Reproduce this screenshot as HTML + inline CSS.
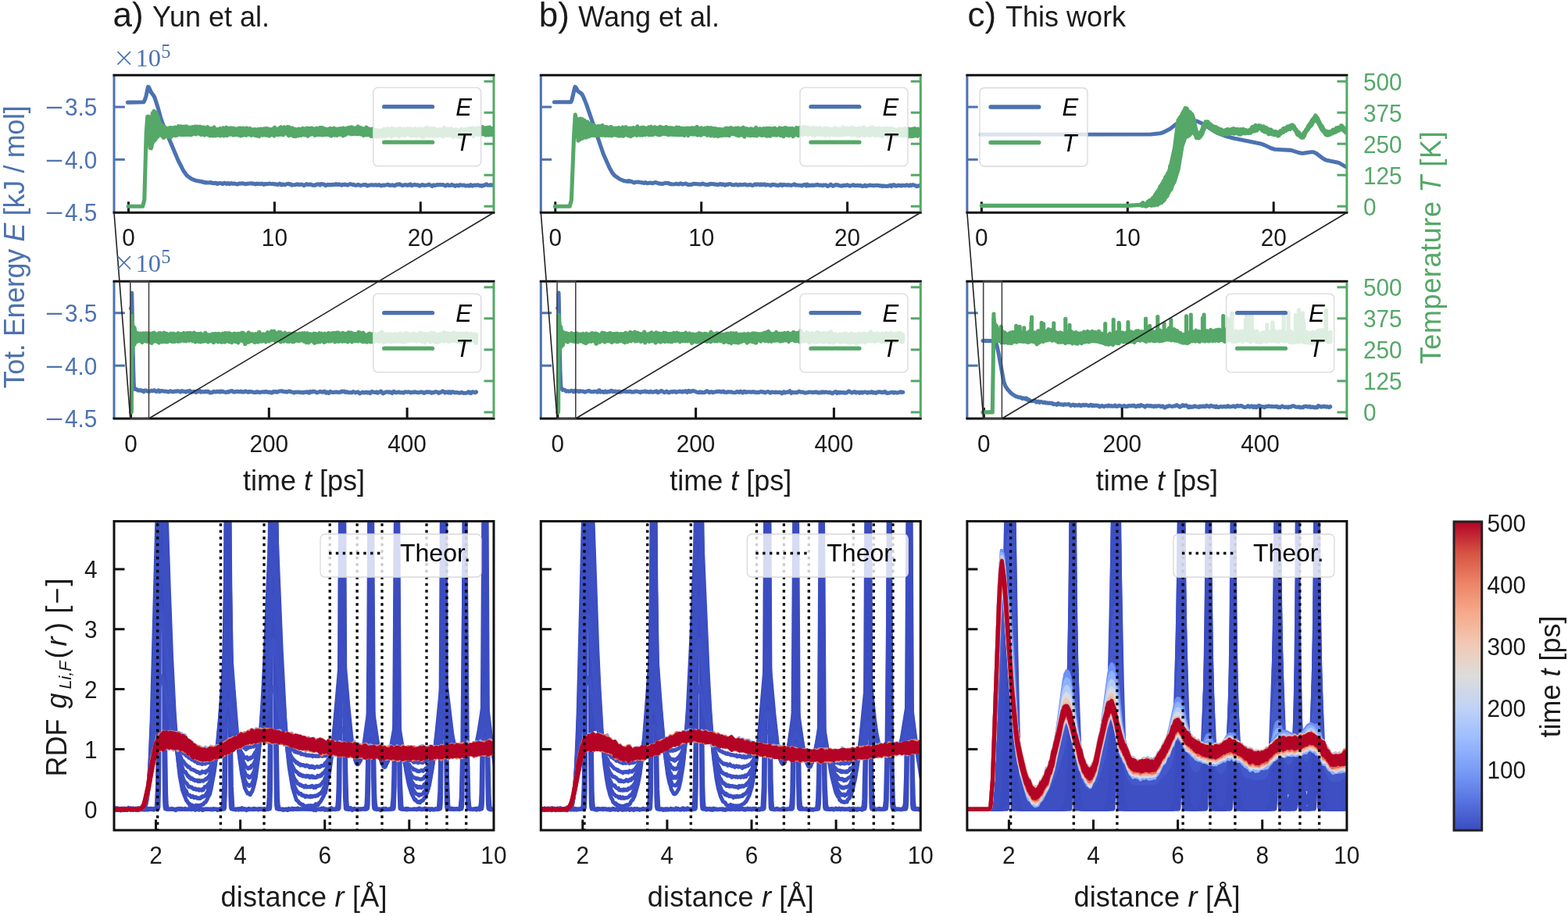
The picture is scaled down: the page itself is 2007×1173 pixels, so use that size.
<!DOCTYPE html><html><head><meta charset="utf-8"><style>html,body{margin:0;padding:0;background:#fff;overflow:hidden}svg{display:block}text{font-family:"Liberation Sans", Arial, sans-serif}</style></head><body>
<svg width="2007" height="1173" viewBox="0 0 2007 1173">
<rect width="100%" height="100%" fill="#fff"/>
<defs>
<clipPath id="cp00"><rect x="146" y="96.2" width="486" height="176.1"/></clipPath>
<clipPath id="cp10"><rect x="146" y="360.2" width="486" height="175.8"/></clipPath>
<clipPath id="cp20"><rect x="146" y="667.5" width="486" height="395.6"/></clipPath>
<clipPath id="cp01"><rect x="692.3" y="96.2" width="486" height="176.1"/></clipPath>
<clipPath id="cp11"><rect x="692.3" y="360.2" width="486" height="175.8"/></clipPath>
<clipPath id="cp21"><rect x="692.3" y="667.5" width="486" height="395.6"/></clipPath>
<clipPath id="cp02"><rect x="1237.9" y="96.2" width="486" height="176.1"/></clipPath>
<clipPath id="cp12"><rect x="1237.9" y="360.2" width="486" height="175.8"/></clipPath>
<clipPath id="cp22"><rect x="1237.9" y="667.5" width="486" height="395.6"/></clipPath>
</defs>
<polyline points="163.4,131.1 183.9,130.7 185.2,128.3 186.9,123.5 189.3,111.7 189.7,111.2 190.4,111.5 193.4,118.1 196.5,122.2 197.9,124.8 202.0,137.3 206.1,152.4 208.5,159.0 228.3,206.0 234.7,218.4 239.2,224.7 244.6,228.8 249.8,230.9 255.9,232.3 258.0,232.4 259.3,233.3 260.7,233.0 262.1,233.9 263.4,233.6 266.5,234.0 269.9,233.6 271.6,234.5 273.0,234.3 274.4,234.8 276.1,234.1 278.1,235.5 279.5,234.7 281.9,234.5 285.3,235.5 287.0,234.2 290.1,235.4 291.8,234.5 293.8,235.7 295.9,234.6 297.2,235.1 300.6,235.1 302.4,235.7 304.4,235.9 305.8,235.0 307.1,235.3 309.9,234.7 313.6,235.6 321.5,234.8 323.2,235.3 324.6,235.1 326.6,236.0 328.3,235.0 329.3,235.4 332.4,235.2 334.1,235.7 335.5,235.1 337.9,236.4 339.6,235.4 341.3,235.8 345.4,235.1 347.1,235.6 348.5,235.4 356.0,236.4 358.0,235.1 360.4,236.9 361.8,235.9 364.8,236.7 366.6,235.8 369.3,235.2 370.7,236.1 372.0,235.8 373.7,237.1 375.1,236.7 377.5,236.8 380.9,235.8 382.9,236.6 384.7,236.1 387.0,236.3 389.1,237.6 392.2,235.6 394.2,236.4 398.0,236.0 399.7,237.2 401.7,237.0 403.1,237.4 404.5,236.5 407.5,235.8 408.2,235.9 409.6,237.0 410.9,235.7 411.6,235.5 413.7,236.1 415.0,236.0 416.7,237.6 419.5,236.3 421.2,236.9 422.6,236.6 424.3,236.9 426.0,236.2 427.7,236.8 430.1,235.6 431.8,236.7 433.8,235.8 437.2,237.2 438.6,236.4 440.3,236.5 441.3,236.0 444.7,237.1 448.5,235.5 451.2,236.7 452.6,236.3 454.0,237.1 456.4,237.3 458.4,236.4 461.5,237.6 465.9,236.5 468.3,236.6 470.0,237.9 471.4,237.2 473.1,237.2 475.5,236.6 477.2,237.1 480.6,236.7 482.7,237.2 485.0,236.6 488.1,237.9 490.8,237.0 492.2,237.4 496.7,236.2 498.4,237.4 501.8,236.9 503.5,237.1 504.8,237.9 508.3,236.0 509.6,236.4 511.3,235.7 512.7,236.7 515.1,237.5 519.5,236.6 520.9,237.4 522.3,236.8 523.6,237.1 525.3,236.0 527.0,237.7 530.5,236.3 532.2,237.0 534.6,236.8 536.6,237.9 537.6,238.0 539.3,237.0 541.0,236.6 543.4,237.5 547.9,236.8 549.2,236.1 553.0,238.4 555.0,236.8 556.8,237.5 558.1,237.3 559.5,236.5 561.5,236.9 562.9,236.5 564.9,236.8 567.0,236.5 570.1,238.1 572.8,236.5 574.5,237.4 576.6,237.5 578.3,236.4 579.6,237.2 581.3,237.4 582.7,238.3 584.8,237.1 587.1,237.9 588.9,236.5 590.6,237.3 594.0,237.1 596.0,238.0 599.4,237.5 600.8,238.2 602.5,236.7 604.6,238.1 606.3,237.3 608.0,237.1 609.3,237.4 611.7,236.8 613.1,237.6 615.1,237.6 616.5,238.3 617.9,237.3 619.6,237.4 622.7,235.9 624.4,237.3 626.4,237.3 627.8,236.7 629.8,237.3 631.9,236.7 634.6,237.9 636.7,237.1 637.7,238.1 638.7,238.4 640.4,236.4 641.1,236.1" fill="none" stroke="#4C72B0" stroke-width="5.1" stroke-linejoin="round" stroke-linecap="round" clip-path="url(#cp00)" />
<polyline points="709.5,130.8 730.7,130.8 732.0,127.9 735.5,112.7 736.1,111.2 737.2,112.0 739.6,116.6 744.3,119.8 746.4,123.4 750.5,133.4 772.3,197.2 780.2,215.0 783.6,221.1 786.7,224.9 793.5,229.5 799.3,231.8 804.1,232.4 804.5,231.5 805.1,231.5 806.5,232.4 808.6,232.4 811.6,234.0 813.7,233.2 817.4,233.0 820.9,233.9 822.2,233.8 824.6,234.5 826.3,233.6 828.4,234.8 832.1,234.0 835.5,234.8 837.3,233.9 839.3,233.6 844.4,235.2 846.1,235.0 847.5,235.6 851.9,234.3 854.0,234.7 855.4,234.3 857.4,235.7 858.4,235.5 860.1,236.0 863.9,235.8 865.6,235.2 867.0,235.8 868.7,235.9 871.1,234.8 873.5,236.1 878.2,235.1 880.6,236.6 885.8,236.1 887.8,235.2 897.4,236.1 899.4,235.0 901.8,236.1 904.2,236.3 905.6,236.8 906.6,236.1 908.0,236.3 909.3,235.3 911.4,235.8 913.1,235.5 915.5,236.3 916.8,236.1 918.2,236.8 922.3,235.5 924.0,236.5 925.7,235.8 928.1,237.2 930.2,236.1 931.5,236.4 933.2,235.6 935.3,235.8 936.7,236.6 939.7,237.0 942.1,236.0 944.5,237.1 946.6,236.4 950.3,236.8 953.7,236.1 955.4,237.0 958.5,236.9 960.2,236.3 963.0,237.5 964.0,237.3 966.4,235.8 968.1,236.6 969.8,235.9 971.2,236.1 972.5,236.9 973.9,235.8 975.9,236.7 978.3,235.9 980.0,237.1 981.4,236.5 985.5,237.1 986.5,237.7 987.9,236.6 989.9,236.2 992.3,236.7 993.4,237.3 994.7,237.1 996.1,237.7 999.5,236.2 1001.2,237.7 1003.3,236.4 1005.3,237.0 1006.7,236.8 1008.1,237.1 1009.4,236.6 1012.2,237.4 1015.6,236.6 1016.6,235.8 1018.3,237.1 1019.7,236.7 1021.0,237.3 1024.1,237.2 1026.5,238.0 1028.2,236.7 1030.3,236.4 1032.0,238.0 1033.3,236.1 1035.0,237.7 1036.7,237.2 1037.8,237.5 1039.1,237.1 1040.8,237.4 1044.9,236.9 1046.3,236.4 1048.0,237.2 1051.1,237.0 1052.8,237.8 1054.2,236.9 1055.5,237.1 1056.9,236.9 1059.0,238.3 1060.0,238.5 1063.4,236.2 1066.1,238.2 1069.9,236.6 1071.2,236.9 1072.3,236.7 1073.6,237.4 1077.7,238.2 1080.1,237.2 1082.5,237.6 1084.6,236.7 1087.3,238.0 1088.3,238.1 1092.4,236.7 1094.1,237.7 1097.6,237.2 1099.9,237.8 1101.3,237.3 1103.4,238.4 1105.4,238.3 1107.1,237.1 1108.8,238.4 1113.6,237.0 1115.0,237.5 1117.0,237.5 1118.4,237.9 1121.1,237.2 1125.2,237.5 1126.2,238.1 1127.6,237.7 1129.3,238.6 1130.7,237.9 1134.1,238.4 1137.5,238.1 1139.2,237.2 1140.9,238.7 1142.6,236.9 1143.3,236.7 1144.7,236.8 1146.1,238.0 1147.8,238.1 1149.5,237.1 1150.8,237.6 1152.6,237.4 1153.9,238.1 1155.3,237.2 1159.0,237.7 1160.7,236.8 1163.5,237.9 1164.8,236.9 1166.6,237.7 1168.3,236.6 1172.0,237.7 1173.7,238.7 1175.8,237.9 1177.8,237.8 1179.9,238.2 1181.6,237.2 1183.6,238.1 1186.0,237.6 1187.4,236.6" fill="none" stroke="#4C72B0" stroke-width="5.1" stroke-linejoin="round" stroke-linecap="round" clip-path="url(#cp01)" />
<polyline points="1255.3,172.2 1473.0,172.0 1485.0,170.7 1489.0,169.5 1497.7,164.9 1505.7,158.7 1512.1,156.0 1517.7,155.0 1528.8,154.5 1532.8,155.5 1540.8,159.2 1554.3,168.1 1558.3,170.4 1570.3,174.8 1579.9,177.3 1613.4,183.9 1617.4,185.3 1626.9,189.8 1631.7,191.3 1652.4,192.4 1662.8,195.6 1666.0,196.2 1669.2,196.1 1678.0,194.7 1681.2,194.8 1685.1,196.6 1693.1,202.7 1697.1,205.0 1713.9,208.6 1721.8,213.1 1733.0,217.8" fill="none" stroke="#4C72B0" stroke-width="5.1" stroke-linejoin="round" stroke-linecap="round" clip-path="url(#cp02)" />
<polyline points="167.4,394.9 168.4,394.7 168.4,394.0 168.7,375.0 170.6,471.5 171.3,492.8 171.8,496.1 172.7,498.4 174.7,498.5 176.6,500.0 177.8,499.7 179.7,500.1 180.3,499.7 181.6,500.5 182.8,500.4 184.0,501.6 185.3,500.1 185.9,500.0 187.2,500.1 188.4,500.9 190.9,501.3 194.0,500.1 195.3,500.6 197.8,499.7 199.7,501.4 200.9,500.9 201.5,501.1 202.8,499.9 203.4,500.0 204.7,501.5 205.9,500.7 207.2,500.5 210.9,501.3 212.8,501.0 214.0,501.6 215.9,501.9 217.8,500.7 219.7,501.5 222.2,501.6 223.4,501.0 225.9,501.1 227.2,500.6 229.7,501.3 230.9,502.0 232.8,500.5 234.0,501.1 236.5,501.4 237.8,502.1 239.7,500.8 241.5,501.4 242.8,500.3 245.3,502.2 249.0,501.2 250.9,502.5 252.1,501.4 254.6,501.2 255.9,500.6 257.1,502.2 259.0,501.5 261.5,501.9 263.4,501.1 264.6,501.8 265.9,501.0 269.0,503.0 272.1,502.4 273.4,501.3 275.3,501.9 277.1,501.7 277.8,501.1 279.6,501.8 280.9,501.1 282.1,502.1 283.4,501.0 284.0,501.5 285.9,501.4 287.1,502.1 289.6,502.5 291.5,501.5 292.8,502.1 294.0,501.0 297.1,500.6 298.4,501.9 299.6,501.7 300.9,501.9 301.5,501.3 303.4,501.5 304.6,501.1 306.5,501.8 308.4,501.0 309.6,502.0 310.9,501.8 312.1,502.1 314.0,500.9 315.9,501.4 317.1,502.2 317.7,502.3 319.0,501.3 320.2,501.9 320.9,501.6 322.7,501.7 324.6,502.5 327.1,502.5 328.4,501.5 329.6,502.3 330.9,501.9 332.7,502.6 335.9,501.7 338.4,502.1 340.2,501.2 342.1,502.2 343.4,502.0 344.6,502.4 345.9,502.1 346.5,502.8 347.7,503.1 348.4,503.0 350.2,501.3 351.5,501.9 352.7,501.3 354.6,502.4 357.1,501.0 359.6,500.7 360.9,501.0 361.5,500.8 362.7,501.5 364.0,501.7 365.8,501.4 367.1,502.1 370.2,500.8 373.3,502.0 375.2,502.2 376.5,503.0 378.3,502.0 380.2,502.3 381.5,502.0 382.1,502.3 384.0,502.0 385.2,502.8 386.5,502.2 388.3,502.9 390.2,502.0 391.5,502.2 393.3,501.8 394.0,502.0 395.2,503.1 395.8,503.1 397.1,501.4 399.0,502.1 400.2,501.1 401.5,501.6 402.7,501.3 405.8,503.0 409.6,501.3 412.7,502.2 414.0,501.9 415.2,501.0 415.8,501.2 417.1,503.1 417.7,503.1 419.0,502.2 420.8,503.4 422.7,501.4 425.2,502.4 427.1,502.5 428.3,502.0 429.6,502.3 430.8,501.9 433.9,502.6 435.2,501.9 436.4,502.3 437.7,501.0 438.3,501.0 438.9,501.4 440.8,501.1 442.1,502.4 442.7,502.4 443.9,501.7 446.4,502.8 448.9,502.5 450.2,502.8 452.1,501.5 455.2,503.0 456.4,502.2 458.3,501.9 460.8,503.9 463.9,502.1 465.8,502.9 467.1,502.5 467.7,502.7 468.9,502.1 470.8,503.1 472.1,502.3 473.9,503.5 475.8,501.4 479.6,502.5 480.8,502.5 482.1,501.9 483.3,503.2 485.8,502.2 487.1,501.0 487.7,501.0 490.2,503.9 491.4,503.1 492.7,502.9 493.3,502.3 495.8,501.7 497.7,502.4 498.9,501.8 502.0,503.5 503.9,501.2 504.5,501.3 505.8,502.6 506.4,502.8 507.7,502.8 510.2,501.9 512.0,502.8 514.5,502.5 516.4,503.1 518.3,501.7 521.4,502.3 522.7,501.7 525.8,502.9 527.7,502.3 529.5,502.4 530.8,501.7 534.5,502.7 536.4,502.6 537.7,502.1 540.8,502.1 542.7,503.4 545.8,501.9 550.8,502.1 552.0,503.3 552.6,503.3 553.9,502.6 555.1,502.6 557.6,501.6 560.1,502.3 561.4,503.5 562.6,502.6 563.3,502.8 565.1,501.9 566.4,500.9 568.3,501.7 569.5,503.0 571.4,501.8 573.9,502.9 575.1,501.6 577.0,503.2 578.3,501.9 580.1,501.7 581.4,502.8 584.5,502.5 588.3,503.3 590.8,502.3 592.6,503.2 596.4,503.4 598.3,502.9 599.5,501.7 600.1,501.7 601.4,503.2 602.6,503.7 604.5,501.7 608.3,502.7 609.5,502.0" fill="none" stroke="#4C72B0" stroke-width="5.1" stroke-linejoin="round" stroke-linecap="round" clip-path="url(#cp10)" />
<polyline points="713.7,394.6 714.7,394.6 715.0,374.9 715.3,382.8 717.0,474.7 717.8,494.4 718.3,496.5 719.7,498.8 720.4,499.3 721.0,499.0 722.9,499.5 724.7,501.1 726.6,500.7 728.5,501.3 731.0,500.3 732.2,500.3 734.1,501.8 736.0,500.2 737.8,501.0 739.1,500.6 741.0,501.5 741.6,501.5 742.8,500.6 746.0,501.4 746.6,501.0 748.5,502.1 753.5,500.4 756.6,501.7 759.7,501.6 760.3,501.2 763.5,501.3 764.7,502.2 765.3,501.9 766.6,499.7 767.2,499.7 768.5,502.0 771.0,501.4 772.2,502.3 772.8,502.4 774.7,501.0 776.0,502.2 776.6,502.3 778.5,501.3 780.3,501.8 782.2,500.3 782.8,500.3 783.5,500.4 784.7,501.7 786.6,501.1 787.8,501.5 788.5,501.2 790.3,502.1 790.9,502.0 792.2,501.2 793.4,502.2 799.7,500.8 800.9,501.6 802.2,501.3 805.3,501.5 806.6,501.1 809.1,502.2 810.3,501.8 811.6,502.0 813.4,501.1 815.9,501.2 817.2,501.8 818.4,501.9 819.7,502.7 820.9,501.6 822.8,501.8 825.9,500.9 827.2,502.0 829.1,501.6 830.9,502.3 832.8,501.1 834.1,502.1 835.9,502.2 837.2,501.6 838.4,501.8 840.3,500.8 841.6,502.4 842.2,502.7 843.4,501.7 844.7,501.5 846.6,500.4 850.3,502.7 853.4,501.0 855.3,502.5 856.5,502.9 858.4,501.6 860.9,502.1 862.2,501.2 864.0,501.2 865.3,502.5 867.2,501.5 868.4,501.7 869.7,501.0 871.5,501.4 872.8,502.2 874.0,501.0 875.3,501.7 877.2,500.7 879.7,502.4 880.9,500.4 881.5,500.3 883.4,501.8 884.7,500.8 885.3,500.7 885.9,501.2 887.2,500.4 893.4,502.6 894.7,502.5 895.9,501.8 897.2,502.6 898.4,502.0 900.3,502.8 902.2,502.4 903.4,501.3 905.3,500.7 907.8,502.6 908.4,502.7 909.7,501.7 910.9,501.6 912.8,502.8 914.6,501.9 918.4,501.2 919.6,501.5 920.9,501.1 922.8,502.1 925.9,501.0 927.1,502.4 928.4,502.0 930.3,502.4 932.1,501.6 934.0,502.1 935.3,501.8 937.8,502.5 941.5,502.7 943.4,501.4 945.9,502.5 947.8,501.1 950.3,502.9 950.9,503.0 952.1,501.4 952.8,501.4 953.4,501.3 954.6,502.4 955.3,502.4 957.1,501.7 958.4,502.1 960.3,501.8 961.5,502.3 963.4,501.6 964.6,502.2 965.9,501.9 967.8,502.8 969.0,502.2 970.9,502.6 974.0,501.5 975.9,502.1 977.7,501.9 979.6,502.9 980.9,502.0 983.4,501.6 985.9,503.2 987.1,502.3 988.4,502.0 990.9,502.5 992.1,502.1 995.9,502.5 997.1,502.2 999.6,502.5 1000.9,503.9 1003.4,501.6 1004.6,503.0 1007.1,502.1 1009.0,502.1 1010.9,500.7 1012.7,503.3 1014.6,502.1 1015.9,502.7 1018.4,502.5 1020.2,502.8 1022.7,501.1 1025.2,502.3 1027.7,501.9 1030.2,503.2 1034.0,502.6 1035.2,502.0 1039.0,502.2 1040.2,502.7 1042.1,502.1 1043.3,502.4 1044.6,501.8 1047.1,502.9 1049.0,503.0 1050.2,502.3 1052.1,502.8 1052.7,501.9 1053.3,501.9 1055.2,502.6 1056.5,501.9 1059.6,502.6 1062.7,502.4 1065.2,503.9 1067.1,502.6 1069.6,501.6 1071.5,503.5 1073.3,502.1 1074.6,503.1 1075.8,502.3 1077.1,502.8 1079.6,502.5 1080.8,503.2 1082.1,502.8 1083.3,503.2 1086.5,500.9 1090.2,503.0 1094.0,501.6 1095.8,502.9 1097.1,502.2 1098.9,502.2 1100.2,503.3 1100.8,503.2 1102.1,502.0 1103.9,503.1 1105.2,502.2 1107.1,501.9 1108.9,502.2 1110.2,503.1 1112.1,502.3 1114.6,502.7 1115.8,501.6 1117.7,503.1 1119.6,502.5 1121.4,503.4 1122.7,502.3 1123.9,501.8 1124.6,502.2 1125.8,501.7 1128.3,502.6 1129.6,502.1 1130.8,502.6 1132.7,501.4 1135.2,503.4 1135.8,503.5 1136.4,503.1 1138.3,503.2 1140.8,502.3 1142.7,502.3 1143.9,503.1 1145.8,502.4 1148.3,503.1 1153.3,501.7 1154.6,502.4 1155.8,502.3" fill="none" stroke="#4C72B0" stroke-width="5.1" stroke-linejoin="round" stroke-linecap="round" clip-path="url(#cp11)" />
<polyline points="1258.0,436.4 1272.0,436.6 1273.3,437.3 1275.2,440.0 1276.4,444.2 1278.4,453.7 1284.7,488.3 1286.6,493.9 1289.8,498.8 1294.9,504.2 1300.6,507.8 1301.9,507.8 1303.2,508.6 1305.1,509.0 1306.4,508.8 1308.3,510.4 1310.2,509.8 1312.1,510.9 1313.3,509.8 1314.0,510.1 1315.3,512.2 1315.9,512.4 1316.5,511.9 1317.2,511.9 1319.1,513.6 1322.9,513.5 1324.2,512.6 1326.7,515.1 1328.6,514.0 1329.3,514.0 1330.5,515.5 1332.4,514.3 1335.6,515.8 1336.9,515.1 1338.8,516.1 1340.7,515.8 1342.0,516.4 1343.3,516.0 1345.2,516.5 1346.4,516.1 1348.3,517.7 1350.2,517.2 1352.8,518.4 1354.1,516.7 1354.7,516.5 1356.0,517.6 1357.9,518.1 1359.2,517.8 1361.1,518.7 1363.0,517.5 1363.6,518.0 1365.5,518.0 1368.1,517.6 1370.6,519.4 1373.8,518.1 1375.7,519.5 1377.0,518.6 1379.5,519.3 1381.4,518.3 1382.7,519.4 1384.0,519.7 1385.9,518.4 1386.5,518.3 1387.8,519.2 1388.4,519.2 1389.7,518.3 1393.5,519.7 1394.8,519.3 1396.1,518.3 1396.7,518.5 1398.0,519.8 1399.2,518.8 1401.1,519.7 1403.1,518.9 1404.3,519.6 1405.6,519.4 1406.2,519.6 1407.5,520.9 1410.1,519.5 1413.2,520.7 1415.1,519.8 1417.0,519.8 1417.7,520.2 1419.0,519.1 1421.5,520.1 1422.8,519.6 1424.0,520.1 1426.0,520.2 1427.2,519.0 1429.1,520.5 1431.0,520.3 1432.3,519.3 1436.1,520.4 1439.3,519.5 1440.6,520.7 1441.9,520.2 1443.1,520.4 1445.0,519.5 1446.3,519.9 1448.9,519.4 1450.1,519.9 1451.4,519.1 1453.9,520.8 1454.6,520.8 1456.5,519.4 1458.4,520.3 1460.3,518.6 1462.2,519.6 1464.1,520.0 1465.4,521.1 1467.9,519.3 1471.1,519.9 1473.0,519.5 1474.3,520.3 1475.6,520.1 1476.9,520.8 1478.1,519.7 1480.7,520.5 1481.9,519.7 1484.5,519.7 1485.8,520.7 1488.3,519.9 1489.6,521.4 1490.8,522.1 1493.4,520.3 1494.7,520.4 1496.6,519.6 1500.4,520.6 1503.6,519.8 1504.2,519.9 1506.1,518.5 1509.9,521.2 1510.6,520.6 1512.5,520.2 1513.8,518.7 1515.7,519.8 1516.9,519.0 1518.2,519.1 1521.4,521.7 1522.7,520.4 1523.9,521.5 1525.2,520.9 1527.1,521.1 1529.0,519.9 1530.9,520.8 1532.2,520.7 1534.1,521.4 1534.7,521.4 1536.0,520.1 1537.3,520.9 1539.2,520.0 1540.5,520.7 1541.7,520.1 1543.0,520.8 1544.3,519.4 1548.1,520.9 1550.0,519.3 1553.2,520.6 1554.5,520.3 1555.7,521.4 1557.0,520.2 1558.3,521.4 1559.6,521.5 1562.1,520.6 1564.6,521.1 1567.2,520.5 1569.1,521.1 1571.6,519.6 1572.9,520.8 1573.6,520.9 1577.4,520.5 1578.6,519.9 1579.9,520.2 1581.2,521.1 1583.7,519.3 1585.6,520.2 1588.8,519.6 1592.0,521.2 1593.3,521.4 1595.8,520.9 1597.1,519.8 1597.7,519.8 1599.6,521.2 1602.2,519.9 1604.1,521.7 1606.0,520.1 1606.6,520.3 1607.9,521.8 1608.5,521.6 1609.8,520.1 1611.7,519.3 1613.6,520.8 1614.3,520.5 1616.8,520.7 1618.1,521.7 1618.7,521.8 1620.0,520.5 1622.5,520.4 1623.8,519.8 1626.4,520.7 1627.0,520.4 1632.7,520.7 1634.0,520.3 1635.3,521.4 1637.2,521.0 1638.4,521.8 1641.0,520.1 1644.2,521.4 1647.4,521.0 1648.6,521.8 1649.9,520.9 1651.8,521.3 1653.7,520.0 1655.6,519.7 1658.8,521.2 1660.7,521.3 1662.6,520.9 1664.5,521.9 1665.2,521.5 1667.7,521.7 1669.0,520.6 1672.2,520.2 1674.1,521.1 1674.7,521.2 1676.0,520.4 1676.6,520.5 1677.9,521.6 1680.4,521.1 1682.3,522.0 1684.3,521.5 1685.5,521.9 1686.2,521.6 1687.4,519.5 1691.2,521.1 1692.5,520.6 1695.7,520.4 1697.6,521.1 1698.9,520.5 1701.4,521.6 1702.7,520.8" fill="none" stroke="#4C72B0" stroke-width="5.1" stroke-linejoin="round" stroke-linecap="round" clip-path="url(#cp12)" />
<line x1="164.5" y1="272.3" x2="164.5" y2="258.3" stroke="#111111" stroke-width="3.0" />
<line x1="351.4" y1="272.3" x2="351.4" y2="258.3" stroke="#111111" stroke-width="3.0" />
<line x1="538.3" y1="272.3" x2="538.3" y2="258.3" stroke="#111111" stroke-width="3.0" />
<line x1="146" y1="137" x2="159.8" y2="137" stroke="#4C72B0" stroke-width="3.0" />
<line x1="146" y1="204.3" x2="159.8" y2="204.3" stroke="#4C72B0" stroke-width="3.0" />
<line x1="146" y1="96.2" x2="146" y2="272.3" stroke="#4C72B0" stroke-width="3.0" />
<line x1="144.5" y1="96.2" x2="633.5" y2="96.2" stroke="#111111" stroke-width="3.0" />
<line x1="144.5" y1="272.3" x2="633.5" y2="272.3" stroke="#111111" stroke-width="3.0" />
<line x1="167.5" y1="536" x2="167.5" y2="522" stroke="#111111" stroke-width="3.0" />
<line x1="344.3" y1="536" x2="344.3" y2="522" stroke="#111111" stroke-width="3.0" />
<line x1="521.1" y1="536" x2="521.1" y2="522" stroke="#111111" stroke-width="3.0" />
<line x1="146" y1="400.8" x2="159.8" y2="400.8" stroke="#4C72B0" stroke-width="3.0" />
<line x1="146" y1="468.2" x2="159.8" y2="468.2" stroke="#4C72B0" stroke-width="3.0" />
<line x1="146" y1="360.2" x2="146" y2="536" stroke="#4C72B0" stroke-width="3.0" />
<line x1="144.5" y1="360.2" x2="633.5" y2="360.2" stroke="#111111" stroke-width="3.0" />
<line x1="144.5" y1="536" x2="633.5" y2="536" stroke="#111111" stroke-width="3.0" />
<line x1="710.8" y1="272.3" x2="710.8" y2="258.3" stroke="#111111" stroke-width="3.0" />
<line x1="897.7" y1="272.3" x2="897.7" y2="258.3" stroke="#111111" stroke-width="3.0" />
<line x1="1084.6" y1="272.3" x2="1084.6" y2="258.3" stroke="#111111" stroke-width="3.0" />
<line x1="692.3" y1="137" x2="706.1" y2="137" stroke="#4C72B0" stroke-width="3.0" />
<line x1="692.3" y1="204.3" x2="706.1" y2="204.3" stroke="#4C72B0" stroke-width="3.0" />
<line x1="692.3" y1="96.2" x2="692.3" y2="272.3" stroke="#4C72B0" stroke-width="3.0" />
<line x1="690.8" y1="96.2" x2="1179.8" y2="96.2" stroke="#111111" stroke-width="3.0" />
<line x1="690.8" y1="272.3" x2="1179.8" y2="272.3" stroke="#111111" stroke-width="3.0" />
<line x1="713.8" y1="536" x2="713.8" y2="522" stroke="#111111" stroke-width="3.0" />
<line x1="890.6" y1="536" x2="890.6" y2="522" stroke="#111111" stroke-width="3.0" />
<line x1="1067.4" y1="536" x2="1067.4" y2="522" stroke="#111111" stroke-width="3.0" />
<line x1="692.3" y1="400.8" x2="706.1" y2="400.8" stroke="#4C72B0" stroke-width="3.0" />
<line x1="692.3" y1="468.2" x2="706.1" y2="468.2" stroke="#4C72B0" stroke-width="3.0" />
<line x1="692.3" y1="360.2" x2="692.3" y2="536" stroke="#4C72B0" stroke-width="3.0" />
<line x1="690.8" y1="360.2" x2="1179.8" y2="360.2" stroke="#111111" stroke-width="3.0" />
<line x1="690.8" y1="536" x2="1179.8" y2="536" stroke="#111111" stroke-width="3.0" />
<line x1="1256.4" y1="272.3" x2="1256.4" y2="258.3" stroke="#111111" stroke-width="3.0" />
<line x1="1443.3" y1="272.3" x2="1443.3" y2="258.3" stroke="#111111" stroke-width="3.0" />
<line x1="1630.2" y1="272.3" x2="1630.2" y2="258.3" stroke="#111111" stroke-width="3.0" />
<line x1="1237.9" y1="137" x2="1251.7" y2="137" stroke="#4C72B0" stroke-width="3.0" />
<line x1="1237.9" y1="204.3" x2="1251.7" y2="204.3" stroke="#4C72B0" stroke-width="3.0" />
<line x1="1237.9" y1="96.2" x2="1237.9" y2="272.3" stroke="#4C72B0" stroke-width="3.0" />
<line x1="1236.4" y1="96.2" x2="1725.4" y2="96.2" stroke="#111111" stroke-width="3.0" />
<line x1="1236.4" y1="272.3" x2="1725.4" y2="272.3" stroke="#111111" stroke-width="3.0" />
<line x1="1259.4" y1="536" x2="1259.4" y2="522" stroke="#111111" stroke-width="3.0" />
<line x1="1436.2" y1="536" x2="1436.2" y2="522" stroke="#111111" stroke-width="3.0" />
<line x1="1613" y1="536" x2="1613" y2="522" stroke="#111111" stroke-width="3.0" />
<line x1="1237.9" y1="400.8" x2="1251.7" y2="400.8" stroke="#4C72B0" stroke-width="3.0" />
<line x1="1237.9" y1="468.2" x2="1251.7" y2="468.2" stroke="#4C72B0" stroke-width="3.0" />
<line x1="1237.9" y1="360.2" x2="1237.9" y2="536" stroke="#4C72B0" stroke-width="3.0" />
<line x1="1236.4" y1="360.2" x2="1725.4" y2="360.2" stroke="#111111" stroke-width="3.0" />
<line x1="1236.4" y1="536" x2="1725.4" y2="536" stroke="#111111" stroke-width="3.0" />
<polyline points="164.1,264.3 182.6,264.3 184.8,256.0 187.2,170.0 188.7,150.7" fill="none" stroke="#55A868" stroke-width="5.1" stroke-linejoin="round" stroke-linecap="round" clip-path="url(#cp00)" />
<polygon points="188.7,152.9 189.2,150.9 189.6,152.1 190.1,149.2 190.6,150.6 191.1,158.3 191.5,156.4 192.0,155.7 192.5,155.4 193.0,153.4 193.4,155.5 193.9,151.5 194.4,149.5 194.9,147.8 195.3,144.7 195.8,144.3 196.3,145.5 196.7,145.0 197.2,142.2 197.7,142.7 198.2,145.2 198.6,144.4 199.1,145.8 199.6,144.3 200.1,144.5 200.5,150.1 201.0,149.2 201.5,148.7 202.0,151.5 202.4,150.6 202.9,153.9 203.4,155.0 203.8,156.1 204.3,157.7 204.8,159.4 205.3,158.9 205.7,159.5 206.2,160.4 206.7,161.3 207.2,161.0 207.6,162.5 208.1,164.9 208.6,161.7 209.1,161.4 209.5,165.2 210.0,164.5 210.0,170.4 209.5,173.1 209.1,170.2 208.6,171.4 208.1,171.2 207.6,173.3 207.2,173.9 206.7,171.5 206.2,169.3 205.7,169.9 205.3,165.8 204.8,165.9 204.3,169.4 203.8,173.0 203.4,173.2 202.9,166.5 202.4,171.2 202.0,175.1 201.5,171.5 201.0,175.2 200.5,175.4 200.1,176.4 199.6,177.0 199.1,178.2 198.6,179.1 198.2,179.5 197.7,178.6 197.2,180.4 196.7,179.1 196.3,180.3 195.8,180.0 195.3,183.1 194.9,179.6 194.4,185.4 193.9,188.2 193.4,189.9 193.0,187.5 192.5,188.4 192.0,189.4 191.5,185.4 191.1,179.3 190.6,166.2 190.1,165.3 189.6,157.7 189.2,153.6 188.7,149.2" fill="#55A868" stroke="#55A868" stroke-width="5.1" stroke-linejoin="round" clip-path="url(#cp00)" />
<polygon points="208.0,163.7 208.9,164.5 209.3,163.6 209.7,165.2 210.6,163.5 211.0,165.1 212.1,163.6 212.5,165.3 212.8,164.5 213.2,165.5 213.4,164.4 214.1,165.8 214.5,165.9 215.1,165.0 215.4,166.0 216.2,164.5 216.7,165.8 217.3,163.5 218.0,165.6 218.6,163.6 219.3,165.3 219.9,164.2 220.6,165.4 221.0,164.4 221.4,164.7 221.6,163.7 222.3,164.9 222.7,164.4 222.9,165.3 223.4,164.6 223.6,165.2 224.5,163.0 225.1,164.7 225.8,164.7 226.2,164.1 226.4,164.7 226.6,164.3 227.1,164.7 227.7,163.5 227.9,164.0 228.4,161.7 229.0,164.2 229.7,164.2 230.1,162.1 230.5,164.2 231.4,164.5 232.0,161.9 233.3,164.3 233.8,163.6 234.4,164.6 235.5,162.1 236.2,164.4 236.8,164.8 237.7,162.7 238.1,164.0 238.5,161.8 239.0,163.1 239.4,162.5 239.6,162.8 240.1,165.0 240.7,163.1 241.1,164.9 242.0,163.2 242.2,164.6 242.7,164.9 243.7,163.4 244.0,164.7 244.4,163.5 245.0,163.9 245.3,164.8 245.5,164.2 245.9,164.3 246.3,162.6 246.6,163.9 247.0,163.9 247.2,164.7 247.4,163.6 247.9,164.7 248.7,164.2 249.6,162.2 250.5,164.4 250.9,163.4 251.3,164.5 252.0,163.8 252.2,162.1 253.3,164.2 254.4,163.0 255.0,164.0 255.4,162.4 255.7,164.2 256.1,162.3 256.5,163.6 257.2,164.0 257.6,162.6 258.0,164.1 258.5,163.9 258.7,164.5 259.3,163.1 260.0,164.5 260.6,164.9 261.3,163.2 261.7,164.1 262.2,163.6 262.6,164.9 262.8,164.4 263.9,164.0 264.3,165.5 265.0,164.9 265.2,165.3 265.8,162.7 266.7,165.7 267.1,165.0 267.4,165.5 268.0,165.8 268.2,165.5 268.4,166.0 268.9,165.1 269.3,165.6 270.0,164.5 270.4,165.5 270.8,164.7 271.7,166.2 272.6,164.8 273.4,166.0 274.1,162.9 274.5,166.5 274.9,165.7 275.2,166.7 275.4,166.4 275.8,166.8 276.2,165.4 276.9,166.8 277.3,166.0 278.0,166.7 278.4,165.7 278.6,166.5 279.5,165.6 279.7,166.4 279.9,166.0 280.4,166.2 280.6,165.5 281.2,166.6 281.7,164.5 282.1,166.6 282.7,164.8 283.0,166.4 283.4,165.1 283.6,166.4 284.7,165.1 284.9,166.2 285.6,163.8 286.0,166.4 286.4,164.3 286.9,166.0 288.2,166.2 288.4,165.5 288.8,166.3 289.7,163.1 290.1,166.1 291.0,164.2 291.2,165.1 291.6,164.1 292.1,165.8 293.6,165.9 294.0,165.4 294.2,166.0 294.7,164.0 295.3,165.3 295.7,164.0 296.4,166.0 297.3,164.7 297.9,166.1 298.6,166.1 299.0,164.2 299.4,165.5 299.9,165.3 300.1,166.5 300.7,165.2 301.2,166.2 301.8,166.0 302.2,166.4 302.7,164.8 302.9,165.6 303.3,165.9 304.0,165.5 304.6,166.7 305.1,165.1 305.5,166.7 306.1,164.2 306.6,165.7 307.0,165.2 307.2,166.2 307.7,164.1 308.1,166.6 308.3,165.8 308.7,166.5 309.0,165.4 309.8,166.6 310.5,164.4 310.9,166.6 311.1,164.7 311.8,166.4 312.2,164.2 312.6,166.1 313.5,166.5 313.7,166.1 313.9,166.6 314.2,165.8 314.6,166.5 315.0,165.5 315.5,166.6 315.9,164.0 316.5,166.3 317.0,165.5 317.2,166.6 317.6,166.1 318.3,166.8 318.7,165.9 319.1,166.7 319.4,165.5 319.6,166.4 320.0,164.6 320.4,166.7 320.7,166.2 321.1,167.1 321.3,166.6 321.5,167.1 321.7,166.5 322.0,167.0 322.4,166.5 323.3,167.2 323.7,165.8 324.8,167.4 325.0,166.6 325.4,167.4 326.5,165.6 327.2,167.4 327.6,166.1 328.0,167.3 328.5,166.6 328.7,167.5 329.3,166.5 329.5,167.0 330.0,166.8 330.4,165.5 330.8,167.3 331.3,166.1 331.7,166.4 332.1,165.6 332.6,167.2 333.2,165.3 333.7,165.9 334.1,165.1 334.7,167.1 335.2,167.2 335.6,165.6 336.0,167.0 336.7,167.1 337.1,165.1 338.6,166.3 339.1,164.8 339.5,166.9 339.9,166.7 340.6,164.6 341.2,166.6 341.9,164.7 342.3,166.2 342.5,165.3 343.2,165.1 343.6,166.9 343.8,166.6 344.1,167.0 344.7,165.3 345.1,167.0 345.4,165.6 346.0,167.0 346.2,166.5 346.9,167.0 347.5,166.3 348.6,166.9 349.5,164.8 350.3,166.7 351.0,164.0 351.6,163.3 352.3,166.5 352.9,165.4 353.4,166.2 353.6,165.3 354.0,165.7 354.5,165.3 354.9,166.3 355.5,166.2 355.8,165.3 356.2,166.2 357.3,165.4 357.5,165.7 357.9,163.8 359.0,164.1 359.4,162.8 360.3,165.3 361.4,164.3 361.8,165.6 362.7,164.8 363.1,165.3 363.8,162.8 365.5,165.8 366.2,164.8 366.6,165.8 367.2,165.4 367.7,165.8 368.3,162.4 369.2,165.9 370.3,163.0 370.9,166.3 371.6,164.9 371.8,166.0 372.9,166.5 373.7,164.7 374.2,166.1 374.6,163.9 375.3,166.9 375.9,165.2 376.1,166.8 376.6,165.5 377.0,166.8 377.2,165.7 377.6,167.2 378.1,165.4 378.3,167.0 379.2,166.2 379.8,167.3 380.2,165.9 380.7,166.8 381.8,165.4 382.2,166.7 382.8,165.2 383.3,166.4 383.7,165.8 384.8,167.1 385.0,165.9 385.4,166.0 385.9,165.4 386.3,166.3 387.4,164.3 388.0,166.6 388.7,164.7 388.9,165.8 389.3,165.2 390.2,166.5 390.4,165.6 390.9,166.4 391.7,165.0 391.9,166.3 392.2,164.7 392.4,166.0 392.8,164.1 393.0,165.9 393.9,164.3 394.1,165.5 394.5,164.3 395.0,165.3 395.2,165.0 395.4,166.2 396.3,164.6 396.9,166.1 397.8,165.1 398.2,165.8 398.7,164.2 399.1,166.0 399.5,164.2 400.2,166.0 400.8,164.9 402.6,166.0 403.2,165.0 403.6,166.1 404.7,164.6 405.2,166.1 405.4,164.9 405.8,165.3 406.0,164.2 407.1,166.1 407.5,165.7 408.4,165.6 408.6,166.0 408.8,165.4 409.1,166.2 409.9,163.4 411.0,166.4 411.4,165.9 411.7,166.4 412.1,164.7 412.5,166.0 412.7,163.6 413.4,165.9 414.0,166.0 414.3,166.6 414.7,166.2 415.1,166.4 415.6,165.0 416.4,166.4 416.9,165.1 417.3,166.5 417.7,165.8 417.9,166.7 418.6,165.6 419.0,166.6 419.9,166.4 420.1,165.6 421.0,166.6 421.6,164.9 422.3,165.3 422.9,164.5 424.0,166.5 424.4,165.0 425.1,166.4 425.5,166.0 426.4,166.6 427.3,164.2 428.3,166.5 429.2,164.8 429.9,166.7 430.1,165.3 430.7,166.6 431.2,165.6 431.6,166.4 432.2,165.2 432.7,166.1 433.1,165.8 433.3,166.4 433.5,165.4 434.4,166.6 435.1,165.9 435.3,164.6 435.9,166.5 436.4,165.2 436.6,165.9 437.0,165.3 437.4,165.9 437.7,164.9 438.3,166.2 438.7,164.7 439.4,165.8 439.8,163.9 440.3,166.2 442.2,164.9 442.4,165.6 443.1,165.7 443.7,164.3 444.4,165.6 445.0,164.1 445.2,165.3 445.7,163.7 446.1,165.3 446.5,164.3 447.4,164.9 447.8,164.0 448.3,164.4 448.5,163.2 448.9,163.6 449.1,163.0 450.0,165.1 450.4,162.9 451.3,163.8 451.5,163.5 451.7,164.7 452.2,163.8 452.8,165.1 453.0,164.1 453.7,164.1 455.0,165.1 455.4,164.4 455.9,165.1 456.5,163.7 457.4,165.3 458.2,162.0 459.3,164.8 459.8,164.9 460.2,163.5 460.4,163.8 460.6,165.4 461.3,163.4 461.9,165.7 463.0,165.4 463.7,165.9 464.5,164.8 465.4,166.0 466.3,166.1 466.7,166.0 467.1,164.7 467.6,166.3 467.8,165.2 468.2,166.4 468.9,163.1 470.4,166.1 470.8,165.6 471.0,166.4 471.7,166.8 472.1,164.9 472.5,166.6 472.8,166.9 473.2,165.9 473.4,167.2 474.1,165.3 475.1,167.3 476.2,165.5 476.9,167.5 477.3,164.8 478.0,167.8 478.4,167.1 479.0,167.9 479.7,166.1 480.6,167.9 481.0,167.7 481.2,168.1 481.4,167.1 481.9,167.7 482.1,166.6 483.4,168.5 484.2,167.7 484.5,168.2 484.7,167.2 485.5,168.5 486.4,167.5 486.6,168.5 486.8,167.4 487.3,168.0 487.5,167.4 487.9,168.3 488.8,166.8 489.4,167.9 491.0,165.9 491.4,167.3 491.8,165.2 492.7,167.6 494.0,167.1 494.2,167.4 494.6,166.6 494.9,167.1 495.3,165.7 495.7,166.9 496.2,164.7 496.6,166.9 497.0,165.2 497.7,166.9 498.1,165.3 498.5,167.0 499.4,165.4 499.6,166.1 500.1,165.1 500.9,167.0 501.6,166.5 502.0,164.2 502.4,165.8 502.7,164.9 502.9,167.0 503.1,165.9 503.5,167.0 504.2,165.4 504.4,166.4 504.8,165.3 505.3,166.9 505.7,165.7 506.1,166.9 507.0,165.7 507.2,166.8 507.6,166.0 507.9,166.9 508.5,165.0 509.4,166.9 509.8,166.2 510.0,167.0 510.2,166.1 511.1,166.8 512.0,164.3 512.6,167.0 512.8,166.5 513.1,166.9 513.3,166.4 513.7,166.8 513.9,165.9 514.4,166.4 514.6,165.8 515.4,166.6 515.7,165.8 516.3,166.7 516.7,165.1 517.4,166.8 518.0,166.0 518.5,166.6 518.9,165.7 519.8,166.6 520.2,165.6 520.6,166.1 520.9,165.0 521.3,165.9 521.7,165.5 521.9,165.9 522.4,164.9 523.0,166.7 523.7,165.5 524.1,166.1 524.8,165.9 525.0,166.6 525.8,164.9 526.7,166.6 526.9,165.5 527.4,166.4 527.6,165.9 528.0,166.6 528.4,165.6 528.9,166.8 529.1,165.9 529.5,166.6 529.7,165.8 530.4,166.9 530.8,165.5 531.3,166.4 531.7,164.7 532.6,166.9 533.4,165.6 533.9,167.1 534.1,165.9 534.7,167.1 535.6,165.3 536.5,167.2 536.9,165.6 537.3,167.1 537.8,166.6 538.4,166.8 538.8,164.9 539.9,167.2 540.4,166.2 540.6,167.0 540.8,165.7 541.2,167.1 541.6,166.4 541.9,166.9 542.3,166.4 542.5,166.9 543.2,166.3 543.6,164.8 544.0,166.4 544.5,164.1 545.1,166.3 545.8,166.9 546.4,166.1 547.1,163.5 547.5,166.6 547.9,165.8 548.6,166.8 549.0,165.6 549.4,166.8 550.1,166.5 550.5,167.0 551.2,165.4 551.8,167.0 552.3,164.4 552.7,166.7 553.1,165.5 553.6,166.5 553.8,165.0 554.4,167.1 555.5,164.4 555.9,166.6 556.4,164.9 557.0,167.2 557.9,166.9 558.3,165.6 559.4,167.3 559.8,166.5 560.5,167.3 560.7,166.7 560.9,167.2 561.4,166.3 561.6,167.4 561.8,166.0 562.2,166.8 563.1,165.4 563.5,167.0 565.0,166.3 565.7,167.2 566.1,165.9 566.6,166.6 567.0,166.2 567.2,166.5 567.6,164.6 568.1,166.1 568.5,163.5 569.4,166.1 569.8,165.2 570.5,166.6 570.7,165.4 571.3,166.9 571.8,166.1 572.2,166.8 572.6,166.5 573.3,165.1 574.6,166.3 575.0,165.3 575.2,166.0 575.7,165.6 576.3,166.8 577.0,165.2 577.4,166.2 577.8,164.9 578.3,166.4 578.7,166.3 579.1,167.2 579.8,166.9 581.1,167.2 581.3,166.5 582.8,167.5 583.5,165.7 584.3,167.7 584.5,167.0 585.0,167.3 585.2,166.2 585.8,167.6 586.5,167.9 586.7,167.2 586.9,167.9 587.6,168.0 588.9,166.2 590.0,167.5 590.4,165.2 590.8,167.4 591.3,167.1 591.5,167.5 592.1,166.2 592.6,167.0 592.8,166.4 593.0,167.1 593.4,166.0 593.6,167.2 594.1,166.3 594.5,167.0 594.9,165.6 595.4,166.4 595.6,165.9 595.8,166.4 596.5,166.4 596.9,165.5 597.3,166.4 597.8,165.7 598.6,166.1 598.8,165.6 599.1,166.2 599.3,164.8 599.7,166.1 600.4,165.0 601.0,166.0 601.4,165.2 601.9,165.7 602.5,165.4 603.0,164.5 603.4,165.7 603.8,165.3 604.0,165.7 604.5,163.9 604.7,165.5 605.1,164.9 605.6,166.0 605.8,165.0 606.2,165.9 606.6,164.3 607.5,165.8 608.2,164.9 608.4,166.1 608.6,165.4 608.8,166.1 609.0,165.3 609.2,165.9 610.1,166.0 610.3,165.5 610.5,166.1 611.0,164.1 611.6,165.9 612.1,165.9 612.7,163.8 613.6,165.3 614.0,165.0 614.4,165.8 614.7,165.4 614.9,165.8 615.3,164.4 616.2,165.3 616.6,164.6 617.0,165.7 617.7,162.6 618.1,165.0 618.8,165.5 619.2,164.5 619.6,165.4 620.1,164.1 620.7,165.5 621.8,164.0 622.0,165.5 622.2,164.3 622.5,165.5 622.7,164.6 622.9,165.4 623.8,163.5 624.2,165.4 624.4,164.9 624.6,165.5 625.1,164.3 625.3,165.4 625.5,165.1 626.1,165.3 626.8,162.9 627.4,165.4 627.7,164.7 628.3,164.7 629.2,166.1 629.8,165.1 630.5,166.4 630.9,166.4 631.6,164.2 632.0,166.1 632.2,164.9 632.6,166.7 633.9,165.9 634.4,166.4 635.2,163.9 635.9,166.7 637.0,164.6 638.1,167.0 638.3,165.8 638.5,165.5 638.7,166.2 639.1,164.7 639.6,166.6 639.8,166.1 640.0,166.7 640.4,165.9 640.7,166.6 641.1,164.6 641.1,171.4 640.4,172.0 639.8,173.9 639.1,171.7 638.5,173.1 638.1,171.9 637.6,173.4 637.2,171.7 636.5,173.5 636.1,171.6 635.7,174.6 635.2,171.8 634.8,171.6 634.2,171.3 633.3,171.8 633.1,172.6 632.6,171.5 632.0,171.2 631.3,172.0 630.7,170.9 630.0,172.3 629.4,171.2 629.0,172.4 628.5,170.9 628.1,172.5 627.4,170.5 626.8,171.5 626.6,170.5 626.4,171.6 625.9,170.3 625.1,172.9 624.6,170.5 624.4,171.5 624.0,170.1 623.5,172.2 622.5,170.1 621.8,173.2 621.4,169.9 620.7,172.2 619.9,170.0 619.6,170.6 619.2,170.0 619.0,170.7 618.6,170.1 618.1,170.6 617.9,170.1 617.5,171.9 616.2,170.3 615.7,171.4 615.3,170.6 615.1,171.6 614.7,170.9 614.2,172.4 613.4,171.0 612.7,172.6 612.3,170.5 611.4,172.9 610.5,170.7 609.7,170.7 609.5,171.6 609.0,170.7 608.4,170.5 607.9,171.6 607.5,170.6 607.1,171.9 606.6,170.6 606.0,174.5 605.6,171.0 604.0,170.4 603.6,172.8 603.2,171.2 602.5,172.5 602.1,171.3 601.7,171.8 601.4,170.6 601.2,171.4 600.8,170.5 600.4,171.6 599.5,170.6 599.1,172.2 598.6,170.8 598.4,171.7 598.2,171.1 598.0,172.0 597.5,171.6 597.3,172.4 596.9,171.6 596.7,172.1 596.0,171.5 595.8,171.9 595.4,171.7 594.9,174.0 594.5,171.6 594.1,173.1 593.4,172.1 592.6,172.0 591.9,174.2 591.7,172.5 590.4,175.6 590.0,172.5 589.3,174.9 588.7,172.9 588.0,174.2 587.1,173.0 586.7,175.4 586.3,173.6 585.8,174.3 585.6,172.5 585.4,173.3 584.8,172.4 584.3,173.8 584.1,173.2 583.7,173.8 583.2,172.3 583.0,172.6 582.6,172.1 582.4,173.3 581.5,173.4 580.9,171.9 580.2,175.3 579.8,171.9 579.1,173.2 578.7,172.5 578.0,172.6 577.8,171.8 577.4,173.0 577.2,171.5 576.5,173.7 575.9,171.4 575.4,172.9 574.8,171.7 574.4,172.8 573.7,171.8 573.1,171.6 572.4,173.4 572.0,171.7 571.8,172.9 571.1,172.3 570.2,173.4 569.4,171.5 568.5,172.8 568.3,171.7 568.1,172.3 567.6,171.8 567.2,174.9 565.9,172.0 565.0,174.1 564.6,172.0 564.2,171.9 563.7,171.8 563.5,173.0 562.9,171.9 562.4,171.8 562.0,172.8 561.6,172.3 560.9,174.1 560.1,173.3 559.8,172.2 559.4,173.0 559.0,172.2 558.5,173.8 557.9,173.0 557.2,174.5 556.8,172.0 556.6,172.7 556.2,172.0 555.7,173.2 555.5,171.8 555.3,173.9 554.9,171.9 554.2,173.1 553.8,172.2 553.3,173.8 552.9,171.7 552.5,173.7 551.6,171.6 551.2,172.0 550.7,171.6 550.3,173.8 549.7,172.0 548.6,173.9 547.9,171.8 547.7,172.0 547.5,171.6 546.2,173.1 545.1,171.9 544.5,173.4 544.0,172.2 543.4,172.3 542.5,173.3 542.1,175.7 541.4,171.7 540.8,173.3 540.1,171.8 539.5,175.0 538.4,171.8 538.0,172.7 537.5,171.7 536.9,171.9 536.5,172.8 535.8,171.6 535.4,171.7 534.7,173.0 534.3,171.6 533.6,174.2 532.8,171.6 532.6,172.1 532.3,171.5 531.9,171.6 531.3,173.9 531.0,172.0 530.6,172.8 530.2,171.3 529.7,171.4 529.3,173.2 528.9,172.8 528.7,173.3 527.8,171.5 527.1,171.2 526.3,173.9 525.8,171.9 525.2,171.1 524.5,173.0 523.9,171.1 522.8,172.3 522.4,171.4 522.2,172.1 521.7,171.5 521.3,172.2 519.8,171.2 518.3,173.7 517.6,171.4 517.2,173.0 516.7,171.8 516.3,172.5 516.1,171.8 515.9,173.3 515.4,172.5 515.0,172.6 514.8,171.6 514.4,172.8 513.5,171.5 512.6,173.3 512.0,172.7 511.8,173.3 511.3,171.5 510.9,174.6 510.2,171.6 510.0,172.8 509.6,172.2 509.2,173.6 508.5,171.5 507.9,171.6 507.4,172.3 507.2,171.7 507.0,172.4 505.9,171.4 505.5,173.3 504.8,171.8 504.6,172.5 504.0,171.6 503.5,173.0 503.1,172.0 502.9,172.8 502.7,171.8 502.0,171.7 501.8,172.3 501.4,172.0 500.9,174.9 500.3,172.0 500.1,172.5 499.2,171.7 498.5,172.0 498.3,173.3 497.2,172.0 496.6,171.9 496.2,173.3 495.5,172.4 495.3,172.7 494.9,172.0 494.4,172.1 493.3,174.9 492.7,173.3 492.3,173.9 492.0,172.8 491.8,173.1 491.4,172.6 491.0,173.5 490.7,172.5 490.3,173.6 489.9,172.8 489.2,174.5 488.6,172.8 487.9,173.6 487.1,173.0 486.8,173.8 486.6,173.2 486.2,173.8 485.8,173.1 485.3,174.2 484.2,173.3 484.0,174.8 483.4,173.9 482.9,175.0 482.1,172.9 481.6,174.4 481.2,173.1 480.8,173.4 480.6,172.8 480.1,174.7 479.7,173.2 479.5,174.3 479.0,172.9 478.6,173.6 478.2,172.6 477.7,174.5 477.3,173.0 476.7,172.8 476.4,173.5 476.2,172.5 475.8,174.4 475.4,172.5 474.9,174.3 474.3,171.8 473.8,172.9 473.2,171.6 472.3,172.5 471.9,171.4 471.2,172.5 470.8,171.2 470.4,172.6 469.3,171.1 468.9,172.9 468.2,171.2 468.0,171.6 467.6,171.0 467.1,171.6 466.9,170.9 465.4,173.6 464.5,171.1 463.9,170.9 463.7,172.4 463.0,170.8 462.4,172.2 461.7,170.5 461.3,171.1 460.8,170.8 460.6,171.2 460.2,170.0 459.8,171.3 459.3,170.6 459.1,171.6 458.5,170.3 458.0,170.6 457.2,169.8 456.7,171.1 456.5,170.1 456.1,171.8 455.4,169.8 454.8,170.8 454.6,169.8 452.8,170.5 452.6,169.6 452.0,171.7 451.3,169.7 451.1,170.2 450.7,169.7 449.8,169.9 449.4,171.8 449.1,170.0 448.5,171.0 448.1,170.3 447.6,171.0 447.4,169.8 447.2,170.9 446.8,170.2 446.3,170.7 445.7,170.1 445.5,171.1 445.0,170.2 444.6,170.8 443.7,170.3 443.3,171.0 442.9,170.6 442.0,172.7 441.6,171.3 441.1,172.6 440.0,173.3 439.6,171.7 439.0,173.8 438.5,171.3 437.7,172.6 437.2,171.0 436.1,172.3 435.5,171.4 434.8,172.1 434.0,171.3 433.1,171.9 432.9,171.1 432.7,171.8 432.2,171.2 431.4,173.3 430.9,171.6 430.3,173.0 429.4,171.2 428.3,173.2 427.3,171.4 427.0,172.5 426.6,171.4 426.4,172.5 425.3,171.3 424.9,171.9 424.7,171.2 424.2,174.1 422.9,171.2 422.5,173.3 421.8,171.8 421.6,172.2 421.4,171.5 421.0,171.8 420.8,171.3 420.3,171.4 420.1,172.4 419.2,171.4 418.6,171.3 418.2,172.4 417.5,171.3 416.9,172.3 416.0,171.1 415.6,172.5 415.3,171.5 414.9,172.7 414.7,171.6 414.5,171.9 413.8,171.3 413.2,172.6 412.7,171.4 411.7,172.9 410.1,171.0 408.8,172.4 408.4,171.0 408.0,171.3 407.5,170.7 406.9,172.5 405.6,171.0 405.2,171.8 404.9,171.0 404.1,172.7 403.6,170.8 403.0,173.4 402.3,170.5 401.7,171.3 401.3,171.0 401.0,172.0 400.4,170.6 399.5,171.4 399.1,170.6 398.4,170.9 398.2,170.5 397.8,172.0 397.1,171.1 396.7,172.5 396.1,171.9 395.8,170.7 395.2,172.3 395.0,171.5 394.3,171.2 393.9,174.3 393.5,171.2 393.0,171.7 392.8,171.0 392.4,172.7 391.9,171.0 391.7,171.9 391.1,171.0 390.6,172.7 390.2,171.8 390.0,173.0 389.6,171.5 389.1,172.6 388.7,171.4 387.8,172.2 387.6,171.5 387.0,172.3 386.5,171.5 385.9,172.8 385.7,171.8 385.2,173.4 385.0,171.6 384.8,172.7 384.6,171.6 384.4,173.3 383.5,171.8 383.1,173.4 382.8,172.3 382.6,172.8 382.2,171.9 381.5,173.9 381.1,172.6 380.5,173.9 380.0,172.7 379.6,173.3 379.4,171.8 378.9,171.9 378.3,174.6 378.1,172.4 377.6,174.0 377.2,172.2 376.8,174.3 376.3,171.9 375.9,171.7 375.5,174.4 374.4,171.6 373.7,173.1 373.3,171.5 373.1,172.0 372.7,171.4 372.2,171.7 372.0,173.0 371.6,172.5 371.1,172.6 370.7,171.6 370.3,173.1 369.8,171.2 369.4,173.8 368.1,171.0 367.9,171.8 367.5,171.0 366.8,171.2 366.6,170.6 365.7,171.0 365.3,170.4 363.1,170.7 362.5,172.9 361.8,170.8 361.4,171.6 361.0,170.4 360.7,171.6 360.3,171.5 360.1,172.2 359.7,170.6 358.1,171.0 357.7,172.5 357.3,170.7 356.8,172.5 356.6,171.4 355.8,171.6 355.5,170.9 354.9,172.7 354.5,171.2 354.2,171.8 354.0,171.4 353.4,171.9 352.9,171.4 352.5,172.4 352.1,172.0 351.6,172.8 351.4,172.0 350.8,174.0 349.9,171.4 349.5,172.7 349.0,171.4 348.6,172.3 348.2,171.5 347.5,171.5 347.1,172.4 346.4,171.5 346.0,172.6 345.4,171.6 344.9,173.9 344.7,173.3 344.3,174.0 343.0,171.6 342.5,172.1 342.3,171.7 342.1,172.2 341.7,171.6 341.0,173.1 339.9,171.5 339.1,172.7 338.9,172.0 338.4,172.7 338.2,171.7 337.8,172.5 337.1,171.6 336.3,173.0 336.0,172.6 335.6,173.1 335.4,171.8 334.5,172.4 334.1,171.7 332.8,172.6 332.4,173.7 331.9,172.1 331.5,174.6 331.1,172.4 330.4,172.1 330.0,173.8 329.5,172.2 328.9,174.0 328.2,172.2 327.4,173.0 326.7,172.1 326.1,173.3 325.4,172.2 324.8,172.7 324.3,172.1 323.3,172.0 322.8,172.6 322.6,172.0 321.7,173.2 321.5,171.8 321.3,172.6 320.9,171.9 320.4,172.7 319.8,171.6 319.4,172.3 319.1,171.7 318.7,172.4 318.5,172.0 317.4,171.5 317.0,171.8 316.1,171.3 315.7,172.5 315.5,171.5 315.0,173.4 314.4,171.3 313.3,171.6 312.4,172.7 311.8,171.4 311.1,171.5 310.9,172.3 310.3,171.3 309.8,173.4 309.4,171.5 308.3,171.4 307.7,174.0 307.2,171.8 306.8,172.0 306.4,171.4 305.9,171.5 305.5,172.6 305.1,171.8 304.6,172.9 304.2,171.5 303.8,172.1 303.5,171.3 301.4,172.7 300.3,171.2 299.2,171.6 298.8,171.1 298.3,173.1 297.5,171.1 297.0,171.6 296.4,170.9 295.5,171.0 294.9,172.0 294.2,170.9 293.8,172.2 293.4,170.9 292.7,172.0 292.3,170.9 290.8,173.3 290.1,171.5 289.7,173.6 289.2,171.1 289.0,171.6 288.8,171.1 287.9,172.7 287.5,171.6 287.3,172.6 287.1,171.9 286.4,173.9 286.0,171.9 285.6,172.5 285.1,171.4 283.8,172.9 283.6,171.9 283.4,172.6 283.0,171.7 282.5,172.8 282.1,172.4 281.9,173.9 281.4,172.5 280.8,173.0 280.1,172.4 278.8,173.2 278.6,172.3 278.2,172.2 277.8,173.2 277.3,171.8 276.9,172.7 276.5,172.3 276.0,173.7 275.8,172.5 275.2,171.9 274.5,173.5 273.9,172.4 273.4,173.6 272.3,171.8 271.3,173.8 270.8,171.7 269.3,172.3 268.9,171.6 268.4,173.8 267.6,171.4 267.1,172.6 266.5,171.4 266.1,172.6 265.6,171.1 265.2,171.0 264.8,171.6 264.5,171.2 264.3,171.9 264.1,170.7 263.9,171.8 263.5,171.1 263.0,171.4 262.2,170.8 261.5,173.1 260.9,170.2 260.2,171.5 259.6,170.2 258.7,171.4 258.3,169.9 258.0,170.9 257.6,170.0 257.4,170.4 257.2,172.6 256.5,170.1 255.7,171.3 255.2,170.0 254.6,171.3 253.9,169.7 253.5,170.6 253.3,170.1 252.4,170.3 252.0,169.9 251.5,171.3 251.1,170.7 250.7,171.9 250.0,170.3 249.6,171.4 249.2,170.5 248.7,171.1 247.9,170.3 246.8,170.8 246.3,171.8 245.5,170.6 244.6,172.7 244.2,172.1 243.1,172.4 242.4,171.0 242.0,172.2 241.8,171.1 241.4,172.4 240.7,170.9 239.6,172.3 239.2,170.9 238.5,171.9 238.1,170.9 237.7,172.4 236.8,171.1 236.4,172.6 235.9,171.0 235.1,172.3 234.6,172.2 234.4,171.2 234.0,172.6 233.8,171.6 232.5,172.4 231.8,171.0 231.2,172.5 230.3,171.2 228.6,171.3 228.1,171.9 227.9,171.2 226.8,173.2 226.6,171.5 226.4,172.6 226.0,171.6 225.3,172.7 225.1,171.7 224.7,173.8 224.2,172.1 223.6,173.4 222.7,172.2 222.5,172.9 221.9,172.4 221.6,173.0 221.2,172.5 221.0,173.4 220.6,172.8 220.3,173.6 219.9,172.8 219.0,175.3 218.2,173.2 217.7,176.1 216.7,174.0 215.8,173.9 215.4,174.9 214.9,173.3 214.7,173.8 214.1,173.5 213.6,174.2 213.4,173.4 212.3,174.5 211.9,173.4 211.5,173.5 211.0,174.8 210.6,174.3 210.2,175.5 209.7,173.4 209.3,176.5 208.6,173.5 208.0,173.5" fill="#55A868" stroke="#55A868" stroke-width="5.1" stroke-linejoin="round" clip-path="url(#cp00)" />
<polyline points="710.4,264.3 729.2,264.3 731.4,256.0 734.8,170.0 736.3,148.3" fill="none" stroke="#55A868" stroke-width="5.1" stroke-linejoin="round" stroke-linecap="round" clip-path="url(#cp01)" />
<polygon points="736.3,152.9 736.8,149.4 737.2,150.6 737.7,152.1 738.2,154.6 738.6,152.9 739.1,153.8 739.5,154.6 740.0,155.3 740.5,153.3 740.9,152.9 741.4,154.9 741.9,153.1 742.3,154.3 742.8,152.0 743.2,152.8 743.7,152.2 744.2,152.3 744.6,152.5 745.1,152.5 745.6,154.7 746.0,156.0 746.5,155.4 746.9,154.7 747.4,153.9 747.9,157.4 748.3,154.4 748.8,156.4 749.3,161.6 749.7,157.2 750.2,157.3 750.6,157.2 751.1,157.9 751.6,160.5 752.0,156.1 752.5,157.9 753.0,159.2 753.4,158.1 753.9,158.2 754.4,159.7 754.8,158.5 755.3,159.1 755.7,161.7 756.2,163.9 756.7,160.0 757.1,160.9 757.6,161.3 758.1,159.8 758.5,162.9 759.0,160.7 759.4,161.0 759.9,160.6 760.4,160.9 760.8,161.3 761.3,161.2 761.8,165.0 762.2,162.9 762.7,162.7 763.1,162.3 763.6,162.9 764.1,162.6 764.5,164.0 765.0,165.3 765.0,169.1 764.5,170.5 764.1,173.4 763.6,170.9 763.1,167.3 762.7,173.2 762.2,172.3 761.8,173.4 761.3,169.1 760.8,169.8 760.4,173.7 759.9,170.7 759.4,172.3 759.0,172.6 758.5,171.0 758.1,171.1 757.6,169.9 757.1,173.4 756.7,171.8 756.2,166.2 755.7,172.9 755.3,173.8 754.8,171.0 754.4,174.4 753.9,172.6 753.4,171.9 753.0,175.0 752.5,172.1 752.0,175.3 751.6,175.2 751.1,167.9 750.6,174.3 750.2,175.3 749.7,176.1 749.3,170.9 748.8,174.7 748.3,170.1 747.9,172.4 747.4,171.3 746.9,173.8 746.5,175.9 746.0,174.9 745.6,177.2 745.1,174.6 744.6,175.8 744.2,175.9 743.7,174.5 743.2,177.8 742.8,176.2 742.3,176.7 741.9,179.0 741.4,178.0 740.9,178.7 740.5,174.9 740.0,180.1 739.5,172.8 739.1,175.0 738.6,172.0 738.2,163.2 737.7,165.0 737.2,158.4 736.8,152.8 736.3,146.7" fill="#55A868" stroke="#55A868" stroke-width="5.1" stroke-linejoin="round" clip-path="url(#cp01)" />
<polygon points="763.0,162.8 763.4,163.2 763.8,162.3 764.1,163.6 764.3,162.2 765.1,163.8 765.8,161.5 766.2,163.4 766.6,161.5 767.2,163.2 767.7,162.9 767.9,163.7 768.1,162.9 768.9,163.8 769.6,163.1 770.0,161.2 770.6,164.0 771.1,160.5 772.6,164.1 773.2,163.3 773.6,164.0 774.0,163.2 774.5,163.6 774.9,162.6 775.1,163.5 775.5,163.2 776.2,164.3 776.8,162.6 777.2,164.3 777.4,164.0 777.6,164.4 777.9,163.5 778.3,164.1 779.1,164.0 779.8,164.8 780.4,163.1 781.5,164.3 781.7,163.3 781.9,164.1 782.3,162.4 783.0,165.1 783.6,164.7 784.2,165.3 784.7,164.9 784.9,165.4 785.3,164.2 786.6,165.5 787.2,164.9 787.4,165.7 787.6,165.2 787.8,165.5 788.3,164.2 788.7,165.4 789.3,164.1 790.4,165.6 790.6,165.1 791.2,165.6 792.1,163.5 792.5,164.8 792.9,164.3 793.1,165.2 794.0,165.5 794.2,164.8 794.6,165.4 795.1,164.7 795.3,165.2 795.7,164.1 796.3,165.3 797.2,163.0 797.4,164.7 797.8,164.2 798.5,165.2 799.5,164.0 799.9,164.0 800.2,164.9 800.6,163.1 800.8,164.0 801.2,162.6 801.9,165.0 802.5,165.2 803.1,164.1 803.5,165.0 804.0,164.6 804.4,165.1 804.6,164.5 805.0,165.3 805.2,164.5 805.7,165.5 806.1,164.6 806.7,165.7 807.6,164.2 808.2,165.8 808.6,165.1 809.1,166.0 809.9,165.6 810.6,163.6 811.0,164.3 811.4,164.0 811.8,166.3 812.3,165.5 812.7,166.2 813.1,165.5 813.3,166.2 813.7,164.6 814.4,165.5 814.8,163.7 815.2,164.4 815.9,161.8 817.1,166.0 818.4,164.8 818.6,165.9 819.3,164.3 819.9,165.2 820.1,164.8 820.5,165.1 820.7,164.4 821.0,165.3 821.4,163.4 821.8,165.5 822.0,164.9 822.2,165.4 822.4,164.6 822.7,165.6 823.1,163.1 823.5,165.5 824.1,163.4 824.4,165.0 825.0,163.6 825.4,164.9 825.8,164.2 826.5,165.3 827.3,164.8 827.5,165.1 828.2,164.4 828.4,165.0 828.6,164.1 829.0,164.9 829.2,164.5 829.7,164.9 830.3,162.9 830.9,165.1 831.4,164.0 831.6,165.1 832.2,163.1 832.6,164.3 833.1,162.3 833.5,165.1 833.9,164.5 834.8,164.9 835.2,164.1 835.6,164.9 836.5,164.5 836.7,165.1 837.3,163.2 837.5,164.9 837.9,162.8 838.4,162.9 838.8,164.7 839.2,163.1 839.9,164.9 840.3,164.3 840.5,164.7 840.9,164.2 841.1,165.3 841.3,164.9 841.6,165.3 842.0,164.5 842.4,165.0 842.8,163.6 843.0,164.6 843.9,162.8 844.5,164.3 844.9,162.4 845.8,165.1 846.0,164.6 846.4,165.3 846.6,165.0 847.1,163.0 847.5,165.4 847.9,164.2 848.8,165.1 849.4,164.8 849.6,163.9 850.3,165.4 850.9,163.5 852.0,165.4 852.6,162.6 853.2,165.3 853.9,163.3 854.7,165.2 855.6,163.6 856.0,165.2 856.8,164.5 857.7,165.5 858.1,163.7 858.7,164.0 859.4,165.4 860.0,163.9 860.7,165.3 861.3,165.8 861.7,165.3 861.9,165.9 862.4,164.6 862.6,165.5 863.0,165.2 863.4,165.8 863.6,165.0 864.1,165.3 864.5,164.0 864.9,165.7 865.8,164.9 866.2,163.1 866.6,166.2 867.5,163.6 867.9,165.6 868.5,163.7 868.9,164.0 869.2,163.4 869.6,166.0 869.8,165.6 870.6,166.4 871.1,165.3 871.3,166.3 871.7,165.6 871.9,164.5 872.5,166.0 873.0,164.2 873.4,166.3 873.8,165.0 874.2,166.2 874.9,165.0 875.1,166.0 875.7,165.3 876.2,166.0 876.8,165.2 877.0,165.8 877.2,164.2 877.6,166.0 877.9,164.8 878.3,165.4 879.1,164.5 879.6,165.7 879.8,164.4 880.0,165.6 880.6,164.1 881.0,165.7 881.7,165.0 882.3,166.0 882.7,164.4 883.8,165.7 884.4,164.3 884.9,165.7 885.3,163.9 886.6,165.8 887.2,163.9 887.6,165.6 888.3,163.8 888.9,165.7 889.5,165.6 889.7,164.6 890.2,165.9 890.4,165.2 890.8,165.6 891.0,164.6 891.7,166.0 892.1,162.2 892.7,165.8 893.1,163.7 893.8,165.6 894.2,164.6 894.6,166.0 895.3,165.4 895.9,166.1 896.5,165.9 897.0,164.8 897.2,166.2 897.6,163.8 898.0,165.3 898.7,164.2 899.5,165.6 900.1,165.8 900.6,165.9 901.0,165.1 901.4,165.7 901.8,164.9 902.1,166.1 902.7,164.2 903.1,166.2 903.5,164.7 904.0,166.2 904.6,164.8 905.2,166.2 905.9,163.4 906.7,165.9 907.6,164.6 908.0,165.9 908.2,165.2 908.6,165.4 909.1,163.8 909.7,165.9 910.6,163.8 911.2,166.4 911.6,164.7 912.7,166.8 913.1,166.2 913.3,166.9 913.7,164.5 914.6,166.2 915.0,165.3 915.2,166.8 915.9,164.6 916.3,166.3 916.9,166.8 917.3,165.2 917.8,166.3 918.2,165.4 918.6,167.0 919.3,165.8 919.5,167.3 920.1,165.3 920.7,166.9 921.2,166.1 921.6,167.1 922.7,165.7 923.3,167.2 923.7,166.1 923.9,167.0 924.4,165.9 924.6,166.9 925.0,167.1 925.2,166.3 925.6,167.1 926.0,166.2 926.9,166.5 927.3,165.6 927.5,166.8 928.2,164.6 928.4,166.2 928.8,166.0 929.0,164.7 929.7,166.1 930.1,164.1 930.5,166.1 931.4,166.0 931.8,164.9 932.2,165.7 932.6,164.6 933.3,165.7 933.7,164.4 934.5,165.9 935.2,165.4 935.6,163.7 936.0,166.1 936.9,165.5 937.1,166.0 937.7,164.4 938.2,166.0 938.8,164.7 939.6,166.0 940.5,165.4 940.7,166.2 940.9,165.8 941.3,166.3 941.8,164.2 942.2,166.4 942.4,165.6 942.8,166.5 943.2,165.9 943.5,166.6 943.9,164.2 944.5,166.2 944.9,163.9 945.8,166.3 946.4,165.3 946.6,166.3 947.1,165.4 947.5,166.4 948.1,166.6 949.0,164.3 949.4,166.1 950.0,166.4 951.5,163.2 952.6,166.6 953.4,165.3 953.9,166.2 954.1,165.2 954.7,166.7 955.6,164.7 956.0,166.4 956.4,165.5 956.6,166.9 956.8,166.2 957.3,166.8 957.5,165.6 958.3,166.9 959.4,166.0 959.8,166.7 960.2,165.1 960.7,165.2 960.9,164.8 961.5,166.7 961.9,166.7 962.4,165.2 962.6,166.3 963.0,165.5 963.8,166.6 964.3,165.8 964.7,166.6 964.9,165.9 965.7,166.8 966.6,165.7 967.0,166.7 967.7,163.3 968.3,166.3 968.7,165.3 969.1,166.5 969.6,165.3 969.8,166.4 970.4,165.3 971.3,166.8 971.9,166.1 972.1,166.4 972.5,164.9 972.8,165.2 973.0,164.8 973.4,166.3 974.5,166.1 975.1,166.6 975.9,165.1 976.6,166.6 977.0,165.7 977.2,166.3 977.4,164.9 977.9,166.3 978.3,164.7 978.9,166.7 979.5,165.5 980.0,166.6 980.8,166.3 981.5,164.4 981.9,166.4 982.3,166.6 982.9,164.7 983.4,165.2 983.8,164.8 984.2,166.3 984.9,165.1 985.3,166.4 985.7,164.4 986.3,166.6 986.8,164.9 987.2,166.6 987.6,164.8 988.5,166.5 988.7,165.3 989.5,166.4 990.0,165.4 990.4,166.5 990.8,164.3 991.2,165.8 991.9,164.1 992.7,166.3 993.1,166.0 993.6,166.7 993.8,165.6 994.2,166.4 994.4,165.8 994.6,166.6 994.8,166.0 995.0,166.7 995.3,166.1 995.7,166.7 996.1,165.3 996.5,166.6 996.7,165.2 997.4,166.4 997.8,163.8 998.4,166.5 998.9,164.3 999.5,166.3 999.7,166.0 1000.1,166.4 1001.0,164.7 1001.4,165.9 1001.6,165.1 1002.3,165.8 1002.7,164.6 1003.1,165.9 1003.5,164.4 1004.8,166.0 1005.2,163.5 1005.7,166.1 1005.9,165.8 1006.1,166.2 1006.9,164.1 1007.6,166.1 1008.0,165.1 1008.4,166.0 1009.3,165.0 1009.5,165.8 1009.9,165.3 1010.1,165.8 1010.5,164.8 1010.8,165.9 1011.2,166.0 1011.6,164.6 1012.0,166.0 1012.5,164.9 1012.7,165.8 1013.1,165.8 1013.5,164.8 1013.9,165.2 1014.2,164.3 1014.4,165.5 1015.2,166.5 1015.4,165.8 1015.9,166.5 1016.7,165.7 1017.3,165.9 1017.8,166.7 1018.2,166.0 1018.8,165.9 1019.3,163.5 1020.5,166.1 1021.6,166.3 1022.0,164.2 1022.4,165.3 1022.9,163.7 1023.5,165.7 1024.1,164.7 1024.6,166.2 1024.8,165.9 1025.2,166.2 1025.4,165.9 1026.0,166.1 1026.5,165.0 1026.9,165.9 1027.3,162.8 1028.0,164.7 1029.0,162.6 1029.4,165.3 1030.1,163.1 1031.4,165.3 1031.6,164.4 1032.0,165.4 1032.4,165.2 1033.1,163.3 1033.7,165.5 1034.1,164.7 1034.3,165.5 1035.0,163.8 1036.0,165.4 1036.7,164.2 1037.1,165.3 1037.5,164.6 1038.1,165.7 1038.6,164.2 1039.2,165.8 1040.1,164.3 1040.7,165.0 1041.1,163.5 1041.8,165.5 1042.2,164.8 1042.4,166.2 1043.0,164.3 1043.9,166.3 1044.7,164.2 1046.0,166.4 1046.8,166.5 1047.3,165.3 1047.7,166.5 1048.1,164.1 1048.5,166.0 1048.8,164.5 1049.2,164.7 1049.6,163.9 1050.2,166.2 1050.7,164.9 1050.9,166.0 1051.3,165.6 1051.5,166.3 1052.6,165.6 1053.2,166.4 1053.4,165.9 1053.6,166.2 1054.3,165.0 1054.7,165.8 1055.6,164.3 1055.8,165.7 1056.2,165.2 1056.6,166.4 1057.3,163.9 1057.9,166.3 1058.5,165.6 1059.0,165.9 1059.4,164.7 1060.2,166.3 1060.9,165.8 1061.1,166.4 1061.9,164.7 1063.0,166.5 1063.2,165.4 1063.6,166.2 1064.5,166.5 1065.3,165.7 1065.7,166.2 1067.0,164.9 1067.4,165.8 1067.7,164.9 1068.1,166.2 1068.5,166.1 1068.9,164.1 1069.1,165.4 1069.6,165.6 1070.0,163.8 1070.4,166.5 1070.6,165.8 1071.1,166.6 1071.9,165.5 1072.3,166.6 1073.0,166.4 1073.8,165.1 1074.2,166.1 1074.9,165.3 1075.7,166.3 1075.9,165.6 1076.1,166.4 1076.4,165.6 1076.6,165.9 1077.0,165.6 1077.4,166.3 1078.9,163.0 1080.0,166.2 1080.6,166.1 1080.8,165.5 1081.5,166.2 1082.1,165.0 1082.5,165.7 1083.2,164.1 1083.6,165.1 1084.4,163.9 1084.9,166.1 1085.7,164.7 1086.1,165.9 1086.3,165.4 1087.2,165.5 1087.4,165.9 1087.8,164.5 1088.0,165.9 1088.5,164.9 1088.7,165.6 1089.1,164.1 1089.3,166.0 1089.7,165.2 1090.4,166.2 1090.8,163.2 1091.4,166.1 1092.3,165.0 1092.5,165.8 1092.7,165.3 1093.3,166.0 1093.8,164.2 1094.6,166.1 1094.8,165.0 1095.3,165.5 1095.7,165.1 1095.9,166.3 1096.1,165.4 1096.7,165.1 1097.0,166.2 1097.4,165.9 1097.6,166.5 1098.0,165.2 1098.2,166.3 1098.7,164.8 1099.1,166.6 1099.7,164.7 1100.1,166.6 1100.8,163.8 1101.4,166.5 1102.5,167.0 1103.3,164.7 1104.2,167.0 1104.6,165.3 1105.0,166.6 1105.4,163.1 1106.1,166.2 1106.9,163.9 1108.0,166.7 1108.6,165.3 1109.1,166.4 1109.3,165.4 1109.9,166.6 1111.0,166.4 1111.2,165.7 1111.6,166.4 1111.8,165.9 1112.2,166.4 1112.7,164.0 1113.1,166.0 1113.7,164.5 1114.2,166.2 1114.6,165.2 1115.0,165.6 1115.2,165.2 1115.6,166.0 1116.3,162.9 1116.9,165.9 1117.3,163.7 1118.0,165.6 1118.4,164.8 1118.8,165.2 1119.0,164.8 1119.5,165.1 1119.7,164.4 1119.9,165.9 1120.1,165.5 1120.3,165.8 1120.7,164.4 1120.9,165.9 1121.2,164.9 1121.6,165.8 1122.4,166.1 1123.1,165.2 1123.7,166.0 1124.3,164.0 1124.8,165.6 1125.4,165.9 1125.8,164.2 1126.5,166.4 1127.7,166.4 1128.2,165.2 1128.6,166.3 1129.2,166.3 1129.6,164.9 1130.1,166.4 1130.5,165.5 1130.9,165.7 1131.1,165.3 1131.8,165.9 1132.2,165.2 1132.4,166.2 1132.6,165.2 1132.8,166.1 1133.0,165.7 1133.9,165.8 1134.3,164.3 1135.4,166.3 1135.8,165.6 1136.4,166.2 1136.9,164.8 1137.5,166.1 1137.9,164.8 1138.6,166.4 1139.2,165.6 1139.6,166.2 1140.1,164.9 1140.7,166.4 1141.3,164.3 1142.2,166.8 1142.6,166.9 1143.0,166.2 1143.4,167.0 1143.7,165.9 1144.1,166.6 1144.3,165.6 1145.1,167.1 1146.2,167.0 1146.6,166.3 1147.5,167.1 1147.7,166.3 1148.5,167.3 1149.8,165.9 1150.2,167.4 1150.9,165.0 1151.7,167.4 1152.4,166.8 1152.6,167.3 1153.4,167.2 1154.1,165.4 1154.5,167.3 1154.7,166.4 1155.1,166.9 1155.8,165.2 1156.6,166.9 1157.2,166.7 1157.5,165.5 1157.9,167.2 1158.3,167.2 1158.9,164.5 1159.6,167.2 1160.6,166.3 1161.1,167.2 1161.5,166.8 1161.7,167.2 1161.9,166.6 1162.1,167.5 1162.8,165.0 1163.0,166.5 1164.0,167.5 1164.3,167.1 1164.7,167.4 1165.7,167.0 1166.4,165.5 1166.8,167.5 1167.0,166.5 1167.4,167.1 1167.7,166.5 1168.3,167.5 1168.7,165.2 1169.3,167.3 1169.6,166.7 1170.6,166.5 1170.8,164.5 1171.5,167.4 1171.7,166.8 1172.3,167.2 1172.7,166.0 1173.2,166.7 1173.4,165.7 1174.0,166.8 1175.1,165.2 1175.7,166.7 1176.1,166.8 1176.4,166.0 1176.6,166.7 1177.4,166.1 1177.6,166.8 1179.1,166.8 1179.8,164.8 1181.0,165.9 1181.2,164.7 1181.5,165.7 1181.9,165.0 1182.7,166.3 1183.1,164.8 1183.8,166.3 1184.2,165.3 1184.4,165.8 1184.8,163.8 1185.3,165.7 1185.7,163.2 1186.1,165.4 1186.3,165.1 1186.8,165.8 1187.4,165.1 1187.4,170.4 1186.8,171.2 1186.1,170.5 1185.5,172.4 1185.1,170.9 1184.6,171.0 1184.4,172.4 1184.0,171.4 1183.4,172.6 1182.7,172.2 1182.3,170.8 1181.7,172.3 1181.2,171.3 1180.0,174.2 1179.3,171.7 1178.9,172.6 1178.1,172.0 1177.6,172.4 1177.4,171.4 1177.0,173.0 1176.8,172.3 1176.4,172.6 1175.7,171.8 1175.5,172.6 1174.9,171.7 1174.2,174.3 1173.4,172.5 1173.2,172.8 1172.7,172.3 1172.3,173.3 1171.9,172.0 1171.7,172.7 1171.5,172.1 1170.8,173.9 1170.4,172.2 1170.0,173.3 1169.3,172.1 1168.5,174.5 1168.1,172.9 1167.9,174.5 1167.4,172.3 1167.2,172.6 1167.0,172.2 1166.8,173.9 1166.6,173.1 1166.2,174.6 1165.3,172.1 1164.9,172.7 1164.7,172.1 1164.0,172.6 1163.4,172.0 1162.8,172.3 1162.3,174.9 1161.5,171.9 1161.3,173.5 1160.9,172.5 1160.2,172.2 1160.0,172.7 1159.8,172.1 1158.9,173.9 1158.5,172.3 1158.1,173.4 1157.9,172.4 1157.7,172.7 1157.5,173.8 1156.6,171.8 1156.4,172.8 1156.0,171.7 1154.9,172.3 1154.7,173.9 1154.3,172.1 1153.6,173.4 1152.4,171.9 1151.7,172.6 1151.3,172.0 1150.7,172.6 1149.6,172.0 1149.2,173.3 1148.8,171.9 1148.1,173.4 1147.7,172.1 1147.3,172.0 1146.8,173.6 1146.0,171.8 1145.6,172.9 1144.9,172.1 1144.5,173.8 1144.1,171.8 1143.9,172.1 1143.7,171.5 1142.8,171.9 1141.7,171.3 1141.1,172.0 1140.5,171.6 1140.1,172.5 1139.8,171.3 1138.8,171.6 1138.6,170.9 1137.9,171.8 1137.5,171.0 1136.9,171.8 1136.7,171.0 1135.8,174.0 1135.4,171.1 1135.2,171.9 1134.7,170.9 1134.1,171.7 1133.7,170.8 1132.8,171.7 1132.0,170.9 1131.3,171.2 1130.9,172.4 1130.5,171.4 1129.6,174.6 1129.0,171.3 1128.6,174.0 1128.2,171.1 1127.9,171.8 1127.5,171.1 1127.1,172.3 1126.7,171.0 1126.0,173.3 1125.6,171.7 1125.2,172.1 1125.0,171.3 1124.8,172.9 1124.3,172.8 1123.9,171.1 1123.3,171.1 1123.1,171.7 1122.9,171.2 1122.4,171.3 1122.0,173.1 1121.4,171.1 1120.9,173.7 1120.3,170.7 1119.9,171.8 1119.5,170.7 1119.2,171.4 1118.6,170.7 1117.8,172.7 1117.3,170.6 1117.1,172.3 1116.5,171.1 1115.6,171.7 1115.2,171.0 1114.6,172.7 1114.4,172.5 1113.9,173.2 1113.3,170.9 1112.2,173.1 1111.8,172.2 1111.2,172.5 1110.8,171.3 1110.3,173.0 1109.9,171.1 1109.3,171.7 1108.6,171.3 1108.0,172.3 1107.6,171.4 1107.1,172.3 1106.5,171.6 1106.1,173.9 1105.7,171.7 1105.2,172.8 1104.6,171.9 1104.2,171.7 1103.7,172.2 1103.3,171.7 1102.7,172.9 1102.3,171.7 1101.6,172.5 1101.2,171.4 1100.1,173.9 1099.7,171.6 1099.5,172.2 1098.9,171.2 1098.0,171.6 1097.8,171.1 1097.6,171.3 1097.2,173.4 1096.3,171.7 1095.9,172.4 1095.7,171.8 1095.3,172.8 1094.8,171.4 1094.2,170.9 1093.6,172.7 1093.1,171.3 1092.3,172.6 1091.6,170.8 1091.2,172.0 1091.0,171.0 1090.6,172.3 1089.7,171.1 1089.3,173.1 1088.9,170.6 1088.0,172.1 1087.4,170.7 1087.2,171.8 1085.5,171.3 1085.3,172.1 1084.9,170.7 1084.4,170.8 1084.0,171.6 1083.8,171.2 1083.6,172.4 1082.9,170.9 1082.5,171.9 1082.1,171.0 1081.7,171.7 1081.5,170.7 1081.2,172.1 1080.2,171.1 1079.8,171.6 1079.1,171.6 1078.7,172.9 1078.3,171.7 1077.2,171.2 1076.4,172.4 1075.7,170.9 1075.1,173.4 1074.4,171.2 1073.4,172.4 1072.5,171.0 1071.3,172.8 1070.8,172.0 1070.4,172.3 1070.2,171.6 1069.6,172.9 1068.9,171.3 1068.5,171.9 1068.3,171.0 1067.9,172.1 1067.7,171.4 1067.2,172.2 1067.0,171.1 1066.6,173.0 1065.7,171.1 1065.3,171.8 1064.9,171.1 1064.7,171.6 1064.5,171.2 1063.4,172.1 1063.0,171.0 1062.6,171.9 1062.1,171.1 1061.7,173.3 1061.1,171.1 1060.4,172.3 1060.0,171.2 1059.8,172.0 1059.6,170.8 1059.4,171.5 1059.0,171.0 1058.1,172.2 1057.7,170.9 1057.0,173.2 1056.2,171.0 1055.6,172.8 1055.3,171.5 1054.5,172.6 1053.6,171.2 1052.6,172.9 1051.7,170.9 1051.1,171.8 1050.7,171.1 1050.5,172.3 1050.0,171.1 1049.6,172.1 1049.0,171.0 1048.8,171.4 1047.9,171.3 1047.7,172.0 1047.3,171.7 1047.1,172.3 1046.2,171.3 1045.8,171.2 1045.2,172.0 1044.7,170.9 1044.1,171.0 1043.7,172.1 1043.0,171.0 1042.6,173.3 1042.2,170.9 1042.0,171.6 1041.5,171.4 1041.3,172.7 1040.9,171.0 1040.3,172.9 1039.6,170.6 1039.0,172.2 1038.4,170.6 1038.1,171.3 1037.3,170.6 1036.7,171.6 1036.4,170.3 1035.2,170.0 1034.5,172.0 1034.1,171.9 1033.9,172.6 1033.3,169.9 1032.8,170.5 1032.6,170.0 1032.2,170.8 1031.8,170.2 1030.9,171.0 1030.5,170.1 1029.9,170.7 1029.7,170.2 1029.2,171.1 1029.0,170.5 1028.8,170.8 1028.4,170.3 1028.2,171.3 1028.0,170.9 1027.7,171.1 1027.5,172.6 1027.1,170.5 1026.3,172.3 1025.8,170.8 1025.0,171.4 1024.6,170.9 1023.9,171.3 1023.7,170.9 1023.3,173.0 1022.6,171.4 1021.8,173.6 1020.9,171.2 1020.5,172.1 1020.3,171.1 1020.1,171.6 1019.9,171.1 1019.5,172.4 1019.0,171.5 1018.6,172.7 1018.2,171.8 1017.8,173.0 1016.9,171.3 1016.7,172.9 1016.3,171.7 1016.1,173.0 1015.4,171.3 1015.0,174.6 1014.4,173.8 1013.7,171.0 1013.1,171.2 1012.9,172.1 1012.2,170.9 1011.8,172.2 1011.4,171.0 1011.0,172.5 1010.1,170.8 1009.7,173.8 1009.1,170.8 1008.6,171.6 1008.2,170.8 1007.8,171.9 1006.9,170.7 1006.3,173.0 1005.7,171.2 1005.0,172.5 1004.6,171.0 1004.0,170.9 1003.5,171.1 1002.9,174.8 1002.3,171.2 1001.8,172.3 1001.4,171.9 1001.2,172.6 1000.8,171.1 1000.4,171.0 999.9,172.0 999.5,171.0 999.1,173.5 998.7,171.0 998.2,172.1 997.8,171.2 997.4,172.6 996.7,171.4 995.9,172.0 995.7,171.2 995.0,172.8 994.4,172.1 994.0,173.1 993.8,171.5 993.3,172.6 993.1,171.2 992.7,172.9 992.1,171.8 991.2,171.5 990.6,172.8 990.2,171.2 989.5,171.9 988.9,171.3 988.5,172.7 987.8,171.3 987.4,171.5 987.2,171.1 986.8,172.0 986.3,172.0 985.9,174.2 985.5,171.8 984.9,174.1 984.4,171.9 984.2,173.1 983.8,171.6 983.4,171.8 983.2,171.1 982.9,171.7 982.3,171.5 981.9,172.1 981.7,171.1 981.2,174.3 980.4,171.2 980.0,171.9 979.8,171.3 979.5,171.7 979.1,171.3 978.7,172.2 978.3,171.8 977.6,173.1 977.2,171.1 977.0,171.7 976.8,171.3 976.4,173.1 975.5,171.5 975.1,173.4 974.5,171.3 974.2,172.0 973.8,171.8 973.6,173.1 972.1,171.4 970.6,171.3 970.0,172.8 969.6,173.0 969.1,172.3 968.7,174.0 968.1,171.4 967.9,172.0 967.4,171.7 967.0,173.0 966.4,172.9 966.0,171.8 965.5,173.4 965.1,173.1 964.7,173.4 964.5,172.2 964.1,172.3 963.8,171.7 963.6,172.3 963.0,171.4 962.4,171.5 961.9,173.3 961.5,171.6 961.1,172.1 960.7,171.5 960.0,173.6 959.4,171.8 959.0,172.0 958.7,171.5 958.5,172.5 958.1,171.5 957.3,173.2 957.0,172.2 956.6,172.9 956.2,171.5 955.6,172.6 955.1,171.4 954.9,172.0 954.5,171.4 954.1,172.1 953.9,171.6 953.4,173.1 953.2,171.8 952.8,175.2 952.4,172.3 952.2,172.0 952.0,172.9 951.5,171.4 951.3,172.5 950.9,171.4 950.5,172.7 949.4,171.5 949.0,171.6 948.6,173.0 948.1,171.8 947.7,172.4 947.3,171.6 946.9,172.6 946.2,171.4 945.8,173.8 945.6,171.8 945.2,173.4 944.9,171.4 944.7,172.2 944.3,171.7 943.9,173.3 943.5,172.5 943.0,173.1 942.6,171.5 942.0,172.8 941.1,171.0 940.1,171.6 939.4,170.8 939.0,171.7 938.6,170.9 938.4,171.6 937.9,170.9 937.7,171.8 937.1,170.8 936.0,170.6 935.8,171.0 935.0,170.7 934.5,171.9 933.9,171.1 933.5,173.7 933.1,171.5 932.6,172.0 932.4,170.9 931.8,171.9 931.4,170.7 930.7,171.8 930.3,170.9 929.7,173.3 929.2,171.4 928.8,173.0 928.2,171.2 927.5,173.0 927.1,171.6 926.7,172.7 926.3,171.8 925.8,172.7 925.4,171.7 925.0,173.4 924.8,172.1 924.4,172.7 924.1,171.9 923.7,172.5 923.3,171.9 922.9,172.0 922.4,173.7 922.0,172.1 921.6,172.8 919.9,172.0 919.0,174.6 918.4,172.0 918.0,174.3 917.6,172.3 917.3,173.0 916.9,172.2 916.7,172.6 915.9,171.7 915.4,172.6 914.8,171.8 914.2,174.2 913.5,171.5 913.3,172.9 912.5,171.5 912.0,172.3 911.6,171.2 911.2,171.2 910.6,172.6 910.1,171.8 909.7,173.9 909.3,171.1 909.1,171.8 908.2,170.9 907.8,172.4 907.2,170.8 906.1,172.3 905.9,171.3 905.2,173.3 903.5,170.8 902.9,170.8 902.5,171.8 901.8,170.7 901.0,171.6 900.4,170.7 898.2,170.8 897.8,172.9 897.4,171.3 897.0,173.1 896.5,170.8 896.1,173.1 895.7,171.0 895.3,172.6 894.6,171.5 894.2,172.1 893.8,170.8 893.4,170.7 892.5,173.0 891.4,171.0 891.0,171.9 890.0,170.7 889.3,171.7 888.9,170.7 888.0,171.0 887.6,171.8 887.2,170.7 886.8,172.2 886.1,170.6 885.3,170.6 884.9,171.5 884.0,170.5 883.8,171.7 883.4,170.5 883.0,170.7 882.1,172.1 881.7,170.7 880.8,173.6 880.2,171.0 879.8,171.3 879.6,170.5 879.1,172.2 878.9,171.0 878.5,172.1 877.9,170.8 877.4,171.6 877.0,170.9 876.4,170.8 875.9,173.6 875.1,170.8 874.7,171.9 874.2,171.2 873.8,172.4 873.4,171.1 873.2,171.8 873.0,171.0 872.8,171.6 872.5,171.3 872.1,172.6 871.7,171.6 871.5,172.6 870.4,171.1 869.8,172.6 869.6,171.4 869.2,172.2 868.9,171.1 868.7,172.1 868.3,171.6 867.7,172.7 866.8,171.1 866.4,172.4 866.0,171.5 865.8,172.4 865.3,170.9 864.9,172.6 864.5,171.0 864.1,172.3 863.6,171.3 863.2,172.5 862.8,171.2 862.4,172.2 861.9,170.8 861.5,171.7 861.3,170.5 860.7,172.4 860.2,172.3 859.8,170.7 858.5,171.1 858.1,170.3 857.7,171.0 857.3,170.7 857.1,172.4 856.4,170.8 856.2,171.1 855.6,170.1 854.9,172.6 854.3,170.3 853.9,171.5 853.4,170.5 853.0,171.4 852.6,170.4 852.4,170.8 852.2,170.2 851.7,170.4 851.3,171.7 850.9,170.7 850.3,171.4 849.2,170.6 848.8,171.1 848.1,170.3 847.7,170.9 847.5,170.2 847.3,171.7 846.9,170.4 846.6,171.0 846.2,170.6 845.8,172.5 844.5,170.2 843.7,173.0 843.0,170.9 842.6,171.5 842.4,170.4 841.8,172.0 840.9,170.3 840.5,172.1 840.1,170.3 839.6,171.5 839.2,170.1 839.0,170.9 838.6,170.4 837.3,170.6 836.9,170.1 836.2,170.7 835.8,172.6 835.2,170.1 834.8,170.7 834.3,170.2 833.3,172.7 832.6,170.3 832.4,170.8 832.2,170.2 831.6,170.4 831.4,171.3 830.9,170.4 830.5,172.8 829.9,170.3 828.8,171.7 827.8,170.3 827.3,171.0 826.7,170.6 826.1,171.0 825.8,172.7 825.4,170.7 824.8,172.0 823.9,171.6 823.7,170.7 823.5,172.1 823.3,172.4 822.7,171.3 822.0,173.1 821.4,172.6 820.7,170.9 820.1,172.5 819.7,172.3 819.3,173.2 818.6,171.2 818.4,171.5 818.0,171.3 817.6,172.2 817.1,171.4 816.7,172.1 815.4,171.7 815.0,173.4 814.4,171.6 813.7,172.5 813.5,171.7 812.5,171.6 812.0,172.3 811.8,171.6 811.6,172.5 811.2,171.8 810.8,172.1 810.6,171.7 810.1,172.3 809.9,171.9 809.5,173.4 808.9,171.4 808.2,172.7 807.8,171.7 807.2,174.7 806.7,171.4 806.1,172.2 805.7,171.6 805.5,172.8 805.0,171.1 803.8,173.6 803.3,171.2 802.7,172.3 802.3,170.9 801.9,172.6 801.2,171.2 800.8,171.6 800.6,171.0 799.9,171.3 799.5,173.2 799.3,171.2 798.9,173.4 798.5,172.7 798.0,174.0 797.4,171.4 796.1,173.8 795.5,171.3 794.6,174.0 793.8,171.4 793.1,172.1 792.9,174.0 792.1,171.7 791.4,173.6 791.0,172.2 790.8,174.0 789.5,171.9 789.3,172.5 788.5,171.9 788.1,172.9 787.6,172.0 786.4,172.8 785.7,172.0 784.4,172.6 784.2,171.9 784.0,173.2 783.2,172.1 782.7,173.9 781.7,171.7 781.5,172.3 781.3,171.8 781.0,173.1 780.8,172.2 780.6,172.5 780.2,172.0 779.6,173.2 778.9,171.4 778.5,173.6 777.2,171.7 777.0,172.8 776.6,172.5 776.4,173.2 775.7,171.4 775.5,171.8 775.3,171.3 774.9,173.7 774.0,171.7 773.6,172.5 772.8,172.5 771.9,171.3 771.3,173.2 770.9,171.7 770.6,173.2 770.2,171.5 769.8,172.3 769.4,171.4 769.2,171.9 768.7,171.6 768.5,172.2 768.1,171.9 767.7,173.4 766.4,171.4 765.8,172.5 765.3,171.5 763.4,171.7 763.0,173.2" fill="#55A868" stroke="#55A868" stroke-width="5.1" stroke-linejoin="round" clip-path="url(#cp01)" />
<polygon points="1256.4,263.4 1443.1,263.4 1460.2,262.4 1460.6,261.3 1461.1,261.9 1462.4,261.7 1462.8,259.5 1463.2,261.9 1464.1,261.1 1467.1,260.7 1467.9,260.2 1468.8,258.7 1469.2,259.5 1470.5,258.8 1470.9,257.1 1471.3,258.1 1471.8,256.5 1472.2,257.3 1473.5,255.7 1473.9,256.1 1475.6,253.5 1476.0,253.7 1477.3,252.0 1478.6,249.7 1479.0,249.7 1479.9,247.6 1480.3,247.7 1480.7,246.3 1481.6,245.6 1484.6,240.5 1485.0,238.6 1485.4,239.7 1487.6,235.2 1488.0,235.4 1488.4,234.8 1489.7,231.1 1490.1,231.3 1491.0,230.3 1491.8,226.6 1492.3,227.6 1494.4,222.7 1496.1,220.1 1496.5,218.4 1497.0,218.6 1497.8,212.4 1498.7,211.3 1503.4,189.8 1508.1,153.7 1508.9,153.1 1509.8,150.9 1510.2,151.3 1510.6,150.8 1511.1,149.4 1511.5,150.0 1511.9,149.3 1513.2,145.6 1513.6,146.0 1514.1,144.0 1515.3,142.7 1517.1,138.4 1518.8,140.3 1519.2,138.9 1519.6,140.9 1520.0,140.9 1520.9,142.7 1521.3,142.6 1522.2,144.0 1522.6,143.3 1523.0,144.8 1523.5,143.8 1523.9,145.6 1524.3,144.8 1524.7,146.2 1525.6,146.0 1526.9,148.8 1531.2,167.6 1532.4,170.4 1532.9,170.1 1534.1,174.0 1535.0,171.4 1535.4,172.3 1535.9,170.0 1537.1,169.1 1538.8,165.5 1540.6,159.5 1541.0,160.6 1542.3,158.8 1543.1,155.8 1545.3,157.2 1546.1,155.9 1547.0,158.4 1547.4,157.9 1548.2,159.3 1548.7,158.7 1550.0,159.6 1550.4,160.6 1552.5,161.4 1554.2,163.0 1554.7,162.5 1555.9,163.5 1556.4,162.7 1557.2,164.3 1557.6,163.8 1558.1,164.8 1559.4,164.4 1560.6,165.8 1561.5,166.1 1562.3,165.7 1562.8,166.7 1563.2,166.8 1563.6,166.0 1564.1,167.4 1564.5,167.1 1564.9,167.7 1565.3,167.3 1566.2,167.9 1567.0,167.3 1567.5,168.2 1568.8,167.7 1569.2,166.3 1570.0,167.7 1570.5,167.3 1570.9,167.6 1571.3,165.5 1572.2,167.2 1573.0,165.9 1573.5,166.9 1574.7,166.2 1575.2,167.0 1576.0,165.8 1577.3,166.9 1577.7,165.2 1578.6,166.9 1579.0,164.7 1579.4,166.3 1579.9,165.0 1580.3,166.5 1580.7,166.5 1581.1,165.8 1582.0,166.8 1582.9,165.8 1583.7,167.0 1584.1,165.4 1584.6,166.3 1585.4,165.9 1585.8,166.9 1587.1,166.4 1587.6,166.9 1588.0,165.7 1588.4,166.5 1589.3,166.2 1589.7,167.0 1590.5,166.0 1591.0,167.1 1591.4,165.3 1592.3,167.1 1593.5,166.9 1594.4,167.9 1594.8,166.5 1595.2,167.8 1595.7,167.1 1597.0,168.0 1597.4,167.6 1597.8,167.9 1598.7,167.3 1599.1,167.4 1599.5,166.2 1601.7,165.2 1602.1,163.5 1602.5,164.7 1603.4,162.4 1603.8,163.6 1605.9,161.5 1606.4,162.2 1607.2,160.3 1608.1,161.8 1608.5,161.3 1608.9,161.9 1610.2,161.6 1610.6,161.1 1611.1,161.4 1611.5,160.6 1612.8,161.6 1613.6,161.2 1614.0,162.7 1614.5,162.7 1614.9,162.0 1615.3,162.8 1616.6,163.2 1617.5,162.0 1617.9,163.9 1618.3,163.3 1618.7,164.4 1619.2,164.1 1619.6,164.9 1620.5,163.3 1620.9,164.8 1621.3,164.0 1621.7,165.3 1622.6,164.8 1623.0,165.6 1624.3,165.8 1625.2,166.7 1625.6,166.8 1626.0,166.2 1626.4,167.5 1626.9,166.0 1627.3,167.1 1628.6,168.4 1629.0,168.1 1629.4,168.6 1629.9,168.3 1630.3,168.9 1630.7,168.5 1631.6,168.9 1632.4,168.4 1633.3,170.4 1634.1,170.8 1634.6,169.2 1635.4,171.1 1636.3,170.8 1636.7,170.2 1637.1,170.9 1638.8,167.6 1639.7,168.9 1641.0,166.7 1641.4,167.2 1642.2,166.3 1642.7,164.5 1643.1,165.6 1644.8,164.1 1645.7,164.5 1646.1,164.0 1646.5,164.4 1646.9,163.3 1647.4,163.6 1647.8,162.2 1648.2,163.5 1648.7,162.8 1649.1,163.3 1649.5,161.8 1649.9,162.5 1650.8,161.5 1651.2,162.4 1652.5,160.7 1652.9,161.5 1654.2,160.0 1656.4,161.7 1656.8,163.6 1657.6,164.1 1658.1,165.4 1658.9,165.8 1659.8,168.2 1661.5,170.5 1662.3,169.2 1663.6,172.1 1664.5,172.7 1664.9,172.4 1665.3,173.2 1665.8,172.4 1666.2,174.0 1667.0,174.4 1667.9,173.5 1669.2,169.6 1669.6,170.3 1671.7,166.1 1672.6,166.0 1674.7,161.0 1675.2,162.0 1676.4,158.6 1676.9,158.8 1677.7,158.1 1678.6,155.2 1679.0,155.6 1679.9,153.0 1680.3,154.2 1681.6,151.1 1682.0,151.7 1683.7,147.8 1685.4,150.0 1685.8,151.4 1686.3,151.0 1690.5,160.0 1691.8,161.1 1692.2,162.5 1692.7,162.3 1693.5,164.9 1694.8,166.5 1696.1,167.2 1696.5,168.6 1696.9,167.8 1697.4,170.3 1698.2,171.4 1699.1,170.8 1699.5,168.6 1699.9,170.5 1700.4,170.5 1701.2,168.8 1702.1,169.6 1702.5,168.7 1703.4,169.0 1704.2,168.0 1704.6,168.6 1705.5,168.1 1705.9,168.5 1706.3,166.1 1708.5,167.0 1710.2,164.2 1710.6,164.9 1711.5,164.9 1711.9,163.5 1712.3,164.7 1713.2,163.2 1714.5,163.5 1715.3,162.5 1716.2,162.5 1716.6,160.9 1717.0,161.6 1717.5,161.0 1717.9,162.7 1718.3,162.6 1719.2,164.0 1719.6,163.0 1720.0,164.7 1720.4,163.9 1721.7,166.2 1722.2,165.2 1723.9,166.6 1724.3,166.0 1725.6,166.0 1726.0,165.5 1726.0,167.9 1725.1,168.8 1724.7,169.2 1724.3,168.7 1723.9,169.2 1723.4,168.1 1723.0,168.5 1722.6,168.2 1722.2,169.7 1721.3,167.1 1720.9,167.4 1720.4,166.4 1720.0,167.5 1718.3,164.9 1717.9,165.7 1716.2,164.5 1715.3,164.9 1714.9,164.5 1714.5,166.8 1714.0,166.1 1713.6,166.6 1713.2,165.5 1712.3,167.7 1711.0,166.8 1710.2,168.8 1709.8,168.9 1709.3,167.6 1708.9,169.4 1708.5,168.5 1707.2,169.8 1706.8,169.2 1705.9,170.7 1705.1,170.2 1703.8,171.0 1703.4,170.7 1702.9,172.0 1702.5,171.2 1701.6,171.5 1700.4,173.0 1699.9,172.0 1699.5,173.3 1698.2,173.1 1696.9,171.6 1696.5,172.2 1696.1,170.6 1694.8,169.4 1694.4,168.3 1693.5,168.0 1693.1,166.7 1692.7,167.1 1691.4,165.1 1686.7,155.8 1685.8,155.6 1685.4,153.7 1685.0,155.2 1684.6,152.1 1684.1,151.7 1683.3,153.3 1682.8,153.2 1682.0,155.3 1680.7,155.9 1679.0,159.9 1678.1,159.4 1677.7,161.4 1676.4,161.5 1676.0,163.1 1675.6,163.2 1673.9,166.1 1672.2,167.9 1670.5,170.7 1669.6,173.8 1668.7,174.0 1668.3,175.9 1667.9,174.9 1666.6,176.4 1665.8,176.2 1665.3,174.9 1664.5,175.2 1662.3,172.5 1661.9,172.8 1661.5,172.3 1661.1,172.7 1660.2,171.7 1659.3,169.1 1654.6,162.2 1653.4,162.9 1652.9,164.1 1652.5,163.3 1651.2,165.6 1650.4,164.0 1649.1,165.4 1648.7,164.8 1647.8,166.2 1647.4,165.2 1646.5,166.1 1646.1,166.0 1645.7,167.5 1644.0,166.8 1643.5,167.8 1643.1,167.5 1642.7,169.5 1642.2,168.4 1641.4,169.5 1640.1,169.9 1639.3,171.1 1637.5,172.0 1637.1,173.5 1636.7,173.0 1635.8,174.0 1635.0,172.5 1634.1,173.2 1632.4,171.7 1631.1,172.4 1630.7,171.5 1630.3,172.6 1629.0,170.7 1628.6,172.0 1628.1,172.0 1627.7,171.1 1627.3,171.6 1626.9,170.8 1625.6,171.1 1625.2,169.7 1624.7,169.6 1623.9,171.9 1623.4,169.9 1622.6,169.5 1622.2,170.0 1621.3,168.6 1620.9,169.2 1620.5,168.0 1619.6,167.7 1618.7,168.9 1617.5,166.5 1616.2,167.5 1614.0,165.0 1611.9,164.2 1611.1,164.5 1610.6,164.0 1610.2,164.7 1609.3,165.0 1608.9,167.0 1608.5,165.7 1608.1,167.2 1607.6,165.7 1606.8,166.5 1606.4,166.3 1605.9,167.9 1605.5,166.7 1604.2,168.1 1602.5,167.9 1601.2,168.9 1600.8,170.1 1600.4,169.2 1599.9,169.8 1599.5,169.2 1599.1,169.6 1598.7,169.4 1598.2,170.5 1596.5,170.0 1594.8,170.7 1594.0,170.1 1593.1,170.7 1591.8,169.7 1591.0,170.7 1590.1,170.8 1589.7,169.7 1588.8,170.9 1588.4,169.8 1588.0,172.2 1587.6,170.3 1587.1,170.5 1586.3,169.9 1585.8,169.9 1585.4,172.1 1585.0,170.0 1584.1,170.5 1583.7,169.8 1583.3,170.2 1582.4,169.9 1581.6,170.7 1581.1,169.7 1580.3,170.8 1579.9,169.9 1579.0,171.0 1578.6,169.8 1578.2,170.6 1577.7,169.8 1576.4,170.6 1575.2,169.7 1573.5,170.2 1573.0,171.2 1572.2,170.3 1571.7,171.5 1571.3,170.3 1570.5,170.7 1570.0,172.1 1569.6,171.1 1567.5,171.4 1566.6,172.1 1565.8,171.2 1565.3,172.1 1564.5,171.1 1564.1,172.3 1563.6,171.0 1562.8,171.4 1562.3,170.7 1561.9,171.5 1560.6,170.1 1560.2,170.6 1559.8,170.0 1559.4,170.5 1558.5,170.2 1557.2,168.4 1555.1,167.0 1554.7,167.9 1554.2,166.7 1553.8,167.5 1553.4,165.7 1552.9,165.1 1552.1,165.2 1551.7,164.3 1550.4,164.8 1550.0,163.5 1549.1,164.3 1547.8,161.7 1547.4,161.9 1545.3,159.1 1544.4,159.3 1543.5,157.8 1542.7,161.9 1542.3,161.3 1541.4,165.1 1541.0,165.3 1538.8,171.5 1538.0,172.8 1537.6,172.6 1536.7,174.8 1536.3,174.3 1535.9,174.5 1535.0,176.6 1534.1,176.1 1533.7,176.7 1533.3,175.9 1532.9,176.3 1532.4,175.2 1532.0,175.1 1531.6,175.1 1531.2,176.5 1530.3,172.9 1529.4,172.2 1529.0,170.7 1526.9,168.0 1526.0,167.9 1525.6,168.8 1524.7,169.2 1524.3,171.1 1523.9,170.3 1523.5,170.8 1523.0,172.6 1520.9,174.2 1520.0,173.5 1519.2,174.9 1518.8,174.1 1517.9,175.8 1517.1,175.7 1513.2,186.8 1508.1,217.1 1503.0,233.6 1502.1,234.5 1500.0,239.0 1499.5,241.1 1499.1,240.2 1498.7,242.8 1498.3,242.1 1496.1,246.4 1494.8,248.0 1494.0,251.0 1492.7,251.5 1492.3,252.8 1491.0,254.0 1490.6,255.8 1490.1,255.4 1488.8,257.6 1487.6,257.5 1486.7,259.5 1486.3,258.3 1485.0,259.2 1484.6,260.1 1484.1,259.6 1483.7,260.3 1482.4,260.5 1482.0,262.2 1481.2,260.9 1480.7,262.0 1479.4,261.2 1479.0,262.0 1478.6,261.2 1478.2,262.7 1477.7,261.7 1476.9,262.8 1476.5,261.4 1475.6,262.3 1475.2,261.6 1474.7,263.1 1473.9,261.9 1473.5,263.4 1473.0,261.7 1472.2,262.5 1470.9,262.0 1470.0,262.8 1469.6,262.1 1468.8,263.2 1468.3,262.3 1467.9,262.5 1466.6,264.2 1466.2,262.7 1465.8,263.8 1465.3,262.9 1464.9,263.6 1463.6,262.3 1463.2,263.2 1462.8,262.7 1462.4,263.3 1461.9,262.2 1461.5,263.5 1461.1,262.1 1460.2,262.7 1459.8,262.3 1443.1,263.4 1256.4,263.4" fill="#55A868" stroke="#55A868" stroke-width="5.1" stroke-linejoin="round" clip-path="url(#cp02)" />
<polyline points="167.4,527.9 168.3,527.9 168.4,523.3 168.7,404.6" fill="none" stroke="#55A868" stroke-width="5.1" stroke-linejoin="round" stroke-linecap="round" clip-path="url(#cp10)" />
<polygon points="168.6,407.4 170.5,421.9 171.0,423.1 172.0,419.5 173.0,425.1 174.0,427.3 174.4,425.7 175.4,427.6 175.9,426.6 176.4,426.7 176.9,428.6 177.4,427.6 177.9,428.1 179.4,427.0 179.8,427.0 180.8,428.7 181.3,428.2 182.3,428.7 183.3,426.8 184.7,428.1 185.7,427.1 186.2,428.1 186.7,427.9 187.2,426.9 188.2,427.2 188.7,428.2 189.7,427.0 191.1,428.2 192.1,427.2 193.6,428.7 194.1,428.7 195.0,426.8 196.0,428.4 197.0,426.1 198.5,426.9 199.0,428.9 199.5,427.7 200.9,428.7 201.4,428.3 202.4,428.9 203.4,426.7 204.4,428.5 205.3,426.6 206.3,428.3 207.8,428.9 209.8,426.1 211.2,427.4 211.7,428.6 212.2,428.6 213.2,427.1 214.2,428.9 215.6,428.5 216.1,429.0 217.6,428.7 218.6,427.2 219.1,428.5 219.6,428.6 221.0,427.6 221.5,428.8 222.0,427.1 222.5,427.3 223.0,428.9 223.5,427.9 226.9,428.8 227.9,426.7 228.9,428.4 229.4,427.4 230.4,427.8 230.9,428.6 231.3,427.6 232.3,428.8 234.3,427.7 235.3,426.4 236.2,427.2 237.7,427.2 238.2,428.6 239.2,426.6 240.2,428.4 241.6,426.7 242.6,427.7 243.6,426.5 244.1,428.1 245.6,428.8 246.5,428.1 247.0,427.0 247.5,427.7 248.0,427.7 248.5,426.2 251.0,428.9 251.9,428.9 252.9,427.4 254.9,428.4 255.9,427.6 256.4,429.2 256.8,427.0 257.8,429.2 259.3,428.5 259.8,428.9 260.8,428.1 261.3,429.3 261.8,429.2 262.7,426.3 265.2,429.3 267.6,428.6 269.1,429.1 271.1,428.5 271.6,429.0 272.1,427.6 272.5,427.8 273.0,429.0 276.0,427.3 277.0,428.4 277.9,427.9 278.9,428.9 279.9,427.4 281.4,428.9 283.3,427.8 283.8,428.3 284.8,427.3 286.8,427.2 287.7,426.7 288.7,428.2 289.7,426.6 290.7,427.9 291.2,427.7 292.2,428.3 293.1,426.6 294.1,428.2 295.1,427.6 297.1,428.7 297.6,427.7 298.0,427.7 298.5,428.6 299.5,428.6 300.5,427.3 301.0,428.1 302.5,428.4 304.4,427.3 304.9,427.4 305.4,428.8 305.9,427.4 306.4,428.3 307.4,427.4 307.9,428.5 308.3,427.3 308.8,428.7 309.8,426.1 310.3,427.9 311.3,426.4 313.7,428.8 314.7,429.0 315.7,428.4 316.2,428.9 316.7,428.8 317.7,426.2 318.2,425.9 319.1,428.7 319.6,427.5 320.1,428.5 321.6,427.7 322.6,429.1 323.1,429.1 324.0,427.9 325.0,429.1 326.5,429.1 327.5,427.6 328.5,429.2 329.4,428.3 330.4,428.3 331.4,425.4 331.9,425.3 332.9,428.4 333.4,428.7 334.3,428.2 334.8,428.8 336.3,427.9 336.8,428.7 337.3,427.8 337.8,428.2 340.7,428.1 341.2,427.1 341.7,428.5 342.7,425.6 343.7,427.7 344.6,426.6 345.1,428.2 346.1,427.3 347.6,424.1 348.6,426.9 349.5,428.3 351.0,424.1 352.0,427.7 354.0,426.8 354.5,427.8 355.4,426.8 355.9,428.1 356.9,425.5 357.9,428.2 359.4,425.8 360.8,427.6 361.8,427.8 363.8,428.1 364.8,426.2 365.7,428.1 367.7,427.9 369.2,428.3 369.7,427.2 370.6,428.3 371.1,428.0 371.6,428.4 372.1,427.4 372.6,427.6 373.1,428.5 374.1,428.4 376.5,426.4 377.5,427.2 378.0,428.8 378.5,427.6 379.5,428.3 380.0,427.9 380.9,428.2 381.9,427.6 382.9,428.1 383.9,427.1 384.9,428.8 385.8,428.0 386.3,428.6 387.3,426.8 388.3,428.0 389.8,426.7 390.7,428.7 393.2,426.8 394.2,428.5 395.2,428.7 396.1,428.7 397.1,427.7 398.1,428.2 398.6,429.1 399.6,428.6 400.6,429.1 401.5,427.1 402.5,428.4 403.5,427.5 404.5,429.0 405.5,428.0 406.4,429.1 407.4,428.4 407.9,428.6 408.9,426.7 409.9,429.1 410.4,427.7 410.9,428.3 411.8,427.3 412.8,428.5 414.3,428.2 414.8,428.9 415.8,427.2 416.7,428.8 417.2,428.4 418.2,428.7 419.2,428.4 420.2,426.6 420.7,426.5 421.6,428.8 423.6,428.8 424.6,426.8 425.1,426.9 425.6,428.7 426.6,426.6 427.0,428.2 429.0,426.4 430.5,427.9 431.5,425.8 432.4,427.9 432.9,428.0 433.4,426.2 434.4,428.0 436.9,427.1 437.8,428.3 438.3,426.5 438.8,426.3 439.3,427.3 440.3,427.0 440.8,428.0 441.3,427.7 441.8,428.1 442.2,427.3 443.2,428.2 443.7,427.5 444.7,428.1 446.2,425.6 447.2,426.5 449.6,426.0 450.1,427.1 450.6,427.4 451.1,427.0 452.1,428.4 454.0,428.3 454.5,427.4 455.5,428.4 456.5,427.5 457.9,427.2 458.9,425.5 459.9,428.6 460.4,426.3 460.9,426.0 463.8,429.1 464.8,426.1 465.8,428.4 466.3,427.8 467.3,429.2 470.7,429.1 471.2,428.1 473.1,427.1 474.1,429.0 475.6,429.2 476.1,428.1 476.6,427.9 477.6,428.9 478.5,428.3 479.0,428.8 480.0,427.5 481.5,428.9 483.0,429.0 483.4,428.4 483.9,428.9 484.9,427.2 486.4,429.2 488.4,425.0 488.8,425.1 489.8,428.5 490.3,427.9 490.8,429.3 491.3,427.6 492.3,429.3 493.3,428.0 494.2,429.1 495.7,427.8 497.7,429.4 499.1,427.7 500.1,429.4 500.6,429.6 501.1,429.0 501.6,429.6 502.1,428.4 502.6,428.4 503.1,429.7 503.6,428.8 504.0,429.1 505.5,427.8 506.0,429.4 506.5,428.5 507.5,429.1 508.0,428.2 509.0,429.3 509.4,428.5 510.4,429.2 510.9,428.3 511.4,429.3 512.4,426.6 513.4,428.8 513.9,428.7 514.3,429.4 514.8,428.8 515.3,429.3 515.8,428.8 516.8,429.6 517.3,429.3 518.8,426.7 519.3,428.3 520.2,429.2 521.2,426.8 522.7,428.9 523.7,428.4 524.6,428.8 525.1,428.4 525.6,429.0 526.6,428.0 528.1,428.8 529.1,427.3 530.0,428.4 530.5,427.6 531.5,428.6 532.5,428.0 534.9,428.7 535.9,428.3 536.9,426.8 537.9,427.9 538.9,426.2 539.4,426.3 540.3,428.8 540.8,428.4 542.3,428.6 543.3,427.5 544.8,428.7 545.2,427.4 545.7,427.3 546.7,428.7 547.7,427.9 548.7,428.6 549.2,427.9 549.7,428.8 550.6,428.1 551.6,426.1 554.1,428.8 554.6,428.7 555.5,426.5 556.5,427.6 557.5,427.7 558.5,428.9 560.0,428.2 562.4,429.0 563.4,427.8 563.9,428.8 564.9,428.8 565.8,427.4 566.8,428.7 568.3,425.5 569.8,428.0 570.8,427.7 571.2,428.7 572.7,426.8 573.7,428.6 574.2,427.7 575.2,428.0 575.7,427.4 576.1,428.4 577.1,427.6 577.6,428.1 578.6,428.1 581.1,425.9 582.5,428.4 583.0,427.6 584.0,428.3 584.5,427.4 585.5,428.4 586.0,427.9 586.9,428.4 587.9,427.4 589.4,427.2 589.9,428.6 590.4,427.8 591.4,427.9 592.3,427.1 593.3,428.7 593.8,428.7 596.3,426.8 597.7,428.5 598.2,428.2 598.7,428.9 599.2,427.4 599.7,427.3 600.7,428.7 603.1,427.1 603.6,428.8 604.6,428.5 605.6,429.4 606.6,428.0 607.0,427.9 608.0,429.5 608.5,428.4 609.0,428.1 609.5,428.5 609.5,439.5 607.5,436.1 606.6,436.9 605.6,436.0 605.1,436.4 603.6,436.1 603.1,436.6 602.6,435.8 601.7,437.2 601.2,436.0 600.7,436.3 599.7,435.9 598.7,437.5 596.7,435.8 595.3,438.5 594.8,438.5 593.8,435.7 592.8,437.4 592.3,437.3 591.8,435.7 589.9,438.4 588.9,436.7 587.9,437.4 586.9,435.4 586.0,435.9 585.0,437.2 583.0,435.2 582.0,436.1 581.1,435.2 579.6,436.5 578.6,435.1 577.1,435.1 576.1,436.6 575.7,436.0 574.7,437.5 574.2,437.6 571.7,435.4 571.2,436.5 569.3,436.8 568.8,435.4 568.3,437.1 567.3,435.8 566.8,436.5 565.8,435.6 565.4,436.2 564.4,435.5 563.4,435.7 562.4,437.4 561.4,436.1 560.9,437.8 560.5,438.0 559.5,435.9 558.5,436.5 558.0,438.5 557.5,438.6 556.5,436.1 556.0,437.0 555.1,436.2 554.1,437.1 553.6,436.7 552.1,436.9 551.6,436.2 550.6,438.1 549.2,436.3 546.7,435.8 545.2,436.6 544.8,435.8 543.8,438.8 542.8,435.9 542.3,435.5 539.9,437.2 538.9,435.8 538.4,435.6 537.9,436.3 536.9,435.5 534.0,435.6 533.0,437.2 532.0,435.6 531.0,435.4 529.6,436.2 528.6,435.5 527.6,436.3 526.1,435.5 524.6,436.2 523.7,435.7 522.7,436.7 521.7,436.2 520.7,437.3 520.2,436.3 518.8,437.1 517.8,436.9 517.3,436.2 516.3,438.4 515.8,436.9 514.8,436.2 514.3,436.2 513.4,437.5 511.9,436.3 509.9,437.3 509.4,436.6 508.5,436.3 507.0,437.0 506.5,436.4 506.0,437.0 505.5,436.4 505.0,437.1 504.5,436.4 503.6,437.2 502.6,436.4 502.1,437.2 500.6,437.8 499.6,436.9 497.2,436.1 496.2,437.2 495.7,436.5 494.7,437.3 494.2,436.3 492.8,436.4 491.3,438.3 489.3,435.8 487.9,436.9 486.9,435.7 485.9,437.6 482.5,435.8 481.5,436.6 480.5,436.0 479.5,437.4 479.0,437.2 478.5,435.9 477.6,438.2 476.1,436.3 475.1,436.0 474.1,437.8 473.1,435.9 472.7,436.4 472.2,436.1 471.2,437.1 470.7,436.4 469.7,438.0 468.2,435.9 467.3,437.3 466.8,437.3 465.8,436.1 464.8,437.7 463.8,435.8 462.8,437.0 462.4,436.0 458.9,435.6 458.4,436.9 457.9,436.7 457.5,435.3 456.0,436.2 455.5,435.2 455.0,436.5 453.0,435.6 452.5,436.3 451.6,436.3 450.6,438.0 450.1,437.8 449.6,435.5 449.1,436.4 448.1,435.0 447.2,436.1 446.2,435.2 445.2,437.9 443.7,435.4 442.7,436.5 442.2,435.3 441.3,437.0 439.8,434.8 438.3,437.3 436.4,435.5 435.4,436.6 434.9,435.1 434.4,437.0 433.9,437.3 432.9,436.8 432.4,437.2 430.0,435.2 429.0,437.6 428.5,437.8 427.0,435.8 425.6,435.4 424.1,435.7 423.6,436.7 422.6,436.1 421.2,437.1 419.7,435.9 418.2,436.8 417.2,435.6 416.3,437.5 415.8,436.0 414.8,438.3 414.3,436.0 413.8,436.5 413.3,436.0 411.8,436.7 410.9,436.1 409.9,437.7 409.4,437.7 408.9,436.0 407.9,437.7 407.4,435.9 406.4,437.7 405.5,438.2 404.5,436.7 404.0,437.0 402.5,439.2 402.0,438.9 401.0,436.2 399.6,436.5 399.1,435.8 398.6,436.5 398.1,435.7 397.6,436.2 397.1,435.7 395.7,438.0 394.7,438.7 393.2,435.7 392.2,438.1 391.7,438.3 390.7,436.8 388.8,437.1 387.8,435.6 384.9,435.5 383.9,435.8 382.9,436.8 380.4,435.3 380.0,436.2 378.0,435.7 376.5,437.3 375.5,436.8 374.6,437.8 373.6,436.2 372.1,435.3 371.1,435.8 370.6,437.3 370.1,437.4 369.7,435.9 367.7,437.2 366.7,435.0 366.2,436.2 365.2,435.0 364.8,435.4 364.3,434.9 363.3,437.0 361.8,435.4 361.3,436.8 360.3,435.7 359.4,437.9 358.9,437.6 357.9,434.8 356.9,436.0 355.9,436.0 354.5,435.0 354.0,435.4 353.5,434.8 352.5,436.9 351.5,435.0 351.0,435.6 349.1,434.8 348.1,435.2 347.6,434.9 346.6,435.7 345.6,435.0 345.1,435.1 344.2,436.9 342.7,435.1 342.2,436.1 341.7,436.2 341.2,435.2 340.2,437.8 338.8,436.0 337.8,435.6 336.3,436.8 335.8,436.1 334.8,436.4 334.3,435.9 333.9,437.3 333.4,437.3 331.9,436.3 331.4,436.5 330.9,435.6 329.9,438.1 328.9,435.7 328.0,436.4 327.0,436.2 326.0,438.4 325.0,436.4 324.0,436.9 323.1,436.2 322.6,436.6 322.1,436.0 321.6,436.6 321.1,436.0 319.1,437.5 318.2,436.1 317.7,438.3 317.2,438.0 316.7,436.3 315.2,436.1 313.7,440.7 312.8,436.8 312.3,436.2 311.8,437.0 310.8,435.6 310.3,436.6 309.8,436.4 309.3,435.5 308.8,436.0 308.3,435.6 305.9,436.4 304.9,438.9 303.4,435.5 303.0,437.1 302.5,437.4 301.5,435.8 300.5,437.2 299.5,435.4 299.0,435.3 296.6,438.5 295.1,435.5 293.6,437.6 292.7,435.3 291.7,437.1 291.2,436.0 290.7,436.3 289.2,435.7 287.7,438.0 287.3,437.9 286.3,435.6 285.8,435.6 284.3,438.0 283.3,437.4 282.4,437.8 280.9,435.8 279.4,436.6 278.9,437.8 277.9,435.6 277.4,436.8 276.5,435.8 275.5,436.2 274.5,435.9 273.5,438.5 273.0,438.4 272.1,435.9 271.6,436.3 271.1,435.8 270.6,436.8 269.1,435.9 268.1,436.8 267.1,436.1 266.2,437.9 265.2,436.0 263.7,436.5 262.7,435.9 261.8,436.9 259.3,436.3 258.8,437.3 258.3,437.4 256.8,436.4 256.4,437.9 254.9,436.2 254.4,437.4 253.9,437.3 252.9,435.7 252.4,436.5 251.0,435.9 250.0,437.9 248.5,435.5 247.5,435.6 246.5,436.5 246.1,435.5 245.6,435.8 244.6,435.3 244.1,435.8 242.1,435.5 241.6,436.2 240.2,435.3 239.2,435.4 238.2,436.7 237.2,435.3 236.7,435.3 235.3,436.6 234.3,435.4 233.3,436.0 232.8,435.6 231.8,436.1 230.9,435.9 229.9,437.0 228.9,436.3 227.9,437.2 226.9,436.0 225.9,436.4 225.5,435.7 224.5,437.0 223.5,436.3 223.0,437.5 221.5,435.6 220.6,437.5 220.1,435.9 218.6,436.7 217.6,435.6 217.1,436.6 216.6,436.6 216.1,435.7 214.2,437.9 213.2,436.8 212.2,437.8 211.2,437.7 210.3,436.9 209.8,437.1 209.3,436.2 207.8,437.8 206.3,435.5 205.8,436.2 205.3,435.7 204.9,436.6 204.4,435.8 203.4,439.0 202.9,436.9 202.4,436.7 201.9,437.6 200.4,437.3 199.5,435.8 198.5,436.8 198.0,435.7 196.5,437.3 195.0,436.1 194.1,439.3 193.6,438.9 192.6,435.5 191.6,438.0 190.6,435.7 190.1,436.6 189.2,436.5 188.2,437.2 187.2,435.8 186.2,436.7 185.7,436.6 185.2,435.7 183.8,435.6 181.8,438.5 180.8,435.3 180.3,436.1 179.4,435.3 178.4,436.5 176.9,436.0 175.4,437.4 174.4,436.3 174.0,437.1 173.0,437.3 172.0,441.2 171.5,441.6 171.0,440.9 170.0,445.0 169.1,455.1 168.6,456.5" fill="#55A868" stroke="#55A868" stroke-width="5.1" stroke-linejoin="round" clip-path="url(#cp10)" />
<polyline points="713.7,527.9 714.6,527.9 714.7,523.3 715.0,404.6" fill="none" stroke="#55A868" stroke-width="5.1" stroke-linejoin="round" stroke-linecap="round" clip-path="url(#cp11)" />
<polygon points="714.9,403.3 716.3,420.7 716.8,420.4 717.3,417.9 717.8,418.8 718.8,426.1 719.3,424.4 720.3,425.1 721.2,428.0 722.2,426.1 722.7,426.2 723.2,428.0 723.7,428.4 724.2,428.5 725.2,426.7 726.1,428.7 726.6,428.2 727.1,428.5 727.6,427.5 728.6,428.6 730.1,428.8 731.5,426.7 732.5,428.9 733.0,427.7 733.5,427.6 734.5,428.9 735.5,427.7 736.9,428.8 737.9,426.8 738.9,427.9 740.9,428.0 741.3,428.8 741.8,428.1 742.8,429.0 743.3,427.9 743.8,428.0 744.3,429.1 746.3,427.5 747.7,429.1 748.7,429.2 749.2,428.2 749.7,428.6 750.7,427.3 751.6,428.9 753.1,428.4 754.1,429.3 755.6,428.7 756.1,427.4 757.0,428.0 758.0,426.6 759.0,428.9 760.0,429.3 760.5,428.6 761.0,428.8 761.9,427.0 762.9,427.9 763.4,427.2 764.4,427.4 765.4,429.1 766.4,428.7 768.3,429.3 769.3,428.8 769.8,429.1 770.8,426.2 771.8,429.0 772.7,428.5 773.7,426.7 774.7,428.2 776.7,427.5 777.6,427.6 778.1,428.7 779.1,428.6 780.1,426.8 781.1,426.6 783.0,427.5 783.5,428.8 784.0,427.9 784.5,428.0 785.0,428.9 786.0,427.6 786.5,428.4 787.5,427.5 788.4,428.8 789.4,427.2 789.9,427.1 791.4,428.8 791.9,427.9 793.3,428.8 794.3,427.6 794.8,427.6 795.3,428.5 796.3,428.5 797.8,427.6 799.7,428.1 800.2,427.9 800.7,426.2 801.2,426.2 801.7,427.9 802.2,428.5 803.1,428.6 805.6,427.2 806.6,425.4 807.6,427.6 808.1,425.9 809.0,428.0 809.5,426.8 810.0,426.9 810.5,428.1 811.0,427.7 811.5,428.2 812.5,425.0 814.4,428.3 815.4,427.1 815.9,428.2 816.4,426.2 817.4,428.0 818.8,427.7 819.3,428.3 819.8,427.8 820.3,428.4 820.8,427.7 822.3,428.1 823.3,427.0 823.7,428.4 824.7,425.0 825.7,428.1 826.7,427.5 827.7,428.4 828.7,428.2 829.6,428.7 830.6,428.3 831.1,427.5 832.1,428.8 833.6,425.9 834.0,425.8 835.0,428.7 835.5,428.0 836.0,428.3 836.5,427.4 838.5,428.4 839.9,425.8 840.9,428.5 841.9,427.5 842.9,428.1 843.4,427.0 844.3,428.7 845.8,427.4 846.3,428.6 846.8,427.6 847.8,428.1 848.8,427.4 849.3,427.9 849.7,426.2 850.7,427.9 851.2,427.7 851.7,428.2 852.2,426.5 852.7,428.0 853.2,427.6 854.2,428.6 854.6,427.7 855.6,428.5 856.1,427.7 856.6,428.7 857.6,428.7 858.6,427.5 859.1,428.5 860.0,428.4 861.0,427.1 861.5,427.9 862.5,426.4 864.0,428.7 864.9,428.8 866.4,426.3 866.9,428.4 867.4,427.8 868.9,428.8 869.9,427.3 870.3,428.1 871.3,427.8 872.3,428.4 873.3,427.4 873.8,428.4 874.3,428.6 874.8,428.0 875.2,428.7 875.7,427.7 876.2,428.4 877.7,426.1 878.7,427.3 881.1,428.7 882.6,426.9 883.6,428.7 884.6,428.1 886.0,428.7 886.5,427.9 889.5,428.6 891.4,428.1 891.9,428.7 892.4,428.7 894.4,426.7 894.9,427.2 895.8,427.0 896.8,428.2 897.3,427.3 898.8,428.4 900.3,428.2 900.8,428.7 901.7,427.5 902.2,427.9 902.7,427.6 903.2,428.6 903.7,427.5 905.2,428.5 907.6,428.7 910.1,425.2 911.5,428.6 912.5,427.6 914.0,428.5 915.0,427.8 915.5,428.5 916.0,427.8 916.4,428.4 916.9,427.7 917.4,427.9 917.9,426.6 918.9,428.4 919.9,427.4 921.4,428.7 922.3,428.1 922.8,428.7 924.3,428.3 924.8,429.0 925.3,428.3 926.3,428.4 928.2,429.3 929.7,427.4 930.2,429.1 931.7,427.3 933.1,429.5 934.1,428.6 934.6,429.0 935.1,428.8 935.6,426.6 936.1,426.9 936.6,429.5 937.0,428.0 939.0,426.8 940.0,428.1 941.5,428.6 942.4,426.7 943.4,429.3 943.9,428.9 944.9,429.5 945.9,428.6 946.4,429.3 946.9,429.2 947.8,428.1 948.3,429.3 949.3,429.2 950.3,428.2 951.8,429.2 952.3,427.5 952.7,427.5 953.2,429.1 955.7,428.6 957.2,427.4 957.6,428.7 958.1,428.0 959.6,428.0 960.1,428.6 960.6,427.9 961.6,428.3 962.1,427.7 962.6,428.6 963.5,426.9 965.0,428.9 966.0,426.9 967.5,428.6 968.9,427.4 969.4,428.7 970.9,428.1 971.4,428.4 971.9,427.9 972.9,428.7 973.8,428.5 974.3,427.7 975.8,428.3 976.8,427.1 977.3,428.0 978.2,426.3 979.2,426.7 980.2,425.7 980.7,425.8 981.7,428.3 982.2,428.2 983.2,424.6 983.6,424.4 985.1,428.5 985.6,428.5 986.6,427.1 987.6,428.2 988.5,428.3 990.0,427.3 991.0,428.6 991.5,428.4 992.5,427.8 993.5,425.4 994.4,427.4 995.4,427.2 996.9,428.6 997.9,427.3 998.4,428.3 999.3,428.6 1000.8,428.1 1001.3,427.2 1002.8,428.2 1004.2,426.5 1004.7,428.1 1005.2,427.3 1007.7,427.7 1008.2,426.1 1008.7,426.1 1009.6,428.4 1012.1,427.4 1013.6,428.3 1015.5,425.4 1016.0,425.6 1017.0,428.5 1017.5,427.7 1018.5,428.1 1019.4,426.6 1020.4,428.2 1021.4,426.5 1022.4,428.2 1022.9,426.8 1023.9,427.8 1024.8,423.4 1025.8,427.8 1026.8,426.4 1028.8,428.8 1030.2,427.6 1031.2,428.5 1032.7,425.6 1033.2,425.9 1034.2,429.1 1035.6,427.6 1037.1,429.0 1038.1,427.1 1038.6,428.5 1039.1,426.9 1039.6,426.7 1040.5,429.1 1041.5,428.1 1042.0,428.8 1042.5,428.6 1043.5,427.1 1044.0,428.5 1045.0,428.5 1045.9,425.4 1047.4,427.9 1048.4,426.2 1049.4,428.2 1050.3,429.1 1051.3,429.1 1052.3,427.2 1053.3,428.9 1054.8,426.5 1056.7,428.7 1058.7,428.8 1059.7,426.5 1060.2,426.4 1061.1,426.8 1061.6,428.1 1063.6,424.9 1065.1,428.0 1066.5,428.1 1067.0,429.0 1068.0,428.0 1068.5,427.9 1069.0,428.5 1069.5,427.9 1070.0,428.8 1070.9,429.1 1073.9,428.8 1074.9,428.0 1076.3,429.2 1076.8,428.9 1077.3,429.2 1078.3,427.9 1078.8,428.6 1079.8,427.8 1080.8,429.1 1081.7,427.2 1082.2,427.4 1083.2,429.6 1084.2,427.9 1085.2,429.2 1085.7,428.5 1086.2,429.5 1087.6,428.5 1088.6,429.6 1090.1,426.9 1091.5,429.1 1092.5,429.6 1093.0,428.5 1093.5,429.7 1094.5,428.2 1095.0,429.3 1096.0,429.7 1096.5,428.2 1098.4,429.7 1099.9,427.2 1100.9,429.3 1101.4,428.3 1102.8,428.9 1104.3,427.5 1105.3,429.1 1105.8,429.2 1106.8,427.5 1107.7,428.8 1108.7,427.7 1109.7,429.0 1110.7,427.9 1111.2,428.9 1111.7,428.8 1112.1,427.7 1113.6,426.9 1114.6,424.8 1116.1,428.4 1117.5,428.8 1119.0,427.4 1119.5,428.7 1120.0,427.9 1121.0,428.6 1122.0,428.4 1122.9,426.7 1123.9,428.3 1124.9,427.6 1125.9,428.5 1127.4,428.8 1128.8,427.3 1129.8,428.6 1130.8,428.6 1132.3,427.6 1133.2,428.9 1134.2,426.6 1135.2,428.2 1135.7,428.5 1136.7,427.7 1137.7,428.8 1138.1,427.4 1138.6,427.3 1139.1,428.3 1140.6,426.3 1141.6,427.2 1142.1,428.7 1144.5,428.3 1145.0,427.6 1146.5,428.9 1147.5,426.9 1148.4,427.4 1148.9,426.9 1149.9,428.7 1151.9,426.4 1152.9,427.0 1153.8,428.9 1154.3,427.9 1154.8,427.9 1155.3,429.0 1155.8,428.9 1155.8,436.1 1154.8,438.2 1153.3,436.2 1151.4,435.6 1150.4,436.0 1149.4,435.6 1148.9,436.3 1147.5,437.1 1146.5,436.0 1145.5,437.4 1144.0,435.5 1143.0,436.0 1142.6,435.4 1141.6,437.2 1141.1,436.1 1140.1,435.5 1137.7,435.5 1136.2,436.0 1135.7,437.0 1134.7,435.6 1133.7,435.8 1132.7,437.9 1131.8,435.8 1129.8,435.6 1128.8,438.1 1127.8,435.8 1127.4,436.8 1126.4,435.3 1124.9,435.9 1123.4,435.3 1122.9,435.9 1122.0,435.6 1121.5,436.4 1120.5,435.9 1119.5,437.2 1117.5,435.7 1117.1,436.2 1116.6,435.4 1116.1,436.3 1114.6,436.9 1114.1,435.7 1112.6,436.6 1112.1,435.7 1111.7,436.6 1111.2,435.7 1110.2,435.7 1109.2,436.9 1108.2,435.9 1107.2,438.5 1106.8,437.8 1105.8,438.0 1104.8,436.2 1104.3,437.3 1103.8,437.4 1103.3,436.1 1102.8,437.5 1102.3,436.7 1101.4,437.7 1100.9,436.2 1100.4,437.3 1099.9,436.3 1097.9,437.8 1096.9,439.6 1095.5,436.8 1094.5,437.2 1093.5,438.9 1092.5,436.4 1091.5,436.5 1091.1,437.5 1089.6,436.4 1088.1,439.2 1087.6,438.8 1087.1,436.8 1085.7,438.5 1084.7,436.7 1084.2,437.9 1083.2,436.2 1082.2,436.9 1081.7,436.3 1080.8,437.7 1079.8,436.3 1078.8,437.4 1076.3,437.3 1075.4,438.6 1073.4,436.2 1072.4,437.0 1071.4,435.8 1070.5,436.8 1070.0,435.7 1069.0,437.0 1068.0,436.4 1067.0,439.2 1066.5,437.2 1066.0,436.5 1065.6,436.9 1064.6,435.8 1063.1,436.5 1062.1,438.6 1061.1,436.4 1060.6,436.0 1059.7,437.7 1058.7,435.7 1057.7,436.7 1055.7,437.7 1054.8,435.8 1053.8,438.3 1053.3,438.2 1052.3,435.6 1050.3,437.4 1048.4,436.2 1046.9,437.6 1045.9,436.4 1045.4,437.6 1045.0,437.7 1044.5,436.8 1043.5,437.6 1043.0,437.0 1042.0,438.0 1041.0,436.3 1040.0,437.0 1039.1,435.8 1038.1,436.4 1037.6,435.9 1036.1,438.9 1035.1,435.9 1034.7,435.6 1034.2,436.8 1033.2,437.0 1032.2,435.7 1030.7,436.5 1029.7,435.9 1028.8,437.1 1027.3,435.8 1026.8,435.6 1026.3,436.4 1025.8,435.6 1025.3,435.8 1024.4,437.9 1023.4,437.7 1021.9,435.3 1020.9,436.1 1019.9,435.4 1019.4,436.6 1018.5,435.6 1017.5,435.6 1017.0,436.5 1016.0,435.0 1015.0,435.0 1013.6,435.0 1012.6,435.6 1012.1,435.3 1011.1,436.2 1010.6,435.9 1009.6,437.5 1008.7,435.0 1006.2,436.0 1004.2,435.1 1002.3,436.4 1001.3,435.2 999.8,436.0 999.3,436.9 998.8,435.7 997.9,436.8 996.9,435.3 994.9,435.3 993.9,436.1 993.5,435.2 992.5,435.9 991.5,435.8 991.0,436.4 990.5,435.2 990.0,435.8 989.5,435.4 989.0,436.0 988.5,435.2 987.1,437.2 986.1,435.6 985.1,435.3 984.1,435.6 983.6,437.0 982.7,436.2 980.7,436.3 980.2,435.5 979.2,436.5 978.7,435.1 978.2,435.7 977.8,435.3 977.3,435.8 975.3,435.2 974.3,435.8 973.8,437.2 972.4,435.4 971.9,435.9 969.9,435.3 968.9,435.5 967.9,438.7 967.5,439.0 966.0,435.6 965.0,438.2 964.5,436.6 963.5,435.9 962.6,437.6 961.6,435.7 961.1,436.6 959.1,437.2 958.1,435.7 957.6,437.5 956.2,439.0 955.2,436.5 954.7,437.2 954.2,437.1 952.7,435.8 951.3,436.2 950.8,435.9 949.8,437.3 948.8,436.9 947.3,437.4 946.9,438.0 945.9,436.4 945.4,438.6 944.9,439.0 943.9,436.7 942.9,436.3 942.0,438.5 941.5,438.4 940.5,436.3 939.5,438.0 938.5,436.9 937.5,436.6 937.0,437.0 936.1,439.5 935.1,436.2 934.6,437.3 933.6,436.4 932.6,438.4 931.7,436.8 931.2,436.7 930.2,437.5 928.7,436.8 928.2,435.8 926.3,438.4 925.3,436.1 924.8,436.5 924.3,435.8 923.8,436.3 922.8,435.7 922.3,436.5 921.4,435.3 920.9,435.7 920.4,435.3 919.4,436.2 918.4,435.3 917.4,436.9 916.4,435.5 916.0,435.9 915.5,435.6 914.5,436.8 913.5,435.3 912.5,436.2 911.5,435.3 910.6,435.2 909.6,437.7 907.1,435.6 905.2,437.3 903.7,435.5 902.7,436.8 901.2,435.6 900.3,435.5 899.3,436.6 898.8,435.7 897.8,435.5 896.8,437.0 896.3,436.3 895.8,436.5 895.4,437.2 894.4,437.3 893.9,437.8 892.9,435.6 891.4,437.9 889.5,436.3 889.0,436.9 888.5,436.7 888.0,435.9 887.5,437.9 887.0,438.0 886.5,436.3 885.5,439.3 884.1,435.9 883.6,435.4 883.1,436.2 881.6,435.2 880.2,436.7 879.7,435.4 879.2,435.8 878.2,435.4 877.2,436.7 876.7,435.7 875.7,436.1 875.2,435.5 874.3,436.2 873.8,435.3 872.8,436.6 871.8,435.4 870.3,437.6 868.9,435.8 866.9,435.4 864.5,436.7 862.5,435.5 861.5,436.3 861.0,435.8 860.0,437.7 859.1,435.8 858.6,437.5 858.1,437.2 857.6,435.7 857.1,437.2 856.1,435.6 855.6,437.2 855.1,437.3 854.6,435.5 854.2,436.4 853.2,435.6 852.2,435.8 851.2,437.5 850.2,435.2 849.7,435.3 848.8,436.8 847.8,435.4 847.3,435.6 845.8,438.0 844.8,437.0 844.3,435.3 843.9,436.2 843.4,435.6 842.4,437.1 841.9,435.5 841.4,436.8 839.9,436.9 839.0,438.9 837.5,435.8 836.0,435.5 834.5,436.7 833.1,435.9 832.6,436.7 831.6,436.0 830.6,437.4 828.7,435.3 828.2,436.2 826.7,435.5 825.7,438.9 824.2,435.2 823.3,436.7 822.3,436.4 821.3,435.2 820.8,437.2 820.3,437.4 819.3,435.1 818.8,435.0 817.9,436.0 816.4,435.0 815.4,435.5 814.9,436.6 813.9,435.0 813.0,436.9 812.5,435.8 809.5,435.1 809.0,435.6 808.5,435.4 807.6,436.9 806.6,435.1 805.1,436.4 804.6,436.4 804.1,435.6 803.1,437.8 802.2,435.5 801.7,436.5 801.2,436.2 800.7,436.6 799.7,438.6 798.7,437.2 797.8,437.6 796.8,435.7 795.8,435.4 794.8,435.6 793.8,436.4 792.4,435.4 791.4,436.2 790.9,437.6 789.9,436.0 789.4,437.2 788.9,437.4 787.5,435.8 786.0,437.0 785.0,436.1 784.0,435.9 783.0,438.4 782.5,438.2 781.6,435.6 780.1,436.0 779.6,435.7 779.1,436.3 778.6,435.5 778.1,436.7 777.2,435.7 776.2,435.8 775.2,436.1 774.2,438.0 772.7,435.9 771.8,436.6 771.3,435.8 770.8,436.2 770.3,435.9 767.8,438.0 766.9,436.3 765.9,435.9 764.9,438.1 763.4,440.2 762.9,440.2 761.9,435.9 761.0,436.9 759.5,436.1 758.5,436.4 758.0,435.9 756.6,437.2 755.6,436.1 752.6,437.9 751.2,436.4 749.7,439.7 748.7,437.0 748.2,436.7 747.2,438.5 746.3,436.2 745.8,436.2 745.3,437.0 743.3,435.9 742.8,437.0 741.8,436.0 741.3,436.6 740.9,435.8 739.4,438.0 737.9,436.1 737.4,437.0 736.0,435.7 734.5,437.4 733.0,436.9 732.5,436.1 731.5,436.5 730.6,435.5 729.1,435.7 726.6,438.0 725.2,435.7 723.7,436.6 722.7,435.7 722.2,436.2 721.7,436.0 720.3,442.1 719.8,441.8 719.3,438.5 717.8,444.9 716.8,446.4 716.3,446.2 715.8,446.8 714.9,456.9" fill="#55A868" stroke="#55A868" stroke-width="5.1" stroke-linejoin="round" clip-path="url(#cp11)" />
<polyline points="1258.0,527.9 1270.3,527.9 1271.2,470.0 1272.0,402.1" fill="none" stroke="#55A868" stroke-width="5.1" stroke-linejoin="round" stroke-linecap="round" clip-path="url(#cp12)" />
<polygon points="1272.0,407.8 1273.0,414.9 1273.4,414.9 1273.9,417.1 1274.9,416.7 1275.4,417.4 1276.3,421.3 1277.8,422.7 1278.7,422.2 1279.2,422.9 1280.2,423.0 1280.6,424.6 1281.6,425.4 1282.1,427.3 1283.0,424.1 1284.5,428.0 1285.9,425.9 1286.4,426.1 1287.3,428.5 1287.8,428.2 1289.7,428.3 1291.2,427.2 1292.1,428.0 1292.6,426.6 1293.6,425.9 1294.5,427.1 1295.0,426.8 1295.5,427.8 1296.5,425.3 1297.4,427.9 1298.4,426.0 1299.3,427.9 1299.8,427.2 1301.2,426.6 1302.2,424.3 1302.7,424.6 1303.6,427.3 1304.1,427.5 1305.1,426.4 1305.6,427.4 1306.5,427.4 1307.5,425.8 1308.9,426.0 1309.9,427.0 1310.4,426.1 1311.3,426.9 1312.3,426.1 1312.8,426.9 1314.7,427.5 1315.1,426.0 1316.1,427.1 1317.1,424.7 1317.5,424.5 1318.5,427.4 1319.9,427.0 1320.4,427.3 1321.4,426.2 1322.3,428.2 1322.8,428.2 1323.8,425.9 1324.7,427.6 1325.7,427.2 1326.2,428.1 1326.7,427.1 1327.1,427.8 1328.1,424.4 1329.1,423.6 1329.5,423.7 1330.5,427.7 1331.0,426.7 1331.4,427.3 1332.4,427.3 1333.4,425.5 1333.8,426.6 1334.8,424.3 1335.3,426.7 1335.8,424.8 1337.2,425.8 1337.7,425.2 1338.2,425.8 1338.6,424.7 1339.6,425.2 1342.0,421.6 1343.4,424.8 1345.4,422.6 1345.8,422.8 1346.3,424.7 1346.8,423.0 1347.3,423.3 1347.7,425.6 1348.7,425.7 1349.2,424.7 1350.1,426.1 1351.1,425.4 1352.1,426.8 1354.5,427.0 1354.9,426.4 1355.9,428.0 1356.4,426.2 1356.9,425.9 1357.3,427.2 1358.8,427.6 1359.3,426.8 1360.2,428.3 1360.7,427.6 1361.7,428.0 1362.1,426.8 1362.6,427.7 1363.6,426.7 1364.5,428.1 1366.0,425.1 1367.4,427.6 1367.9,427.8 1368.4,427.3 1369.8,428.1 1370.8,424.1 1371.7,427.1 1372.7,425.7 1373.2,428.6 1373.6,426.4 1374.1,426.4 1374.6,428.4 1375.6,427.8 1376.5,425.8 1377.0,425.7 1377.5,428.5 1378.0,426.4 1378.4,426.6 1378.9,428.6 1379.4,428.7 1379.9,428.0 1380.3,428.7 1380.8,427.3 1381.8,428.5 1382.3,427.1 1383.7,426.8 1384.7,428.8 1386.1,426.6 1386.6,427.0 1387.5,425.0 1389.0,428.1 1389.5,427.1 1390.4,428.1 1391.9,424.4 1392.8,427.7 1393.3,425.8 1393.8,425.5 1394.7,427.0 1396.2,426.0 1396.6,426.8 1398.1,424.5 1399.5,426.3 1401.4,425.5 1401.9,426.5 1402.9,426.5 1403.4,427.0 1403.8,426.1 1404.8,426.2 1406.2,424.3 1406.7,424.3 1407.7,427.7 1408.2,427.3 1409.1,427.6 1409.6,428.5 1410.6,427.3 1411.0,427.4 1411.5,428.9 1412.0,427.8 1412.9,427.9 1413.4,427.2 1413.9,427.4 1414.9,429.8 1415.8,430.2 1416.8,429.9 1417.3,430.5 1419.2,429.6 1420.6,427.2 1421.6,430.9 1422.1,429.7 1422.5,430.8 1424.0,428.7 1424.5,430.5 1424.9,429.5 1425.4,430.3 1425.9,429.0 1426.9,429.6 1427.8,426.9 1428.3,428.8 1429.3,425.7 1429.7,425.4 1431.2,427.9 1431.6,428.0 1432.6,428.0 1433.1,427.5 1433.6,427.8 1434.0,427.1 1434.5,427.4 1435.5,426.9 1436.4,427.3 1436.9,426.0 1438.4,427.3 1439.8,427.5 1441.7,426.0 1442.7,427.3 1443.6,426.4 1444.1,426.8 1445.1,423.4 1446.0,426.4 1447.0,427.7 1447.5,427.0 1448.4,426.9 1448.9,425.1 1449.9,426.8 1451.3,427.2 1451.8,426.6 1452.7,426.4 1454.2,424.0 1454.7,423.9 1455.1,425.7 1455.6,425.8 1456.6,425.4 1457.1,423.8 1457.5,424.0 1458.5,426.3 1459.9,425.5 1460.4,425.9 1461.4,424.7 1462.3,425.7 1463.3,425.7 1464.7,424.5 1466.6,425.6 1467.6,425.7 1468.1,425.0 1469.0,425.3 1469.5,424.5 1470.0,425.6 1471.0,421.8 1471.4,421.5 1472.4,426.0 1472.9,423.2 1473.4,422.9 1474.3,425.7 1475.3,424.3 1476.7,426.0 1478.2,425.2 1479.1,426.2 1479.6,425.5 1480.5,425.6 1481.5,422.6 1483.4,426.3 1485.3,423.3 1486.8,426.0 1489.2,425.9 1490.6,423.1 1492.1,425.3 1493.5,423.1 1494.5,423.1 1495.4,424.4 1496.4,420.1 1498.3,424.3 1499.2,422.6 1500.2,424.7 1501.2,424.7 1502.1,421.8 1502.6,421.6 1503.1,422.5 1503.6,422.3 1504.0,422.7 1505.0,425.2 1505.5,425.3 1506.4,423.6 1506.9,423.9 1508.4,427.2 1509.3,426.3 1509.8,427.9 1510.8,426.4 1511.2,426.7 1511.7,428.5 1512.2,428.3 1512.7,429.1 1513.1,428.7 1514.1,429.1 1515.5,428.3 1516.5,429.7 1517.9,426.7 1518.9,429.0 1519.9,428.3 1520.8,425.7 1521.8,428.8 1523.2,427.3 1524.2,428.0 1524.7,427.9 1525.6,425.8 1527.1,427.2 1528.0,424.8 1529.9,426.6 1530.9,423.1 1531.4,425.1 1532.3,425.2 1532.8,426.1 1533.8,424.5 1534.2,424.4 1534.7,425.7 1535.7,426.4 1536.2,425.1 1536.6,425.0 1537.6,426.2 1538.6,425.1 1539.5,425.7 1540.5,422.9 1541.4,422.9 1542.9,426.0 1543.4,425.1 1544.3,425.5 1544.8,423.8 1545.3,423.7 1548.1,425.9 1549.6,422.5 1550.5,425.3 1551.5,423.9 1552.0,423.9 1552.9,424.9 1553.9,424.3 1554.4,425.4 1555.3,423.2 1556.3,424.0 1557.3,422.7 1558.2,423.5 1558.7,425.6 1559.2,423.4 1560.1,422.1 1561.1,425.5 1561.6,425.8 1563.0,423.0 1564.0,425.5 1564.9,426.0 1565.9,424.5 1566.8,425.3 1569.2,422.0 1569.7,421.9 1571.2,426.1 1571.6,426.1 1572.6,424.5 1573.1,425.9 1573.6,424.7 1574.5,425.0 1575.0,422.9 1576.0,425.8 1576.4,425.4 1577.4,425.5 1577.9,423.6 1578.4,423.9 1579.3,426.2 1580.7,425.0 1581.2,426.4 1581.7,423.9 1582.2,423.8 1582.7,425.9 1583.6,425.4 1584.1,426.3 1585.1,425.6 1585.5,426.4 1586.5,425.0 1587.0,426.3 1587.5,424.4 1588.4,426.5 1588.9,426.4 1589.9,424.1 1590.8,426.5 1592.3,425.5 1592.7,426.0 1593.7,422.8 1595.1,426.3 1596.1,426.2 1597.0,424.5 1597.5,425.7 1598.5,425.8 1599.4,425.4 1600.4,422.7 1600.9,422.9 1601.8,426.3 1602.3,426.5 1603.3,423.3 1603.8,423.1 1604.7,426.3 1605.7,425.8 1606.6,427.2 1608.6,424.1 1609.0,424.3 1610.0,427.8 1611.9,428.2 1614.3,427.9 1614.8,426.5 1615.7,427.8 1616.7,427.2 1617.2,427.5 1617.7,425.6 1618.6,427.4 1620.1,425.8 1622.5,427.0 1623.4,424.8 1623.9,426.2 1625.8,425.0 1626.8,426.8 1629.2,424.2 1630.6,426.2 1631.6,424.1 1632.5,425.6 1633.0,425.7 1633.5,424.9 1634.4,425.6 1635.9,425.0 1636.4,426.0 1637.3,424.9 1637.8,425.8 1638.8,424.9 1639.7,425.0 1640.7,424.2 1641.2,426.0 1641.6,425.3 1642.6,426.6 1643.1,426.8 1643.6,426.2 1644.0,426.9 1644.5,425.6 1645.9,426.6 1646.9,426.2 1647.9,427.3 1649.3,426.4 1649.8,424.6 1651.2,427.6 1652.2,424.5 1654.1,427.8 1654.6,427.3 1655.1,428.0 1657.0,426.0 1657.9,428.2 1658.9,426.6 1659.4,427.3 1660.3,425.6 1661.8,428.2 1662.7,426.1 1663.7,426.4 1664.6,424.0 1666.1,427.8 1667.0,428.2 1668.5,427.2 1669.0,426.3 1669.4,428.2 1669.9,428.5 1670.4,428.4 1671.4,424.6 1672.3,428.7 1672.8,427.4 1673.8,427.7 1675.2,426.2 1676.6,426.7 1677.6,427.9 1678.5,428.4 1680.0,426.8 1680.5,424.9 1681.4,427.8 1682.4,425.7 1683.3,427.5 1684.8,427.5 1686.7,423.9 1687.7,426.2 1688.6,423.1 1689.6,426.3 1690.1,425.3 1690.5,426.0 1692.0,422.3 1692.5,423.2 1693.4,423.8 1693.9,425.6 1694.4,425.6 1695.3,423.1 1696.3,424.5 1697.2,424.7 1698.2,426.4 1699.6,426.3 1700.1,426.8 1701.1,426.2 1702.0,427.8 1703.0,425.2 1703.0,437.6 1702.0,436.5 1701.6,436.5 1700.6,438.1 1699.6,436.4 1699.2,437.2 1696.8,435.2 1695.3,434.9 1694.8,435.4 1694.4,434.9 1693.4,435.9 1692.9,434.7 1692.5,435.6 1691.5,434.9 1689.1,435.5 1688.1,437.6 1687.7,437.7 1686.7,436.0 1686.2,436.0 1685.3,438.0 1683.8,437.1 1682.9,438.0 1681.9,438.1 1681.4,437.3 1680.0,439.3 1678.5,438.1 1677.6,439.0 1676.2,438.1 1675.7,438.5 1675.2,438.1 1674.2,438.8 1673.3,437.8 1672.8,437.8 1672.3,438.5 1671.8,437.7 1671.4,438.2 1670.4,437.6 1669.9,438.6 1669.4,438.6 1668.0,436.8 1664.6,437.1 1664.2,436.7 1663.7,437.8 1663.2,437.9 1661.8,436.8 1660.3,437.8 1659.9,437.3 1658.9,437.7 1658.4,436.9 1657.5,438.4 1656.5,437.7 1655.1,438.1 1654.6,436.8 1653.6,439.0 1653.1,438.3 1651.7,438.7 1650.7,436.8 1650.3,437.8 1648.8,436.3 1646.9,436.7 1646.4,436.3 1645.5,437.1 1644.0,435.6 1643.1,436.8 1642.1,436.5 1641.6,435.7 1640.7,436.3 1640.2,435.2 1639.7,435.6 1638.8,435.1 1637.8,435.9 1637.3,435.6 1636.4,437.6 1635.9,435.7 1634.9,436.3 1634.0,435.2 1633.5,435.8 1633.0,435.6 1632.5,437.0 1632.0,435.8 1630.6,436.6 1627.7,435.5 1626.8,436.8 1624.4,435.5 1623.4,436.6 1622.5,436.7 1622.0,436.2 1620.1,437.6 1619.1,436.8 1616.7,436.7 1615.3,437.1 1614.8,438.0 1613.8,437.0 1612.9,438.8 1611.4,436.9 1610.0,437.7 1609.0,436.5 1608.6,437.9 1608.1,437.8 1607.6,436.6 1606.6,436.2 1604.2,435.6 1602.8,436.2 1602.3,435.2 1600.9,438.0 1600.4,437.8 1599.4,434.8 1599.0,434.6 1598.0,434.7 1597.5,435.5 1597.0,435.9 1596.6,435.5 1596.1,436.1 1594.2,435.2 1591.8,435.3 1590.3,437.8 1589.4,436.1 1588.9,436.3 1587.9,435.6 1585.5,436.4 1585.1,435.8 1584.1,436.4 1583.6,435.7 1583.1,436.9 1582.2,435.4 1580.7,436.2 1580.3,437.7 1578.8,435.1 1577.9,435.0 1576.9,437.0 1576.0,435.0 1575.5,435.5 1575.0,434.9 1574.5,435.4 1573.1,435.1 1572.6,435.8 1572.1,435.1 1571.6,435.6 1570.7,435.1 1569.7,437.0 1568.8,435.8 1567.3,437.3 1565.9,435.0 1564.9,435.5 1563.5,434.8 1563.0,435.5 1560.6,434.6 1559.7,436.7 1558.7,435.0 1557.7,434.5 1557.3,435.0 1556.8,434.4 1555.8,436.3 1554.9,434.6 1553.9,435.7 1552.0,436.6 1550.1,434.5 1549.6,435.9 1548.6,435.6 1547.2,436.9 1546.7,436.8 1545.7,434.8 1543.4,435.3 1542.4,437.0 1541.4,434.9 1540.5,436.3 1540.0,435.5 1539.5,436.0 1536.6,435.3 1535.7,437.5 1535.2,437.5 1533.8,436.9 1533.3,435.5 1532.3,436.4 1531.4,435.2 1529.9,437.1 1529.0,436.0 1526.1,436.9 1525.6,436.6 1522.3,437.4 1521.8,438.5 1520.3,437.7 1519.4,439.5 1517.9,438.2 1517.0,439.0 1516.0,438.3 1515.1,439.1 1513.6,438.1 1513.1,438.9 1511.7,437.7 1510.8,437.6 1510.3,436.9 1509.8,437.6 1508.8,436.5 1507.4,436.2 1506.9,435.5 1506.0,436.3 1505.0,434.6 1504.5,435.5 1503.6,434.6 1503.1,436.1 1501.2,433.5 1500.7,433.8 1500.2,433.5 1499.2,435.8 1498.3,433.2 1497.3,434.5 1496.8,433.5 1495.9,434.8 1495.4,433.3 1494.0,434.7 1493.5,433.9 1493.0,434.4 1491.6,434.5 1490.6,435.6 1489.7,434.9 1487.7,436.3 1486.8,435.6 1486.3,436.6 1484.9,436.0 1483.9,436.9 1482.9,435.6 1482.0,435.5 1478.6,436.7 1478.2,435.5 1477.2,436.8 1476.7,436.8 1475.8,435.8 1474.3,436.0 1472.9,434.8 1471.4,436.4 1469.5,435.8 1468.1,434.3 1467.1,437.4 1466.2,436.5 1465.7,436.8 1464.7,435.2 1463.8,435.7 1462.8,434.6 1459.9,435.2 1459.5,436.2 1458.0,435.3 1454.7,435.5 1453.2,436.5 1451.8,438.4 1450.3,436.5 1449.9,437.2 1449.4,436.7 1447.9,437.0 1447.5,437.5 1445.6,437.1 1445.1,437.6 1444.6,436.7 1443.6,438.2 1442.2,437.1 1441.2,437.9 1440.3,436.4 1438.8,436.1 1437.9,437.9 1436.9,436.2 1435.5,437.0 1435.0,436.5 1434.5,437.2 1434.0,436.5 1432.1,439.6 1430.7,437.8 1429.7,439.4 1428.8,438.0 1427.8,438.7 1425.9,439.1 1424.5,441.5 1424.0,440.8 1422.1,439.8 1421.1,440.5 1420.6,439.8 1420.1,440.2 1419.7,439.7 1418.7,441.2 1417.7,439.9 1417.3,440.3 1415.8,439.9 1415.3,440.7 1414.4,439.4 1413.4,439.7 1412.9,438.9 1412.0,439.3 1411.0,437.6 1409.1,438.4 1407.7,437.1 1407.2,438.0 1406.7,437.7 1406.2,436.9 1404.8,436.0 1403.8,437.0 1403.4,436.1 1402.4,435.9 1401.9,436.9 1400.5,435.6 1399.5,436.6 1399.0,435.6 1398.6,436.6 1396.6,435.9 1395.7,437.1 1394.7,436.0 1393.3,437.9 1391.9,436.9 1390.9,437.3 1390.4,436.9 1389.9,437.5 1389.5,437.3 1388.0,438.1 1387.5,437.6 1386.1,438.2 1385.1,437.6 1384.2,439.6 1383.2,438.0 1380.8,438.2 1379.4,440.0 1378.0,439.2 1377.5,439.9 1376.5,438.1 1375.6,438.5 1375.1,437.4 1374.6,438.4 1373.6,438.0 1373.2,439.6 1372.7,439.8 1372.2,438.0 1371.2,437.3 1370.8,438.2 1370.3,438.2 1369.8,437.4 1369.3,438.5 1368.4,437.1 1367.9,437.1 1366.0,438.5 1364.5,436.9 1363.6,439.5 1362.1,437.1 1360.2,438.0 1358.8,437.0 1357.8,438.2 1357.3,437.0 1356.9,437.7 1355.9,437.0 1354.5,438.2 1353.0,436.5 1352.1,436.9 1351.6,436.7 1350.6,435.2 1347.7,434.7 1346.8,436.2 1345.8,435.3 1343.4,434.9 1342.5,434.1 1341.5,435.4 1340.6,434.3 1339.6,434.9 1339.1,436.1 1338.6,434.8 1338.2,435.4 1336.7,435.0 1335.3,437.5 1334.3,436.4 1333.4,436.1 1332.9,437.1 1331.9,436.6 1331.4,437.4 1330.5,437.5 1330.0,438.9 1329.1,437.4 1328.6,437.4 1328.1,437.6 1327.1,440.8 1325.2,437.6 1324.7,437.8 1323.8,437.1 1322.8,437.6 1319.5,436.5 1318.5,437.6 1317.5,436.4 1317.1,437.8 1316.1,436.7 1315.6,438.3 1314.7,436.2 1313.7,436.5 1312.8,437.5 1310.8,436.0 1309.9,437.5 1308.4,437.3 1307.5,436.3 1306.5,436.2 1305.6,437.0 1305.1,436.0 1304.1,436.8 1303.6,436.5 1302.7,436.8 1302.2,436.4 1301.2,438.2 1300.8,438.0 1300.3,436.5 1299.8,437.5 1298.8,436.6 1297.4,437.5 1296.5,437.0 1295.0,439.3 1294.1,437.3 1293.1,439.3 1292.1,437.2 1290.2,439.4 1288.8,437.6 1288.3,437.8 1287.8,437.2 1286.4,437.6 1285.9,438.9 1284.9,437.4 1284.0,438.4 1283.0,437.1 1282.5,437.1 1281.6,438.8 1280.6,436.6 1277.3,436.3 1276.3,436.9 1275.4,435.8 1273.4,437.3 1272.5,435.4 1272.0,436.3" fill="#55A868" stroke="#55A868" stroke-width="5.1" stroke-linejoin="round" clip-path="url(#cp12)" />
<polyline points="1281.3,430.0 1281.3,418.3" fill="none" stroke="#55A868" stroke-width="5.1" stroke-linejoin="round" stroke-linecap="round" clip-path="url(#cp12)" />
<polyline points="1300.7,430.0 1300.7,417.2" fill="none" stroke="#55A868" stroke-width="5.1" stroke-linejoin="round" stroke-linecap="round" clip-path="url(#cp12)" />
<polyline points="1305.2,430.0 1305.2,418.2" fill="none" stroke="#55A868" stroke-width="5.1" stroke-linejoin="round" stroke-linecap="round" clip-path="url(#cp12)" />
<polyline points="1310.8,430.0 1310.8,419.9" fill="none" stroke="#55A868" stroke-width="5.1" stroke-linejoin="round" stroke-linecap="round" clip-path="url(#cp12)" />
<polyline points="1319.9,430.0 1319.9,413.4" fill="none" stroke="#55A868" stroke-width="5.1" stroke-linejoin="round" stroke-linecap="round" clip-path="url(#cp12)" />
<polyline points="1320.5,430.0 1320.5,406.1" fill="none" stroke="#55A868" stroke-width="5.1" stroke-linejoin="round" stroke-linecap="round" clip-path="url(#cp12)" />
<polyline points="1333.2,430.0 1333.2,413.4" fill="none" stroke="#55A868" stroke-width="5.1" stroke-linejoin="round" stroke-linecap="round" clip-path="url(#cp12)" />
<polyline points="1335.7,430.0 1335.7,414.9" fill="none" stroke="#55A868" stroke-width="5.1" stroke-linejoin="round" stroke-linecap="round" clip-path="url(#cp12)" />
<polyline points="1348.8,430.0 1348.8,413.9" fill="none" stroke="#55A868" stroke-width="5.1" stroke-linejoin="round" stroke-linecap="round" clip-path="url(#cp12)" />
<polyline points="1363.8,430.0 1363.8,408.3" fill="none" stroke="#55A868" stroke-width="5.1" stroke-linejoin="round" stroke-linecap="round" clip-path="url(#cp12)" />
<polyline points="1369.0,430.0 1369.0,416.4" fill="none" stroke="#55A868" stroke-width="5.1" stroke-linejoin="round" stroke-linecap="round" clip-path="url(#cp12)" />
<polyline points="1414.7,430.0 1414.7,414.5" fill="none" stroke="#55A868" stroke-width="5.1" stroke-linejoin="round" stroke-linecap="round" clip-path="url(#cp12)" />
<polyline points="1425.2,430.0 1425.2,409.4" fill="none" stroke="#55A868" stroke-width="5.1" stroke-linejoin="round" stroke-linecap="round" clip-path="url(#cp12)" />
<polyline points="1432.2,430.0 1432.2,413.3" fill="none" stroke="#55A868" stroke-width="5.1" stroke-linejoin="round" stroke-linecap="round" clip-path="url(#cp12)" />
<polyline points="1432.6,430.0 1432.6,416.6" fill="none" stroke="#55A868" stroke-width="5.1" stroke-linejoin="round" stroke-linecap="round" clip-path="url(#cp12)" />
<polyline points="1443.9,430.0 1443.9,412.6" fill="none" stroke="#55A868" stroke-width="5.1" stroke-linejoin="round" stroke-linecap="round" clip-path="url(#cp12)" />
<polyline points="1466.5,430.0 1466.5,408.1" fill="none" stroke="#55A868" stroke-width="5.1" stroke-linejoin="round" stroke-linecap="round" clip-path="url(#cp12)" />
<polyline points="1471.6,430.0 1471.6,417.3" fill="none" stroke="#55A868" stroke-width="5.1" stroke-linejoin="round" stroke-linecap="round" clip-path="url(#cp12)" />
<polyline points="1481.8,430.0 1481.8,405.5" fill="none" stroke="#55A868" stroke-width="5.1" stroke-linejoin="round" stroke-linecap="round" clip-path="url(#cp12)" />
<polyline points="1490.1,430.0 1490.1,414.3" fill="none" stroke="#55A868" stroke-width="5.1" stroke-linejoin="round" stroke-linecap="round" clip-path="url(#cp12)" />
<polyline points="1498.9,430.0 1498.9,409.6" fill="none" stroke="#55A868" stroke-width="5.1" stroke-linejoin="round" stroke-linecap="round" clip-path="url(#cp12)" />
<polyline points="1518.5,430.0 1518.5,404.8" fill="none" stroke="#55A868" stroke-width="5.1" stroke-linejoin="round" stroke-linecap="round" clip-path="url(#cp12)" />
<polyline points="1524.3,430.0 1524.3,403.0" fill="none" stroke="#55A868" stroke-width="5.1" stroke-linejoin="round" stroke-linecap="round" clip-path="url(#cp12)" />
<polyline points="1539.4,430.0 1539.4,407.4" fill="none" stroke="#55A868" stroke-width="5.1" stroke-linejoin="round" stroke-linecap="round" clip-path="url(#cp12)" />
<polyline points="1541.1,430.0 1541.1,403.1" fill="none" stroke="#55A868" stroke-width="5.1" stroke-linejoin="round" stroke-linecap="round" clip-path="url(#cp12)" />
<polyline points="1565.7,430.0 1565.7,404.6" fill="none" stroke="#55A868" stroke-width="5.1" stroke-linejoin="round" stroke-linecap="round" clip-path="url(#cp12)" />
<polyline points="1571.5,430.0 1571.5,407.8" fill="none" stroke="#55A868" stroke-width="5.1" stroke-linejoin="round" stroke-linecap="round" clip-path="url(#cp12)" />
<polyline points="1575.9,430.0 1575.9,409.1" fill="none" stroke="#55A868" stroke-width="5.1" stroke-linejoin="round" stroke-linecap="round" clip-path="url(#cp12)" />
<polyline points="1576.9,430.0 1576.9,401.1" fill="none" stroke="#55A868" stroke-width="5.1" stroke-linejoin="round" stroke-linecap="round" clip-path="url(#cp12)" />
<polyline points="1594.3,430.0 1594.3,409.2" fill="none" stroke="#55A868" stroke-width="5.1" stroke-linejoin="round" stroke-linecap="round" clip-path="url(#cp12)" />
<polyline points="1595.6,430.0 1595.6,401.2" fill="none" stroke="#55A868" stroke-width="5.1" stroke-linejoin="round" stroke-linecap="round" clip-path="url(#cp12)" />
<polyline points="1599.0,430.0 1599.0,404.0" fill="none" stroke="#55A868" stroke-width="5.1" stroke-linejoin="round" stroke-linecap="round" clip-path="url(#cp12)" />
<polyline points="1602.3,430.0 1602.3,404.9" fill="none" stroke="#55A868" stroke-width="5.1" stroke-linejoin="round" stroke-linecap="round" clip-path="url(#cp12)" />
<polyline points="1621.7,430.0 1621.7,415.6" fill="none" stroke="#55A868" stroke-width="5.1" stroke-linejoin="round" stroke-linecap="round" clip-path="url(#cp12)" />
<polyline points="1628.7,430.0 1628.7,413.1" fill="none" stroke="#55A868" stroke-width="5.1" stroke-linejoin="round" stroke-linecap="round" clip-path="url(#cp12)" />
<polyline points="1629.2,430.0 1629.2,413.9" fill="none" stroke="#55A868" stroke-width="5.1" stroke-linejoin="round" stroke-linecap="round" clip-path="url(#cp12)" />
<polyline points="1643.1,430.0 1643.1,399.9" fill="none" stroke="#55A868" stroke-width="5.1" stroke-linejoin="round" stroke-linecap="round" clip-path="url(#cp12)" />
<polyline points="1649.1,430.0 1649.1,399.7" fill="none" stroke="#55A868" stroke-width="5.1" stroke-linejoin="round" stroke-linecap="round" clip-path="url(#cp12)" />
<polyline points="1658.3,430.0 1658.3,403.2" fill="none" stroke="#55A868" stroke-width="5.1" stroke-linejoin="round" stroke-linecap="round" clip-path="url(#cp12)" />
<polyline points="1662.5,430.0 1662.5,396.8" fill="none" stroke="#55A868" stroke-width="5.1" stroke-linejoin="round" stroke-linecap="round" clip-path="url(#cp12)" />
<polyline points="1667.3,430.0 1667.3,400.9" fill="none" stroke="#55A868" stroke-width="5.1" stroke-linejoin="round" stroke-linecap="round" clip-path="url(#cp12)" />
<polyline points="1668.2,430.0 1668.2,409.8" fill="none" stroke="#55A868" stroke-width="5.1" stroke-linejoin="round" stroke-linecap="round" clip-path="url(#cp12)" />
<polyline points="1668.8,430.0 1668.8,411.9" fill="none" stroke="#55A868" stroke-width="5.1" stroke-linejoin="round" stroke-linecap="round" clip-path="url(#cp12)" />
<polyline points="1697.2,430.0 1697.2,397.3" fill="none" stroke="#55A868" stroke-width="5.1" stroke-linejoin="round" stroke-linecap="round" clip-path="url(#cp12)" />
<polyline points="1697.3,430.0 1697.3,397.5" fill="none" stroke="#55A868" stroke-width="5.1" stroke-linejoin="round" stroke-linecap="round" clip-path="url(#cp12)" />
<line x1="632" y1="264.2" x2="619.5" y2="264.2" stroke="#55A868" stroke-width="3.0" />
<line x1="632" y1="224.2" x2="619.5" y2="224.2" stroke="#55A868" stroke-width="3.0" />
<line x1="632" y1="184.2" x2="619.5" y2="184.2" stroke="#55A868" stroke-width="3.0" />
<line x1="632" y1="144.2" x2="619.5" y2="144.2" stroke="#55A868" stroke-width="3.0" />
<line x1="632" y1="104.2" x2="619.5" y2="104.2" stroke="#55A868" stroke-width="3.0" />
<line x1="632" y1="97.7" x2="632" y2="270.8" stroke="#55A868" stroke-width="3.0" />
<line x1="632" y1="527.9" x2="619.5" y2="527.9" stroke="#55A868" stroke-width="3.0" />
<line x1="632" y1="487.9" x2="619.5" y2="487.9" stroke="#55A868" stroke-width="3.0" />
<line x1="632" y1="447.8" x2="619.5" y2="447.8" stroke="#55A868" stroke-width="3.0" />
<line x1="632" y1="407.8" x2="619.5" y2="407.8" stroke="#55A868" stroke-width="3.0" />
<line x1="632" y1="367.8" x2="619.5" y2="367.8" stroke="#55A868" stroke-width="3.0" />
<line x1="632" y1="361.7" x2="632" y2="534.5" stroke="#55A868" stroke-width="3.0" />
<line x1="1178.3" y1="264.2" x2="1165.8" y2="264.2" stroke="#55A868" stroke-width="3.0" />
<line x1="1178.3" y1="224.2" x2="1165.8" y2="224.2" stroke="#55A868" stroke-width="3.0" />
<line x1="1178.3" y1="184.2" x2="1165.8" y2="184.2" stroke="#55A868" stroke-width="3.0" />
<line x1="1178.3" y1="144.2" x2="1165.8" y2="144.2" stroke="#55A868" stroke-width="3.0" />
<line x1="1178.3" y1="104.2" x2="1165.8" y2="104.2" stroke="#55A868" stroke-width="3.0" />
<line x1="1178.3" y1="97.7" x2="1178.3" y2="270.8" stroke="#55A868" stroke-width="3.0" />
<line x1="1178.3" y1="527.9" x2="1165.8" y2="527.9" stroke="#55A868" stroke-width="3.0" />
<line x1="1178.3" y1="487.9" x2="1165.8" y2="487.9" stroke="#55A868" stroke-width="3.0" />
<line x1="1178.3" y1="447.8" x2="1165.8" y2="447.8" stroke="#55A868" stroke-width="3.0" />
<line x1="1178.3" y1="407.8" x2="1165.8" y2="407.8" stroke="#55A868" stroke-width="3.0" />
<line x1="1178.3" y1="367.8" x2="1165.8" y2="367.8" stroke="#55A868" stroke-width="3.0" />
<line x1="1178.3" y1="361.7" x2="1178.3" y2="534.5" stroke="#55A868" stroke-width="3.0" />
<line x1="1723.9" y1="264.2" x2="1711.4" y2="264.2" stroke="#55A868" stroke-width="3.0" />
<line x1="1723.9" y1="224.2" x2="1711.4" y2="224.2" stroke="#55A868" stroke-width="3.0" />
<line x1="1723.9" y1="184.2" x2="1711.4" y2="184.2" stroke="#55A868" stroke-width="3.0" />
<line x1="1723.9" y1="144.2" x2="1711.4" y2="144.2" stroke="#55A868" stroke-width="3.0" />
<line x1="1723.9" y1="104.2" x2="1711.4" y2="104.2" stroke="#55A868" stroke-width="3.0" />
<line x1="1723.9" y1="97.7" x2="1723.9" y2="270.8" stroke="#55A868" stroke-width="3.0" />
<line x1="1723.9" y1="527.9" x2="1711.4" y2="527.9" stroke="#55A868" stroke-width="3.0" />
<line x1="1723.9" y1="487.9" x2="1711.4" y2="487.9" stroke="#55A868" stroke-width="3.0" />
<line x1="1723.9" y1="447.8" x2="1711.4" y2="447.8" stroke="#55A868" stroke-width="3.0" />
<line x1="1723.9" y1="407.8" x2="1711.4" y2="407.8" stroke="#55A868" stroke-width="3.0" />
<line x1="1723.9" y1="367.8" x2="1711.4" y2="367.8" stroke="#55A868" stroke-width="3.0" />
<line x1="1723.9" y1="361.7" x2="1723.9" y2="534.5" stroke="#55A868" stroke-width="3.0" />
<rect x="166.8" y="360.2" width="23.7" height="175.8" fill="none" stroke="#444" stroke-width="1.6"/>
<line x1="146.0" y1="272.3" x2="166.8" y2="536.0" stroke="#222" stroke-width="1.6"/>
<line x1="632.0" y1="272.3" x2="190.5" y2="536.0" stroke="#222" stroke-width="1.6"/>
<rect x="713.1" y="360.2" width="23.7" height="175.8" fill="none" stroke="#444" stroke-width="1.6"/>
<line x1="692.3" y1="272.3" x2="713.1" y2="536.0" stroke="#222" stroke-width="1.6"/>
<line x1="1178.3" y1="272.3" x2="736.8" y2="536.0" stroke="#222" stroke-width="1.6"/>
<rect x="1258.7" y="360.2" width="23.7" height="175.8" fill="none" stroke="#444" stroke-width="1.6"/>
<line x1="1237.9" y1="272.3" x2="1258.7" y2="536.0" stroke="#222" stroke-width="1.6"/>
<line x1="1723.9" y1="272.3" x2="1282.4" y2="536.0" stroke="#222" stroke-width="1.6"/>
<clipPath id="fcl0"><rect x="145.4" y="667.5" width="486" height="268.8"/></clipPath>
<g clip-path="url(#fcl0)">
<polyline points="145.4,1036.2 195.1,1036.2 196.3,1035.7 197.1,1034.7 198.2,1029.9 199.0,1019.1 199.8,999.2 201.0,923.2 203.1,575.2 210.7,575.2 212.1,831.2 213.3,959.4 214.8,1018.3 215.8,1030.5 216.6,1034.0 217.4,1035.6 220.4,1036.2 279.9,1036.2 281.2,1035.9 282.1,1035.0 283.3,1030.7 284.3,1020.4 285.2,1000.7 286.6,933.8 289.9,575.2 293.2,575.2 296.4,925.2 297.8,996.9 299.4,1027.9 300.6,1034.3 301.5,1035.6 302.9,1036.2 337.7,1036.2 339.6,1035.5 340.5,1033.4 341.7,1025.4 342.5,1009.1 343.9,943.2 346.5,575.2 353.1,575.2 354.6,829.8 355.8,954.2 357.3,1015.8 358.3,1029.4 359.7,1035.0 360.9,1036.0 363.6,1036.2 642.7,1036.2" fill="none" stroke="#3b4cc0" stroke-width="5.0" stroke-linejoin="round" stroke-linecap="round" clip-path="url(#cp20)" />
</g>
<g clip-path="url(#fcl0)">
<polyline points="145.4,1036.2 190.6,1036.0 192.2,1035.1 193.3,1033.3 195.1,1025.0 196.3,1009.8 197.3,987.4 199.0,912.2 202.6,575.2 211.4,575.2 213.6,817.4 215.6,949.3 216.7,989.7 217.9,1015.0 219.4,1028.9 220.4,1032.9 221.7,1035.1 223.2,1036.0 225.8,1036.2 275.3,1036.1 277.1,1035.6 278.4,1034.4 280.2,1028.7 282.4,1008.0 284.2,964.0 289.4,712.4 290.6,676.3 291.6,665.3 292.6,676.4 293.7,712.6 298.8,960.1 300.4,1001.7 302.1,1023.9 304.0,1032.9 305.2,1035.0 307.1,1036.0 333.1,1036.1 335.5,1035.0 336.9,1031.9 338.6,1021.9 339.8,1004.3 341.9,935.4 343.8,814.2 346.4,575.2 353.2,575.2 356.0,826.6 358.0,948.2 359.1,987.6 360.3,1013.3 361.8,1028.0 363.7,1034.3 365.5,1035.9 369.4,1036.2 642.7,1036.2" fill="none" stroke="#3b4cc0" stroke-width="5.0" stroke-linejoin="round" stroke-linecap="round" clip-path="url(#cp20)" />
</g>
<polyline points="145.4,1036.2 201.5,1036.2 202.4,1035.8 202.9,1033.6 203.6,1007.8 204.1,931.5 204.9,575.2 209.0,575.2 210.0,974.1 210.6,1025.7 211.0,1033.2 211.6,1035.9 213.0,1036.2 286.1,1036.2 287.1,1036.0 287.6,1034.6 288.4,1013.8 288.9,960.6 290.1,575.2 293.0,575.2 293.2,583.3 294.2,961.5 294.8,1020.5 295.3,1032.7 295.9,1035.8 297.2,1036.2 344.4,1036.2 345.3,1035.9 345.8,1033.8 346.5,1011.2 347.0,945.1 347.9,575.2 351.7,575.2 352.6,951.5 353.2,1020.2 353.6,1031.2 354.2,1035.7 355.6,1036.2 432.6,1036.2 433.6,1036.0 434.1,1034.5 434.9,1011.3 435.4,950.4 436.4,575.2 439.8,575.2 440.8,958.6 441.4,1020.6 442.3,1035.3 442.6,1036.0 443.5,1036.2 469.7,1036.2 470.6,1035.2 471.1,1031.1 471.9,997.2 472.4,920.1 473.2,575.2 476.1,575.2 477.0,915.8 477.5,995.4 478.2,1030.8 478.7,1035.2 479.7,1036.2 503.1,1036.2 503.8,1035.8 504.3,1033.8 505.2,1007.9 505.7,949.7 506.8,575.2 509.3,575.2 510.4,946.0 510.9,1006.4 511.8,1033.7 512.3,1035.8 513.3,1036.2 562.3,1036.2 563.6,1035.6 564.2,1030.7 564.6,1019.8 565.2,958.0 566.2,575.2 569.5,575.2 570.3,930.0 571.3,1027.8 571.8,1034.5 572.6,1036.1 589.9,1036.2 591.0,1035.8 591.6,1032.8 592.1,1022.5 592.8,962.5 594.2,575.2 596.0,575.2 597.2,934.6 598.3,1028.2 598.8,1034.4 599.6,1036.1 615.5,1036.2 616.6,1035.9 617.2,1033.2 617.7,1022.9 618.3,972.9 619.5,581.1 619.6,575.2 622.4,575.2 623.3,925.0 623.8,999.5 624.4,1029.4 624.9,1034.9 625.7,1036.2 642.7,1036.2" fill="none" stroke="#3b4cc0" stroke-width="5.0" stroke-linejoin="round" stroke-linecap="round" clip-path="url(#cp20)" />
<polyline points="145.4,1036.2 146.6,1035.3 148.7,1037.1 149.6,1036.0 150.3,1036.9 151.4,1035.7 155.4,1036.9 156.5,1035.5 158.6,1035.1 160.9,1036.8 162.1,1037.0 163.7,1035.6 165.7,1036.2 167.3,1035.7 168.3,1036.9 169.2,1036.1 170.4,1036.6 171.3,1035.2 172.7,1036.0 174.8,1035.6 175.7,1036.3 176.4,1035.7 177.2,1036.0 177.9,1035.0 178.8,1036.5 179.5,1035.8 180.9,1036.9 182.3,1036.0 183.0,1036.4 183.7,1036.0 184.7,1037.1 185.9,1035.7 187.0,1037.0 188.6,1035.7 189.6,1037.0 190.7,1035.5 191.6,1036.5 192.7,1036.5 193.4,1035.3 194.2,1036.4 195.1,1035.7 195.9,1036.9 196.8,1036.5 197.3,1036.9 198.3,1035.1 199.5,1035.6 200.3,1033.1 201.5,1006.4 202.4,937.5 203.9,575.5 206.5,574.4 207.4,575.4 208.2,574.9 209.1,575.4 210.0,575.1 211.6,948.5 212.6,1015.2 213.2,1029.4 214.0,1034.7 214.7,1036.3 216.0,1035.7 217.2,1036.6 219.6,1035.4 220.6,1036.4 221.4,1035.9 223.0,1036.9 224.2,1036.5 225.0,1037.7 225.9,1036.0 227.1,1036.3 227.9,1035.5 228.8,1035.9 229.6,1035.4 230.8,1036.6 232.0,1035.3 233.2,1036.5 234.0,1035.9 235.1,1035.9 236.0,1036.5 237.0,1035.4 237.8,1036.6 238.6,1036.2 240.1,1036.8 240.7,1035.9 241.7,1035.7 242.8,1036.3 243.7,1035.7 244.7,1036.7 245.4,1035.5 246.2,1036.2 247.7,1035.9 250.0,1037.4 252.1,1036.2 253.4,1036.1 254.8,1037.1 255.6,1036.1 256.9,1035.9 257.6,1036.8 258.5,1035.9 259.6,1037.7 260.7,1036.3 263.0,1036.5 263.8,1035.8 264.6,1036.4 266.2,1035.9 266.8,1036.5 269.5,1036.0 270.4,1036.9 271.4,1036.0 272.5,1036.8 273.5,1035.7 274.4,1036.4 275.4,1035.9 277.3,1036.2 278.3,1037.5 279.1,1036.5 279.9,1037.0 280.9,1036.7 281.7,1035.7 282.6,1036.6 283.5,1036.4 285.3,1031.4 286.7,1005.8 287.7,936.4 289.7,574.8 290.3,576.1 292.1,575.1 293.0,576.4 293.4,576.3 293.5,580.8 295.4,936.3 296.4,1006.9 297.8,1033.2 298.5,1036.2 300.1,1036.7 301.0,1036.0 302.0,1037.1 303.4,1036.0 304.6,1035.7 305.7,1037.1 306.9,1035.5 308.2,1036.0 308.8,1036.9 309.8,1034.7 311.2,1036.7 311.9,1036.7 313.2,1035.7 314.3,1037.1 315.6,1037.7 316.4,1036.8 317.3,1036.7 318.3,1035.3 319.5,1036.6 320.3,1036.0 322.3,1036.8 323.6,1035.6 324.8,1036.7 325.6,1035.4 326.4,1036.5 329.4,1036.0 330.5,1037.0 331.7,1035.6 332.6,1036.3 333.5,1035.6 335.1,1036.2 335.8,1035.9 336.7,1036.9 337.3,1036.1 338.1,1036.3 338.7,1035.6 339.6,1037.0 341.4,1035.8 342.3,1036.3 342.5,1036.0 343.5,1030.7 344.2,1020.4 345.1,967.1 347.0,574.6 347.5,574.1 348.6,575.9 349.9,575.1 351.0,575.7 352.6,575.5 354.4,957.4 355.5,1021.0 356.1,1030.5 357.3,1035.9 358.2,1036.5 360.3,1036.2 361.4,1037.2 362.2,1036.2 363.3,1037.4 365.8,1036.1 366.7,1037.3 367.5,1036.9 368.3,1037.4 369.6,1035.4 370.9,1036.8 372.6,1036.5 373.9,1035.2 375.2,1036.8 376.1,1035.4 377.4,1035.4 379.3,1036.4 381.1,1034.8 382.5,1036.5 385.1,1035.6 387.1,1036.0 389.7,1035.0 391.5,1036.3 393.6,1035.1 394.6,1036.2 397.6,1036.5 398.5,1035.8 401.7,1037.5 403.0,1035.4 404.3,1037.5 405.2,1036.1 405.8,1036.6 406.9,1035.7 408.4,1035.9 410.1,1036.8 411.4,1035.1 412.7,1036.1 413.8,1034.9 414.4,1035.7 415.0,1035.6 415.9,1037.3 417.6,1036.2 418.4,1037.0 419.6,1037.3 422.1,1035.5 423.2,1036.8 424.2,1034.7 425.1,1036.3 426.3,1036.7 427.0,1036.1 428.0,1036.2 429.0,1036.8 430.8,1035.2 431.7,1032.4 432.4,1024.5 433.1,1006.3 434.1,932.0 435.8,575.9 436.4,575.2 437.0,575.9 438.8,575.5 439.5,576.1 440.4,575.0 441.9,905.7 442.8,989.4 443.8,1025.0 444.6,1033.5 445.2,1035.2 446.5,1036.7 447.9,1035.7 448.6,1034.5 450.8,1037.5 452.0,1035.9 452.8,1036.3 453.8,1035.4 454.8,1036.3 456.2,1036.6 457.3,1036.1 458.4,1036.9 459.4,1035.8 460.7,1036.8 461.7,1035.8 463.9,1036.0 465.3,1035.3 467.5,1036.1 468.1,1035.0 468.9,1030.3 469.5,1020.3 470.6,970.5 471.7,840.2 473.1,574.4 473.7,575.0 474.5,574.0 475.3,575.4 476.2,575.3 478.4,948.7 479.6,1013.8 480.2,1027.0 481.3,1034.9 482.6,1036.7 484.0,1036.1 485.9,1036.1 486.9,1037.6 487.7,1036.3 488.8,1036.1 489.4,1036.4 490.8,1035.3 492.7,1036.8 493.9,1035.5 495.0,1036.5 495.9,1036.2 497.0,1036.9 498.7,1035.8 499.8,1036.3 501.5,1035.3 501.7,1034.6 502.9,1022.3 503.8,992.4 504.6,936.2 506.9,575.4 507.3,574.5 509.2,575.6 511.5,934.1 512.5,1001.0 513.9,1031.7 514.3,1033.8 515.0,1034.2 515.8,1036.5 516.5,1036.0 517.6,1036.4 518.6,1035.8 519.4,1036.8 520.4,1035.4 521.5,1036.9 522.5,1035.7 523.7,1036.4 528.6,1036.4 530.2,1035.8 530.9,1036.4 532.4,1036.1 533.2,1036.8 534.2,1036.7 535.0,1035.6 536.3,1034.9 537.8,1035.4 538.5,1036.5 539.6,1036.7 540.5,1036.0 541.4,1036.7 543.7,1035.2 544.5,1036.1 545.8,1035.6 546.8,1036.4 547.7,1035.7 549.5,1035.8 550.6,1037.3 551.7,1036.0 553.1,1035.8 554.9,1037.1 556.5,1036.2 557.2,1036.7 557.9,1035.6 558.7,1036.3 559.4,1035.9 560.1,1036.7 561.4,1034.1 562.8,1013.8 563.8,956.6 565.7,587.3 565.9,574.8 566.2,574.5 567.1,575.8 567.9,575.2 568.4,575.5 569.8,575.2 571.7,930.9 572.6,997.4 573.8,1030.8 574.4,1033.8 575.6,1035.7 576.7,1036.4 577.8,1036.2 578.5,1035.2 579.3,1036.3 580.3,1036.5 581.2,1035.6 582.4,1036.5 583.5,1035.7 584.8,1035.4 585.8,1036.3 586.5,1036.2 587.3,1036.6 589.1,1033.8 590.2,1022.1 591.9,950.4 594.1,710.6 595.1,660.1 596.1,706.5 598.4,956.4 599.9,1022.1 600.8,1032.2 601.9,1036.4 603.4,1035.9 604.4,1036.6 605.4,1036.0 606.2,1036.7 606.9,1035.9 607.6,1036.3 608.5,1035.5 609.6,1037.1 610.5,1036.8 611.5,1035.1 613.7,1036.8 614.2,1035.9 615.4,1028.0 616.0,1015.0 617.1,950.6 619.3,576.1 620.5,575.5 621.2,574.1 621.9,575.0 622.6,574.8 624.4,910.3 625.2,980.1 626.2,1020.5 627.0,1032.3 627.9,1037.0 629.8,1036.2 630.8,1037.1 631.6,1035.9 633.0,1035.5 634.1,1035.8 635.0,1037.2 635.9,1036.3 636.7,1036.5 637.5,1035.6 638.2,1036.5 639.0,1035.8 639.9,1037.2 642.7,1035.4" fill="none" stroke="#3b4cc0" stroke-width="5.0" stroke-linejoin="round" stroke-linecap="round" clip-path="url(#cp20)" />
<polyline points="145.4,1036.2 146.2,1037.2 147.9,1035.8 149.2,1037.3 151.4,1036.3 152.3,1035.4 153.3,1036.5 154.2,1035.4 154.9,1036.6 155.6,1035.7 156.4,1036.4 157.1,1035.6 157.9,1035.9 158.9,1035.3 159.9,1036.7 161.2,1035.4 162.9,1036.7 163.9,1035.6 164.6,1035.5 165.7,1036.4 166.8,1035.2 169.7,1036.2 170.8,1037.3 171.7,1036.2 173.1,1036.3 173.8,1035.5 174.8,1036.7 175.7,1035.8 177.7,1037.1 178.7,1036.3 179.5,1036.7 181.1,1035.8 182.8,1036.9 184.5,1035.2 185.4,1035.8 185.7,1035.4 188.6,1022.0 191.8,980.4 194.2,923.2 201.8,626.5 203.4,577.2 203.5,575.1 204.0,574.8 205.6,576.0 206.3,575.9 207.3,574.9 208.5,575.9 209.2,575.0 209.9,575.4 210.4,574.7 210.5,575.1 216.3,754.8 219.7,843.4 223.2,912.6 226.6,961.7 230.1,993.7 233.6,1012.2 238.7,1025.3 239.5,1025.6 240.8,1028.0 241.7,1028.7 242.6,1030.8 243.6,1030.0 244.8,1032.3 245.8,1032.0 246.5,1031.1 247.4,1032.6 249.3,1032.2 250.0,1032.9 251.0,1031.2 252.3,1032.6 253.5,1031.3 255.1,1032.7 256.4,1030.9 257.5,1031.2 258.6,1030.2 260.1,1030.0 261.7,1027.6 263.3,1027.2 265.4,1023.2 266.3,1020.2 267.3,1019.5 268.6,1016.7 270.3,1009.4 274.3,987.9 277.5,962.2 281.4,920.3 288.9,818.5 290.7,802.4 291.6,799.1 293.0,807.6 294.5,823.6 303.9,944.5 306.7,971.0 309.7,991.6 313.4,1009.0 316.8,1016.0 317.8,1015.2 318.7,1015.8 319.5,1017.6 320.2,1017.7 322.9,1013.1 325.1,1005.7 327.4,995.1 330.9,968.4 332.8,946.7 335.9,901.4 340.2,816.1 347.3,645.4 348.8,621.7 349.9,612.4 351.2,626.9 352.9,656.7 360.1,830.7 364.8,920.6 368.0,962.0 370.1,982.0 374.5,1008.5 379.3,1024.3 381.7,1026.2 382.7,1028.1 383.7,1028.2 384.3,1029.5 385.6,1029.4 386.8,1030.8 388.0,1030.5 389.4,1032.3 391.3,1032.5 392.2,1032.1 393.0,1033.1 393.8,1032.1 395.1,1031.6 397.3,1033.0 398.0,1031.7 398.6,1032.3 399.5,1031.7 401.4,1032.2 402.2,1031.4 403.6,1031.1 404.3,1029.7 405.2,1031.2 406.2,1029.9 407.3,1030.4 408.2,1028.2 409.2,1027.7 410.9,1025.4 414.2,1019.5 415.4,1015.8 416.2,1015.6 416.5,1014.8 421.9,987.4 425.4,961.0 434.8,853.6 436.8,836.6 438.2,830.0 439.8,839.2 442.4,863.7 446.0,905.9 450.2,947.2 454.2,971.2 456.1,977.2 457.3,978.8 457.9,978.9 459.4,977.5 460.3,975.3 461.4,974.2 463.4,966.0 466.1,951.6 470.0,923.1 473.4,902.3 474.0,899.8 474.7,899.0 475.8,901.7 477.1,907.8 484.8,960.6 487.7,973.9 488.6,977.2 489.6,978.3 490.8,981.7 491.5,981.1 492.4,982.5 493.0,982.3 496.6,974.6 499.6,960.9 506.1,925.2 507.3,921.3 508.7,920.4 511.4,933.7 520.4,990.6 523.3,1004.9 526.7,1015.8 530.7,1024.1 531.0,1024.4 531.8,1023.8 532.7,1025.8 533.4,1025.8 534.3,1027.1 535.3,1027.5 536.4,1026.7 537.5,1027.9 539.5,1025.4 540.2,1025.7 541.4,1025.0 543.1,1021.9 543.9,1021.9 547.7,1012.2 549.6,1005.0 553.3,984.2 555.9,965.8 558.8,939.8 564.9,877.7 567.9,859.0 569.3,863.9 571.5,879.1 578.9,941.0 580.2,947.9 582.2,955.4 585.4,962.0 586.4,961.0 587.3,961.1 587.7,960.3 591.7,952.1 593.3,947.2 595.1,943.8 596.5,946.6 597.2,947.0 598.8,952.6 600.4,954.9 601.3,957.7 602.9,960.6 604.7,961.8 605.4,961.0 606.4,960.8 606.9,960.0 610.8,947.2 613.0,936.1 619.0,897.1 620.3,892.1 620.8,891.1 621.2,891.3 624.6,911.7 630.0,957.3 634.1,985.4 636.7,999.3 641.5,1015.1 642.7,1016.6" fill="none" stroke="#3c4ec2" stroke-width="5.0" stroke-linejoin="round" stroke-linecap="round" clip-path="url(#cp20)" />
<polyline points="145.4,1035.4 148.1,1037.0 149.4,1035.5 150.4,1036.2 151.9,1035.5 152.8,1036.7 153.5,1035.6 154.4,1038.0 155.0,1037.1 156.8,1036.2 157.4,1036.5 158.4,1036.0 159.1,1037.2 159.9,1036.6 161.0,1036.7 161.7,1035.8 163.5,1035.4 164.4,1034.4 165.2,1035.7 166.0,1035.7 167.1,1036.7 169.6,1035.3 170.8,1035.4 172.9,1036.3 173.7,1035.4 174.4,1036.5 175.4,1036.3 176.7,1037.0 177.9,1035.3 180.3,1035.6 181.1,1036.5 182.8,1035.8 183.6,1036.0 184.6,1034.0 185.4,1034.3 185.7,1033.5 187.6,1026.3 189.0,1018.5 192.1,978.2 195.1,909.4 201.2,694.4 203.5,627.7 205.8,583.5 206.4,575.8 207.5,575.0 209.0,598.1 211.1,645.5 218.8,842.6 221.4,893.5 223.9,930.4 226.6,961.4 228.6,978.2 231.2,993.8 235.1,1008.1 236.8,1011.6 238.1,1012.6 240.0,1016.9 242.4,1018.6 243.3,1018.4 244.7,1020.5 245.3,1020.0 246.0,1020.5 246.9,1019.6 248.3,1021.6 249.8,1021.3 250.4,1020.6 251.4,1021.0 252.3,1022.2 252.9,1021.7 254.0,1022.3 254.6,1021.8 255.5,1022.6 256.6,1022.3 257.4,1020.8 258.1,1021.2 259.4,1019.5 260.5,1020.2 261.3,1019.2 262.1,1019.2 263.3,1018.3 264.4,1015.9 265.3,1015.4 267.4,1009.7 268.7,1008.7 271.7,998.2 275.4,977.9 279.2,948.8 288.3,844.5 290.2,828.7 291.6,822.1 292.7,826.2 294.0,837.5 304.2,949.5 306.2,965.5 309.5,985.0 311.1,991.9 314.2,1001.0 315.7,1004.7 316.7,1004.2 318.0,1006.3 319.5,1006.4 321.0,1004.7 321.8,1004.9 322.3,1004.5 326.2,993.1 330.4,969.7 335.0,922.0 339.2,854.4 346.9,695.0 348.6,668.6 349.8,658.8 351.5,675.6 353.0,701.1 360.8,863.4 365.4,933.6 368.4,964.3 372.1,990.0 374.5,1000.2 375.6,1002.3 376.6,1006.6 380.3,1013.8 381.2,1014.1 382.7,1016.5 384.1,1016.8 385.1,1016.3 386.4,1018.4 387.2,1018.1 387.9,1018.9 388.8,1018.5 390.8,1020.4 391.8,1019.1 392.5,1020.0 393.3,1019.5 393.9,1020.1 395.6,1020.4 396.5,1019.6 397.4,1020.6 398.1,1019.4 399.6,1020.4 400.5,1019.6 401.5,1019.7 402.5,1019.1 403.6,1019.8 405.7,1018.4 406.6,1018.8 408.7,1016.4 409.8,1016.6 413.2,1012.3 414.5,1008.5 415.8,1007.2 417.0,1003.8 419.8,994.5 422.6,979.3 425.9,957.0 435.1,867.0 436.7,854.0 438.0,849.4 439.2,852.5 441.0,864.8 449.1,943.2 452.8,965.0 454.9,973.3 456.7,977.6 458.9,977.1 460.0,975.5 462.8,968.1 464.8,960.3 467.6,944.8 470.9,922.9 473.5,910.3 474.0,908.8 474.8,908.2 475.5,908.8 476.6,913.2 484.7,960.3 486.3,967.9 489.5,978.1 490.4,977.9 491.1,979.8 492.4,980.3 493.2,978.9 494.1,978.7 496.7,973.1 500.6,957.5 506.2,929.8 507.4,926.8 508.9,926.7 511.3,937.0 518.2,977.3 521.2,990.9 523.8,1000.0 527.8,1009.7 529.4,1011.8 530.3,1014.2 531.0,1014.5 532.2,1016.2 535.0,1017.4 536.4,1018.8 537.4,1017.3 539.0,1017.8 540.6,1016.9 542.1,1015.3 542.9,1013.6 544.0,1013.4 545.1,1009.9 547.5,1006.0 550.9,993.8 553.8,979.0 556.0,965.5 565.5,885.7 567.1,876.2 567.7,874.7 569.3,878.5 571.2,889.7 576.9,932.8 579.5,946.7 582.5,958.4 585.1,961.8 587.3,960.8 588.2,959.4 589.1,959.3 592.8,949.3 595.5,946.6 596.2,947.3 598.8,953.6 599.7,954.2 601.1,957.9 602.2,959.1 603.2,961.3 603.9,961.4 604.5,962.2 605.4,960.8 606.0,961.2 608.6,956.9 612.5,941.9 618.6,908.0 620.5,901.0 620.7,900.5 621.1,900.7 623.3,910.1 629.5,954.0 635.0,986.5 638.7,1000.3 642.2,1007.7 642.7,1007.9" fill="none" stroke="#3c4ec2" stroke-width="5.0" stroke-linejoin="round" stroke-linecap="round" clip-path="url(#cp20)" />
<polyline points="145.4,1036.3 146.4,1037.1 147.4,1034.9 148.8,1036.7 149.9,1035.7 151.2,1037.3 151.8,1036.5 152.4,1036.9 153.2,1035.8 154.2,1036.5 155.3,1036.3 156.4,1035.4 158.0,1037.2 159.5,1035.6 160.2,1035.8 160.9,1035.3 163.5,1036.8 164.5,1035.6 165.8,1035.5 166.7,1036.8 167.5,1036.0 168.3,1036.7 171.3,1035.8 172.7,1036.6 174.8,1035.5 175.9,1035.3 176.8,1036.2 179.9,1035.1 180.8,1035.8 182.0,1035.5 182.6,1034.9 183.3,1035.6 184.0,1033.8 184.9,1033.2 186.7,1027.9 188.5,1019.4 191.2,993.8 193.9,947.7 196.3,889.7 202.2,715.7 205.3,654.5 207.0,636.2 207.9,643.6 209.9,673.9 218.2,852.3 221.3,903.8 223.9,935.6 228.4,973.2 231.9,988.9 235.0,998.6 237.1,1001.6 239.2,1003.4 241.6,1007.6 242.3,1007.2 244.3,1008.3 245.3,1008.0 247.4,1010.2 248.9,1010.4 249.9,1009.8 251.0,1011.3 253.9,1010.7 255.0,1012.1 255.7,1011.0 256.5,1011.7 257.6,1011.7 258.2,1012.2 259.1,1010.6 260.2,1011.3 262.1,1007.6 264.2,1008.2 266.1,1004.5 267.1,1004.3 271.7,993.7 272.5,989.0 273.7,985.9 279.0,953.4 282.1,927.1 288.7,860.8 290.4,848.8 291.7,844.9 292.8,848.6 294.5,861.3 301.5,928.6 304.4,950.8 306.4,963.7 309.5,979.1 311.5,985.6 313.1,988.3 314.2,991.5 315.3,993.0 316.8,993.3 318.7,995.8 319.7,995.8 320.5,994.3 321.4,994.2 322.6,992.9 325.3,987.9 328.6,975.9 330.7,963.1 332.8,947.4 335.3,922.4 338.8,876.9 347.1,735.2 348.4,719.1 349.8,709.6 351.0,717.6 352.6,736.8 359.7,860.9 365.8,940.9 368.9,966.2 372.6,984.6 376.0,995.4 377.4,998.2 379.2,1000.1 381.1,1003.5 382.7,1003.9 384.2,1005.5 385.1,1005.0 386.3,1006.4 387.1,1006.2 388.4,1006.6 389.3,1007.9 391.0,1006.1 392.4,1008.0 393.4,1007.4 395.3,1007.8 396.0,1007.3 397.4,1008.0 398.2,1006.9 399.5,1006.4 401.4,1008.6 402.7,1007.1 404.0,1008.4 405.2,1006.3 406.8,1006.8 408.3,1005.7 409.4,1006.0 411.6,1003.6 412.3,1003.3 413.3,1001.3 414.0,1001.3 414.9,1000.2 416.0,996.6 418.5,991.8 421.9,979.6 425.1,961.9 429.3,931.8 434.9,883.4 436.4,873.8 438.0,867.1 439.5,871.8 441.8,886.9 447.7,937.2 451.7,961.0 454.9,972.4 457.4,974.6 459.2,974.9 460.2,974.1 461.9,970.0 466.6,952.0 471.6,926.3 473.2,919.7 474.6,916.5 477.5,924.6 483.7,957.7 486.2,968.0 489.5,975.4 490.4,975.5 491.3,977.3 492.1,976.4 493.1,976.9 494.1,976.1 496.0,973.1 499.3,963.9 504.1,943.3 506.7,934.1 507.2,933.0 508.3,933.1 510.0,936.9 512.1,945.1 513.9,955.4 517.5,971.9 521.5,987.5 525.8,999.1 529.2,1004.2 531.0,1006.1 533.0,1006.5 534.0,1008.5 535.3,1007.6 536.0,1008.5 536.8,1007.3 537.3,1008.3 538.1,1007.6 539.4,1008.8 541.4,1007.0 542.0,1007.0 543.1,1004.3 543.9,1004.4 545.0,1003.1 548.3,996.4 550.8,989.0 555.2,970.2 557.9,953.6 565.0,901.4 566.9,891.7 567.9,888.6 568.8,890.5 570.5,898.4 576.3,935.0 579.3,949.7 581.8,957.8 585.4,961.9 586.5,961.5 587.4,961.8 588.9,959.1 589.7,958.8 591.0,955.2 594.2,949.2 595.0,948.7 595.8,949.5 597.2,952.5 598.3,952.9 599.6,956.5 602.7,960.2 603.7,962.6 604.2,962.7 604.9,961.7 605.8,962.0 606.4,961.4 607.6,958.6 608.9,957.1 610.6,951.9 613.4,941.6 614.6,933.8 619.5,912.3 620.5,910.6 621.2,910.5 622.9,916.3 633.1,973.0 637.6,989.2 639.9,995.0 640.8,995.8 642.1,998.9 642.7,999.0" fill="none" stroke="#3d50c3" stroke-width="5.0" stroke-linejoin="round" stroke-linecap="round" clip-path="url(#cp20)" />
<polyline points="145.4,1036.0 147.2,1036.5 149.1,1035.0 150.5,1034.8 152.7,1036.5 153.8,1035.5 154.8,1036.4 156.4,1035.7 157.4,1037.3 158.3,1036.4 160.5,1035.5 162.5,1036.2 163.2,1035.5 164.1,1035.6 165.2,1036.6 166.1,1035.7 167.1,1036.6 168.5,1035.9 169.3,1036.8 170.4,1037.0 171.9,1036.0 172.7,1036.3 174.2,1035.3 175.3,1035.6 176.7,1036.7 177.7,1035.9 179.3,1035.8 180.0,1035.3 181.4,1036.3 184.0,1033.6 185.0,1031.3 185.6,1031.3 188.3,1020.2 191.0,998.4 193.9,957.3 202.4,766.1 204.8,729.4 206.0,716.2 207.0,710.7 208.0,715.3 209.7,736.8 218.9,885.6 223.7,937.9 226.6,958.8 228.9,970.5 230.4,975.5 232.1,979.0 235.1,988.1 236.3,989.0 237.2,988.4 240.5,993.9 241.3,993.7 242.4,995.7 243.6,995.6 244.3,997.4 245.9,996.7 247.7,998.8 248.9,998.5 249.8,999.8 252.0,999.1 253.6,1000.7 255.0,999.5 256.0,1000.7 257.9,999.5 259.8,1000.3 260.8,999.2 261.5,999.3 262.6,998.5 263.3,997.6 264.1,998.1 265.8,995.8 267.6,994.5 269.1,990.6 269.8,990.6 270.5,988.2 271.2,988.3 271.5,987.7 274.8,976.7 278.9,956.8 283.5,925.6 288.0,889.1 289.8,877.1 291.6,870.3 293.0,874.2 294.9,884.9 299.3,918.7 303.6,947.4 306.6,962.6 309.1,970.8 314.8,982.4 315.9,982.6 316.8,983.7 317.9,984.2 318.9,983.7 319.8,982.5 320.9,983.1 322.5,980.0 323.6,980.4 326.9,973.6 330.5,960.3 332.5,949.5 336.4,918.2 341.5,858.8 347.4,779.4 348.5,769.4 349.9,762.4 352.4,782.2 361.1,897.0 366.4,947.4 370.0,967.0 373.0,978.0 377.0,986.3 381.5,990.0 382.6,991.7 383.2,991.1 384.2,992.6 385.3,992.1 387.2,994.0 388.4,993.0 389.3,993.9 390.7,994.0 391.4,994.7 392.4,993.4 393.3,994.3 394.8,993.6 395.6,995.1 396.4,994.9 397.0,995.6 398.1,994.0 399.4,993.8 400.4,995.7 401.4,994.6 403.6,995.9 404.6,995.3 405.6,995.5 406.7,993.3 409.1,994.2 410.1,992.8 411.3,993.2 413.0,990.3 414.4,990.2 416.3,986.8 417.1,986.7 418.4,982.8 419.1,981.9 422.0,974.6 424.1,966.5 428.3,944.3 435.4,898.3 437.0,890.9 438.0,889.2 438.8,890.3 441.0,900.3 447.6,941.7 451.8,962.1 454.0,966.5 454.9,970.1 458.3,972.9 459.7,971.6 460.7,971.4 461.8,968.6 463.0,967.1 466.8,954.5 471.7,934.0 474.0,927.8 474.6,927.1 477.2,933.2 485.0,964.5 487.3,968.7 488.3,971.6 490.8,974.6 492.1,974.2 493.1,975.4 493.5,975.3 498.3,966.8 505.9,943.6 507.2,940.7 508.2,939.8 511.0,945.9 514.9,961.0 521.1,981.4 526.6,992.6 529.3,995.8 530.7,995.8 531.7,996.9 533.0,997.2 533.8,996.6 538.5,998.1 542.5,996.6 543.4,994.5 544.8,994.2 549.7,986.9 553.7,974.8 559.1,949.3 565.4,914.8 567.9,905.7 569.3,910.4 570.1,911.0 570.5,912.1 575.8,939.8 578.7,950.3 581.2,957.9 582.9,961.0 583.5,961.2 585.4,963.4 586.1,962.3 588.1,961.2 589.1,959.4 590.0,959.7 592.7,953.9 595.7,951.6 597.2,952.6 598.2,955.5 599.4,956.6 600.3,958.5 601.9,959.3 602.8,961.2 603.5,960.7 604.4,961.9 605.8,961.4 607.3,959.0 608.4,959.1 611.5,952.0 614.9,939.0 616.8,933.3 617.7,928.4 620.2,921.1 620.6,920.6 620.9,920.7 624.1,930.0 633.4,971.0 638.2,983.3 639.1,983.8 640.8,987.9 642.0,988.1 642.7,989.2" fill="none" stroke="#3d50c3" stroke-width="5.0" stroke-linejoin="round" stroke-linecap="round" clip-path="url(#cp20)" />
<polyline points="145.4,1036.4 146.3,1037.1 147.2,1036.0 148.7,1036.0 149.7,1037.5 151.0,1035.3 153.3,1037.1 155.4,1035.6 157.5,1037.0 159.3,1035.7 160.1,1036.9 161.1,1035.9 162.6,1037.0 163.7,1036.2 164.6,1036.7 165.3,1035.1 166.2,1035.9 167.1,1034.9 169.1,1037.0 169.9,1036.0 170.7,1035.8 171.8,1036.2 172.8,1036.0 173.7,1036.9 174.8,1035.5 175.8,1035.9 176.8,1034.9 177.9,1036.1 179.9,1035.2 180.9,1035.5 182.5,1034.8 183.3,1033.7 184.1,1033.5 186.6,1026.5 190.2,1006.9 193.3,974.1 195.8,939.1 201.7,836.1 205.4,792.7 207.0,784.2 208.6,792.5 210.7,812.7 218.8,905.5 223.7,941.6 227.5,959.7 232.9,973.6 234.4,974.6 237.8,979.4 238.5,979.4 239.3,980.8 240.1,981.0 240.7,982.3 241.6,982.0 242.2,982.3 244.6,985.3 247.0,985.4 247.8,986.4 249.5,986.7 251.5,988.4 253.3,988.5 255.9,990.4 256.7,989.4 257.6,989.8 259.0,987.9 260.0,988.8 262.1,988.1 263.1,989.5 264.8,986.9 265.6,987.1 266.3,986.0 267.2,986.5 268.4,983.5 269.3,983.0 270.4,980.3 271.2,980.2 272.3,979.0 274.3,974.8 277.8,963.7 283.3,937.5 288.1,909.7 290.6,899.0 291.6,897.2 292.8,898.2 294.0,903.0 299.5,930.9 305.1,954.4 309.6,965.4 310.3,965.4 311.2,967.7 313.4,970.8 316.3,969.7 317.5,972.6 318.4,971.1 320.2,971.4 321.0,970.1 322.0,970.3 323.9,968.6 326.7,963.5 327.6,962.8 331.0,954.0 336.2,928.0 341.4,886.5 346.5,837.5 348.6,822.2 350.0,818.3 351.5,825.0 354.1,846.2 356.8,874.8 362.1,921.1 364.4,937.2 366.3,946.4 369.5,960.5 370.5,962.1 371.4,965.7 372.9,968.9 375.5,972.6 378.5,975.3 379.3,976.9 380.3,976.3 382.3,978.5 383.4,978.2 384.6,980.2 385.7,979.1 387.4,980.0 388.5,979.5 390.7,981.2 392.3,979.9 393.4,981.0 394.4,980.6 395.3,981.0 396.3,982.7 397.0,982.3 397.6,982.5 398.6,981.2 399.5,982.4 400.4,981.4 402.5,983.4 403.3,982.3 406.3,981.5 407.2,982.3 409.3,982.2 411.4,980.5 413.8,980.4 415.0,979.8 416.0,977.4 418.1,975.8 420.9,971.2 424.2,963.2 426.1,955.5 428.2,949.3 435.8,915.3 438.0,910.1 441.0,918.0 447.9,949.3 451.1,960.0 452.7,964.0 455.7,968.6 456.8,969.2 457.9,968.5 459.7,969.8 460.5,968.1 462.0,967.5 463.7,964.7 466.5,958.3 467.5,953.7 468.5,952.9 470.9,944.4 471.7,943.8 472.7,940.8 474.0,938.8 474.7,939.4 475.6,939.3 476.7,940.8 485.4,965.2 486.4,965.6 487.7,968.9 488.8,968.7 490.0,970.8 491.3,971.8 492.6,972.1 493.4,970.9 495.9,969.9 498.5,965.0 499.5,964.6 502.6,956.3 503.7,955.0 506.9,948.1 507.7,947.3 508.8,947.3 511.3,952.1 513.5,958.5 514.9,961.1 518.5,971.8 519.9,973.3 521.8,978.1 523.6,978.9 526.4,983.1 528.1,983.6 529.1,985.5 530.2,985.0 531.3,986.0 532.2,985.9 533.8,987.5 534.7,987.0 535.4,987.7 536.6,987.7 539.1,986.5 540.6,986.7 541.5,987.4 542.1,986.3 543.6,985.7 544.7,984.1 546.0,985.6 547.0,982.3 547.7,982.3 549.1,981.3 550.2,977.9 551.8,975.7 554.9,968.6 558.7,955.9 565.0,930.2 566.9,925.2 568.0,923.5 570.2,926.9 572.2,934.9 578.3,955.0 580.4,958.4 581.2,958.7 582.0,961.2 583.5,962.7 586.1,962.6 587.3,962.0 588.6,959.9 589.5,960.6 591.0,957.6 593.0,955.8 593.8,954.2 594.5,955.1 595.2,954.6 596.6,955.6 597.4,956.8 598.1,956.5 599.2,958.3 600.1,958.2 600.9,959.5 602.7,960.4 603.4,961.3 604.4,960.1 606.6,961.7 608.1,959.3 609.3,958.9 612.1,953.1 617.0,939.9 618.0,938.4 619.3,933.2 619.7,932.9 620.6,933.9 621.9,934.0 624.6,939.4 625.7,944.9 627.2,947.9 628.4,953.2 633.0,965.9 636.0,970.9 637.0,973.7 640.2,977.7 642.1,978.0 642.7,978.9" fill="none" stroke="#3e51c5" stroke-width="5.0" stroke-linejoin="round" stroke-linecap="round" clip-path="url(#cp20)" />
<polyline points="145.4,1036.1 145.9,1036.0 147.1,1037.3 147.8,1036.6 148.9,1036.8 149.7,1035.9 150.4,1036.4 151.0,1035.4 152.3,1035.7 153.0,1036.5 153.9,1035.8 154.8,1037.1 155.8,1035.6 157.3,1036.6 158.0,1035.9 159.0,1035.9 160.0,1037.4 161.0,1035.6 162.6,1037.1 163.6,1035.5 164.4,1036.3 165.2,1035.3 166.0,1036.0 168.0,1036.5 169.7,1035.1 171.8,1036.4 172.7,1036.1 173.6,1036.8 174.7,1035.7 175.9,1037.7 177.4,1036.6 179.0,1036.5 179.8,1035.2 180.5,1035.5 181.9,1034.7 182.9,1032.3 183.7,1032.0 185.5,1028.8 187.2,1022.1 190.2,1006.4 195.2,962.5 201.8,893.7 205.4,869.7 205.9,867.9 207.0,866.2 208.6,870.1 211.2,882.4 215.5,909.2 220.9,936.2 222.2,941.3 223.9,944.4 226.0,952.4 230.0,958.8 231.6,960.3 232.4,961.7 233.4,962.3 235.0,964.8 236.1,964.2 238.1,967.5 239.0,966.9 241.1,969.8 242.8,970.9 243.9,970.5 245.8,972.9 246.8,972.1 249.2,975.0 250.4,975.3 251.1,974.5 252.9,977.2 254.6,976.3 255.7,977.7 256.9,976.9 258.7,978.6 260.2,978.1 261.8,976.8 262.8,978.1 263.6,976.7 264.7,976.9 265.8,975.5 266.8,976.7 267.9,975.9 268.7,976.6 269.8,974.0 270.5,974.1 272.8,971.9 275.1,967.2 276.1,967.5 279.5,958.4 280.5,957.0 281.2,954.1 282.4,953.2 284.2,945.0 287.1,937.8 289.7,929.5 290.7,928.6 291.8,925.4 293.8,929.7 294.9,930.5 297.5,938.3 298.6,938.4 302.4,947.5 304.6,950.1 305.5,952.5 306.4,953.0 308.0,955.9 309.1,955.5 310.2,956.1 311.2,955.3 312.2,957.4 314.2,958.5 314.8,959.7 316.6,956.5 317.8,957.8 319.0,956.8 321.0,956.8 322.9,955.3 324.3,956.1 325.4,954.8 326.5,955.1 327.6,952.4 329.2,951.6 331.1,946.4 332.1,945.5 335.6,938.4 342.7,908.3 344.8,896.0 345.9,893.0 348.0,883.2 349.8,880.2 351.0,881.8 352.4,887.1 359.2,921.5 363.4,939.0 364.4,941.1 365.2,944.3 366.0,945.3 367.5,950.8 367.8,951.1 368.5,951.0 369.5,954.3 370.3,954.3 371.1,956.4 372.9,957.2 373.9,960.0 374.6,959.4 375.4,960.5 376.0,960.1 376.9,962.4 377.7,961.8 378.8,963.3 380.5,962.9 381.5,964.1 384.6,964.0 385.7,965.9 386.3,965.4 388.7,966.2 390.7,966.0 392.0,967.4 392.7,967.0 394.6,967.5 395.3,966.8 396.3,967.7 397.0,967.4 397.7,967.8 399.1,967.2 400.1,968.6 401.5,967.7 403.8,968.5 405.1,967.8 406.7,968.5 408.2,968.5 409.3,967.3 412.7,968.4 415.7,967.4 416.8,968.0 417.8,966.1 419.0,965.7 419.8,964.4 421.1,964.8 422.0,963.2 422.7,962.9 423.9,960.5 425.7,959.2 434.3,939.5 435.2,938.9 436.2,936.2 438.2,933.9 441.8,940.0 443.0,944.2 448.5,956.6 450.5,958.8 451.3,961.6 452.5,963.3 453.3,963.6 454.1,964.7 454.8,964.1 455.8,965.9 456.7,966.6 458.1,966.0 458.9,966.4 460.5,965.0 461.7,965.7 465.4,960.4 465.9,960.2 466.8,960.6 467.6,958.1 468.7,957.7 471.4,953.0 472.1,952.9 473.4,951.1 475.1,950.3 480.2,957.0 481.2,959.1 482.2,959.8 483.0,962.0 484.4,962.9 485.3,964.5 486.3,964.7 487.4,966.6 488.5,967.3 490.0,966.8 491.0,967.9 494.0,968.5 495.0,967.2 495.7,967.1 496.5,965.5 497.8,966.2 498.7,965.0 499.6,964.8 501.7,961.3 502.6,961.3 503.3,959.6 504.1,959.3 506.2,956.2 507.0,955.8 508.0,954.5 510.7,958.1 511.6,958.3 515.3,964.4 516.6,965.1 517.6,967.0 519.0,967.4 520.6,970.3 521.6,969.5 522.5,971.6 523.5,972.2 524.2,973.3 525.0,972.7 525.7,973.5 526.6,973.1 529.6,976.2 530.7,975.1 531.4,976.0 532.3,974.5 533.3,975.6 534.0,975.6 535.0,976.9 535.9,975.4 536.5,976.0 537.1,975.7 537.9,976.1 538.8,975.1 539.6,976.3 541.1,976.8 542.4,974.7 544.0,975.1 545.6,973.4 546.3,974.0 547.6,973.5 548.3,972.2 549.3,972.8 550.7,971.9 551.8,969.8 552.7,970.2 553.6,968.5 554.3,968.5 556.0,963.9 556.9,963.9 557.3,963.4 558.4,959.0 559.1,958.6 560.0,956.2 561.4,954.6 563.8,947.9 565.4,946.5 566.1,944.5 567.7,942.6 568.4,942.9 570.2,945.8 571.1,945.8 575.8,955.0 577.3,956.0 580.5,960.9 581.7,960.4 582.7,962.4 583.5,961.4 584.5,963.4 586.1,960.9 587.3,962.1 588.2,961.3 589.2,961.7 589.9,961.3 592.0,958.4 592.8,958.2 593.7,956.9 594.6,957.7 596.1,957.4 598.4,958.7 599.7,958.1 600.8,959.5 601.7,959.3 603.7,961.0 604.8,959.7 605.9,960.8 606.8,960.2 607.8,960.2 608.6,958.8 609.8,958.7 610.6,957.3 612.0,956.4 613.0,954.2 615.6,950.4 616.5,950.0 617.1,948.5 617.8,948.3 618.8,946.7 621.8,945.2 622.6,946.5 623.2,946.6 624.6,950.1 625.4,950.4 626.9,952.0 629.0,955.4 630.3,958.8 631.1,959.2 632.4,961.7 633.1,961.4 633.5,961.7 634.6,964.8 635.7,964.2 639.2,967.1 642.7,968.5" fill="none" stroke="#3e51c5" stroke-width="5.0" stroke-linejoin="round" stroke-linecap="round" clip-path="url(#cp20)" />
<polygon points="145.4,1036.0 178.3,1035.9 180.5,1034.7 183.4,1031.0 187.4,1015.5 190.1,1001.2 194.2,972.6 199.3,949.3 200.7,946.3 202.4,945.3 204.1,941.6 205.8,940.0 207.1,940.6 207.6,940.3 209.5,936.7 213.0,939.1 214.6,937.9 216.2,939.4 217.6,938.4 218.7,939.0 220.3,937.0 222.2,939.2 223.8,939.1 225.3,937.9 227.3,942.0 229.3,937.8 230.6,939.1 232.2,939.2 234.7,943.7 236.6,941.0 239.3,947.2 241.4,949.0 243.9,948.6 246.3,951.0 248.0,954.8 249.3,954.7 250.9,957.1 254.4,956.1 256.7,957.0 258.1,959.3 259.6,959.2 260.8,961.2 263.1,956.7 264.6,958.5 266.8,958.0 268.3,958.4 269.9,955.5 271.2,956.5 275.0,956.9 277.6,954.9 279.5,957.3 281.4,954.2 282.6,955.5 283.8,953.5 285.2,954.3 286.7,953.6 287.6,954.0 289.7,950.6 292.4,947.8 295.7,946.7 297.6,944.8 301.8,946.5 303.9,943.1 308.1,939.6 309.7,939.0 311.5,941.3 313.2,938.2 315.3,939.7 316.6,938.9 317.7,939.0 318.9,937.3 320.4,937.5 322.9,935.2 324.9,936.3 327.9,933.2 330.1,935.8 331.7,935.3 333.5,933.4 335.0,935.9 336.6,934.7 337.8,934.7 340.2,937.2 343.5,936.8 345.8,934.0 347.9,936.0 349.8,936.1 351.2,937.8 352.9,936.2 358.3,935.6 360.3,937.8 362.3,938.7 364.1,941.1 365.3,939.5 366.8,940.5 368.5,939.2 370.8,941.1 373.5,938.8 375.5,942.3 379.8,941.6 380.8,942.3 382.2,941.8 383.4,943.0 384.8,942.7 385.8,944.2 390.2,945.5 391.9,947.7 394.6,944.4 396.4,947.6 397.9,946.0 399.9,946.9 401.7,945.7 403.7,949.4 405.8,947.0 408.9,948.7 410.3,947.6 411.4,948.1 412.8,946.9 414.4,950.0 416.6,950.7 418.5,950.1 420.1,948.0 421.7,950.2 423.5,949.4 425.2,951.5 427.6,951.5 431.9,954.2 432.8,953.8 434.8,949.6 437.5,952.5 440.9,951.2 442.8,953.1 446.5,954.0 448.0,956.0 449.2,954.1 451.0,955.6 453.7,949.4 456.1,956.4 459.7,952.5 461.2,956.1 461.9,956.6 463.3,954.2 465.5,954.8 469.2,953.1 471.7,956.8 473.6,954.0 475.1,956.0 476.0,954.7 477.3,956.1 478.6,955.1 480.7,956.3 482.2,955.3 483.5,956.8 486.3,954.8 487.9,955.2 490.4,957.6 492.6,956.9 494.6,959.2 498.0,955.9 500.0,954.8 501.7,956.3 503.3,959.2 504.7,957.1 506.1,958.0 508.3,955.1 510.7,958.4 516.0,956.9 518.1,959.6 519.2,957.4 520.1,957.0 522.1,959.2 524.0,956.7 526.3,955.9 528.8,958.5 531.3,957.2 533.5,959.6 535.2,957.3 536.6,958.0 540.9,954.7 543.7,957.3 545.0,956.9 548.0,957.9 550.1,955.4 551.6,955.9 552.7,955.4 554.5,956.7 555.9,955.8 557.2,956.7 559.5,957.1 561.5,956.0 562.8,957.0 565.0,954.5 572.0,957.1 573.6,956.7 575.1,954.8 576.4,955.5 578.1,953.0 581.2,955.1 581.9,954.1 584.5,953.2 587.1,953.6 587.6,953.2 591.4,957.2 593.2,954.3 595.1,955.2 596.3,955.0 598.8,950.1 601.2,954.6 602.2,954.9 604.4,953.8 606.3,951.1 607.9,952.2 609.5,949.7 611.1,952.7 612.0,952.5 615.0,948.7 616.7,952.6 618.2,952.0 620.1,953.9 621.6,951.7 623.2,952.3 624.9,949.6 627.4,947.6 628.2,947.8 629.7,950.2 631.6,949.0 633.5,951.3 635.4,948.6 637.4,951.5 638.6,949.9 639.9,950.0 640.8,949.1 642.7,948.7 642.7,963.6 640.3,967.5 638.6,965.1 637.2,965.9 635.7,964.2 634.0,965.1 632.9,963.0 631.0,961.5 629.5,963.5 626.0,966.2 623.3,966.4 621.6,964.6 619.5,966.8 618.0,966.2 615.0,963.5 613.6,965.3 612.1,964.6 610.9,967.6 609.4,966.3 607.8,968.7 606.5,967.5 603.4,966.7 601.4,967.2 598.9,963.2 596.7,967.1 594.7,969.3 591.5,970.3 589.7,968.5 588.6,968.3 587.0,965.9 585.5,968.0 582.5,968.3 581.2,967.3 579.4,969.7 577.3,967.1 575.3,969.0 573.7,972.0 572.0,969.3 570.8,970.2 567.9,967.6 564.9,970.2 563.4,969.9 561.3,968.4 560.0,969.6 558.7,969.3 557.3,970.7 555.7,968.8 552.2,971.3 549.8,968.2 548.1,970.6 547.2,969.8 546.0,970.4 544.7,969.5 541.9,969.6 539.0,971.9 537.3,970.1 533.7,971.9 531.3,970.1 530.2,971.2 528.9,970.8 527.6,971.9 524.5,969.1 522.6,972.1 521.1,971.2 518.2,971.8 517.1,974.0 516.3,974.1 513.6,970.4 512.4,970.8 510.5,973.5 507.9,970.1 506.3,970.9 505.1,970.0 503.4,972.7 501.8,970.0 500.1,969.7 498.2,968.2 494.9,972.1 493.0,970.7 490.8,971.5 488.6,968.2 486.9,970.4 483.9,970.3 482.1,967.7 480.6,969.3 478.6,969.8 476.6,968.0 474.6,968.9 473.4,968.2 471.9,969.4 470.0,968.0 467.8,971.0 466.8,971.2 463.7,968.3 461.5,969.1 459.9,965.5 458.2,969.3 456.6,969.4 453.5,966.4 450.6,968.8 448.9,969.0 447.9,968.3 446.2,969.3 443.5,967.4 441.9,967.3 439.7,964.6 438.7,964.7 437.2,966.8 435.5,962.6 432.8,968.2 431.1,966.9 429.1,967.5 427.3,965.1 425.0,967.6 423.6,965.3 421.7,966.0 419.8,962.1 416.8,962.8 415.0,964.2 413.5,961.2 411.4,965.7 409.7,963.5 408.1,963.2 405.8,960.0 403.8,961.8 402.5,960.3 399.9,959.2 399.0,960.2 397.0,960.8 395.1,958.5 393.9,958.0 392.3,961.4 391.5,961.8 390.0,959.0 387.1,958.7 385.6,956.3 383.7,958.5 382.0,956.5 380.8,957.0 379.3,956.4 376.1,956.6 374.9,954.1 368.8,953.3 367.0,954.1 365.8,952.5 363.9,954.0 361.7,951.1 359.1,949.3 356.7,948.6 351.9,950.8 349.9,949.4 348.0,951.6 346.3,946.9 344.4,950.3 342.8,949.3 341.7,949.9 340.2,949.5 339.2,950.3 336.8,947.6 335.0,948.2 333.5,945.8 330.1,950.7 326.4,947.1 323.5,950.0 321.9,953.0 319.3,949.8 317.4,951.8 316.4,951.2 315.2,952.9 313.2,951.6 308.3,956.9 305.4,955.8 303.2,956.7 301.8,958.7 300.1,958.4 297.4,961.0 295.7,959.0 294.2,962.9 290.2,963.0 288.4,965.8 286.2,966.3 284.8,968.6 282.6,967.9 280.1,970.2 277.6,969.1 276.1,969.0 274.5,969.9 272.7,969.5 271.4,970.5 269.9,970.7 268.4,972.9 267.1,970.6 265.6,972.1 263.6,971.1 261.6,974.6 259.0,973.8 257.7,972.2 255.9,972.1 253.9,969.9 252.4,971.8 250.5,971.4 246.8,968.5 245.2,968.5 243.1,964.5 240.1,965.6 237.1,959.9 235.4,960.8 234.0,960.6 231.6,957.2 228.9,957.6 227.4,961.1 225.2,956.6 223.8,957.3 222.0,960.5 220.1,955.8 216.7,959.3 215.1,956.5 213.3,958.5 211.7,957.0 208.0,959.7 206.3,958.7 205.1,959.2 203.8,958.9 199.4,966.6 194.1,988.0 189.7,1013.8 186.1,1027.6 183.5,1034.1 178.0,1036.5 145.4,1036.5" fill="#8eaaf8" stroke="#8eaaf8" stroke-width="4.0" stroke-linejoin="round" clip-path="url(#cp20)" />
<polygon points="145.4,1036.0 178.2,1035.9 180.1,1035.1 182.9,1031.8 185.9,1023.7 189.3,1006.4 195.2,967.8 195.9,967.2 198.8,953.4 201.4,946.0 201.9,946.1 202.4,944.8 203.1,945.0 204.8,940.4 206.0,940.9 207.3,939.4 208.7,939.7 209.2,938.4 209.9,940.1 210.5,937.7 211.5,940.0 212.2,939.2 212.6,939.7 214.6,939.7 215.2,940.8 216.8,937.7 217.4,939.8 218.1,938.3 219.4,940.2 220.1,938.4 220.7,938.9 221.9,937.9 223.4,938.7 223.9,939.9 224.8,938.7 225.4,940.4 226.2,939.5 226.8,940.4 227.6,938.8 228.5,940.1 229.0,939.9 229.6,940.8 230.0,940.4 231.0,943.1 231.7,940.7 232.4,943.1 233.0,942.3 233.4,943.9 233.9,943.6 234.5,945.1 235.0,944.1 236.1,945.1 237.2,943.7 240.5,949.1 241.7,948.7 242.6,951.6 243.2,950.5 243.7,951.6 244.2,950.7 244.7,952.0 245.2,951.2 246.0,951.7 248.0,956.2 248.7,953.6 249.4,956.0 250.1,955.6 250.9,958.6 252.1,955.6 253.1,959.5 253.6,958.9 254.3,959.2 255.1,956.6 257.1,961.1 257.6,960.6 258.1,960.9 259.1,958.7 260.0,960.9 260.6,959.0 261.1,960.6 263.2,959.8 264.4,961.3 265.1,960.2 265.7,961.5 266.3,959.3 266.7,960.0 267.3,959.1 268.1,960.2 268.7,958.4 269.4,960.2 270.2,957.5 271.0,960.0 272.0,959.7 272.7,957.8 273.3,959.1 273.9,957.3 274.9,957.5 275.9,960.8 276.4,957.6 277.0,957.7 277.6,956.5 279.5,956.9 280.4,956.5 281.0,955.0 281.6,957.5 282.2,955.4 283.1,956.0 283.8,953.5 284.3,954.4 284.8,953.8 285.5,955.2 285.8,953.6 286.5,954.6 287.1,951.6 287.6,953.5 288.2,952.0 288.7,952.7 289.3,950.0 289.9,952.3 290.9,951.7 293.3,946.6 294.2,947.9 294.7,947.6 295.2,948.8 297.9,945.5 298.5,947.2 299.3,945.2 300.3,948.2 301.4,945.6 302.3,945.6 303.4,946.9 304.2,944.7 305.6,944.2 306.7,941.0 307.5,943.4 308.5,939.3 309.6,940.1 310.5,942.2 311.3,941.0 311.9,943.5 312.9,939.4 313.7,940.7 314.8,938.9 315.3,940.0 315.8,939.7 316.9,940.2 317.7,936.8 318.3,939.2 318.9,937.3 319.9,939.3 321.3,935.1 321.8,935.6 322.3,935.0 322.8,937.8 323.3,936.4 323.8,937.6 324.4,936.5 325.0,937.5 326.4,937.7 327.6,935.6 328.5,936.2 329.6,934.5 330.2,936.3 331.2,935.6 332.2,937.9 332.8,936.5 333.3,937.2 333.8,935.2 335.0,936.9 335.7,935.2 336.4,937.1 337.1,935.3 337.6,936.3 338.1,934.8 338.7,935.4 339.1,934.1 340.3,936.8 341.3,934.2 342.0,937.3 342.7,937.4 343.0,938.4 344.4,934.4 345.6,937.9 346.6,935.7 347.3,936.9 348.6,935.2 349.3,936.8 351.0,936.9 351.5,937.9 352.2,936.7 353.0,938.1 353.7,937.1 354.5,938.4 355.1,937.4 355.7,938.5 356.2,937.1 357.1,938.6 358.3,938.1 359.4,939.9 359.8,939.2 360.3,939.6 360.9,938.5 362.1,938.8 362.7,940.6 363.3,939.9 363.8,940.4 364.2,939.6 364.9,940.9 365.9,939.0 367.3,940.9 368.0,939.8 368.7,941.6 369.5,941.9 370.1,940.1 371.1,943.2 372.5,939.5 373.0,941.1 373.6,940.7 374.1,942.4 374.7,942.3 375.1,943.4 375.6,942.3 376.4,942.0 376.9,943.1 377.6,942.1 378.2,944.2 379.1,944.3 379.7,942.4 380.2,943.7 381.1,942.1 382.0,945.0 383.0,944.4 383.6,943.1 384.9,945.6 385.4,944.8 386.1,947.2 387.2,944.7 388.3,946.7 388.9,945.6 389.4,946.0 389.9,945.4 390.4,946.7 391.0,944.6 392.2,946.6 394.6,945.9 395.1,947.9 395.9,948.3 397.1,947.2 397.6,948.3 398.2,948.2 398.9,946.3 399.9,948.4 401.9,949.1 403.0,947.7 403.6,949.9 404.2,949.7 404.7,950.9 405.3,948.8 406.3,947.9 407.2,949.3 407.7,947.8 408.2,948.3 408.7,947.8 409.6,950.6 410.6,948.2 411.1,948.7 411.7,947.3 412.9,950.3 414.3,948.8 415.0,950.8 416.4,951.4 417.0,951.0 417.8,952.7 418.3,952.0 418.8,952.7 419.4,951.5 420.0,952.0 421.0,947.9 422.4,952.1 424.1,949.3 424.9,950.6 425.6,949.5 427.7,953.6 429.0,950.5 430.2,953.1 430.9,951.8 431.8,954.1 432.4,951.8 432.8,952.6 433.7,951.8 434.4,953.9 435.4,954.6 436.7,952.8 437.7,953.1 438.7,956.7 440.3,952.8 441.1,954.0 442.5,953.1 443.1,954.4 443.9,953.1 445.1,954.2 446.2,953.6 446.7,955.0 447.2,954.7 447.7,955.6 448.4,953.3 449.2,952.7 449.8,954.7 450.5,955.3 451.0,954.3 451.6,956.2 452.3,952.5 453.1,954.9 454.0,952.3 455.4,955.9 456.6,956.2 457.8,954.5 458.3,955.9 458.7,955.1 459.2,957.4 459.5,956.7 460.2,957.0 460.7,955.7 461.2,956.2 461.9,955.7 462.5,957.2 463.2,954.6 463.8,954.6 464.3,956.2 465.3,954.1 466.4,955.2 467.9,953.3 468.5,953.4 469.1,956.5 469.5,955.9 471.0,958.2 471.7,957.1 472.4,957.5 473.2,956.0 474.2,957.8 474.7,956.9 475.2,957.5 476.7,957.0 477.2,957.6 478.4,956.5 478.8,957.0 479.4,955.7 480.8,958.7 481.8,958.8 483.0,957.5 483.5,958.8 484.2,955.7 484.8,957.1 485.5,956.5 486.2,958.0 487.2,955.6 488.4,958.8 490.1,957.0 491.0,959.2 491.9,956.9 492.4,957.4 492.9,956.8 493.7,958.6 494.9,958.5 495.5,957.8 496.1,959.2 497.3,957.4 498.1,959.6 499.3,958.5 500.0,956.6 500.6,957.8 501.1,957.0 501.6,959.6 502.0,959.4 502.4,960.7 503.7,957.2 504.4,957.2 506.1,959.3 506.6,958.1 506.9,959.4 507.7,957.4 508.4,958.5 510.2,956.6 510.8,958.3 511.4,957.7 512.3,959.2 513.8,957.8 514.3,958.9 515.6,955.2 517.4,958.8 519.2,958.3 520.1,959.8 521.1,957.8 521.8,958.9 522.5,956.5 523.6,959.0 524.2,958.1 525.8,958.8 526.6,957.4 527.2,959.3 527.8,957.4 528.9,960.7 529.8,956.7 530.3,959.1 531.9,961.0 532.5,959.0 533.8,960.5 535.0,957.9 536.6,959.5 537.6,956.9 538.4,958.4 539.0,956.4 540.2,959.0 541.0,956.7 542.4,959.0 543.0,957.7 544.4,960.5 545.1,958.4 546.3,958.8 546.7,959.6 547.3,958.5 547.8,959.7 549.0,957.8 549.6,959.2 550.4,957.4 551.3,957.7 551.9,956.6 552.6,957.7 553.3,956.4 553.8,957.8 554.4,956.9 555.2,959.9 555.9,957.5 556.7,957.6 557.2,958.6 558.3,956.8 559.1,958.7 560.0,956.3 560.8,958.9 561.8,958.9 562.3,957.9 562.9,958.6 564.1,956.8 565.1,957.0 565.7,955.4 566.4,957.8 567.6,957.9 568.1,957.1 568.7,958.7 569.3,957.4 570.1,958.1 570.6,956.5 571.1,958.0 571.6,957.6 572.1,958.9 573.9,955.1 574.8,956.6 576.2,955.1 576.8,957.5 578.2,953.8 579.7,956.3 580.3,955.5 580.8,956.3 581.4,955.4 582.2,956.7 583.1,954.0 584.0,956.6 585.5,953.2 587.0,956.7 588.5,953.3 589.5,955.6 590.5,955.9 591.5,953.1 592.3,952.5 593.0,954.5 593.5,954.0 594.7,956.3 596.7,953.5 597.3,955.0 597.8,954.6 598.3,955.5 598.7,955.0 599.7,955.9 600.4,953.2 601.6,956.1 602.9,953.7 604.5,954.5 606.2,951.6 608.3,952.5 609.3,951.5 611.0,953.6 611.5,952.8 612.0,954.1 612.4,953.4 613.0,953.7 613.7,951.5 615.6,953.6 616.6,952.2 617.2,953.2 617.7,950.9 618.2,952.9 618.8,951.9 619.2,952.9 620.1,950.9 620.9,953.4 621.4,952.1 622.1,952.5 623.3,950.9 623.8,951.3 624.3,950.2 625.6,951.5 627.0,948.1 627.8,951.9 628.7,950.1 629.5,950.7 630.4,954.1 632.1,952.9 632.9,954.3 634.5,950.1 635.4,951.8 636.2,950.4 637.0,951.7 637.6,949.7 638.1,950.8 639.5,950.7 641.3,947.2 642.7,951.0 642.6,964.5 642.3,965.7 641.6,964.5 640.3,966.3 638.5,963.3 637.5,964.0 636.9,963.5 635.0,965.1 633.1,962.7 631.6,964.7 631.0,963.0 629.5,964.5 628.9,963.0 628.2,965.5 626.5,965.7 625.4,967.6 624.4,966.2 623.9,963.0 623.3,964.8 622.4,962.7 620.9,964.8 620.5,964.1 620.0,964.7 619.2,963.1 618.5,966.4 616.8,963.7 616.2,965.1 614.7,963.7 613.7,966.7 613.1,964.5 612.4,964.9 611.6,963.6 610.4,966.8 609.9,965.7 608.5,966.3 608.0,967.4 607.5,966.7 606.9,968.5 606.2,966.1 605.7,967.0 605.3,966.0 604.2,966.5 603.7,964.8 602.9,965.5 601.9,964.2 600.8,964.7 600.1,966.3 599.4,965.1 598.9,966.8 598.4,965.0 596.8,964.8 594.7,968.0 594.1,966.1 593.2,966.0 592.5,967.6 591.2,966.3 590.4,968.3 589.6,965.3 588.6,970.0 587.3,966.2 586.5,967.9 585.3,967.0 584.6,970.0 583.0,966.6 582.4,967.6 581.9,967.1 581.3,967.9 580.5,966.4 578.9,969.1 578.4,968.4 576.7,968.6 576.2,967.4 575.4,970.0 574.8,968.1 574.1,970.6 573.6,969.2 572.2,968.1 571.7,968.5 571.3,967.5 570.2,968.6 569.0,967.4 568.2,969.8 567.6,968.3 567.1,969.7 566.5,968.0 565.9,969.6 565.2,969.7 564.6,972.0 564.0,969.7 562.5,969.5 561.4,968.4 560.8,969.9 559.5,969.0 558.7,970.1 558.0,968.7 556.9,971.7 555.7,968.4 554.9,970.8 554.4,969.9 553.4,970.5 552.8,969.4 552.2,970.3 550.6,969.3 549.9,970.2 549.3,969.1 548.6,969.6 548.0,968.5 546.1,969.6 545.1,968.8 544.4,970.3 543.7,968.7 542.4,970.9 541.9,970.3 541.4,971.4 540.9,970.4 539.9,973.6 536.6,968.0 536.0,970.2 535.3,969.7 534.5,972.3 533.3,969.8 532.8,970.3 532.0,969.6 531.4,969.9 530.8,972.1 529.9,970.2 528.8,969.9 528.1,972.7 527.6,971.5 526.7,972.1 524.6,968.6 523.7,970.2 523.2,969.6 522.5,970.1 521.7,968.4 519.9,972.0 519.5,970.8 518.9,972.0 518.2,969.9 516.1,972.7 515.5,971.3 514.4,971.1 512.8,968.9 511.9,970.5 511.3,969.0 508.9,973.7 507.7,970.0 507.0,970.5 506.3,969.8 505.8,970.5 505.2,969.0 504.3,971.2 503.6,970.7 503.2,971.8 502.3,968.7 501.6,971.9 501.1,970.7 500.5,971.7 499.5,971.1 499.1,971.4 498.2,967.2 497.6,968.9 496.0,970.3 494.6,967.7 492.9,971.3 491.8,969.2 490.4,971.0 490.0,970.0 488.9,969.4 488.4,967.8 487.9,969.8 487.3,969.1 486.3,970.9 484.8,967.5 484.0,969.7 483.5,968.5 482.8,968.3 482.3,968.8 481.8,968.2 481.1,969.6 479.7,968.5 478.9,969.6 477.6,967.6 475.7,970.4 475.1,967.3 473.5,969.3 472.4,967.2 471.6,968.5 470.9,966.6 469.1,970.5 468.5,969.2 467.8,970.1 466.1,968.6 465.4,970.4 464.9,969.1 464.1,968.8 463.5,969.4 462.9,967.9 462.4,968.4 461.9,966.7 460.9,968.0 460.3,967.2 459.5,967.3 458.4,969.5 457.8,967.7 457.2,968.8 455.3,966.6 454.1,969.7 453.6,968.3 453.1,968.8 452.3,967.6 451.8,965.8 451.1,967.6 450.7,966.4 450.2,966.7 449.8,966.2 449.2,967.5 448.6,965.8 447.2,967.4 446.7,966.2 445.2,967.4 444.4,965.8 443.6,965.9 443.1,967.0 442.6,965.5 441.0,967.2 440.5,965.8 440.0,966.6 438.9,963.8 438.0,966.3 437.0,966.7 436.0,963.7 434.2,967.5 433.6,966.6 432.9,967.3 432.1,964.2 430.6,966.0 429.7,963.6 429.0,964.7 428.0,963.5 426.1,964.7 425.6,964.3 425.0,966.2 424.1,964.2 422.6,965.5 421.1,963.8 420.5,964.2 419.8,963.0 419.3,963.8 418.5,961.3 417.6,963.1 416.6,960.4 415.3,964.4 414.2,963.2 413.5,961.0 411.9,966.4 410.1,961.6 408.9,961.3 408.3,961.9 407.4,959.9 406.9,961.1 405.6,959.7 404.7,960.7 404.1,959.7 403.1,960.1 402.6,961.3 401.4,960.3 400.6,961.8 400.0,960.0 399.1,959.9 398.5,960.8 397.7,959.0 397.0,960.9 395.9,957.9 395.1,957.2 394.5,959.2 393.1,956.6 390.8,959.9 389.8,956.3 388.9,958.1 388.3,955.6 387.8,958.3 386.9,958.3 385.6,954.9 384.8,957.4 384.3,956.3 383.7,958.0 383.2,955.8 382.5,957.0 381.8,956.0 380.8,958.1 380.1,954.9 378.7,955.8 378.2,955.5 377.6,956.5 375.4,954.6 374.9,953.4 373.4,954.6 372.9,953.7 372.4,954.5 371.9,953.5 371.4,954.7 370.8,952.7 369.6,953.8 368.5,953.5 367.9,952.2 367.3,953.2 366.3,950.1 365.5,952.1 364.5,950.6 363.4,950.5 362.8,951.2 361.1,949.8 359.9,951.5 359.2,949.0 358.7,951.5 358.1,948.8 357.6,949.7 357.1,948.8 356.2,950.7 355.6,948.8 354.8,950.0 354.2,948.5 353.4,949.8 352.0,948.2 351.4,948.8 350.7,947.9 350.1,949.7 349.4,947.0 348.5,949.0 347.9,948.0 347.1,950.1 346.3,946.0 345.0,949.8 342.7,946.8 342.0,950.3 341.4,948.2 340.5,948.3 339.7,947.1 338.6,947.3 337.7,949.1 336.8,947.0 336.4,948.7 335.8,945.4 335.1,947.4 334.1,947.9 333.5,947.2 332.2,948.5 331.6,946.5 329.9,948.9 329.4,948.3 328.7,950.3 327.7,948.5 326.9,949.6 326.1,948.1 325.1,948.2 324.6,946.6 323.9,951.1 322.0,951.8 320.7,950.2 319.9,947.5 319.2,950.4 318.2,948.2 316.9,952.0 316.4,951.1 315.8,952.4 315.2,951.6 314.6,952.2 313.6,950.4 312.7,950.7 312.2,952.3 311.1,951.2 309.6,955.5 308.2,955.4 307.7,957.3 306.7,955.2 306.2,955.9 304.6,955.2 304.0,957.3 303.4,955.0 301.4,957.8 300.5,958.4 299.6,958.1 298.3,960.7 297.5,958.8 296.8,961.0 296.2,958.5 295.4,960.2 295.0,959.8 293.9,963.5 293.4,962.3 292.8,963.9 292.1,962.4 291.4,963.0 290.8,961.6 290.2,964.4 289.6,961.8 288.3,964.9 287.5,963.8 286.6,966.7 286.0,965.0 285.0,964.9 284.2,968.2 282.7,965.5 282.2,967.4 281.2,967.5 279.9,968.9 279.2,967.9 278.7,969.2 278.4,967.9 277.8,970.5 276.1,968.3 275.1,970.1 274.3,969.6 273.5,971.0 273.0,970.3 272.4,972.3 272.0,971.4 271.4,972.5 270.0,971.4 269.3,973.1 268.8,971.9 267.4,971.1 266.1,971.7 265.4,973.7 264.6,970.1 263.5,972.9 262.3,972.2 261.8,973.1 260.5,970.9 259.5,973.5 258.4,971.9 257.2,973.8 256.6,972.6 255.9,973.5 255.4,973.1 254.6,969.9 254.3,970.7 253.1,970.1 252.5,971.9 251.0,968.5 250.4,969.1 249.7,967.6 248.9,969.1 248.3,968.2 247.8,969.3 247.3,968.1 246.8,968.8 246.2,967.9 245.7,968.8 245.1,966.2 244.6,967.3 243.3,966.4 242.7,962.6 242.1,963.9 241.1,963.6 240.6,962.2 239.5,963.1 238.0,960.5 237.2,962.5 236.6,960.4 236.2,961.0 235.7,959.8 235.2,961.8 234.5,959.6 233.9,960.6 233.4,958.9 232.9,959.7 232.2,959.5 231.6,957.9 230.9,958.2 230.3,956.2 229.6,957.7 228.9,958.1 228.4,957.4 227.9,958.9 227.1,957.1 225.9,957.8 225.0,955.4 223.9,957.2 222.7,957.3 221.5,959.0 221.1,956.6 220.6,957.3 219.3,956.0 216.9,958.0 215.3,955.5 214.7,956.5 214.2,955.3 212.8,957.5 212.2,956.3 211.1,958.4 210.5,955.8 209.5,957.9 208.0,957.5 207.4,958.2 206.9,957.2 206.3,957.6 205.5,959.8 204.8,958.4 204.4,958.7 203.8,958.0 202.3,961.5 201.7,961.2 199.9,967.1 198.3,968.9 197.3,975.0 196.7,975.4 195.6,979.6 194.8,987.1 193.7,989.2 191.5,1004.4 188.7,1017.7 185.2,1030.1 183.4,1034.0 178.0,1036.5 145.4,1036.5" fill="#e47b5f" stroke="#e47b5f" stroke-width="5.0" stroke-linejoin="round" clip-path="url(#cp20)" />
<polygon points="145.4,1036.1 150.9,1035.6 153.9,1036.3 155.9,1035.4 157.1,1036.3 158.3,1035.8 163.6,1036.1 164.1,1035.6 164.6,1036.2 165.8,1035.7 167.2,1036.5 168.0,1035.6 168.6,1036.4 169.1,1035.8 172.4,1036.1 173.1,1035.6 173.8,1036.1 175.3,1035.5 178.0,1036.2 180.8,1034.8 183.0,1031.5 183.7,1031.4 189.3,1007.1 192.7,984.1 199.2,952.3 199.9,950.4 200.9,949.8 202.2,945.8 202.8,946.2 205.0,944.3 206.8,940.6 207.5,941.7 209.7,937.8 210.6,938.1 211.5,941.4 213.5,938.5 215.1,941.3 215.7,939.5 217.3,938.4 218.7,941.6 219.2,939.9 219.8,940.6 220.9,938.6 222.7,940.0 223.3,939.4 223.9,941.8 225.0,940.0 225.8,941.4 226.0,940.9 226.6,941.3 227.3,940.3 228.4,941.6 229.0,940.4 230.6,943.8 231.9,943.4 232.4,944.7 233.0,942.7 233.6,943.5 234.4,942.3 235.0,945.8 235.6,943.9 236.3,944.9 236.7,944.3 237.5,944.7 238.5,948.4 239.6,947.7 241.3,949.3 241.8,948.5 242.3,950.4 242.8,949.7 243.8,951.8 244.8,951.4 245.4,953.1 246.7,953.8 248.2,956.2 249.0,954.5 250.9,958.8 252.1,957.8 253.0,959.4 254.0,958.1 255.0,959.7 256.1,959.3 256.7,961.4 257.2,960.0 258.0,960.9 258.5,959.8 259.0,960.6 259.4,960.1 260.1,961.6 260.6,960.8 261.0,961.2 261.5,959.9 262.5,960.9 262.8,960.2 264.3,962.8 266.2,960.4 267.3,962.0 268.6,958.5 269.3,959.4 270.0,958.9 270.4,959.9 271.4,959.0 272.0,959.8 273.8,959.4 274.4,960.1 274.9,959.1 275.6,960.0 276.4,958.8 276.9,959.5 277.4,957.8 278.3,957.1 278.9,958.6 279.7,956.3 280.4,957.4 280.9,956.3 281.4,957.1 282.4,956.1 283.1,956.2 283.8,952.9 286.7,956.2 288.7,952.2 290.7,952.8 291.4,950.6 292.1,949.9 292.6,950.5 293.0,949.2 293.7,950.2 294.4,948.2 295.7,949.7 296.7,948.4 297.3,949.5 298.0,946.8 298.6,948.1 300.5,945.6 301.3,948.2 303.0,944.9 304.5,944.8 305.0,946.0 305.9,942.0 306.6,944.1 307.3,941.7 307.8,942.2 308.8,940.4 310.5,941.7 311.1,943.5 312.8,941.0 314.4,941.3 315.4,940.3 316.7,941.7 317.5,938.4 318.3,940.1 319.0,940.3 319.7,938.7 320.5,939.0 322.8,935.4 323.3,937.0 324.1,938.0 324.9,937.5 325.9,939.7 326.4,938.8 327.0,939.2 327.9,936.0 328.9,936.9 329.5,935.7 330.7,937.8 332.3,936.0 333.6,938.0 334.1,936.7 334.6,937.6 335.9,936.4 337.2,937.9 337.7,936.5 338.9,935.5 340.2,937.6 340.7,937.0 342.2,937.4 342.8,935.9 344.9,936.0 345.4,935.3 346.4,939.3 347.8,935.4 348.5,937.4 349.0,936.7 349.6,937.9 350.2,937.0 350.9,939.2 351.4,937.7 352.4,938.3 352.9,936.9 353.6,938.9 354.1,937.9 354.7,938.9 355.5,937.9 356.1,938.3 356.8,937.6 358.5,939.9 359.7,939.1 360.8,939.5 361.4,940.6 362.2,938.6 363.2,942.4 363.8,940.8 364.4,942.3 365.5,940.9 366.7,943.1 367.4,940.1 368.3,939.8 369.0,942.6 369.8,940.5 370.6,942.8 371.3,942.0 371.8,943.1 372.8,941.8 374.4,944.3 375.0,943.3 375.6,944.4 376.1,943.2 376.6,943.5 378.4,942.0 379.6,944.8 380.5,942.6 381.5,943.3 382.0,944.8 382.5,943.6 383.0,945.2 383.6,943.2 384.2,945.3 384.8,943.4 385.6,947.0 386.7,944.4 387.4,947.0 388.9,944.6 389.3,945.5 389.8,945.3 390.8,947.8 391.8,947.1 392.4,948.2 393.0,946.8 393.5,948.3 394.5,947.9 395.0,948.8 395.4,947.4 396.0,948.2 396.6,947.0 397.4,949.8 397.7,948.8 398.2,949.7 398.6,948.3 399.7,949.8 400.6,946.3 401.5,950.0 402.6,949.2 403.7,951.3 404.5,950.0 405.2,951.3 405.8,950.2 406.5,950.9 407.3,948.4 408.8,950.5 409.8,946.8 410.7,950.0 411.4,948.1 411.9,949.0 412.5,948.6 413.4,950.8 414.7,949.4 415.3,951.3 415.7,950.8 416.2,951.2 416.8,953.0 417.4,953.2 418.0,951.6 418.5,953.7 420.1,949.4 421.4,951.8 422.0,951.3 422.5,952.4 423.5,950.8 424.6,951.6 425.2,949.7 426.8,953.5 427.5,952.2 428.5,953.8 429.8,952.4 430.5,952.5 431.1,954.1 431.7,951.9 432.3,953.8 432.9,953.1 433.4,955.1 434.3,952.2 436.2,955.5 436.8,953.4 437.3,953.9 437.7,953.1 439.2,955.2 439.8,954.4 440.3,955.9 441.0,952.4 443.5,955.5 444.8,954.0 445.2,954.3 445.9,952.9 446.9,956.9 447.7,954.7 448.4,957.1 449.1,953.2 449.7,955.3 450.3,954.6 451.0,955.9 452.0,955.4 452.6,955.9 454.0,952.9 456.1,957.5 456.9,957.2 458.6,954.9 459.4,957.8 460.4,955.9 461.0,958.1 461.7,957.2 462.0,957.6 462.7,957.3 463.2,958.1 465.9,955.2 467.0,956.2 467.6,954.7 468.4,956.8 468.9,956.5 469.6,957.4 470.2,956.9 470.7,959.1 471.2,957.3 471.7,959.2 472.7,958.0 473.5,959.5 474.5,956.8 475.8,956.9 476.3,957.9 478.4,956.2 479.1,957.8 479.9,957.2 481.2,959.9 482.2,959.6 482.9,958.5 483.7,960.0 484.8,957.7 485.3,958.8 485.9,958.9 486.9,956.5 487.5,959.2 488.3,958.4 488.9,959.6 489.8,958.5 490.6,961.1 491.5,960.4 492.1,957.6 492.9,960.2 494.2,959.2 496.0,961.0 496.9,959.3 497.7,960.6 499.2,959.4 499.8,959.7 501.2,956.9 502.0,959.8 503.2,958.6 503.8,960.1 504.9,959.3 506.2,960.0 507.3,957.3 508.8,960.2 509.7,957.1 511.4,960.8 512.1,960.5 512.8,958.6 513.6,961.0 514.6,959.0 515.6,959.2 516.3,957.3 517.0,959.9 517.6,958.2 518.2,960.2 519.0,959.7 519.7,957.8 520.7,960.0 521.3,960.6 522.1,958.9 523.0,961.0 523.8,958.0 525.2,961.3 526.2,957.5 527.3,958.0 527.9,960.1 529.2,961.1 529.8,959.7 530.4,960.4 530.9,959.4 531.7,960.9 532.8,959.6 533.4,961.9 534.0,958.8 534.7,960.4 535.4,958.9 537.0,960.8 537.9,957.5 538.8,958.7 539.4,958.0 539.9,959.0 540.4,958.0 541.2,958.4 542.5,957.2 543.4,960.9 544.0,958.2 544.7,959.7 545.7,958.6 546.3,960.1 546.8,959.0 547.8,960.3 548.5,958.6 549.2,959.5 550.6,958.0 551.2,959.0 551.8,956.4 552.4,958.5 553.1,957.8 554.8,960.6 556.7,958.0 557.7,957.6 558.4,960.4 559.1,957.4 559.8,959.0 560.6,958.7 561.9,959.8 562.3,958.9 562.6,959.7 563.3,957.1 564.2,958.5 565.0,956.5 566.0,956.8 566.5,958.2 567.2,958.4 568.1,958.3 569.3,956.4 570.1,957.9 571.3,958.1 572.0,959.4 573.0,955.6 573.6,957.2 574.4,956.6 575.2,958.1 575.8,955.2 576.8,957.0 577.4,956.2 577.9,957.4 578.5,954.6 579.4,956.9 579.9,955.1 580.7,957.5 581.2,956.5 581.7,958.8 582.4,956.3 582.9,957.4 583.4,956.0 583.9,956.7 584.5,954.4 585.3,956.8 585.9,955.2 586.4,956.0 586.9,954.7 588.1,957.3 588.7,955.3 589.4,956.3 590.4,955.2 591.5,957.3 592.2,955.1 592.7,956.6 593.3,954.9 593.8,955.0 594.6,953.9 595.8,956.4 597.3,954.0 597.8,955.7 598.4,955.0 599.1,956.7 599.6,955.9 600.1,956.8 600.7,954.7 601.3,957.0 602.4,953.8 603.8,954.8 605.2,953.8 605.8,954.0 606.4,952.8 606.9,953.4 608.3,952.9 608.9,954.2 609.4,952.7 609.8,953.0 610.8,951.9 611.9,955.2 613.7,951.7 614.6,952.2 615.4,954.4 616.1,954.2 616.6,955.5 617.3,952.6 618.1,954.6 618.8,953.2 620.0,954.1 621.1,952.8 621.7,953.5 622.3,952.6 622.9,952.9 623.6,951.1 624.4,953.7 625.8,950.1 626.3,951.1 626.7,950.4 627.2,951.4 627.5,951.0 628.0,951.8 628.9,951.8 629.5,952.8 630.2,951.8 630.8,954.5 631.5,952.4 632.0,954.3 632.9,954.8 634.6,950.8 635.4,952.4 636.7,951.5 637.6,952.4 638.1,951.1 639.0,952.8 640.5,948.4 641.2,947.9 642.7,952.3 642.7,963.4 642.5,962.6 641.3,963.8 640.8,965.9 637.7,962.6 635.9,964.9 633.4,962.6 632.6,963.7 631.9,963.2 630.6,963.8 630.0,962.7 628.7,963.2 628.2,964.8 627.7,963.9 627.3,964.7 626.8,962.7 626.3,965.2 625.2,965.0 624.7,966.5 623.2,962.5 622.6,964.7 621.9,962.7 621.2,964.4 620.3,962.0 619.2,964.8 618.2,964.9 617.3,961.2 614.9,965.3 614.0,963.8 613.0,965.4 612.1,964.6 611.3,965.4 610.6,964.1 609.8,966.5 609.1,965.1 608.6,966.5 608.1,964.6 607.6,966.0 607.1,965.8 606.4,966.9 604.5,964.3 603.9,965.8 603.0,962.9 601.1,965.8 600.2,964.4 599.2,966.1 598.6,964.6 597.9,965.7 597.4,965.3 596.2,966.0 595.6,967.5 594.8,965.5 594.0,968.8 591.9,965.8 591.2,967.3 590.9,966.7 590.4,967.2 589.9,965.9 589.1,968.6 587.4,966.6 586.1,967.9 584.5,966.4 583.4,968.1 581.5,965.9 580.3,968.5 579.9,968.0 579.3,969.1 578.5,967.4 577.9,968.6 576.4,966.2 574.6,969.2 573.3,968.6 572.7,967.4 571.6,968.9 571.1,967.7 569.3,968.3 568.6,966.9 567.7,967.4 567.1,965.3 566.2,969.9 565.0,969.0 564.2,969.8 563.5,967.9 562.9,969.2 562.1,968.7 561.8,969.9 561.1,967.9 560.1,969.1 559.4,967.6 558.9,968.4 558.4,967.2 557.9,969.1 557.2,968.0 556.7,969.4 555.2,967.9 553.6,970.3 552.9,968.8 552.4,970.3 551.8,970.0 551.2,971.2 550.2,968.4 549.2,969.3 547.6,968.4 546.8,970.4 544.6,968.9 543.9,971.0 543.2,968.8 542.2,968.5 541.5,971.1 540.5,971.5 540.0,970.6 539.1,972.1 537.6,968.0 536.0,970.9 535.5,969.5 534.9,970.7 534.3,969.1 532.8,971.3 531.8,968.7 531.0,971.0 529.9,969.0 529.4,970.1 528.8,969.1 528.1,970.5 527.3,968.7 525.7,971.7 524.7,968.3 524.0,970.7 523.5,969.7 523.0,971.2 522.2,969.7 521.5,971.3 520.7,969.7 520.1,970.6 519.5,969.6 518.9,970.9 518.2,969.1 517.5,969.0 516.6,972.0 515.4,969.5 514.6,972.2 513.3,969.2 512.6,970.4 511.5,968.9 510.7,970.8 509.8,970.0 509.2,971.3 508.2,969.3 507.3,971.3 505.6,967.7 504.8,970.4 504.1,969.2 503.3,970.1 502.3,968.2 501.6,970.2 501.1,970.4 500.7,969.7 500.1,970.8 499.3,969.1 498.6,969.9 497.8,969.1 497.3,969.9 496.9,969.2 495.7,970.0 495.1,968.3 493.9,969.7 493.1,969.1 492.5,970.6 491.9,969.6 491.1,971.3 489.3,967.5 488.5,970.6 487.9,968.5 487.3,971.5 486.7,969.2 485.4,970.3 484.3,967.9 483.7,968.7 483.3,967.8 482.8,968.5 481.8,967.7 481.3,968.6 480.7,967.0 479.8,969.1 478.4,970.3 477.5,967.7 476.1,967.8 475.3,966.3 474.7,969.1 474.3,968.4 473.7,969.4 472.2,967.0 471.6,968.3 471.0,966.7 470.2,969.1 469.6,968.8 468.7,970.0 468.1,969.6 467.8,970.0 467.1,969.2 466.6,969.8 465.5,967.1 465.0,968.1 464.1,966.4 463.5,967.4 463.0,966.6 462.5,967.5 462.0,967.0 460.9,967.4 460.4,966.3 459.8,967.7 458.9,967.4 458.2,964.7 457.3,967.2 456.3,965.5 454.5,968.9 453.5,966.8 452.8,968.3 452.3,968.3 451.1,965.0 450.2,966.9 449.1,965.9 448.5,966.2 448.0,964.7 447.0,966.5 446.1,965.6 445.5,967.7 444.3,965.6 443.5,967.6 442.4,965.1 441.6,964.9 440.3,966.2 439.8,964.9 438.2,963.6 437.3,966.2 435.7,963.5 435.2,964.6 434.4,964.5 433.6,967.0 432.6,962.6 431.8,964.4 431.1,963.3 430.5,965.0 429.5,963.4 428.7,964.9 426.2,962.2 425.6,964.0 424.7,963.9 423.1,966.4 422.5,963.0 421.9,964.4 420.8,962.8 420.1,963.6 419.4,960.4 418.3,961.7 417.6,960.5 416.9,962.5 416.0,962.5 415.4,961.5 414.8,963.1 414.2,960.3 413.5,961.8 413.0,960.1 412.4,962.4 411.3,962.3 410.1,964.0 409.3,960.7 408.4,961.8 407.4,960.4 406.6,960.9 405.8,959.1 404.6,959.2 403.3,957.2 402.1,960.9 400.4,959.2 399.7,960.0 397.3,958.2 396.6,958.9 396.0,957.6 394.8,957.4 394.0,956.4 392.9,958.0 391.9,957.2 391.2,958.4 390.7,957.1 389.0,956.4 388.7,955.5 387.4,958.8 386.6,956.1 385.8,955.5 384.6,957.8 383.9,956.6 383.4,958.2 382.5,955.8 381.7,957.1 381.2,956.1 380.5,956.5 379.8,954.7 379.3,955.2 378.7,954.1 378.1,956.0 377.4,955.9 375.7,954.3 375.1,952.5 374.5,952.7 373.7,955.2 373.0,954.6 372.4,951.8 371.8,954.2 371.3,952.2 370.5,953.3 368.2,951.3 367.7,952.1 366.2,951.3 365.5,950.2 363.9,951.8 363.4,949.7 362.8,950.8 362.2,947.5 361.6,949.6 360.7,948.0 360.1,949.6 358.6,947.9 357.5,950.9 356.2,947.9 355.3,949.8 354.5,949.4 354.0,947.2 353.4,948.1 352.6,947.3 351.7,949.4 350.6,947.2 350.0,949.1 349.3,947.8 348.4,949.8 346.4,946.1 345.4,947.6 344.9,946.7 344.4,948.0 343.5,946.1 342.9,945.8 342.4,946.8 341.8,945.4 339.6,947.7 339.1,947.1 338.4,947.6 337.7,945.7 336.2,947.8 335.5,944.7 334.7,946.8 333.8,945.7 333.2,947.3 332.5,945.9 331.5,948.5 330.9,948.2 330.5,948.8 330.0,947.7 328.4,949.4 327.7,948.6 327.2,949.7 325.8,946.9 325.0,949.3 324.5,948.6 323.6,948.9 322.1,950.6 320.0,947.7 319.3,949.5 318.3,949.3 317.7,950.8 316.4,948.9 315.9,951.1 315.3,949.8 314.3,952.0 313.7,950.4 312.4,951.8 311.9,950.5 310.3,953.8 309.7,953.4 309.2,954.2 308.2,954.4 307.5,955.8 306.2,954.8 304.0,956.5 303.4,955.1 302.5,956.6 301.9,955.6 300.8,957.9 299.6,957.7 298.9,960.0 298.4,959.8 297.6,960.9 297.0,959.9 296.4,960.3 295.7,957.9 295.2,961.2 294.3,961.3 293.2,963.5 291.4,961.0 290.7,962.7 290.1,961.9 288.8,964.8 287.8,962.3 286.6,964.3 286.0,963.6 284.1,967.3 283.3,965.6 280.7,968.7 279.5,965.7 278.3,969.8 277.8,968.5 276.6,970.0 275.1,968.0 274.5,969.3 273.7,969.0 272.3,970.7 271.8,969.8 271.0,971.6 270.5,971.0 270.2,971.9 269.5,970.7 268.4,972.6 266.9,969.7 266.3,971.5 265.3,972.2 264.4,970.7 263.8,971.5 263.3,970.7 262.7,972.6 261.3,971.1 260.8,971.9 260.2,971.5 259.4,972.9 258.0,971.3 257.1,972.1 256.5,970.8 255.9,972.1 254.8,969.8 254.3,971.0 253.8,969.8 253.3,970.5 252.6,969.3 251.6,970.6 250.9,968.1 250.5,969.1 248.2,969.0 247.7,969.9 247.0,967.0 246.3,968.9 243.8,964.5 243.2,964.9 242.7,963.5 241.4,962.5 240.7,965.2 239.7,961.6 239.0,961.8 238.3,960.5 236.8,961.3 234.1,957.8 233.4,959.3 231.7,959.3 230.6,958.0 229.4,958.1 227.5,956.4 227.0,957.2 225.7,956.7 225.0,955.5 224.4,958.1 223.5,955.3 221.9,957.4 221.3,955.8 220.6,957.2 219.8,955.4 219.2,956.1 217.7,956.2 216.8,957.3 215.6,955.1 214.3,956.5 213.7,954.4 211.7,956.8 211.0,955.1 210.1,958.9 209.2,958.8 208.6,959.9 208.0,958.0 207.5,958.5 206.1,957.7 204.8,958.7 203.5,956.3 202.8,958.4 201.8,958.2 201.2,962.5 196.9,973.6 190.0,1011.6 187.4,1020.7 186.2,1027.3 184.1,1032.9 180.3,1036.2 176.5,1036.7 174.2,1036.3 173.3,1037.1 170.7,1035.9 169.9,1036.9 169.4,1036.3 167.6,1036.0 166.8,1037.2 164.6,1035.9 163.2,1036.9 161.7,1036.3 160.4,1036.9 158.5,1036.3 157.6,1037.0 156.1,1035.9 154.7,1037.1 151.3,1036.3 150.7,1036.9 148.7,1036.2 145.4,1036.6" fill="#b40426" stroke="#b40426" stroke-width="5.0" stroke-linejoin="round" clip-path="url(#cp20)" />
<clipPath id="fcl1"><rect x="691.8" y="667.5" width="486" height="268.8"/></clipPath>
<g clip-path="url(#fcl1)">
<polyline points="691.8,1036.2 740.7,1036.2 742.0,1035.7 742.7,1034.6 743.9,1029.3 745.5,996.4 746.6,927.8 748.8,575.2 756.3,575.2 757.7,826.1 758.9,956.9 760.4,1017.6 761.4,1030.3 762.1,1033.9 763.0,1035.5 764.0,1036.1 766.0,1036.2 824.9,1036.2 826.3,1035.9 827.2,1035.1 828.4,1030.9 829.4,1020.9 830.3,1001.7 831.6,936.2 835.1,575.2 838.2,575.2 841.5,924.0 842.8,996.2 844.4,1027.8 845.7,1034.2 846.6,1035.6 847.9,1036.2 882.4,1036.2 884.2,1035.5 885.2,1033.6 886.5,1024.5 887.3,1007.1 888.7,937.7 891.2,575.2 897.8,575.2 899.3,824.8 900.5,951.6 902.0,1014.9 903.0,1029.1 904.5,1035.2 905.7,1036.1 908.4,1036.2 1189.0,1036.2" fill="none" stroke="#3b4cc0" stroke-width="5.0" stroke-linejoin="round" stroke-linecap="round" clip-path="url(#cp21)" />
</g>
<g clip-path="url(#fcl1)">
<polyline points="691.8,1036.2 736.1,1036.0 737.8,1035.2 738.9,1033.5 740.6,1025.4 741.9,1010.7 742.9,988.9 744.6,915.5 746.2,792.3 748.2,575.2 756.9,575.2 759.3,825.8 761.3,953.5 762.4,992.2 763.6,1016.3 765.1,1029.4 766.1,1033.1 767.2,1035.1 768.7,1036.0 771.3,1036.2 820.3,1036.1 822.2,1035.6 823.6,1034.2 825.4,1028.2 827.5,1006.6 829.3,965.3 834.6,710.4 835.6,679.0 836.6,667.6 837.6,678.0 838.7,713.5 843.8,959.7 845.4,1001.4 847.2,1023.7 849.0,1032.9 850.3,1035.0 852.2,1036.0 877.9,1036.1 880.3,1034.9 881.8,1031.6 883.4,1021.2 884.6,1002.9 886.7,932.1 888.6,809.2 891.1,575.2 897.9,575.2 900.7,824.3 902.6,946.8 903.8,986.7 905.0,1012.7 906.5,1027.8 908.4,1034.3 910.2,1035.9 914.1,1036.2 1189.0,1036.2" fill="none" stroke="#3b4cc0" stroke-width="5.0" stroke-linejoin="round" stroke-linecap="round" clip-path="url(#cp21)" />
</g>
<polyline points="691.8,1036.2 747.1,1036.2 748.0,1035.9 748.5,1033.9 749.2,1011.3 749.7,942.5 750.6,575.2 754.5,575.2 754.7,575.7 755.5,967.2 756.2,1024.3 756.5,1032.7 757.3,1036.0 831.1,1036.2 832.1,1036.0 832.6,1034.8 833.5,1015.5 834.1,943.1 835.1,575.2 838.2,575.2 839.2,957.5 839.8,1019.4 840.3,1032.4 841.0,1035.8 842.2,1036.2 889.2,1036.2 890.1,1035.7 890.6,1033.1 891.3,1005.2 891.8,927.2 892.6,575.2 896.4,575.2 897.4,966.8 897.9,1018.0 898.3,1030.4 898.9,1035.6 900.3,1036.2 976.6,1036.2 977.7,1036.0 978.2,1034.6 979.1,1011.8 979.6,952.1 980.6,575.2 984.0,575.2 984.8,932.7 985.3,1005.0 986.2,1033.9 986.7,1035.9 987.4,1036.2 1013.6,1036.2 1014.6,1035.3 1015.0,1031.6 1015.8,1000.3 1016.3,928.0 1017.3,575.2 1020.0,575.2 1021.0,936.7 1021.5,1003.8 1022.1,1030.3 1022.6,1035.0 1023.5,1036.2 1046.5,1036.2 1047.4,1036.0 1047.8,1035.4 1048.4,1030.3 1048.7,1019.4 1049.4,963.0 1050.6,575.2 1053.1,575.2 1054.2,954.6 1054.7,1009.8 1055.6,1034.0 1056.1,1035.8 1057.1,1036.2 1105.7,1036.2 1106.9,1035.8 1107.6,1032.1 1108.1,1018.1 1108.7,951.8 1109.7,575.2 1112.8,575.2 1113.8,938.7 1114.8,1028.8 1115.3,1034.7 1116.0,1036.2 1133.1,1036.2 1134.2,1035.9 1134.8,1033.3 1135.3,1024.2 1136.0,969.2 1137.5,575.2 1139.1,575.2 1140.4,926.6 1141.5,1027.2 1142.0,1034.1 1142.9,1036.1 1158.5,1036.2 1159.7,1035.9 1160.3,1033.4 1160.8,1023.5 1161.4,975.1 1162.6,575.2 1165.5,575.2 1166.4,922.8 1167.5,1029.2 1168.0,1034.8 1168.7,1036.2 1189.0,1036.2" fill="none" stroke="#3b4cc0" stroke-width="5.0" stroke-linejoin="round" stroke-linecap="round" clip-path="url(#cp21)" />
<polyline points="691.8,1035.4 693.0,1036.0 694.0,1035.7 694.7,1036.8 695.6,1036.5 697.1,1037.3 698.6,1035.7 700.5,1036.8 701.3,1035.7 702.8,1035.1 703.9,1036.9 705.6,1035.2 707.2,1036.2 707.9,1035.6 709.2,1036.0 710.0,1035.2 710.8,1035.5 711.6,1036.6 713.9,1035.4 715.5,1036.7 716.7,1036.4 717.2,1037.0 718.1,1035.9 718.7,1036.3 719.4,1036.0 722.1,1036.4 723.2,1036.0 724.2,1037.3 725.1,1035.7 726.3,1037.0 727.9,1036.1 730.3,1037.1 731.2,1036.4 732.0,1037.0 733.3,1035.7 734.6,1037.0 736.0,1035.3 737.5,1037.1 738.5,1035.9 739.4,1036.8 740.5,1035.9 741.2,1036.6 742.1,1036.1 743.0,1036.2 744.1,1034.8 745.0,1035.4 746.0,1032.5 747.2,1004.3 748.1,928.1 749.4,576.4 749.7,575.4 750.8,575.5 751.8,574.6 752.7,575.3 753.4,574.9 755.0,575.8 755.7,575.0 757.2,943.3 758.2,1013.2 758.8,1027.8 759.6,1034.3 761.3,1036.8 763.9,1037.4 765.2,1035.5 766.2,1036.6 767.2,1035.8 769.0,1036.4 771.1,1035.6 772.0,1036.7 772.7,1036.8 773.8,1035.7 774.4,1036.3 775.3,1035.9 776.8,1036.9 777.7,1036.4 779.2,1037.0 779.9,1036.2 780.9,1037.4 783.8,1036.9 784.8,1035.3 785.6,1036.4 786.4,1036.4 786.9,1037.0 788.1,1037.0 789.1,1035.8 790.9,1037.3 791.7,1036.4 792.8,1037.0 794.8,1035.7 796.6,1037.3 797.4,1035.8 798.3,1036.7 799.8,1036.9 801.1,1035.7 802.0,1036.8 803.8,1035.6 805.3,1036.2 806.0,1037.3 806.8,1036.6 807.3,1036.8 808.1,1035.7 809.0,1036.7 810.4,1036.3 811.1,1037.4 812.2,1035.5 814.4,1036.8 815.5,1035.6 816.2,1036.4 817.0,1036.3 818.7,1037.3 819.5,1036.7 822.4,1036.4 823.2,1035.5 824.2,1036.3 826.2,1036.1 827.2,1037.1 828.7,1035.5 829.5,1035.7 830.4,1032.7 831.1,1024.5 831.8,1006.9 832.8,940.4 834.7,575.2 835.5,575.9 837.7,574.6 838.6,576.2 840.7,958.2 841.6,1010.4 842.7,1031.6 843.6,1036.5 844.9,1036.8 847.2,1035.8 848.6,1037.3 849.4,1036.4 850.3,1037.1 851.7,1035.8 852.8,1037.1 854.1,1035.9 855.0,1037.0 856.1,1037.1 858.6,1035.4 859.9,1036.8 861.0,1035.8 863.2,1037.1 865.3,1035.0 866.3,1036.9 867.9,1035.4 868.8,1036.6 869.4,1036.3 870.3,1037.1 871.1,1036.6 871.9,1037.1 873.4,1035.1 874.7,1035.0 876.0,1037.2 877.2,1035.8 879.0,1036.8 880.1,1034.9 882.1,1036.6 883.7,1036.0 885.1,1037.2 886.4,1036.5 887.7,1034.3 888.5,1028.1 889.1,1013.4 890.1,946.3 891.8,574.5 893.8,576.5 895.2,574.8 896.2,575.7 897.3,574.7 898.9,939.3 899.8,1005.7 900.4,1024.6 901.1,1032.7 902.3,1035.6 903.8,1037.0 904.8,1035.5 906.1,1036.6 908.1,1035.3 909.1,1037.1 909.9,1036.5 910.6,1037.0 911.3,1036.0 912.3,1037.3 913.5,1035.2 915.1,1036.6 916.1,1035.8 917.3,1036.8 918.1,1036.2 919.1,1036.8 921.9,1036.0 922.7,1036.4 924.4,1035.8 925.3,1037.0 926.0,1036.2 927.3,1037.2 927.9,1036.9 928.6,1037.4 929.7,1036.1 931.7,1036.3 932.6,1035.2 933.7,1036.4 935.2,1036.7 936.2,1035.9 937.2,1036.6 939.0,1036.3 940.4,1035.4 941.6,1036.9 943.2,1035.6 943.8,1036.4 944.8,1035.9 945.9,1036.8 946.7,1036.2 947.5,1036.5 948.9,1035.4 950.1,1035.0 951.5,1035.5 952.3,1037.0 953.1,1036.1 954.0,1037.1 954.9,1035.7 956.0,1036.0 957.0,1035.2 958.5,1036.6 960.0,1035.6 960.8,1036.6 962.0,1036.9 962.7,1035.8 963.4,1035.9 964.4,1035.3 965.7,1036.3 967.1,1035.3 969.0,1036.7 970.4,1037.0 971.4,1036.0 972.5,1037.1 973.6,1035.7 974.9,1036.0 976.0,1032.4 977.2,1007.8 978.2,934.3 980.0,575.6 980.2,575.9 980.9,575.2 982.3,574.9 983.6,576.1 984.6,575.4 986.2,923.2 987.1,997.6 988.1,1028.5 988.7,1033.6 990.3,1036.7 990.9,1036.4 992.2,1036.8 994.2,1035.3 994.9,1036.0 995.7,1035.8 996.5,1036.8 997.6,1036.4 998.5,1036.9 1000.1,1036.8 1002.4,1034.9 1003.2,1035.1 1004.0,1035.9 1004.7,1035.9 1005.4,1036.4 1006.5,1036.1 1007.2,1036.7 1008.2,1035.8 1010.3,1035.4 1011.2,1035.7 1011.9,1034.9 1012.9,1029.5 1013.7,1015.7 1014.8,953.0 1017.3,574.5 1018.5,574.8 1019.5,576.1 1020.1,575.2 1022.4,945.8 1023.4,1008.8 1024.0,1025.0 1024.9,1033.7 1025.6,1036.0 1027.2,1034.8 1027.9,1035.6 1029.2,1036.2 1031.1,1036.1 1032.2,1035.4 1033.2,1036.7 1034.6,1036.8 1035.4,1037.7 1036.6,1035.9 1037.8,1037.1 1038.7,1036.7 1040.8,1037.3 1041.9,1036.6 1042.7,1036.8 1043.4,1036.1 1044.3,1036.3 1045.3,1034.9 1045.8,1033.0 1046.6,1023.8 1047.5,996.1 1048.3,943.5 1050.6,589.8 1050.7,574.9 1051.2,574.8 1052.9,575.7 1053.0,582.8 1055.3,938.8 1056.3,1004.6 1057.6,1030.3 1058.6,1034.8 1059.4,1036.1 1060.8,1036.6 1061.7,1035.8 1062.6,1036.7 1064.4,1035.6 1065.4,1035.5 1067.0,1037.0 1067.8,1036.2 1069.0,1036.1 1069.8,1035.1 1070.5,1035.9 1071.1,1035.6 1071.9,1036.3 1073.0,1036.3 1074.1,1035.1 1075.9,1036.8 1077.5,1035.4 1079.0,1036.1 1080.3,1035.8 1081.2,1036.7 1082.1,1035.9 1083.8,1036.5 1084.8,1035.8 1086.1,1036.3 1087.0,1035.4 1088.0,1037.4 1089.9,1035.7 1090.8,1037.1 1092.1,1035.2 1092.9,1036.3 1093.5,1036.0 1094.3,1037.1 1095.1,1035.9 1096.9,1037.3 1098.0,1035.6 1098.7,1036.7 1100.7,1035.9 1103.5,1037.1 1105.2,1031.2 1105.8,1023.4 1107.1,965.3 1109.2,580.6 1109.3,575.4 1109.7,575.6 1110.3,575.1 1111.2,575.9 1112.2,574.1 1113.3,575.1 1115.1,934.4 1116.0,1000.8 1117.3,1029.8 1118.8,1036.5 1119.6,1035.9 1121.2,1036.8 1122.4,1035.9 1124.6,1036.2 1125.3,1035.3 1126.1,1036.4 1127.0,1035.9 1127.7,1036.7 1128.7,1036.1 1129.6,1036.5 1130.2,1035.8 1131.2,1036.3 1131.9,1035.3 1132.4,1033.3 1133.4,1024.1 1134.9,963.5 1137.4,705.8 1138.4,661.9 1139.3,704.4 1141.6,954.0 1143.3,1023.3 1144.0,1032.0 1145.6,1037.1 1146.6,1036.3 1147.5,1036.4 1148.3,1035.7 1149.2,1036.3 1150.8,1036.0 1151.6,1036.8 1153.1,1036.8 1153.9,1036.2 1154.7,1036.7 1155.4,1035.5 1157.3,1034.0 1158.3,1028.9 1159.5,996.2 1160.4,928.0 1162.4,575.0 1163.1,575.4 1164.8,575.3 1165.6,575.9 1167.6,923.1 1168.5,993.8 1169.5,1025.6 1170.2,1032.7 1171.0,1035.6 1171.7,1036.7 1174.6,1035.3 1175.2,1035.5 1176.1,1037.0 1177.9,1036.5 1179.7,1036.8 1180.6,1036.2 1181.7,1037.1 1183.0,1035.0 1184.7,1035.9 1185.5,1035.4 1186.8,1036.6 1187.8,1035.7 1188.5,1036.7 1189.0,1036.7" fill="none" stroke="#3b4cc0" stroke-width="5.0" stroke-linejoin="round" stroke-linecap="round" clip-path="url(#cp21)" />
<polyline points="691.8,1035.8 693.7,1035.4 694.5,1036.2 695.5,1035.8 696.4,1037.0 697.3,1037.2 699.0,1036.2 700.1,1036.6 703.8,1036.6 705.3,1035.1 706.8,1037.0 707.9,1035.2 708.9,1036.3 710.2,1035.7 711.6,1037.3 712.4,1036.6 713.6,1036.7 714.9,1035.5 716.1,1037.0 717.2,1034.9 718.9,1036.7 720.3,1035.8 721.8,1037.3 722.7,1037.3 724.3,1035.9 726.1,1037.6 726.9,1036.3 727.9,1036.6 730.4,1035.3 731.8,1033.7 734.2,1021.6 735.9,1005.0 737.5,980.1 740.0,918.6 747.2,635.3 749.2,574.6 750.4,575.7 752.3,574.8 753.2,576.4 754.8,575.3 755.9,575.9 764.6,828.6 766.9,879.3 770.7,944.3 773.8,979.1 776.6,998.8 778.3,1008.0 781.0,1018.4 782.6,1022.4 783.8,1023.9 784.9,1027.6 785.6,1027.5 786.4,1028.0 787.4,1030.0 788.2,1028.6 790.0,1031.3 790.4,1031.5 791.1,1030.8 792.2,1033.1 793.6,1031.7 794.3,1032.1 799.4,1032.4 800.2,1031.5 801.4,1031.4 802.2,1030.5 803.5,1031.3 806.0,1029.9 808.1,1025.7 809.6,1024.6 812.4,1018.9 816.6,1003.9 819.0,991.6 820.9,977.1 824.7,942.4 833.6,824.0 835.2,808.1 836.6,801.1 837.5,804.8 839.0,816.9 845.8,907.8 849.8,953.9 854.6,991.8 857.0,1003.0 858.2,1006.1 859.2,1010.8 862.4,1016.5 862.9,1016.9 863.3,1016.4 864.2,1016.6 865.8,1015.2 868.6,1010.5 870.9,1001.2 874.2,981.1 877.4,950.2 880.4,906.9 885.2,809.1 891.3,661.9 893.2,627.8 894.6,615.2 895.7,625.2 897.0,647.6 906.1,859.9 908.5,904.7 910.8,938.8 913.5,969.8 916.9,996.8 919.3,1009.2 922.3,1019.7 925.6,1026.6 928.4,1028.0 929.5,1030.3 931.9,1031.9 933.0,1031.3 934.3,1031.7 935.3,1030.5 936.2,1032.2 937.1,1032.0 937.7,1032.9 938.6,1031.5 939.9,1032.5 941.1,1031.8 941.8,1032.3 942.7,1031.9 943.4,1032.6 945.3,1031.7 946.4,1032.5 948.0,1031.0 948.6,1031.2 950.1,1029.9 952.1,1029.4 953.9,1026.9 954.7,1026.8 959.1,1018.3 962.6,1006.7 968.0,974.4 972.8,928.6 979.7,847.9 981.2,835.8 982.2,832.2 983.3,835.3 984.7,845.8 990.9,914.5 995.5,955.4 998.4,971.0 999.6,975.0 1001.4,978.3 1002.2,977.5 1003.6,977.4 1004.2,976.5 1007.7,964.8 1010.1,951.1 1015.4,913.3 1017.3,903.3 1018.8,900.5 1020.5,906.8 1021.9,914.3 1027.1,951.8 1029.8,967.1 1034.1,980.4 1035.3,982.0 1036.1,981.5 1036.9,982.2 1037.3,982.0 1039.2,976.9 1040.5,974.7 1045.0,953.6 1049.2,928.5 1051.4,921.5 1052.1,920.4 1053.0,923.3 1056.5,943.2 1063.3,987.0 1065.4,997.4 1069.6,1014.0 1072.2,1019.8 1073.7,1021.0 1074.9,1024.8 1075.7,1024.7 1077.0,1026.4 1078.6,1027.0 1079.6,1026.6 1080.7,1027.4 1081.7,1026.7 1082.7,1026.9 1083.4,1026.5 1084.2,1026.8 1085.2,1023.8 1087.2,1022.3 1088.3,1018.6 1089.3,1017.7 1090.8,1013.1 1094.5,997.7 1097.1,982.1 1101.7,945.1 1108.2,879.1 1110.3,864.6 1111.4,860.1 1112.3,862.6 1115.3,883.3 1119.5,921.3 1122.1,940.1 1125.7,956.5 1127.2,959.9 1129.2,961.7 1130.9,960.3 1132.1,957.6 1133.8,955.0 1136.0,947.5 1137.0,946.5 1138.3,943.8 1141.0,948.3 1142.0,952.5 1143.6,955.4 1144.5,958.5 1146.2,961.4 1146.6,961.8 1148.0,961.2 1149.5,959.3 1150.2,959.6 1150.5,959.2 1154.2,945.9 1161.9,898.0 1163.5,892.9 1164.0,892.0 1164.3,892.3 1166.0,900.0 1174.5,967.3 1179.3,997.1 1182.7,1009.7 1185.2,1015.9 1186.4,1017.0 1187.3,1018.8 1188.0,1018.4 1189.0,1018.7" fill="none" stroke="#3c4ec2" stroke-width="5.0" stroke-linejoin="round" stroke-linecap="round" clip-path="url(#cp21)" />
<polyline points="691.8,1035.8 692.6,1036.4 693.6,1035.7 696.1,1036.8 697.0,1035.4 699.1,1036.3 700.1,1035.5 701.0,1036.5 701.9,1035.3 702.6,1036.0 703.3,1035.7 704.8,1036.0 705.7,1037.7 707.2,1035.4 708.3,1036.1 709.3,1035.5 710.0,1036.3 710.8,1036.1 711.6,1037.2 712.5,1036.3 713.4,1036.5 714.3,1035.1 715.3,1036.3 716.4,1035.2 717.0,1035.6 717.6,1035.2 718.6,1036.6 719.5,1035.9 720.3,1036.9 721.3,1036.2 722.2,1036.7 723.2,1035.8 725.2,1036.8 726.2,1035.9 727.7,1036.3 728.4,1035.4 730.4,1035.3 731.3,1034.2 732.9,1029.4 735.0,1015.2 737.4,984.3 739.3,948.8 742.1,866.7 747.7,668.1 750.4,602.2 751.8,580.5 752.7,575.7 753.6,582.7 755.0,609.6 764.4,843.0 767.1,895.5 769.6,933.1 772.9,968.6 775.6,987.0 780.0,1007.0 785.6,1017.4 786.4,1017.2 788.5,1019.8 790.5,1019.7 792.1,1021.5 793.6,1020.4 794.7,1022.2 796.1,1022.1 797.2,1021.0 798.2,1022.4 798.9,1022.0 799.6,1022.3 800.4,1021.5 803.0,1021.5 805.5,1019.9 806.3,1018.6 807.1,1018.9 809.9,1015.4 810.7,1013.0 813.5,1008.5 817.3,995.6 821.4,971.9 824.1,952.1 834.6,834.3 836.6,823.7 838.0,829.5 838.9,836.7 848.2,940.0 851.2,965.2 854.0,983.0 856.5,994.5 860.1,1003.6 861.2,1005.2 864.6,1006.1 865.8,1004.4 866.8,1004.4 869.8,998.1 872.1,988.8 875.0,971.6 878.4,939.5 880.5,912.0 883.6,861.4 891.9,691.5 893.6,668.6 894.4,662.6 895.6,669.1 896.4,680.7 905.3,858.9 909.0,918.9 911.0,943.2 914.1,972.7 916.7,989.0 919.4,1001.9 924.8,1014.5 925.8,1014.1 927.9,1017.5 929.3,1016.2 930.4,1018.5 931.4,1017.7 933.4,1019.7 934.1,1019.0 934.7,1019.5 935.5,1019.0 936.1,1019.9 938.0,1020.1 938.8,1021.3 939.9,1019.8 940.6,1020.1 941.2,1019.8 941.9,1020.6 943.6,1019.4 944.8,1020.4 945.8,1019.7 947.2,1020.1 948.3,1019.2 950.4,1019.4 951.5,1017.5 952.4,1017.6 954.2,1016.3 956.4,1013.8 958.7,1009.8 962.0,1002.1 965.7,986.1 970.7,952.8 979.5,866.0 981.2,853.7 982.2,850.5 983.6,855.6 985.6,869.4 990.9,921.9 995.0,954.6 996.9,964.9 998.8,972.3 1000.0,975.2 1000.9,975.5 1002.5,978.0 1004.0,976.0 1005.4,972.7 1008.7,960.3 1013.1,936.4 1015.4,919.9 1018.7,908.1 1020.6,915.1 1030.2,969.2 1031.6,974.3 1033.3,978.3 1034.1,979.2 1035.4,978.9 1037.2,979.9 1039.3,976.3 1042.0,968.1 1045.4,953.8 1048.5,936.8 1050.7,928.6 1051.9,927.2 1053.2,930.3 1055.2,938.9 1059.7,965.1 1064.7,990.4 1069.6,1007.3 1071.1,1010.0 1072.0,1010.6 1073.4,1013.9 1074.1,1014.2 1075.0,1016.1 1076.2,1016.6 1077.5,1018.3 1080.1,1017.0 1081.3,1019.1 1082.2,1017.9 1083.7,1017.5 1084.6,1016.2 1085.2,1016.2 1086.5,1012.8 1087.7,1013.1 1088.7,1010.0 1091.5,1004.5 1094.0,995.5 1097.1,979.6 1099.9,962.7 1108.1,892.1 1110.3,877.3 1111.2,875.2 1112.2,877.0 1113.4,882.3 1118.8,922.4 1122.5,945.5 1124.8,955.4 1125.8,956.9 1127.1,960.6 1128.3,961.9 1129.6,961.8 1132.7,958.0 1136.3,949.4 1137.5,947.2 1139.0,946.4 1141.3,951.7 1142.3,952.4 1143.1,954.9 1146.0,960.1 1146.9,960.2 1148.1,961.8 1150.5,958.8 1152.5,955.0 1154.3,948.4 1161.8,906.1 1163.5,901.7 1164.0,901.2 1164.4,901.5 1166.5,911.3 1173.3,959.3 1178.7,988.3 1181.4,999.1 1182.4,1000.7 1183.3,1003.5 1185.5,1007.6 1186.5,1008.5 1187.3,1008.6 1189.0,1010.3" fill="none" stroke="#3c4ec2" stroke-width="5.0" stroke-linejoin="round" stroke-linecap="round" clip-path="url(#cp21)" />
<polyline points="691.8,1036.5 692.6,1036.9 695.2,1035.7 697.7,1037.2 698.5,1036.5 699.2,1036.8 701.0,1035.8 701.7,1036.3 703.9,1036.0 704.7,1036.6 706.0,1036.2 707.9,1036.7 708.8,1036.1 709.4,1036.8 710.4,1036.2 711.4,1037.7 712.3,1037.3 713.0,1036.0 714.3,1036.9 715.3,1035.8 716.4,1036.9 717.2,1035.2 718.1,1037.0 718.9,1036.3 720.0,1036.8 721.6,1035.9 722.7,1036.6 723.8,1036.6 725.7,1035.4 726.4,1035.7 727.4,1035.2 728.4,1035.8 729.9,1034.1 731.0,1033.8 732.4,1029.8 734.2,1021.7 737.3,990.1 739.5,950.2 742.0,890.6 747.5,724.9 750.8,657.9 751.7,645.8 752.6,640.6 753.6,647.7 755.2,671.4 763.9,855.4 769.0,931.4 772.0,960.2 776.1,984.0 779.3,996.3 784.5,1006.3 786.9,1005.8 788.0,1008.3 790.2,1009.8 791.4,1009.4 792.5,1011.7 793.3,1011.2 794.5,1012.1 795.3,1011.3 797.1,1012.3 798.3,1010.9 799.6,1011.9 800.4,1011.1 801.4,1011.1 802.2,1011.9 803.4,1011.4 804.7,1009.5 805.7,1009.9 807.0,1009.4 807.9,1008.0 808.8,1008.1 809.6,1006.4 810.4,1006.3 811.9,1003.7 812.6,1003.2 816.5,993.0 819.8,979.4 823.4,958.9 827.4,925.8 833.9,863.0 835.6,850.7 836.6,847.3 838.5,855.0 839.5,862.8 845.9,924.2 849.0,949.6 850.9,962.8 854.0,978.4 857.5,989.5 858.4,990.3 861.0,995.5 862.1,996.3 863.8,994.7 865.3,996.2 867.9,992.9 870.4,987.0 873.4,976.0 874.8,968.9 879.5,930.6 884.7,858.8 891.2,746.2 893.3,718.8 894.6,710.5 895.7,717.8 896.9,733.3 905.3,874.5 910.6,942.2 914.1,968.0 916.8,983.7 921.3,996.5 922.0,996.6 925.4,1003.2 926.8,1002.7 927.8,1004.3 928.8,1004.3 929.6,1006.4 930.2,1006.0 931.0,1006.4 932.2,1005.5 933.9,1007.3 934.7,1006.2 936.6,1007.0 937.5,1006.3 939.7,1007.6 940.8,1007.0 941.9,1007.9 943.6,1007.4 944.9,1008.8 946.3,1006.4 947.2,1007.5 948.4,1007.6 950.0,1006.2 951.5,1007.3 954.2,1005.1 955.1,1005.5 956.0,1003.2 958.1,1001.7 958.8,1000.6 962.0,994.3 965.7,981.0 968.9,965.7 972.8,938.5 978.7,887.6 980.6,874.4 982.2,869.3 984.1,875.9 991.3,932.7 994.7,955.1 997.9,968.6 999.1,972.3 1001.5,975.7 1002.5,975.3 1003.1,975.7 1004.1,975.1 1005.1,972.1 1006.2,970.7 1010.0,956.3 1016.9,922.1 1018.7,918.6 1021.3,926.2 1023.8,937.9 1026.0,952.1 1028.6,961.6 1029.6,968.0 1032.7,975.6 1033.6,976.0 1035.2,978.3 1036.6,978.1 1038.1,977.1 1038.9,975.1 1040.3,973.5 1044.9,957.9 1050.1,935.9 1051.9,932.9 1053.6,937.5 1063.2,980.3 1067.3,994.1 1068.8,996.5 1071.4,1003.2 1074.1,1006.4 1076.5,1007.6 1077.2,1009.0 1078.2,1008.2 1079.1,1009.2 1080.1,1009.2 1081.7,1007.9 1083.1,1007.6 1083.7,1008.1 1085.8,1007.2 1088.5,1004.1 1089.5,1000.8 1090.8,999.6 1094.3,989.8 1097.6,975.9 1101.8,950.9 1108.3,903.0 1110.4,892.9 1111.5,889.9 1112.8,893.1 1122.0,946.6 1125.6,958.8 1127.3,960.3 1128.3,962.3 1128.8,961.7 1129.7,962.2 1131.7,959.7 1135.2,953.2 1135.9,953.1 1138.2,947.8 1139.0,948.5 1141.4,953.6 1142.3,954.2 1146.5,961.3 1147.6,961.1 1148.3,962.5 1150.0,960.4 1152.0,955.6 1152.9,954.3 1154.7,948.4 1161.4,917.3 1163.6,910.4 1164.3,909.7 1165.8,914.4 1169.1,932.8 1170.4,942.3 1177.2,977.2 1179.3,985.4 1182.7,993.5 1184.4,995.5 1185.3,997.6 1186.5,998.9 1189.0,999.6" fill="none" stroke="#3d50c3" stroke-width="5.0" stroke-linejoin="round" stroke-linecap="round" clip-path="url(#cp21)" />
<polyline points="691.8,1035.8 693.0,1036.6 693.9,1035.4 694.7,1036.7 695.7,1036.0 696.6,1037.0 697.5,1035.5 698.5,1037.2 699.6,1035.6 701.7,1035.3 703.6,1036.5 704.8,1035.7 706.4,1036.9 708.5,1036.1 709.5,1036.8 710.4,1036.1 711.4,1036.1 712.1,1036.8 713.1,1035.5 715.6,1036.1 716.6,1037.3 717.7,1036.6 720.1,1036.5 721.0,1035.7 722.3,1036.3 723.2,1035.3 725.4,1037.2 727.1,1035.3 728.4,1035.1 730.0,1033.4 730.9,1033.4 732.9,1027.1 735.9,1007.4 739.4,963.3 741.6,920.1 747.7,775.4 750.4,730.4 751.6,717.5 752.6,711.7 753.9,721.3 755.3,737.5 762.1,852.8 765.0,893.5 768.0,928.2 771.0,952.6 774.1,970.3 777.5,982.3 780.2,988.3 784.4,994.7 785.3,994.3 786.9,994.9 788.0,996.0 788.7,995.9 789.7,997.5 791.6,998.7 792.5,1000.3 794.0,999.2 795.0,1000.5 795.8,999.9 798.2,1000.9 800.8,999.7 801.7,998.7 802.7,1000.0 804.0,1000.5 806.3,998.1 807.5,999.1 809.1,996.6 810.1,996.8 811.6,995.4 813.5,991.6 815.1,989.8 816.8,984.6 818.3,981.8 820.3,975.5 821.4,968.2 822.6,965.1 826.2,943.5 833.6,887.1 836.5,872.4 839.7,886.0 847.8,944.8 851.4,963.4 854.9,974.6 856.5,978.2 857.5,978.8 859.2,982.7 860.7,982.7 862.2,985.0 863.3,984.5 864.1,985.0 864.8,984.2 865.7,984.8 868.2,982.3 869.2,978.4 870.3,977.6 871.3,973.7 872.1,973.3 873.5,968.4 875.5,959.6 878.5,941.8 880.4,926.4 884.4,884.6 891.9,783.3 893.6,768.8 894.6,765.9 895.4,768.6 896.7,777.9 904.8,885.7 907.5,916.5 910.4,941.5 911.7,951.1 915.3,969.9 917.2,976.0 923.7,989.3 924.7,989.0 925.6,990.4 927.0,991.2 928.0,991.0 928.9,992.2 929.9,991.5 931.1,993.3 932.1,992.8 933.6,993.5 934.6,993.3 936.6,995.3 938.0,994.0 941.3,995.1 942.4,994.3 943.2,995.1 944.2,995.4 946.4,994.6 947.8,995.5 949.3,994.2 950.5,994.0 951.8,995.2 953.4,993.2 954.9,994.5 955.9,992.3 957.9,991.6 961.5,985.7 962.3,985.1 966.4,974.6 970.3,957.4 978.7,904.6 981.0,893.2 982.2,890.0 983.8,894.0 985.7,903.7 990.1,933.0 993.8,954.0 997.1,967.0 997.8,967.4 1000.3,972.4 1001.6,973.6 1004.1,972.2 1004.9,970.7 1005.7,970.5 1006.3,969.2 1009.6,960.2 1016.2,934.7 1016.9,933.7 1017.8,930.5 1018.9,929.5 1020.5,933.4 1029.0,966.0 1031.2,971.7 1034.3,976.4 1035.3,975.9 1036.2,976.6 1037.3,976.3 1038.2,974.4 1039.2,973.8 1040.7,971.5 1046.5,956.5 1048.1,949.1 1050.0,943.6 1052.0,941.2 1054.7,947.2 1057.2,955.7 1058.8,963.2 1063.9,979.9 1067.4,987.5 1068.6,991.9 1070.1,992.2 1071.4,994.7 1072.5,994.9 1073.6,997.4 1074.5,996.7 1076.4,998.1 1078.0,997.3 1080.2,999.7 1081.0,999.5 1081.8,998.3 1082.9,999.0 1084.6,997.2 1086.9,995.6 1087.9,995.8 1089.4,994.4 1090.3,991.9 1091.9,989.7 1093.6,984.9 1094.5,983.9 1096.0,978.3 1097.0,976.3 1102.7,949.9 1108.8,914.6 1111.0,905.9 1113.8,913.3 1119.9,942.7 1122.4,952.3 1123.7,956.6 1124.8,958.0 1125.7,960.2 1127.0,960.9 1127.8,962.1 1129.1,961.3 1130.8,961.6 1134.5,955.8 1136.0,954.4 1138.2,950.4 1139.3,952.4 1140.3,952.8 1143.4,957.3 1144.6,958.1 1145.5,959.8 1146.2,960.1 1147.1,961.9 1148.2,960.4 1149.1,960.9 1149.8,960.5 1152.2,957.3 1154.7,951.5 1158.3,937.7 1159.2,935.8 1160.2,930.6 1162.9,921.7 1163.3,920.8 1163.6,920.9 1165.8,924.5 1166.6,926.9 1173.5,959.0 1177.2,972.6 1178.6,974.8 1179.7,979.4 1183.0,985.6 1184.3,987.2 1185.2,986.5 1186.2,988.1 1187.8,988.6 1188.6,990.6 1189.0,990.6" fill="none" stroke="#3d50c3" stroke-width="5.0" stroke-linejoin="round" stroke-linecap="round" clip-path="url(#cp21)" />
<polyline points="691.8,1036.3 692.7,1035.5 693.9,1036.2 695.1,1035.6 697.0,1036.4 698.0,1036.1 699.3,1037.0 700.1,1036.5 701.0,1036.8 701.9,1035.7 703.1,1036.3 704.4,1036.3 705.4,1035.5 706.4,1036.5 707.5,1036.6 708.7,1035.8 709.3,1036.5 710.4,1036.8 711.6,1036.7 712.6,1035.6 713.9,1035.9 714.8,1037.3 716.2,1036.2 717.1,1036.5 717.9,1035.4 719.0,1037.0 721.3,1035.4 723.2,1035.9 723.8,1035.3 724.7,1036.5 725.8,1035.3 726.4,1036.0 727.1,1036.0 728.9,1033.3 729.7,1033.8 730.0,1033.5 731.7,1030.1 733.3,1024.3 736.3,1005.4 738.9,978.2 747.8,829.7 750.6,798.0 752.7,787.0 753.4,788.9 754.9,800.5 765.2,915.4 768.8,941.0 771.5,955.6 773.6,963.9 776.3,971.1 777.4,972.2 779.4,977.1 780.7,977.8 781.7,979.9 782.4,979.9 786.5,984.4 789.6,985.3 790.5,986.7 791.2,986.2 792.3,987.4 796.7,989.1 797.4,989.9 798.4,988.5 799.3,988.7 800.1,988.2 801.3,989.0 802.5,988.0 804.4,989.2 805.8,987.1 806.8,988.0 809.0,988.2 809.8,986.8 810.9,986.8 814.0,983.3 816.5,979.8 817.3,977.6 818.3,976.7 819.7,972.4 820.8,970.8 826.2,950.6 833.5,910.7 835.2,903.0 836.7,899.7 838.0,902.1 839.3,907.3 845.6,938.8 848.6,951.6 852.9,963.8 854.5,966.0 855.3,968.1 858.1,971.7 859.6,972.6 860.9,972.2 861.7,973.3 862.5,972.8 863.6,974.3 864.6,972.6 865.3,973.1 866.5,971.4 867.6,971.5 868.4,969.5 869.4,970.2 870.6,966.9 872.2,964.6 873.9,960.3 876.9,950.9 881.5,926.2 886.2,886.7 891.1,840.0 892.7,827.1 894.4,819.2 896.3,828.1 899.2,851.0 905.9,914.5 911.1,947.5 915.3,962.7 918.7,971.0 923.4,976.0 926.5,978.5 927.4,977.8 928.3,978.8 930.1,978.2 931.5,980.2 932.2,979.6 933.5,979.8 934.3,978.7 935.5,980.5 937.0,981.2 938.6,980.5 940.4,982.4 942.7,980.8 944.8,982.2 945.8,981.4 946.7,982.0 949.1,982.1 950.3,983.5 951.3,981.7 952.5,981.3 953.6,982.1 956.4,980.5 957.1,980.8 959.3,978.9 960.5,978.9 962.7,975.4 963.9,974.5 965.3,970.5 966.4,969.6 968.3,963.9 969.0,963.2 970.3,956.3 971.3,954.3 973.1,947.6 979.9,917.9 981.4,913.6 982.5,912.6 983.8,914.8 992.2,950.7 995.4,962.2 998.4,968.2 999.3,968.0 1000.8,970.4 1001.9,971.1 1005.1,969.3 1007.1,965.7 1008.0,965.2 1009.1,961.5 1010.7,959.6 1011.8,955.1 1012.9,954.0 1015.0,946.9 1018.7,940.4 1020.3,942.7 1021.5,946.2 1022.5,947.2 1023.4,951.3 1024.5,953.8 1026.5,960.9 1028.5,965.5 1030.1,967.5 1031.8,971.5 1034.7,974.0 1035.7,972.8 1037.4,974.7 1039.0,973.1 1040.2,970.5 1041.5,969.5 1042.4,967.3 1043.3,966.6 1047.4,956.1 1048.4,955.1 1049.7,952.0 1052.2,948.9 1056.5,958.0 1057.6,962.3 1059.1,964.0 1060.3,968.6 1062.8,972.8 1064.0,976.2 1065.4,977.3 1067.3,982.0 1070.0,984.3 1071.5,986.3 1074.4,986.7 1075.1,987.5 1075.7,987.0 1076.6,988.3 1077.3,987.8 1078.0,988.7 1078.7,987.6 1079.3,988.3 1080.3,987.9 1081.6,988.8 1083.1,987.6 1083.9,988.6 1087.0,986.4 1088.4,983.9 1090.0,984.9 1091.8,982.2 1092.6,979.7 1093.6,979.0 1095.6,975.6 1100.1,964.5 1108.3,931.7 1110.7,924.8 1112.3,925.6 1113.5,927.5 1116.4,937.9 1117.4,939.7 1118.4,944.2 1122.4,956.3 1126.5,961.4 1128.7,962.8 1129.9,961.3 1132.2,960.4 1133.1,958.6 1134.2,958.1 1135.8,955.3 1136.5,955.6 1137.3,954.3 1140.4,954.9 1141.3,956.2 1142.3,956.2 1143.1,958.3 1144.2,958.4 1147.4,961.0 1148.6,960.0 1151.1,959.2 1152.8,957.2 1154.6,952.5 1155.6,951.2 1162.3,933.0 1162.6,932.4 1164.6,931.8 1167.5,938.1 1172.7,956.2 1176.6,966.9 1177.1,967.4 1177.9,967.1 1179.2,970.6 1182.4,976.5 1183.9,976.1 1186.2,978.6 1187.0,978.5 1187.9,979.6 1189.0,979.5" fill="none" stroke="#3e51c5" stroke-width="5.0" stroke-linejoin="round" stroke-linecap="round" clip-path="url(#cp21)" />
<polyline points="691.8,1036.5 692.1,1036.9 693.0,1036.1 693.7,1036.6 694.5,1035.9 695.6,1037.2 697.1,1035.2 698.5,1036.9 699.8,1036.2 700.8,1037.0 701.8,1036.9 702.8,1035.9 703.7,1036.7 704.6,1036.3 705.6,1036.9 706.8,1034.9 707.9,1036.8 709.8,1036.2 710.5,1037.0 711.1,1036.4 711.9,1036.8 714.1,1036.1 714.9,1036.8 715.9,1035.8 718.7,1037.1 721.2,1036.0 724.3,1037.5 725.9,1033.9 727.3,1035.3 727.9,1035.2 729.6,1034.2 730.9,1031.9 734.2,1017.9 736.8,1002.9 739.0,983.7 745.7,911.1 748.5,886.9 750.3,874.9 751.7,869.5 752.6,867.8 754.3,871.9 756.7,883.6 763.1,923.4 766.9,939.8 769.7,949.3 770.7,950.7 773.1,957.3 774.1,957.6 774.9,959.9 776.6,961.1 778.5,964.9 781.3,967.6 782.1,969.3 783.8,968.5 784.9,971.0 786.0,970.7 787.1,972.4 788.0,972.5 789.0,974.4 790.0,973.6 790.9,974.5 791.7,974.4 792.6,975.4 795.7,976.8 796.6,975.9 797.4,977.5 798.8,976.8 800.2,976.8 800.9,977.4 803.9,976.4 805.7,977.6 806.8,976.5 807.9,976.4 808.8,977.0 809.6,976.0 810.5,976.6 811.5,975.2 812.5,976.1 813.4,974.9 814.4,974.5 817.1,971.8 818.3,972.4 819.1,969.6 820.1,969.2 821.2,966.6 822.3,965.5 825.8,958.0 826.9,953.5 832.4,939.1 833.9,933.7 836.2,929.7 837.7,930.5 840.0,933.7 841.1,937.8 842.7,939.1 844.2,944.8 845.8,947.2 848.3,952.7 849.5,953.7 850.4,956.2 850.8,956.5 851.7,956.1 852.7,958.2 854.3,959.9 855.1,959.4 856.1,961.4 857.3,961.0 858.1,961.6 859.1,960.2 861.2,961.5 862.4,960.4 864.8,960.7 865.7,959.7 869.3,958.1 870.4,956.2 871.2,956.5 872.4,954.7 873.0,952.5 873.9,953.2 874.2,952.9 875.0,950.1 879.4,942.2 883.4,927.7 884.5,920.9 886.1,915.3 887.8,905.5 892.6,884.3 893.8,880.2 894.4,879.5 895.4,881.1 898.2,892.0 904.5,924.5 907.4,936.1 913.0,951.3 914.1,952.6 915.3,955.6 916.6,956.1 917.4,958.2 918.7,958.8 919.7,958.5 920.5,961.0 924.9,962.9 925.8,963.7 928.0,964.0 928.8,965.1 929.6,964.7 930.5,965.4 931.4,964.7 932.5,965.8 934.2,965.8 935.7,966.9 936.6,966.5 938.8,967.2 939.7,967.0 941.8,968.0 942.7,967.2 943.6,968.9 944.4,968.0 945.9,968.5 946.7,967.6 947.5,968.8 948.8,968.4 950.1,969.7 951.9,968.3 953.1,970.0 954.1,968.9 955.4,969.9 957.4,969.0 958.1,967.7 960.1,968.8 961.1,966.5 962.2,967.5 963.4,966.8 965.2,964.2 966.6,963.8 969.2,959.5 970.2,959.8 971.7,955.7 972.8,954.6 975.8,947.3 976.9,945.9 979.0,939.9 981.2,938.0 982.3,936.3 985.6,940.6 989.1,950.2 994.3,961.4 995.8,961.7 996.9,964.2 998.3,965.6 999.3,965.9 1000.1,967.4 1002.0,967.9 1002.6,968.6 1003.9,967.3 1004.7,967.3 1005.5,966.4 1006.5,967.1 1007.5,965.7 1008.3,965.7 1009.1,964.1 1010.0,964.0 1012.2,960.9 1016.5,954.1 1017.5,954.8 1018.9,953.2 1023.4,959.5 1024.6,960.0 1028.5,966.9 1029.5,966.2 1030.8,969.1 1032.0,968.4 1033.5,970.5 1035.9,971.8 1036.9,971.2 1038.4,971.5 1039.9,969.8 1040.8,970.1 1042.7,966.9 1043.3,966.8 1044.9,964.6 1045.8,964.2 1047.0,962.3 1047.8,962.5 1048.6,959.7 1049.6,959.4 1050.5,958.1 1051.7,957.8 1052.7,959.4 1054.1,960.4 1055.3,960.6 1057.3,964.5 1060.1,967.1 1061.3,970.0 1062.3,969.4 1064.0,971.9 1065.4,971.9 1066.3,974.0 1067.0,974.1 1067.6,975.1 1069.1,974.6 1070.0,976.6 1071.0,975.4 1072.4,977.0 1073.4,976.7 1075.6,978.2 1078.5,976.9 1079.1,977.5 1080.0,977.1 1080.8,977.9 1081.6,977.0 1082.9,977.4 1085.6,976.1 1086.5,977.7 1088.2,975.5 1089.4,975.5 1091.0,974.1 1092.1,974.4 1094.0,972.3 1095.0,969.7 1096.5,970.2 1097.6,967.8 1098.5,967.5 1102.2,961.1 1103.1,958.3 1106.8,951.6 1108.3,948.0 1109.6,946.3 1111.3,941.9 1112.2,943.8 1112.9,943.9 1114.5,946.9 1115.4,947.5 1116.3,949.8 1118.0,951.6 1119.3,953.9 1120.4,954.3 1121.9,959.4 1122.7,959.3 1124.1,960.7 1125.8,961.6 1127.1,961.5 1128.7,962.1 1129.7,961.0 1131.3,961.5 1132.3,960.3 1134.7,959.4 1135.8,957.7 1138.3,956.5 1139.3,957.3 1140.4,956.2 1141.5,958.2 1143.0,958.6 1144.0,959.8 1144.9,959.6 1145.9,960.5 1147.2,959.5 1148.0,960.4 1149.0,959.7 1149.8,960.2 1151.6,957.4 1152.3,958.5 1153.1,958.1 1153.9,956.4 1155.6,954.9 1156.7,952.2 1157.6,951.6 1159.8,948.5 1160.5,948.2 1161.5,945.9 1164.6,943.6 1167.7,948.0 1170.9,953.8 1172.0,954.2 1173.1,957.6 1174.0,956.9 1174.8,959.3 1176.0,960.6 1176.8,960.4 1177.7,961.5 1178.3,961.2 1179.9,965.0 1181.2,965.3 1182.2,964.8 1182.9,966.0 1183.9,965.9 1185.9,967.7 1186.8,966.1 1187.8,967.4 1188.5,966.8 1189.0,967.2" fill="none" stroke="#3e51c5" stroke-width="5.0" stroke-linejoin="round" stroke-linecap="round" clip-path="url(#cp21)" />
<polygon points="691.8,1036.0 724.5,1035.9 726.3,1035.2 728.2,1033.1 731.0,1027.7 734.0,1014.3 742.0,965.2 745.6,951.2 748.0,945.7 752.2,943.5 754.9,940.2 757.4,943.1 760.5,940.5 764.0,940.8 765.6,939.8 766.9,941.7 768.3,940.6 770.0,942.3 770.8,941.7 773.9,942.1 775.4,943.6 777.3,940.8 779.5,946.6 781.3,946.4 782.9,948.7 785.0,950.3 786.9,949.1 790.0,953.9 794.0,954.0 796.0,956.9 798.8,957.1 801.7,958.9 805.2,955.8 808.8,959.3 810.5,959.5 811.9,958.0 813.6,960.4 815.5,957.2 816.3,958.2 819.6,958.7 821.6,956.1 823.2,957.5 826.7,955.7 828.0,957.4 829.3,956.3 831.0,956.7 832.6,955.3 833.9,955.7 835.5,954.3 838.9,954.4 841.1,950.8 843.2,951.6 844.9,953.4 846.8,948.0 849.9,949.2 853.9,944.5 854.9,945.0 857.8,944.4 860.9,942.5 862.4,943.0 863.6,941.2 866.1,939.8 868.3,939.7 869.3,938.7 871.3,940.7 873.7,937.4 877.0,937.8 878.1,936.3 879.6,937.9 881.0,935.4 882.4,934.7 883.6,935.7 884.4,934.8 885.1,934.9 886.5,937.6 888.6,938.5 890.7,935.7 892.9,938.1 894.6,937.2 896.4,937.5 898.5,935.7 900.8,939.0 902.8,936.1 903.9,935.9 907.0,939.5 908.0,939.5 909.0,938.1 909.9,938.0 912.2,943.0 915.1,940.7 916.1,941.3 917.7,943.9 919.3,941.4 920.7,942.3 922.2,941.5 924.9,944.6 925.5,944.7 926.6,943.1 928.1,944.4 930.1,944.1 932.5,946.6 936.5,942.6 937.6,943.8 938.8,948.0 939.4,948.3 940.8,947.4 942.3,948.6 946.0,944.6 947.9,948.4 950.9,946.3 952.9,949.6 954.2,948.5 955.9,950.1 958.1,947.5 961.2,950.7 962.0,950.3 965.8,951.2 967.9,954.5 970.8,952.3 973.4,952.5 976.1,955.4 978.0,954.5 979.6,956.8 981.4,954.1 983.2,956.2 984.8,954.4 986.8,958.5 988.4,955.8 990.3,954.2 992.4,955.6 997.5,954.7 999.6,957.3 1001.7,956.4 1003.2,958.5 1005.7,957.9 1007.3,959.5 1009.0,958.4 1010.7,960.7 1013.2,957.0 1015.4,958.9 1017.5,958.3 1018.8,959.5 1020.4,959.4 1023.4,960.9 1024.4,960.1 1029.1,960.0 1030.8,962.1 1033.2,959.8 1034.7,961.1 1036.3,964.3 1038.2,961.2 1039.8,962.2 1043.4,960.6 1045.6,961.6 1047.4,960.8 1048.5,959.1 1049.9,960.8 1051.2,959.1 1053.2,960.1 1055.1,959.2 1056.6,959.7 1057.9,958.9 1060.2,963.5 1062.3,960.2 1065.4,963.3 1068.1,961.0 1069.9,962.8 1073.6,963.4 1075.2,960.6 1076.4,960.2 1078.1,957.7 1081.3,961.9 1083.2,960.2 1085.3,959.6 1087.4,960.7 1088.7,959.4 1089.9,959.8 1091.4,958.7 1093.5,960.8 1096.4,957.7 1098.0,959.1 1099.6,959.0 1101.3,960.4 1104.6,956.6 1105.9,958.4 1106.9,958.0 1108.3,959.4 1110.2,956.5 1113.2,958.3 1115.5,955.9 1118.6,955.9 1121.0,953.3 1123.2,955.7 1125.1,953.2 1126.5,952.4 1128.3,954.7 1129.9,953.9 1131.9,954.9 1133.7,953.7 1135.4,957.7 1137.7,951.4 1140.9,953.8 1143.7,952.2 1145.4,953.5 1147.2,951.0 1148.2,951.9 1149.3,951.4 1151.0,953.3 1153.1,953.4 1154.8,951.6 1157.2,953.4 1159.9,950.9 1162.3,952.4 1163.8,949.8 1165.3,951.5 1167.0,948.3 1168.7,950.6 1170.4,948.3 1172.7,950.3 1175.2,949.1 1176.7,950.5 1178.7,948.3 1180.4,951.3 1183.0,948.1 1184.0,948.4 1185.8,950.7 1188.1,948.7 1189.0,949.0 1189.0,963.0 1187.8,961.1 1185.7,961.7 1183.8,959.9 1180.9,962.6 1178.7,960.9 1176.7,963.7 1174.7,960.3 1171.7,962.5 1169.9,962.3 1168.7,963.4 1167.1,961.9 1163.8,962.7 1162.3,965.6 1160.7,966.5 1157.6,964.2 1156.2,965.1 1154.3,963.4 1151.0,964.8 1149.7,962.9 1148.2,965.0 1146.9,963.4 1145.4,964.6 1144.1,963.8 1140.8,966.6 1137.4,965.4 1135.9,968.2 1135.0,968.7 1133.7,966.4 1130.6,965.3 1128.3,969.4 1126.1,965.2 1123.2,967.9 1122.2,965.9 1121.4,965.5 1119.3,966.2 1117.9,968.2 1116.4,966.8 1114.5,969.3 1113.0,969.3 1111.5,970.7 1109.8,968.8 1108.3,970.6 1106.1,969.3 1104.8,969.2 1100.7,972.1 1099.4,971.3 1098.7,971.8 1097.9,971.3 1096.0,968.8 1093.4,972.9 1091.0,970.9 1089.8,971.6 1088.7,971.3 1087.0,972.6 1085.6,970.8 1083.9,970.9 1082.3,972.8 1080.2,973.3 1077.6,970.6 1075.2,971.9 1073.5,974.7 1071.9,973.8 1070.1,975.0 1068.0,972.0 1066.0,974.7 1064.5,973.5 1063.4,973.8 1062.1,973.0 1060.3,974.4 1058.3,971.1 1056.7,972.9 1054.8,972.0 1052.7,974.6 1051.2,975.2 1050.0,976.6 1047.9,971.6 1045.4,974.3 1043.8,973.3 1040.3,973.1 1038.9,974.5 1037.9,974.3 1036.4,975.5 1035.1,973.4 1032.3,971.5 1030.5,975.3 1029.1,972.6 1027.5,971.2 1025.2,974.1 1023.5,971.9 1022.0,973.6 1020.4,972.2 1019.0,972.9 1017.0,969.4 1015.8,972.1 1014.3,973.2 1012.3,971.4 1009.1,971.6 1007.8,972.7 1006.1,971.2 1003.7,972.0 1001.7,968.6 999.6,969.9 997.3,966.6 992.8,968.9 991.4,968.5 990.1,967.0 988.4,966.7 986.7,970.5 984.7,967.9 981.6,966.4 979.7,968.4 977.6,965.3 975.1,967.1 973.5,967.0 970.4,964.4 968.2,966.9 965.7,962.1 963.2,964.6 961.3,961.7 960.2,961.6 958.7,959.2 955.9,963.6 953.0,960.4 948.3,960.1 946.3,957.7 944.0,959.8 940.7,959.4 939.6,960.2 938.2,958.0 936.2,959.3 933.2,958.6 930.2,955.6 928.1,957.0 926.5,955.7 925.4,957.0 922.5,953.7 920.7,955.7 918.9,954.5 917.3,954.8 915.6,952.0 913.6,954.6 912.1,955.3 910.1,949.5 908.2,951.4 904.5,948.3 902.9,950.2 901.5,949.5 900.4,950.6 898.8,946.9 894.3,949.8 892.1,948.8 890.6,946.9 888.6,949.4 886.1,948.4 885.1,947.1 883.6,948.4 881.6,946.0 879.6,948.9 878.1,947.8 875.3,949.8 873.2,948.8 871.7,951.6 869.7,951.0 864.8,955.1 863.1,953.9 861.5,954.7 860.4,953.7 857.8,956.6 855.9,956.8 854.9,955.8 852.9,958.6 851.8,957.9 850.0,961.3 848.4,959.3 847.9,959.5 846.3,961.3 844.2,965.8 842.2,966.2 840.5,964.2 839.0,965.9 837.5,965.5 835.1,966.8 833.8,966.5 831.4,968.2 829.3,967.4 827.9,968.8 826.4,969.0 825.2,971.8 823.7,973.2 820.9,969.4 819.6,969.7 818.1,972.1 816.3,969.2 814.2,970.9 813.1,973.2 811.4,970.4 809.9,971.4 808.0,970.6 804.4,975.7 803.7,975.5 801.1,971.7 799.4,971.5 797.9,970.0 795.3,973.2 791.6,968.4 788.7,970.1 787.9,969.8 783.9,964.4 782.5,964.5 781.4,963.1 779.9,962.8 777.2,959.3 775.8,960.4 773.4,958.8 771.8,959.6 768.3,958.8 767.0,959.9 765.4,958.4 764.1,959.0 762.4,957.3 760.0,961.1 757.8,959.2 756.4,959.7 754.3,958.4 751.9,960.6 750.7,959.6 749.3,962.4 747.1,963.2 746.1,965.4 742.7,977.5 735.9,1013.9 730.3,1033.4 724.5,1036.5 691.8,1036.5" fill="#8eaaf8" stroke="#8eaaf8" stroke-width="4.0" stroke-linejoin="round" clip-path="url(#cp21)" />
<polygon points="691.8,1036.0 724.5,1035.9 726.4,1035.0 728.7,1032.5 730.2,1029.9 731.5,1025.6 734.5,1012.0 737.8,993.8 740.2,975.0 744.7,953.9 745.3,954.3 746.1,953.1 747.0,948.9 747.8,949.9 749.2,945.0 749.9,944.9 750.8,946.1 751.6,943.9 752.6,943.2 753.6,943.9 754.5,941.4 755.3,944.1 756.8,942.4 757.7,943.7 758.9,940.7 759.5,941.9 760.0,940.3 760.5,941.3 761.3,941.1 762.0,942.4 764.0,943.5 764.6,942.2 765.9,941.8 766.5,940.7 767.1,942.6 768.0,942.7 768.5,941.6 769.1,942.7 769.8,942.0 770.6,942.8 771.2,942.2 772.0,943.6 772.6,942.4 773.2,943.6 773.8,943.2 775.1,944.6 775.6,942.9 776.1,944.0 776.6,943.7 777.2,944.9 777.7,944.8 779.5,948.6 780.8,948.0 781.3,946.9 782.0,948.9 783.1,949.5 783.6,951.3 784.6,949.8 785.5,951.3 786.3,949.7 787.1,951.7 787.9,950.2 790.7,955.2 791.5,954.4 792.6,956.8 793.2,954.5 793.8,954.7 794.5,957.6 796.8,959.3 797.3,958.5 798.1,959.1 798.7,957.6 799.9,959.2 800.4,958.4 801.4,959.8 802.9,956.1 803.4,956.4 804.4,955.4 805.2,957.7 805.9,955.4 806.8,959.0 807.9,959.1 808.8,962.1 809.8,960.5 810.6,961.2 811.6,959.2 812.2,959.6 812.6,958.6 813.2,959.9 813.7,959.3 814.2,961.2 815.8,959.0 816.3,960.1 817.0,958.9 817.5,960.2 818.0,958.8 818.5,959.5 819.5,958.7 820.7,959.9 821.9,956.7 822.7,957.8 823.8,957.2 825.0,957.5 825.5,956.3 826.5,957.7 827.2,956.9 828.0,958.1 828.5,957.1 829.2,957.8 829.6,955.8 830.5,958.4 831.6,955.4 832.0,955.9 832.4,955.2 833.9,957.8 834.5,956.6 835.0,956.7 835.5,954.9 837.4,955.8 838.7,954.2 839.5,954.9 840.7,952.9 841.2,950.6 842.8,952.7 843.5,950.2 844.7,952.1 845.8,951.0 846.6,949.0 847.4,950.0 850.2,947.7 850.9,949.8 851.4,948.1 851.8,948.7 852.3,947.5 852.9,947.9 853.5,946.8 854.3,948.3 855.6,946.0 856.1,946.6 857.0,945.4 858.0,942.6 859.1,945.2 859.6,944.0 860.2,945.1 860.9,944.8 862.1,942.4 862.6,942.9 863.0,942.2 863.7,943.3 865.3,939.2 865.8,940.5 866.3,938.5 866.8,940.0 868.4,939.6 869.4,940.7 869.9,940.3 870.4,941.4 871.7,939.9 872.2,940.4 873.2,940.2 874.8,937.9 876.0,938.5 876.5,938.1 877.0,939.2 877.4,938.6 878.6,939.8 879.1,939.1 879.6,940.7 880.4,938.1 880.9,939.0 882.9,936.9 883.5,938.5 884.1,936.8 884.7,937.1 885.2,936.4 886.5,938.4 887.0,938.1 887.8,939.0 888.5,938.6 889.7,939.5 890.3,935.8 891.8,937.8 892.4,936.8 893.1,939.4 894.6,937.2 895.4,939.1 896.1,937.7 896.8,938.6 897.5,937.2 898.4,940.4 900.4,938.3 901.1,940.5 901.9,937.8 902.9,937.1 903.8,939.5 904.6,938.9 905.3,940.3 905.9,939.6 906.4,940.4 907.4,939.2 908.0,940.7 908.6,940.3 909.4,941.5 910.6,941.1 911.3,942.1 912.0,940.6 912.6,942.4 913.6,938.7 914.3,941.6 915.1,940.8 915.6,942.3 916.6,941.4 917.2,944.0 917.8,943.5 918.2,944.4 919.1,940.1 919.8,943.5 920.7,942.2 921.9,945.3 922.5,943.0 923.3,943.3 923.9,945.1 925.4,943.1 927.4,945.4 928.4,943.1 929.1,945.6 929.5,945.0 930.9,946.6 931.5,945.3 932.4,948.2 933.1,945.1 934.0,947.2 934.5,944.9 935.5,946.0 936.0,944.0 938.7,948.4 939.2,947.7 939.6,948.5 940.2,947.7 941.1,949.3 941.6,948.6 941.9,949.1 943.2,947.3 944.4,949.1 945.4,947.6 945.9,949.0 946.4,948.9 946.9,951.0 947.8,949.3 948.4,950.2 949.3,947.8 950.9,951.3 951.4,949.5 951.9,950.2 952.4,949.7 953.0,952.1 953.6,949.7 954.6,951.0 955.4,948.3 957.4,952.7 957.9,950.3 958.2,951.4 958.8,950.7 959.5,953.2 961.8,953.3 962.5,951.9 962.8,952.6 963.9,952.4 964.4,953.1 964.9,952.2 965.6,953.9 966.6,953.0 967.1,954.1 968.2,952.5 968.8,954.2 969.5,953.7 970.4,955.7 971.2,953.9 972.9,953.0 974.5,955.4 976.8,954.0 977.5,956.5 978.0,955.4 978.6,956.4 979.5,954.7 980.5,957.7 981.1,955.9 981.8,956.7 982.5,955.2 983.3,957.6 984.1,954.5 985.1,955.8 985.7,955.4 986.1,956.4 986.7,955.1 988.1,958.7 989.8,957.2 990.7,957.1 991.7,958.4 992.5,955.8 993.3,958.5 994.2,958.9 994.5,958.4 995.2,958.8 996.3,956.8 997.8,958.4 998.3,960.4 998.9,958.4 999.5,958.9 1000.3,958.5 1000.9,957.0 1001.5,958.7 1002.7,958.4 1003.5,956.8 1004.1,960.2 1004.6,958.0 1005.1,959.9 1005.7,957.9 1006.6,960.9 1007.2,959.6 1008.0,959.9 1008.6,957.9 1009.1,959.1 1009.6,958.9 1010.4,962.3 1011.3,959.7 1011.9,960.5 1012.7,959.4 1013.3,960.0 1014.3,957.5 1016.2,961.5 1016.5,961.0 1017.2,961.7 1018.3,958.8 1019.2,962.0 1019.9,960.2 1020.6,961.8 1021.4,959.9 1022.8,962.3 1023.3,961.7 1024.3,962.3 1025.1,961.0 1026.0,963.8 1027.4,963.5 1028.4,962.0 1029.5,963.0 1030.2,960.1 1030.8,962.4 1031.8,962.8 1032.3,963.9 1033.5,961.8 1034.0,962.5 1034.4,961.9 1035.2,963.2 1035.7,962.8 1036.2,963.2 1036.9,961.2 1038.8,963.7 1040.0,961.7 1040.7,963.6 1041.4,962.1 1042.3,964.5 1043.6,960.6 1044.5,963.0 1045.9,962.0 1046.6,963.2 1047.3,962.3 1048.0,962.4 1048.5,960.9 1049.0,961.7 1049.6,960.2 1050.2,961.1 1051.9,959.6 1053.5,962.9 1054.2,961.5 1054.7,961.8 1055.8,960.8 1056.5,962.6 1057.2,961.1 1058.3,962.3 1058.9,959.8 1059.4,962.5 1059.9,962.1 1060.6,963.4 1061.4,961.6 1062.1,962.2 1063.2,960.2 1064.3,961.3 1064.8,963.6 1065.7,961.8 1066.0,962.5 1067.3,962.7 1067.9,960.8 1068.5,962.5 1068.9,962.0 1069.4,962.6 1070.1,961.4 1072.5,962.5 1073.1,961.2 1073.9,964.3 1074.6,961.8 1075.1,962.1 1076.2,961.3 1077.6,962.8 1078.3,960.4 1079.8,963.0 1080.6,959.7 1081.1,961.7 1081.7,960.8 1082.2,962.4 1083.1,961.0 1083.7,962.2 1084.3,960.9 1084.8,961.3 1085.2,960.7 1086.3,962.0 1086.7,960.8 1087.3,961.5 1087.9,960.1 1088.8,960.2 1089.3,961.6 1090.3,959.8 1090.9,962.2 1091.8,960.5 1092.8,960.4 1093.1,961.2 1094.5,960.3 1095.0,961.2 1096.4,959.9 1096.9,960.3 1097.7,958.8 1099.2,959.8 1100.6,957.3 1101.1,959.1 1102.2,960.3 1102.8,959.1 1103.5,960.4 1104.8,957.6 1105.4,959.6 1106.4,959.5 1106.9,960.3 1108.1,956.8 1109.3,959.6 1110.4,956.1 1111.0,957.2 1112.3,957.0 1112.8,959.3 1113.3,957.6 1113.8,957.8 1114.2,957.1 1114.7,957.6 1115.1,956.9 1116.4,958.6 1117.1,957.3 1117.6,958.1 1118.1,956.5 1119.1,957.9 1121.2,956.6 1122.2,958.3 1122.9,956.7 1123.9,956.6 1124.7,954.3 1125.8,956.0 1126.3,955.4 1127.0,956.4 1128.0,953.8 1128.3,954.7 1129.0,953.9 1129.7,956.5 1130.4,954.7 1131.3,954.4 1131.7,954.9 1132.3,953.7 1133.6,955.3 1134.8,953.8 1135.4,955.4 1136.4,954.0 1137.3,955.8 1138.5,952.0 1139.5,955.3 1141.1,953.2 1143.1,953.9 1144.4,952.9 1145.2,954.4 1145.7,953.4 1146.5,954.2 1148.1,952.8 1148.6,954.3 1149.3,953.3 1150.1,954.9 1150.6,954.0 1152.6,953.8 1153.8,955.3 1155.6,951.7 1156.6,953.9 1157.2,952.8 1157.7,953.7 1158.2,952.3 1158.5,953.0 1159.2,951.1 1159.7,951.7 1161.3,951.0 1162.6,952.3 1163.3,951.2 1165.1,952.7 1165.8,950.1 1166.4,952.1 1167.0,950.2 1167.5,951.8 1168.2,949.2 1168.9,951.0 1169.5,950.0 1170.2,951.8 1171.7,948.8 1172.2,951.2 1173.2,951.8 1174.0,950.3 1174.7,952.4 1175.2,951.0 1176.5,950.9 1176.9,949.7 1177.4,950.7 1178.4,950.6 1178.8,952.2 1179.6,948.8 1180.9,953.2 1181.7,949.3 1182.7,950.6 1183.3,949.4 1184.7,951.6 1185.3,950.3 1185.9,951.0 1186.6,950.7 1187.0,951.4 1187.6,949.4 1188.3,949.8 1189.0,948.8 1189.0,961.6 1188.5,960.7 1188.0,961.6 1187.4,958.8 1186.8,960.6 1186.2,959.4 1185.4,961.6 1184.8,960.6 1184.0,962.0 1183.3,960.6 1182.5,961.8 1181.7,959.3 1180.6,961.0 1179.8,960.0 1178.9,962.1 1178.2,961.2 1177.7,961.8 1177.1,960.5 1176.1,962.5 1175.6,961.5 1175.0,961.9 1174.2,960.1 1173.3,962.0 1172.6,961.1 1172.0,963.0 1171.2,962.7 1170.5,964.0 1169.4,962.9 1168.9,963.2 1168.0,961.5 1166.9,963.4 1165.4,960.5 1164.5,963.6 1163.8,961.7 1163.1,961.9 1162.6,961.0 1162.0,963.9 1161.4,964.2 1160.8,962.9 1160.2,963.8 1159.0,962.7 1158.5,964.0 1157.9,962.6 1153.3,963.6 1152.8,962.6 1152.2,964.2 1150.3,962.4 1148.0,964.8 1147.5,964.5 1146.7,966.1 1146.1,964.5 1145.6,964.7 1144.9,964.0 1144.4,964.4 1143.9,963.7 1143.4,964.7 1142.8,964.0 1142.3,965.1 1141.5,964.9 1141.0,965.9 1140.3,964.7 1139.4,967.4 1138.8,965.8 1137.4,966.5 1136.7,964.0 1135.3,965.9 1134.5,965.0 1133.9,965.8 1133.4,965.1 1131.9,967.2 1130.4,966.1 1129.7,967.6 1129.2,967.3 1128.8,967.8 1128.1,966.4 1127.2,967.6 1126.0,965.1 1125.1,967.5 1124.5,965.7 1123.9,968.8 1122.7,965.5 1122.0,966.6 1121.5,965.9 1120.7,968.8 1119.1,965.5 1118.4,968.7 1117.5,967.2 1116.0,969.0 1115.4,966.7 1114.8,968.9 1113.8,966.9 1113.3,967.5 1111.7,967.7 1110.9,969.6 1109.6,968.0 1109.1,968.6 1108.6,968.2 1108.1,969.1 1107.6,967.6 1106.9,968.8 1106.2,967.4 1104.7,971.1 1104.2,969.4 1103.2,969.8 1102.5,967.9 1101.3,970.3 1100.5,968.8 1099.9,971.2 1099.4,969.5 1098.7,969.9 1098.0,969.6 1097.6,970.3 1096.4,969.0 1095.8,970.7 1095.1,968.5 1093.0,971.1 1092.1,970.8 1091.6,971.7 1091.0,970.0 1090.3,972.2 1088.7,969.9 1088.0,970.4 1087.7,969.9 1086.3,972.8 1085.6,969.9 1084.9,970.0 1084.1,971.9 1083.4,970.6 1082.2,971.1 1081.6,970.2 1081.1,971.8 1080.5,970.6 1080.1,971.8 1078.5,972.8 1077.7,971.7 1077.1,973.2 1076.2,971.1 1075.2,971.7 1074.1,970.2 1073.6,971.9 1073.1,970.6 1071.3,973.2 1070.4,971.7 1069.6,972.4 1069.1,971.0 1068.6,971.8 1067.8,971.0 1067.2,972.5 1066.8,971.3 1066.2,972.4 1064.5,971.8 1062.4,975.5 1061.6,971.5 1059.7,973.3 1059.1,972.0 1057.7,972.4 1057.0,974.2 1056.2,973.3 1055.7,974.4 1054.8,972.0 1054.0,972.3 1053.5,973.6 1053.0,972.4 1051.7,975.0 1051.2,974.3 1050.5,975.1 1049.9,973.9 1048.7,975.2 1048.1,973.1 1047.3,973.8 1046.5,972.4 1044.9,972.1 1044.1,973.6 1043.2,971.3 1042.7,972.9 1042.0,971.7 1041.5,973.4 1040.3,972.3 1039.4,974.7 1038.6,972.9 1037.9,974.1 1037.3,974.1 1036.1,971.2 1035.3,973.3 1034.4,973.1 1034.1,973.7 1032.7,971.2 1032.1,972.7 1031.5,971.7 1030.7,973.0 1030.0,971.4 1028.7,973.0 1027.4,972.8 1026.7,972.1 1025.7,974.5 1024.7,970.7 1023.9,974.2 1023.1,971.1 1022.1,972.6 1021.5,971.0 1020.0,972.7 1019.2,970.4 1018.3,971.8 1017.7,970.7 1017.2,971.5 1016.7,970.5 1015.8,971.1 1014.3,974.1 1013.8,973.0 1012.6,973.4 1010.3,969.4 1009.6,970.8 1008.5,969.8 1006.5,971.5 1005.7,969.3 1005.0,970.7 1004.5,969.4 1004.1,969.9 1003.7,969.3 1002.4,971.1 1001.0,968.4 1000.4,970.0 999.1,969.9 998.5,968.0 998.0,968.7 996.4,967.1 995.3,968.2 994.8,967.8 994.2,969.2 993.2,967.1 992.7,968.5 992.0,967.6 991.1,969.8 990.3,967.6 988.9,967.1 988.6,966.0 987.9,968.2 986.8,966.1 986.1,968.6 985.5,966.7 984.5,968.6 983.2,964.6 982.1,967.4 981.5,965.5 981.1,966.2 979.9,964.8 979.2,965.7 978.5,964.3 977.6,967.7 977.0,964.8 976.3,965.2 975.4,964.0 974.3,966.4 973.6,966.4 973.1,965.4 972.4,966.8 970.9,962.0 969.8,964.8 969.0,963.4 968.2,965.0 967.4,963.2 966.8,964.0 966.1,961.6 965.6,963.5 965.1,962.6 963.8,965.4 962.3,962.2 961.5,963.1 960.3,962.9 958.8,959.1 957.9,962.4 957.0,960.8 956.5,962.7 955.4,963.5 954.0,962.2 952.8,959.3 951.9,961.3 951.4,959.9 950.6,959.8 949.9,961.1 949.1,958.1 948.6,959.6 948.0,958.7 947.3,960.3 946.4,958.2 945.0,960.4 944.4,959.1 943.6,960.5 943.1,959.0 942.6,959.7 942.1,957.6 940.6,959.7 939.1,957.3 938.6,957.9 938.1,957.0 936.2,960.0 935.6,958.6 935.0,959.5 934.3,957.8 933.0,957.2 932.4,955.6 931.1,956.0 930.4,955.2 929.7,955.8 929.4,955.0 928.8,956.4 927.9,954.9 926.8,954.3 925.5,956.4 924.9,954.5 924.0,955.5 923.5,953.3 922.8,955.4 922.0,953.6 921.5,954.3 920.8,953.6 920.4,954.4 919.7,953.2 919.2,954.1 918.6,952.2 917.3,953.5 915.6,950.8 914.6,951.5 914.0,953.2 912.7,950.9 912.1,951.5 911.5,949.7 910.1,951.1 908.9,950.7 907.5,948.4 906.2,950.9 905.6,949.4 904.9,949.5 904.5,948.7 903.0,951.4 901.1,947.8 899.7,948.5 898.9,947.4 898.2,949.3 897.3,946.6 896.5,949.7 895.9,948.1 895.2,949.2 894.4,947.5 893.8,947.7 892.2,945.7 890.8,949.0 890.1,946.8 889.7,947.5 889.1,946.2 888.2,946.4 887.8,945.9 887.3,947.6 886.7,946.1 886.4,947.9 885.6,947.7 885.1,946.7 883.9,948.7 883.5,948.2 883.0,948.6 882.4,946.9 881.3,948.8 880.3,946.9 879.0,948.6 878.4,947.3 877.9,948.7 877.5,948.0 876.7,948.0 876.0,950.2 874.3,948.7 873.7,950.7 872.4,949.1 871.9,949.8 871.3,947.9 870.1,952.5 869.6,951.4 868.9,952.3 868.2,952.2 867.7,951.3 867.2,953.2 866.0,952.4 865.6,953.1 864.6,953.2 864.1,954.4 862.5,952.3 861.5,953.8 860.9,952.9 859.2,955.9 858.2,953.8 857.0,957.2 856.4,955.5 855.8,956.5 855.3,955.5 854.6,957.7 854.0,956.3 852.8,958.6 851.7,956.0 851.2,958.1 850.7,957.2 849.8,960.9 848.9,957.2 848.2,960.1 847.1,959.9 845.9,961.9 845.1,959.8 843.7,963.7 843.1,962.3 842.3,965.4 842.0,964.5 841.5,965.2 841.0,964.0 840.5,964.2 839.8,962.2 839.2,964.9 838.2,962.8 837.5,965.9 836.5,964.5 835.9,966.0 835.1,965.1 834.1,966.5 833.3,965.1 832.8,966.8 832.1,965.8 831.4,967.1 829.8,965.6 828.9,968.3 828.3,967.3 827.7,967.9 827.2,967.6 826.5,969.7 826.0,969.0 825.7,969.9 824.9,969.7 824.1,972.0 823.2,970.2 822.1,972.5 820.6,968.5 819.8,970.1 818.6,969.5 817.8,971.7 816.7,969.5 814.9,970.1 814.2,968.6 813.6,971.7 812.9,970.8 811.5,972.1 810.5,969.4 810.1,970.2 809.3,970.3 808.6,971.7 808.0,970.5 807.1,971.2 805.4,974.3 804.7,974.5 804.0,972.9 803.3,973.6 801.8,971.0 800.8,971.6 799.7,969.3 799.1,971.0 798.4,969.4 797.2,970.1 796.7,969.2 795.7,972.3 795.2,971.8 794.3,973.0 793.6,969.8 793.0,970.5 792.5,969.1 792.1,969.9 791.4,968.3 790.5,968.6 790.0,966.9 789.0,966.5 788.1,970.6 786.8,966.0 785.9,966.1 785.1,963.6 784.4,965.9 783.1,962.5 782.4,964.5 780.7,962.0 779.5,963.6 778.0,961.5 777.3,962.9 776.2,961.1 775.6,958.2 774.8,960.0 773.6,958.8 772.9,961.5 772.1,958.7 771.1,960.8 770.2,958.4 769.6,960.9 768.8,960.8 767.0,957.4 766.4,959.6 765.1,957.6 764.4,959.8 763.7,957.6 762.9,957.3 760.5,960.5 759.6,958.4 759.0,960.5 756.5,956.9 755.9,959.0 755.3,957.6 753.9,959.8 753.3,957.2 752.6,959.3 752.1,958.7 751.6,959.2 751.1,958.4 750.4,959.9 749.8,959.9 748.3,961.9 747.7,961.8 747.1,963.4 746.1,963.7 744.8,970.4 744.6,971.1 744.1,970.9 742.6,977.6 741.6,985.3 740.5,987.2 734.9,1017.3 731.9,1028.7 729.7,1033.6 724.5,1036.5 691.8,1036.5" fill="#e47b5f" stroke="#e47b5f" stroke-width="5.0" stroke-linejoin="round" clip-path="url(#cp21)" />
<polygon points="691.8,1036.7 692.9,1035.8 693.9,1036.3 694.7,1035.7 695.4,1036.3 696.5,1035.3 698.5,1036.3 699.2,1035.4 700.2,1036.0 701.4,1035.8 702.4,1036.8 703.2,1036.1 706.4,1036.2 707.0,1035.6 708.2,1036.3 709.8,1035.6 711.5,1036.5 713.5,1035.6 716.5,1036.7 717.6,1035.9 720.6,1036.1 722.5,1035.5 724.1,1036.0 726.4,1035.2 728.9,1032.3 731.2,1027.4 733.3,1019.6 737.9,993.8 739.9,977.9 744.6,956.3 747.1,950.7 747.7,947.4 748.1,947.8 748.6,946.5 749.1,946.9 749.4,946.1 751.2,946.1 751.8,944.5 752.7,945.9 754.0,942.3 755.0,943.4 756.3,941.9 756.9,944.1 757.9,944.7 759.3,940.0 760.9,942.4 762.1,942.5 762.6,944.4 764.4,941.3 765.2,942.2 765.7,941.2 766.9,944.5 767.6,942.7 768.2,943.1 768.7,942.3 770.1,944.7 770.6,943.3 772.0,945.3 773.3,944.2 774.1,947.7 774.9,945.7 775.7,946.6 776.2,945.9 776.7,946.6 777.5,946.4 778.0,947.7 779.0,946.5 779.5,948.1 780.0,947.6 780.8,948.9 782.0,949.0 783.1,952.6 783.8,950.9 784.3,951.6 784.8,950.5 785.3,950.9 786.9,949.7 788.7,952.8 790.6,957.9 791.2,955.1 792.6,957.7 793.3,955.7 794.0,956.9 795.5,957.4 796.0,958.8 797.1,958.5 797.9,960.1 798.6,958.8 799.8,960.4 800.8,959.5 801.3,960.4 801.8,959.2 802.3,959.9 803.2,959.3 803.8,960.4 804.4,956.8 804.8,957.7 805.4,957.2 806.4,959.7 807.0,958.5 808.0,961.2 808.8,960.6 809.4,961.8 809.9,961.1 810.5,962.2 811.2,960.3 812.2,961.7 813.7,958.6 814.7,961.3 816.1,959.4 817.0,961.0 818.0,958.5 819.3,962.4 820.1,959.2 820.9,959.6 821.7,956.6 822.3,958.2 823.1,956.9 823.9,958.7 824.6,957.1 825.7,956.7 826.2,959.0 826.7,959.0 827.3,960.6 827.9,958.4 828.2,958.9 828.8,958.4 829.3,959.2 830.4,957.9 831.0,959.3 831.6,957.2 832.3,958.1 832.8,956.7 833.8,957.0 834.3,955.4 835.1,958.1 836.0,955.1 836.7,957.0 837.6,956.8 839.6,954.2 840.5,955.2 841.5,950.9 842.5,952.8 843.2,951.5 844.6,953.8 847.3,950.6 848.3,950.2 848.8,951.7 849.3,950.5 849.8,950.9 850.5,948.5 851.0,949.5 851.4,948.7 851.9,949.7 852.7,949.0 853.3,946.6 853.9,948.2 854.4,947.5 854.9,949.7 856.0,946.4 856.5,947.0 857.3,945.0 858.2,946.7 859.0,944.0 859.7,946.5 860.5,944.7 861.7,945.3 862.7,943.7 863.3,944.0 864.1,942.8 865.3,942.3 866.1,940.5 866.8,942.5 868.1,940.1 868.8,943.2 869.8,939.3 870.8,940.6 871.4,939.9 872.1,940.6 872.4,940.0 873.3,941.0 875.0,938.1 875.7,939.1 876.4,939.0 877.0,941.5 877.9,939.3 879.9,940.6 880.5,938.3 881.1,939.2 881.8,938.8 882.4,940.3 883.9,936.8 884.6,937.8 885.2,937.1 885.7,938.5 886.4,938.1 887.0,939.3 887.8,937.1 888.8,940.8 889.8,937.1 890.5,938.7 890.8,937.9 892.2,939.0 892.8,938.1 893.7,939.0 894.4,936.4 894.9,938.5 895.9,937.6 896.5,940.1 897.2,938.5 897.7,939.4 898.0,938.7 898.5,939.5 899.0,938.8 899.4,939.8 900.0,939.0 901.5,940.4 902.0,938.4 902.5,938.5 902.9,937.6 903.6,938.1 904.3,940.2 904.9,938.9 906.1,942.0 906.7,940.7 907.2,941.5 907.7,940.6 908.4,941.9 909.2,939.2 910.7,940.9 911.5,939.9 912.3,942.9 913.0,941.2 913.8,941.2 914.3,942.3 914.8,941.4 915.7,944.6 916.4,942.3 917.2,944.2 917.8,942.7 918.3,942.4 918.7,943.4 919.6,941.9 922.0,945.5 922.8,944.5 923.3,945.2 923.9,943.0 924.9,945.9 925.3,945.5 925.9,946.3 926.5,944.5 927.0,945.9 928.0,945.1 929.0,948.4 930.2,945.5 931.0,947.8 931.7,946.8 933.1,948.1 933.9,945.4 934.5,946.3 936.0,943.8 936.6,945.8 937.5,945.6 938.0,946.7 938.5,946.3 940.1,950.5 941.8,948.3 942.4,949.6 943.3,949.3 943.9,950.3 945.4,947.4 947.5,952.0 948.2,949.5 949.0,950.6 949.9,948.1 951.3,951.7 952.4,950.7 953.0,952.4 954.0,952.9 955.1,950.8 955.9,952.0 956.6,950.1 957.4,952.3 958.0,950.9 958.7,954.5 959.7,954.4 960.3,952.6 961.0,954.1 962.6,952.7 963.2,953.1 963.9,951.5 965.7,955.7 966.3,953.7 966.8,954.6 967.4,953.5 968.9,955.6 969.5,954.2 970.3,955.9 971.3,953.6 972.6,954.5 973.4,953.0 974.1,955.4 975.0,954.2 975.6,956.1 976.3,955.1 976.8,957.4 977.9,955.2 978.9,957.6 979.4,956.9 979.9,957.3 980.6,955.6 981.2,957.4 982.1,957.8 983.6,955.9 984.3,957.1 985.1,954.7 985.7,958.0 986.3,956.9 987.9,959.8 989.2,957.8 990.2,958.7 990.8,957.3 991.9,959.5 992.5,957.6 993.4,957.1 994.3,959.3 994.9,958.4 995.5,959.5 997.8,958.8 998.5,959.6 999.4,958.4 1000.8,960.4 1001.4,958.7 1001.7,960.1 1002.5,959.9 1003.1,961.9 1004.1,957.3 1004.6,959.4 1005.4,959.0 1006.1,961.4 1006.6,960.4 1007.3,961.2 1008.7,958.4 1009.3,960.6 1010.0,959.9 1011.3,962.4 1011.9,961.9 1012.4,963.8 1013.9,958.2 1014.8,960.1 1015.4,959.5 1016.3,959.8 1017.0,963.1 1018.5,961.0 1019.8,961.9 1020.8,960.8 1021.3,962.0 1022.9,960.1 1023.5,964.5 1024.1,961.9 1025.1,960.7 1025.5,961.3 1026.0,960.9 1026.4,962.1 1026.9,961.5 1027.6,964.6 1029.0,961.2 1029.8,963.2 1031.0,962.1 1032.3,964.9 1033.3,960.9 1035.1,963.1 1035.8,961.9 1036.6,963.5 1036.9,962.8 1037.4,963.4 1037.9,962.4 1038.4,963.4 1039.0,962.9 1040.0,964.2 1041.0,962.1 1041.8,963.6 1042.4,961.9 1043.0,963.9 1043.5,963.3 1044.1,964.6 1045.5,962.9 1046.0,963.4 1046.5,962.8 1047.0,963.7 1047.9,963.8 1048.5,962.4 1050.0,961.2 1050.9,961.2 1051.4,960.3 1052.0,962.3 1053.3,961.3 1053.8,962.7 1055.2,963.2 1055.7,964.1 1057.6,962.4 1059.3,964.3 1059.8,963.1 1060.8,964.0 1061.6,961.0 1062.2,962.7 1063.2,961.7 1063.9,963.1 1065.0,962.1 1065.8,964.5 1066.8,962.1 1067.9,962.9 1069.4,962.6 1070.1,961.5 1071.0,962.6 1073.1,961.7 1074.9,963.7 1075.4,961.2 1077.0,963.2 1077.6,960.6 1078.1,961.2 1078.6,960.5 1079.2,962.9 1080.1,960.3 1081.5,963.1 1082.3,960.8 1082.7,962.3 1083.3,962.0 1084.3,963.6 1085.3,960.9 1086.8,963.6 1087.7,960.9 1088.5,962.2 1089.0,961.4 1089.4,962.0 1091.4,959.2 1092.0,961.4 1092.8,959.7 1093.4,961.0 1094.5,960.6 1095.1,961.4 1095.9,960.4 1096.6,960.7 1097.1,962.1 1098.0,958.4 1099.1,960.4 1100.5,961.4 1101.2,960.6 1102.0,961.2 1102.7,959.6 1103.2,960.7 1103.8,960.7 1104.6,959.1 1105.9,960.9 1107.6,957.8 1108.9,960.9 1109.3,959.7 1109.8,960.8 1110.4,958.4 1110.9,958.9 1111.9,957.4 1113.3,959.7 1113.9,958.0 1114.7,959.3 1115.3,959.5 1116.0,958.2 1116.6,958.9 1118.0,956.3 1118.9,958.6 1120.6,957.0 1121.1,958.5 1121.7,956.5 1122.4,957.8 1123.4,956.2 1124.5,957.4 1125.2,957.4 1126.7,956.1 1127.2,954.7 1127.8,956.3 1128.7,954.9 1129.2,955.8 1130.2,955.8 1130.7,957.1 1131.3,955.3 1132.1,957.1 1133.2,953.2 1133.8,955.3 1134.5,955.1 1135.4,957.3 1136.8,954.7 1138.0,953.8 1139.0,955.6 1140.1,953.7 1140.9,956.6 1141.5,954.9 1143.5,956.0 1144.5,953.7 1145.2,956.3 1145.9,954.4 1147.0,954.9 1147.7,952.7 1148.2,954.0 1148.6,953.6 1150.5,955.0 1151.2,953.6 1151.8,955.4 1152.3,954.2 1153.3,954.4 1153.7,953.7 1154.2,955.2 1155.2,953.1 1155.7,953.7 1156.3,951.8 1157.9,954.8 1158.8,951.3 1160.0,952.7 1161.3,951.3 1162.0,953.1 1163.3,952.2 1163.8,953.4 1164.5,951.5 1165.0,952.4 1165.6,951.9 1166.1,953.1 1166.9,950.0 1167.9,952.5 1168.6,952.7 1169.4,950.6 1170.0,952.8 1170.4,951.6 1171.0,953.1 1172.3,951.7 1174.0,953.5 1174.6,952.0 1175.2,951.8 1175.7,953.1 1177.6,950.4 1178.2,951.7 1179.1,951.7 1179.7,952.5 1180.2,951.5 1181.8,951.9 1182.5,950.4 1183.2,951.6 1183.7,951.1 1184.3,952.3 1185.8,953.1 1186.4,951.3 1186.8,952.3 1187.1,952.0 1187.9,949.4 1189.0,952.1 1189.0,960.7 1188.0,958.9 1187.5,959.7 1187.0,957.7 1186.2,961.0 1184.3,958.9 1182.5,961.2 1181.9,960.4 1180.9,962.0 1179.9,958.6 1178.4,962.3 1177.8,962.3 1177.3,961.4 1176.6,962.4 1175.6,961.2 1175.0,963.1 1174.0,959.4 1173.3,961.4 1172.7,960.1 1171.1,962.9 1170.6,962.0 1169.4,962.7 1168.9,961.1 1167.5,962.3 1166.9,961.9 1166.4,963.0 1165.5,959.3 1163.6,964.6 1161.7,961.7 1161.2,963.2 1160.5,962.6 1159.9,964.6 1159.4,962.9 1158.5,963.9 1157.8,962.3 1156.9,962.6 1155.9,961.3 1155.4,962.9 1154.9,962.4 1154.3,964.9 1153.7,962.8 1153.2,963.8 1152.5,962.2 1151.7,963.0 1151.1,962.5 1150.5,963.4 1149.8,961.8 1148.3,964.8 1147.6,961.9 1147.0,963.8 1146.2,962.1 1145.5,964.1 1144.5,963.3 1142.8,964.9 1142.3,964.0 1141.8,964.5 1141.3,963.9 1140.9,964.8 1140.4,964.0 1140.0,964.6 1139.6,964.1 1139.1,965.8 1138.5,964.6 1138.0,966.1 1137.2,966.4 1136.7,965.7 1136.2,966.3 1135.5,964.2 1134.9,966.0 1133.7,964.2 1132.9,965.8 1131.6,963.8 1130.6,963.5 1128.2,967.4 1127.2,965.4 1126.6,967.3 1125.7,965.6 1125.2,966.4 1124.7,965.5 1124.0,965.5 1122.9,967.0 1122.2,965.8 1121.6,967.5 1120.7,966.4 1120.0,967.8 1119.3,966.2 1118.5,966.1 1117.9,968.2 1116.5,967.4 1115.9,968.0 1115.4,966.5 1113.7,968.1 1112.5,966.6 1111.9,968.4 1111.2,968.2 1110.5,969.7 1110.1,968.6 1108.3,969.3 1107.6,967.5 1106.8,969.2 1105.9,967.7 1105.2,969.8 1104.5,968.6 1103.7,968.9 1103.2,970.2 1102.1,968.4 1101.6,969.5 1101.1,968.2 1100.6,969.7 1099.9,969.8 1099.0,967.5 1098.2,969.9 1097.0,969.0 1096.2,969.9 1095.4,968.1 1094.6,971.5 1093.3,968.3 1092.5,969.9 1091.3,970.2 1090.8,969.4 1089.8,970.0 1089.2,971.6 1088.4,971.2 1088.0,971.7 1087.4,969.9 1086.9,970.9 1086.2,970.3 1085.4,971.9 1084.6,970.0 1083.6,971.1 1083.2,970.5 1082.6,971.1 1081.0,969.9 1080.2,971.4 1079.6,970.8 1079.1,972.1 1078.6,971.1 1075.9,971.1 1074.7,970.0 1073.4,971.9 1071.4,970.0 1070.8,971.5 1069.9,971.0 1069.4,971.5 1068.9,970.8 1068.3,972.0 1067.9,971.6 1066.9,974.0 1066.3,971.4 1065.8,971.7 1065.2,970.1 1064.7,970.9 1064.2,970.5 1063.7,972.7 1062.9,971.3 1061.9,972.4 1061.3,971.0 1060.7,972.5 1059.6,969.9 1058.7,970.4 1058.1,972.7 1057.5,972.7 1056.7,970.6 1056.1,971.9 1055.1,970.9 1054.5,972.7 1051.7,974.8 1051.2,974.1 1050.7,975.2 1050.1,973.0 1049.6,974.4 1048.7,973.5 1048.0,970.4 1046.4,972.5 1044.9,971.0 1043.4,973.0 1042.8,972.8 1042.2,970.6 1040.7,973.2 1039.5,971.3 1038.3,973.2 1037.9,972.6 1037.1,973.0 1036.1,971.4 1034.6,972.4 1034.0,971.6 1032.7,972.8 1031.6,972.2 1031.1,973.1 1029.6,972.9 1027.6,971.3 1027.0,972.4 1026.2,970.7 1024.3,973.7 1023.5,970.1 1022.6,971.7 1021.3,970.7 1020.6,971.4 1018.5,971.1 1018.0,971.7 1017.7,970.7 1016.2,971.4 1015.8,970.5 1015.2,973.2 1014.6,972.0 1014.1,973.8 1013.4,970.8 1012.7,973.0 1011.3,969.7 1010.7,970.5 1010.1,969.0 1009.2,970.8 1008.5,969.5 1007.6,969.3 1007.0,971.5 1006.0,969.1 1005.4,970.3 1004.9,969.1 1004.2,971.9 1003.2,968.8 1002.5,970.6 1001.7,967.0 1001.0,969.5 1000.5,968.7 999.9,969.3 999.3,967.8 998.5,969.7 997.9,968.7 996.9,969.8 996.1,967.5 994.3,969.4 993.7,967.2 992.8,968.8 992.3,968.2 991.7,969.5 990.7,967.8 989.9,968.6 989.1,965.5 988.4,966.6 987.3,965.2 986.6,967.4 986.1,966.4 985.6,967.4 983.3,965.9 982.6,967.2 979.9,964.6 979.1,962.8 978.5,965.5 977.9,963.2 977.2,965.3 976.6,964.8 976.0,966.6 975.4,965.6 974.8,966.2 974.3,964.8 973.6,965.9 972.4,965.3 971.0,962.8 970.4,964.8 969.7,965.2 968.9,962.9 968.2,963.4 967.3,962.0 966.8,963.1 966.2,962.7 965.8,963.3 965.3,962.1 964.7,963.9 964.2,962.6 963.7,963.4 963.2,961.7 962.2,962.9 961.3,961.4 960.6,963.0 960.1,961.0 959.5,961.9 958.3,960.8 957.4,962.7 956.0,960.0 955.4,960.0 954.7,962.0 953.9,959.5 953.1,960.9 952.4,959.4 951.6,961.1 950.3,959.8 948.9,961.0 948.2,958.3 947.3,957.7 946.4,961.4 945.8,959.9 944.9,959.9 943.6,957.1 942.4,958.8 941.6,957.9 940.6,958.7 939.6,956.2 938.8,956.0 936.7,960.5 936.1,959.1 935.5,959.1 934.6,956.5 933.9,957.3 933.2,954.3 932.5,956.4 931.9,954.4 931.1,954.0 930.6,955.0 930.0,953.7 929.4,956.2 928.9,954.8 928.3,955.8 927.3,954.4 926.8,955.2 926.0,954.5 925.3,955.5 923.5,951.8 921.8,955.4 920.8,953.3 919.9,955.0 919.3,952.7 918.7,954.4 917.9,951.8 917.4,952.2 916.9,951.6 916.1,951.9 915.6,951.1 915.1,952.3 914.5,951.5 913.3,952.7 912.5,948.9 911.7,950.1 911.1,949.3 910.0,950.0 909.4,948.7 908.9,949.8 908.0,949.4 907.6,950.5 907.0,947.6 905.7,949.8 905.3,948.5 904.6,950.8 904.1,949.5 903.3,950.5 901.6,949.3 901.1,947.8 900.7,948.2 900.2,947.4 899.2,949.1 898.5,947.8 896.9,948.1 896.3,946.9 895.7,948.5 894.9,947.3 893.9,948.2 893.1,945.1 892.2,947.1 891.7,946.8 891.3,947.3 890.6,945.6 889.7,946.2 889.2,945.5 888.6,945.9 887.7,945.4 887.0,947.0 886.1,947.4 885.6,946.8 884.6,948.6 884.0,947.1 881.9,947.9 881.3,946.7 880.1,948.6 879.3,947.6 878.3,949.5 877.5,948.9 877.0,946.2 876.4,949.0 875.8,947.9 874.9,948.8 873.8,948.0 872.9,948.5 872.1,948.1 870.7,949.8 870.1,949.1 868.7,952.4 867.7,950.4 866.8,952.6 865.6,951.0 863.7,953.9 862.6,951.9 860.7,953.7 860.1,953.1 859.6,954.5 859.0,954.3 858.4,955.4 857.4,954.0 856.5,954.5 855.5,957.5 854.1,957.5 853.4,958.9 852.8,957.4 851.8,958.4 850.8,957.2 849.9,960.3 849.0,958.8 848.6,959.4 847.8,957.7 846.6,961.7 845.3,961.9 844.7,959.5 843.9,962.6 843.3,962.4 842.2,964.9 840.5,962.5 839.8,964.9 839.1,963.0 838.4,964.7 837.5,964.0 836.7,965.1 836.2,964.7 835.7,965.9 835.2,964.9 834.6,966.6 833.8,966.1 833.3,964.6 832.1,967.3 831.5,965.7 829.5,967.2 828.3,966.6 825.9,970.5 825.3,968.0 824.8,969.6 824.3,969.2 823.8,970.1 822.8,969.6 821.9,970.2 821.4,969.4 820.9,969.7 820.3,967.3 818.8,970.7 818.2,970.6 817.6,969.0 816.7,970.1 816.1,968.8 814.6,970.4 813.9,968.3 812.9,970.6 812.2,969.4 811.7,969.5 811.2,971.4 810.6,970.3 809.9,971.8 808.9,968.9 806.8,972.2 805.5,971.5 804.5,975.0 803.8,972.7 802.3,972.2 801.7,969.8 799.8,972.2 798.6,968.5 797.7,972.5 797.2,970.5 796.7,970.9 796.3,970.1 795.7,971.6 795.0,971.0 794.5,971.7 794.0,969.7 793.5,970.6 792.2,966.8 791.5,969.2 790.4,967.7 789.7,968.7 789.0,967.1 788.2,968.1 787.4,967.2 786.9,968.4 785.4,963.2 784.9,964.1 784.1,962.7 783.5,963.3 782.3,962.4 781.7,962.9 781.0,961.6 780.5,962.2 779.9,961.7 779.2,960.0 778.5,960.9 777.5,960.3 777.1,961.7 775.9,960.5 775.4,958.5 774.9,959.1 774.4,958.8 773.9,960.5 772.6,956.7 771.8,959.6 770.8,957.8 770.2,958.9 769.6,957.2 768.8,959.7 768.2,957.4 767.6,957.9 767.0,956.8 766.2,959.2 765.5,958.0 764.9,959.4 764.5,958.9 764.1,959.3 763.5,957.6 762.4,957.5 761.9,956.1 760.3,959.7 759.8,958.0 759.1,959.5 758.5,956.4 758.0,957.9 757.4,956.4 756.2,960.6 755.0,957.8 754.4,959.0 753.7,957.7 753.2,959.0 752.3,957.5 750.8,959.9 750.2,958.5 749.7,960.4 748.9,959.8 747.2,963.9 744.8,967.2 735.9,1012.6 731.7,1029.3 730.0,1033.5 728.6,1034.2 728.1,1035.2 725.0,1036.7 722.5,1036.2 720.2,1036.7 719.0,1035.9 718.1,1036.8 712.0,1036.3 711.3,1036.9 710.8,1036.4 707.3,1037.0 706.3,1036.5 705.6,1037.0 702.6,1036.6 701.9,1035.9 701.2,1037.1 700.3,1036.4 699.0,1036.8 698.3,1036.2 697.7,1036.9 696.5,1036.4 695.9,1037.0 694.4,1036.3 693.9,1036.8 691.8,1036.6" fill="#b40426" stroke="#b40426" stroke-width="5.0" stroke-linejoin="round" clip-path="url(#cp21)" />
<polyline points="1237.4,1036.2 1288.7,1036.2 1289.3,1036.0 1289.7,1034.7 1290.3,1012.4 1290.7,942.7 1291.3,575.2 1294.5,575.2 1295.0,912.0 1295.7,1023.9 1296.3,1035.6 1296.9,1036.2 1300.0,1036.2 1368.9,1036.2 1369.7,1036.1 1370.0,1035.2 1370.8,1012.8 1371.1,954.7 1371.9,575.2 1374.4,575.2 1375.2,973.6 1375.7,1025.6 1376.1,1034.0 1376.6,1036.1 1424.2,1036.2 1424.9,1036.0 1425.2,1034.7 1425.9,1013.2 1426.2,948.5 1426.9,575.2 1430.0,575.2 1430.6,951.2 1431.1,1022.7 1431.8,1035.8 1432.8,1036.2 1507.9,1036.2 1508.7,1036.0 1509.0,1034.7 1509.7,1015.2 1510.0,959.3 1510.8,575.2 1513.5,575.2 1514.3,966.2 1514.6,1017.4 1515.3,1034.9 1515.6,1036.0 1516.3,1036.2 1542.9,1036.2 1543.6,1035.7 1544.0,1033.4 1544.6,1004.3 1545.0,933.9 1545.7,575.2 1548.0,575.2 1548.7,934.4 1549.6,1031.4 1550.0,1035.3 1550.6,1036.2 1574.5,1036.2 1575.3,1035.7 1576.1,1023.5 1576.6,968.9 1577.4,575.2 1579.6,575.2 1580.4,959.0 1580.8,1012.7 1581.4,1034.2 1581.8,1035.9 1582.5,1036.2 1630.9,1036.2 1631.9,1035.9 1632.6,1025.4 1633.1,972.0 1633.9,578.2 1634.0,575.2 1636.5,575.2 1637.2,947.2 1638.0,1030.2 1638.4,1035.1 1639.0,1036.2 1657.0,1036.2 1657.9,1035.9 1658.4,1033.1 1658.8,1023.1 1659.3,972.4 1660.3,575.2 1661.9,575.2 1662.7,929.7 1663.6,1029.5 1664.0,1034.8 1664.6,1036.2 1682.3,1036.0 1682.8,1033.2 1683.1,1022.3 1683.6,960.6 1684.4,575.2 1686.7,575.2 1687.5,931.1 1687.9,1003.5 1688.5,1033.3 1688.9,1035.7 1689.6,1036.2 1728.0,1036.1 1728.6,1033.5 1729.0,1024.5 1729.5,978.5 1730.5,585.5 1730.6,575.2 1732.1,575.2 1733.1,959.4 1733.6,1019.3 1734.0,1032.0 1734.6,1036.0" fill="none" stroke="#3b4cc0" stroke-width="5.0" stroke-linejoin="round" stroke-linecap="round" clip-path="url(#cp22)" />
<polyline points="1237.4,1036.2 1283.2,1036.2 1284.2,1035.8 1284.9,1034.8 1285.7,1030.4 1287.0,1002.6 1288.0,928.8 1289.7,575.2 1296.2,575.2 1298.2,957.7 1299.4,1019.7 1300.3,1031.7 1300.9,1034.6 1301.6,1035.8 1304.0,1036.2 1363.4,1036.2 1365.3,1035.4 1366.3,1031.9 1367.8,1006.0 1368.9,940.5 1371.4,575.2 1374.9,575.2 1375.0,577.9 1377.6,957.4 1379.0,1018.7 1379.9,1030.8 1380.5,1034.1 1381.2,1035.6 1383.6,1036.2 1418.9,1036.2 1419.9,1035.7 1420.5,1034.7 1421.5,1028.9 1422.8,997.3 1423.7,919.7 1425.5,575.2 1431.3,575.2 1433.4,957.9 1434.7,1018.9 1435.6,1031.3 1436.8,1035.6 1439.3,1036.2 1502.2,1036.2 1504.1,1035.5 1505.1,1032.3 1505.9,1022.8 1506.6,1006.8 1507.7,938.2 1509.9,575.2 1514.4,575.2 1516.8,951.8 1518.0,1015.3 1518.9,1029.8 1520.1,1035.3 1520.9,1036.0 1522.2,1036.2 1538.5,1035.9 1539.4,1034.8 1540.0,1032.6 1541.0,1022.3 1542.1,986.7 1543.1,914.3 1545.7,575.2 1548.0,575.2 1548.1,578.9 1551.1,956.5 1552.4,1017.3 1553.3,1030.1 1554.4,1035.1 1555.2,1035.9 1556.5,1036.2 1568.7,1036.2 1570.5,1035.8 1571.3,1034.4 1572.0,1031.6 1573.0,1019.5 1574.7,940.0 1577.4,633.1 1578.6,579.6 1579.6,628.9 1582.7,963.4 1584.0,1018.5 1584.8,1029.3 1585.9,1034.9 1586.8,1035.9 1588.4,1036.2 1625.9,1036.2 1626.9,1035.8 1627.7,1034.7 1628.7,1029.5 1630.0,998.1 1631.0,932.1 1633.4,575.2 1637.1,575.2 1637.2,580.8 1639.6,945.0 1640.9,1012.0 1641.6,1026.9 1642.6,1034.1 1643.3,1035.6 1644.5,1036.2 1651.8,1036.2 1653.4,1035.7 1654.8,1031.9 1655.8,1021.1 1657.4,964.1 1660.0,761.1 1661.1,723.8 1662.2,764.8 1664.9,967.3 1666.5,1022.0 1667.6,1032.8 1668.2,1034.9 1669.2,1036.0 1675.4,1036.2 1677.4,1035.8 1678.5,1033.6 1679.3,1028.5 1680.6,995.9 1681.6,931.8 1684.2,575.2 1687.0,575.2 1689.6,932.8 1690.7,1001.4 1692.2,1030.9 1693.1,1034.8 1694.6,1036.1 1721.2,1036.2 1723.0,1036.1 1724.0,1035.3 1725.3,1030.6 1726.4,1015.0 1727.4,981.2 1730.3,776.0 1731.4,739.4 1732.5,777.2 1734.6,939.9" fill="none" stroke="#3b4cc0" stroke-width="5.0" stroke-linejoin="round" stroke-linecap="round" clip-path="url(#cp22)" />
<polyline points="1237.4,1036.2 1279.4,1036.1 1280.7,1035.4 1281.6,1034.0 1283.0,1027.1 1284.0,1014.0 1284.9,991.3 1286.2,918.8 1289.0,575.2 1296.9,575.2 1298.7,829.5 1300.3,960.7 1302.1,1018.9 1303.4,1030.8 1304.2,1034.0 1305.4,1035.6 1308.7,1036.2 1359.8,1036.2 1361.4,1035.6 1362.4,1034.4 1363.9,1028.5 1365.8,1002.7 1367.3,950.5 1371.5,649.0 1372.4,608.5 1373.1,596.5 1373.9,607.3 1374.8,646.6 1379.0,948.6 1380.3,998.6 1381.8,1024.1 1383.5,1033.4 1384.5,1035.2 1385.9,1036.1 1414.5,1036.2 1416.5,1035.3 1417.8,1032.6 1419.1,1022.8 1420.1,1005.5 1421.8,939.4 1423.2,812.5 1425.1,575.2 1431.7,575.2 1433.7,826.9 1435.3,954.2 1437.2,1015.8 1438.4,1029.5 1439.3,1033.4 1440.3,1035.3 1441.5,1036.0 1443.8,1036.2 1498.5,1036.2 1500.1,1035.7 1501.1,1034.6 1502.6,1029.1 1503.7,1017.7 1504.6,1000.2 1506.2,934.3 1510.3,575.2 1514.0,575.2 1516.9,847.3 1518.5,955.7 1520.5,1016.2 1521.7,1029.3 1523.3,1034.8 1524.7,1036.0 1527.2,1036.2 1533.8,1036.1 1535.9,1035.0 1536.9,1033.0 1537.8,1029.1 1539.1,1014.9 1541.3,955.0 1545.2,718.4 1546.1,685.8 1546.8,676.4 1547.6,685.8 1548.5,718.5 1552.8,970.1 1554.3,1010.7 1555.2,1023.0 1556.3,1031.1 1557.4,1034.5 1558.9,1035.9 1564.9,1036.2 1567.4,1035.4 1568.5,1033.7 1569.4,1030.6 1570.8,1017.7 1573.0,966.1 1576.8,770.9 1577.7,741.6 1578.6,731.8 1579.3,740.6 1580.2,769.0 1584.3,973.3 1585.6,1009.0 1587.3,1028.2 1588.9,1034.4 1590.0,1035.7 1591.7,1036.2 1622.0,1036.1 1624.1,1035.0 1625.3,1032.0 1626.6,1023.4 1627.5,1008.5 1629.3,950.2 1633.5,632.4 1634.9,575.2 1635.6,575.2 1635.8,576.2 1636.7,617.9 1640.0,875.9 1641.5,962.6 1643.1,1011.3 1644.1,1024.9 1645.3,1032.5 1646.3,1034.9 1647.7,1035.9 1649.7,1035.8 1651.2,1034.3 1652.8,1028.4 1654.0,1016.8 1656.1,971.1 1659.6,848.1 1660.4,833.0 1661.1,827.9 1661.9,833.8 1662.6,849.6 1666.1,972.8 1668.2,1017.5 1669.7,1030.1 1670.7,1033.6 1671.8,1035.3 1673.7,1035.7 1675.2,1034.1 1676.2,1030.8 1677.0,1024.8 1678.5,1001.5 1679.9,956.4 1684.0,703.0 1684.9,669.0 1685.6,659.3 1686.4,669.3 1687.2,703.6 1691.6,967.2 1693.1,1009.6 1694.9,1030.2 1696.2,1034.4 1698.1,1036.0 1717.3,1036.2 1719.7,1035.9 1721.1,1035.0 1722.1,1033.1 1722.9,1029.6 1724.4,1016.4 1725.7,994.2 1729.6,864.6 1730.5,845.2 1731.3,838.5 1732.0,842.1 1732.7,855.4 1734.6,916.2" fill="none" stroke="#3b4cc0" stroke-width="5.0" stroke-linejoin="round" stroke-linecap="round" clip-path="url(#cp22)" />
<polyline points="1237.4,1036.2 1272.3,1036.2 1276.0,1035.9 1277.6,1034.8 1278.9,1032.4 1280.7,1022.1 1282.0,1005.7 1283.0,983.1 1284.9,905.8 1288.7,575.2 1297.0,575.2 1299.8,825.3 1302.0,955.1 1303.3,993.7 1304.6,1017.3 1306.4,1030.4 1307.4,1033.4 1308.7,1035.3 1310.3,1036.0 1313.0,1036.2 1356.1,1036.1 1358.0,1035.6 1359.3,1034.3 1361.3,1028.4 1363.6,1008.1 1365.4,969.5 1370.9,748.4 1372.0,717.6 1373.1,706.4 1374.3,716.9 1375.4,747.1 1380.7,964.9 1382.3,1001.6 1384.1,1022.7 1386.1,1032.4 1387.4,1034.8 1389.3,1035.9 1411.2,1036.0 1413.5,1034.6 1415.2,1030.8 1416.8,1020.2 1418.0,1002.9 1420.3,935.3 1422.3,820.3 1425.4,575.2 1431.5,575.2 1434.7,829.7 1436.9,951.1 1438.2,989.9 1439.5,1014.7 1441.2,1028.6 1442.1,1032.5 1443.4,1034.8 1445.0,1035.9 1447.9,1036.2 1494.9,1036.1 1496.9,1035.4 1498.2,1033.9 1500.2,1027.0 1502.5,1002.7 1504.3,955.9 1509.9,675.0 1511.0,637.2 1512.2,623.9 1513.1,635.0 1514.3,671.0 1518.4,890.3 1520.5,972.2 1521.6,998.7 1523.0,1018.4 1524.5,1029.2 1526.5,1034.5 1528.3,1035.8 1530.9,1035.9 1532.7,1035.0 1534.0,1032.9 1535.9,1025.3 1537.5,1009.9 1540.3,951.7 1544.9,793.5 1545.9,773.4 1546.8,766.4 1548.0,775.3 1549.1,800.2 1554.7,984.0 1556.5,1014.5 1557.7,1024.5 1558.9,1030.7 1560.2,1033.9 1561.8,1035.4 1563.8,1035.4 1565.5,1033.8 1567.6,1026.7 1569.2,1013.5 1571.8,966.9 1576.6,830.0 1577.6,813.4 1578.6,807.9 1579.7,815.9 1580.8,837.5 1586.1,988.0 1587.8,1013.0 1589.6,1027.8 1591.7,1034.1 1593.2,1035.6 1595.3,1036.1 1618.5,1036.1 1621.0,1034.8 1622.6,1031.5 1623.9,1024.8 1625.2,1013.0 1627.3,971.8 1629.2,906.4 1633.0,730.4 1634.1,698.3 1635.3,687.0 1636.3,696.3 1637.4,726.7 1641.4,907.2 1643.2,972.3 1645.3,1013.0 1646.4,1023.6 1647.8,1029.7 1648.4,1030.8 1649.2,1030.8 1650.6,1027.6 1652.9,1010.1 1654.9,980.2 1658.9,899.1 1660.0,884.9 1661.0,880.0 1661.5,880.7 1662.1,884.3 1663.2,898.0 1667.3,981.1 1669.6,1013.2 1670.9,1023.7 1672.3,1028.4 1673.1,1028.7 1673.7,1027.7 1675.0,1021.1 1676.7,1002.8 1678.2,972.2 1683.4,788.8 1684.5,762.7 1685.5,753.6 1686.0,754.6 1686.6,761.0 1687.7,785.5 1693.5,981.6 1695.4,1014.9 1696.6,1024.8 1697.8,1030.9 1698.9,1033.8 1700.2,1035.3 1701.8,1036.0 1704.5,1036.2 1716.5,1035.9 1718.6,1034.4 1720.1,1031.4 1722.2,1020.8 1723.9,1002.6 1728.8,912.4 1730.4,891.6 1731.4,887.8 1732.4,891.8 1734.6,924.2" fill="none" stroke="#3b4cc0" stroke-width="5.0" stroke-linejoin="round" stroke-linecap="round" clip-path="url(#cp22)" />
<polygon points="1237.4,1036.2 1268.4,1036.2 1272.9,1035.6 1274.9,1033.9 1276.4,1030.7 1278.6,1018.1 1281.2,978.5 1283.6,901.4 1289.1,575.2 1296.7,575.2 1296.8,577.0 1300.9,836.5 1303.6,953.0 1305.2,992.2 1307.0,1016.2 1309.1,1029.5 1310.3,1033.0 1312.0,1035.1 1313.9,1035.9 1317.1,1036.2 1352.9,1036.0 1355.0,1035.3 1356.6,1033.8 1359.1,1027.3 1361.4,1011.0 1363.6,981.7 1370.4,804.5 1371.8,780.9 1373.1,772.4 1374.5,780.4 1375.9,803.7 1382.5,976.3 1384.2,1003.6 1386.2,1021.9 1388.8,1032.3 1390.4,1034.6 1392.7,1035.9 1403.2,1036.2 1408.5,1035.7 1410.9,1033.7 1412.8,1028.9 1414.7,1017.4 1416.2,999.7 1418.8,939.2 1425.2,636.1 1427.1,575.2 1429.7,575.2 1430.6,598.4 1436.4,878.5 1439.2,970.8 1442.1,1017.5 1444.0,1028.9 1446.4,1034.4 1448.4,1035.7 1451.6,1036.2 1491.5,1036.0 1493.8,1035.2 1495.4,1033.6 1497.9,1026.2 1500.3,1005.8 1502.6,967.2 1509.4,745.7 1510.8,716.6 1512.2,706.4 1513.5,717.0 1514.9,746.5 1519.9,917.4 1522.4,980.9 1525.2,1018.5 1527.0,1028.3 1528.9,1032.7 1530.1,1033.2 1531.2,1032.3 1533.2,1027.3 1534.9,1017.4 1536.4,1002.9 1539.0,960.7 1544.2,844.1 1545.6,826.0 1546.8,820.3 1548.2,827.2 1549.6,846.3 1556.4,991.3 1558.5,1015.2 1560.9,1028.0 1562.8,1030.8 1563.8,1030.2 1564.6,1028.6 1566.4,1021.3 1568.0,1008.8 1570.7,971.7 1575.8,874.9 1577.2,859.0 1578.6,853.6 1579.9,859.6 1581.3,876.1 1587.8,993.9 1589.6,1014.1 1591.6,1026.5 1594.2,1033.6 1595.8,1035.2 1598.1,1036.0 1615.2,1036.0 1618.0,1034.6 1619.8,1031.4 1621.5,1025.5 1622.9,1015.3 1625.4,982.5 1632.5,790.2 1633.9,765.5 1635.1,756.9 1636.5,764.3 1638.0,790.6 1644.7,974.6 1646.7,1003.0 1648.8,1014.8 1649.6,1015.0 1650.4,1013.0 1652.2,1002.2 1658.4,926.0 1659.8,915.0 1661.0,911.3 1662.4,914.6 1663.7,925.2 1670.2,1002.1 1672.1,1010.5 1672.6,1010.8 1673.1,1010.2 1673.9,1006.9 1675.5,992.8 1677.3,965.8 1683.1,832.7 1684.4,815.9 1685.5,810.1 1686.9,816.0 1688.4,837.4 1695.4,993.0 1697.8,1018.5 1699.2,1026.5 1700.8,1031.9 1702.4,1034.4 1704.5,1035.8 1713.0,1035.9 1715.0,1035.1 1716.5,1033.6 1718.9,1027.8 1720.9,1017.8 1722.8,1002.5 1729.3,926.2 1730.9,918.0 1731.6,917.6 1732.5,920.0 1734.6,936.7 1734.6,953.4 1732.2,946.8 1731.1,946.4 1730.0,948.1 1728.1,954.8 1721.7,986.9 1719.2,993.7 1716.3,997.4 1711.4,998.7 1704.5,998.4 1701.0,994.7 1698.3,987.9 1696.2,978.7 1694.3,965.9 1688.0,903.5 1686.7,896.4 1685.6,894.0 1684.4,895.8 1683.1,901.9 1677.2,954.6 1675.4,965.3 1673.8,971.0 1672.1,972.8 1670.2,969.9 1663.7,940.6 1662.4,936.6 1661.0,935.4 1659.8,937.0 1658.4,941.4 1652.2,971.9 1650.6,976.0 1648.9,977.0 1646.8,972.7 1644.7,961.0 1638.0,888.2 1636.6,878.5 1635.3,875.4 1633.9,879.5 1632.5,890.0 1625.2,972.9 1622.6,987.0 1621.1,991.2 1619.2,993.9 1617.0,995.5 1613.6,996.6 1605.3,996.7 1596.1,994.2 1594.0,992.5 1592.1,989.8 1590.0,984.1 1588.0,975.2 1581.3,924.7 1579.8,917.3 1578.4,914.9 1577.1,917.2 1575.7,923.7 1570.5,963.7 1567.7,978.8 1566.1,984.1 1564.4,987.4 1562.5,988.7 1560.6,987.6 1558.4,982.9 1556.3,973.3 1549.6,916.4 1548.2,908.6 1546.8,905.7 1545.5,908.2 1544.1,915.7 1539.1,959.3 1536.7,975.3 1533.7,984.6 1531.9,986.4 1530.1,986.5 1527.7,984.4 1525.7,979.8 1522.6,963.4 1519.9,934.4 1514.6,858.8 1513.3,846.7 1511.9,842.4 1510.5,846.6 1509.0,859.8 1502.0,953.3 1499.6,970.4 1497.0,980.4 1494.4,985.4 1490.0,991.0 1480.7,1000.5 1477.1,1003.1 1474.6,1003.5 1466.8,1002.6 1457.6,1003.5 1448.9,1001.3 1445.9,998.3 1443.1,990.8 1441.0,980.2 1439.3,965.4 1436.3,921.1 1430.7,800.7 1429.3,783.2 1428.0,777.3 1426.7,782.4 1425.5,796.5 1419.6,906.5 1416.3,947.9 1414.3,961.9 1411.8,973.3 1402.4,1000.6 1400.7,1003.7 1397.4,1008.0 1395.5,1009.3 1393.8,1009.3 1391.5,1007.7 1389.2,1004.3 1385.9,994.9 1384.0,983.2 1382.0,965.3 1375.2,881.0 1373.8,870.4 1372.4,867.5 1371.1,870.5 1369.8,879.2 1362.3,946.9 1359.6,961.4 1355.9,975.2 1346.3,1000.5 1340.9,1010.1 1336.3,1016.0 1329.1,1023.2 1326.0,1024.7 1323.0,1024.0 1319.8,1021.5 1315.2,1016.2 1311.0,1007.4 1307.5,994.1 1305.0,974.3 1301.3,908.6 1294.9,719.1 1293.3,691.9 1291.8,683.5 1290.6,688.8 1289.3,703.4 1284.6,784.4 1279.1,863.8 1270.7,1011.5 1268.8,1029.3 1267.6,1035.1 1266.1,1036.1 1237.4,1036.2" fill="#3d4fc3" stroke="#3d4fc3" stroke-width="5.0" stroke-linejoin="round" clip-path="url(#cp22)" />
<polygon points="1237.4,1036.2 1266.1,1036.1 1267.6,1035.1 1268.8,1029.3 1270.7,1011.5 1279.1,863.8 1284.6,784.4 1289.3,703.4 1290.6,688.8 1291.8,683.5 1293.3,691.9 1294.9,719.1 1301.3,908.6 1305.0,974.3 1307.5,994.1 1310.8,1007.1 1315.1,1016.0 1319.5,1021.2 1322.7,1023.8 1325.8,1024.7 1328.9,1023.3 1336.1,1016.3 1340.6,1010.6 1346.2,1000.7 1355.7,975.6 1359.5,962.0 1362.3,946.9 1369.8,879.2 1371.1,870.5 1372.4,867.5 1373.8,870.4 1375.2,881.0 1382.0,965.3 1384.0,983.2 1385.9,994.9 1389.2,1004.3 1391.5,1007.7 1393.8,1009.3 1395.5,1009.3 1397.4,1008.0 1400.7,1003.7 1402.4,1000.6 1411.8,973.3 1414.3,961.9 1416.3,947.9 1419.6,906.5 1425.5,796.5 1426.7,782.4 1428.0,777.3 1429.3,783.2 1430.7,800.7 1436.2,918.7 1439.0,962.6 1440.8,978.5 1442.8,989.3 1445.3,997.0 1448.1,1000.9 1452.3,1002.6 1457.3,1003.5 1466.9,1002.6 1474.5,1003.5 1477.0,1003.1 1480.6,1000.6 1489.9,991.2 1494.2,985.6 1497.0,980.4 1499.6,970.4 1502.0,953.3 1509.0,859.8 1510.5,846.6 1511.9,842.4 1513.3,846.7 1514.6,858.8 1519.9,934.4 1522.5,962.4 1525.6,979.4 1527.4,984.0 1529.8,986.4 1531.8,986.5 1533.5,984.8 1536.5,975.9 1539.1,959.3 1544.2,914.8 1545.6,907.8 1546.8,905.7 1548.2,908.6 1549.6,916.4 1556.3,973.3 1558.4,982.9 1560.6,987.6 1562.5,988.7 1564.4,987.4 1566.1,984.1 1567.7,978.8 1570.5,963.7 1575.7,923.7 1577.1,917.2 1578.4,914.9 1579.8,917.3 1581.3,924.7 1588.0,975.2 1590.0,984.1 1592.1,989.8 1594.0,992.5 1596.1,994.2 1605.3,996.7 1613.6,996.6 1617.0,995.5 1619.2,993.9 1621.1,991.2 1622.6,987.0 1625.2,972.9 1632.5,890.0 1633.9,879.5 1635.3,875.4 1636.6,878.5 1638.0,888.2 1644.7,961.0 1646.7,972.3 1648.7,976.9 1649.6,977.0 1650.4,976.2 1652.2,971.9 1658.4,941.4 1659.8,937.0 1661.0,935.4 1662.4,936.6 1663.7,940.6 1670.2,969.9 1672.1,972.8 1673.8,971.0 1675.4,965.3 1677.2,954.6 1683.0,902.7 1684.2,896.2 1685.4,894.0 1686.7,896.4 1688.2,905.4 1693.3,957.1 1695.8,976.5 1698.7,989.1 1702.4,996.6 1705.3,998.7 1710.1,998.8 1715.2,997.9 1717.9,995.8 1720.2,991.5 1722.3,984.5 1729.9,948.4 1731.0,946.5 1732.1,946.6 1734.6,953.4 1734.6,960.4 1732.1,958.3 1729.8,959.7 1722.2,975.3 1718.6,980.6 1716.7,982.0 1714.6,982.7 1705.3,983.2 1703.2,981.7 1700.9,978.7 1696.3,968.9 1693.7,959.7 1688.4,935.1 1685.7,929.0 1684.4,929.0 1682.9,931.3 1676.7,950.3 1673.2,956.4 1671.6,957.1 1670.0,956.3 1663.7,947.0 1662.4,945.7 1661.0,945.5 1658.3,948.0 1652.3,959.1 1650.7,960.8 1649.1,961.2 1646.8,959.6 1644.7,955.3 1638.1,929.2 1636.7,925.7 1635.5,924.7 1634.1,926.4 1632.6,931.1 1627.1,959.4 1624.2,970.2 1621.3,975.8 1616.5,979.2 1611.1,980.6 1606.0,980.4 1596.7,977.3 1593.2,974.9 1588.6,967.6 1581.2,944.6 1579.7,941.5 1578.3,940.4 1576.8,941.3 1575.3,944.1 1568.0,964.9 1565.7,968.6 1563.4,970.7 1561.6,971.3 1559.8,970.8 1556.8,967.6 1554.3,961.5 1549.3,944.9 1548.0,942.2 1546.7,941.3 1545.5,942.0 1544.1,944.6 1537.1,964.3 1534.7,967.3 1531.8,967.8 1529.2,966.5 1526.7,963.8 1523.0,955.4 1519.9,941.4 1514.1,905.8 1512.7,900.3 1511.3,898.6 1509.9,900.3 1508.3,906.0 1502.5,939.6 1499.3,953.2 1496.6,960.6 1490.0,972.2 1480.4,985.9 1476.6,989.5 1474.2,989.8 1467.1,988.6 1459.4,989.9 1454.2,989.2 1448.4,986.6 1446.5,984.6 1443.1,976.7 1440.0,965.6 1436.2,940.0 1430.0,877.1 1428.3,867.8 1426.9,865.2 1425.6,867.3 1424.1,873.9 1417.5,919.9 1412.6,945.6 1402.4,985.8 1400.9,989.9 1397.6,995.8 1395.1,998.3 1392.7,997.3 1388.6,991.1 1386.1,984.8 1382.2,966.4 1374.4,913.5 1372.4,906.0 1371.4,904.3 1370.3,903.9 1367.8,907.5 1363.8,919.1 1353.7,958.7 1344.3,991.4 1338.3,1004.3 1331.4,1014.8 1327.4,1019.2 1325.8,1019.9 1324.1,1019.6 1322.0,1018.1 1319.5,1014.9 1313.6,1004.2 1308.5,987.3 1305.2,970.6 1301.1,928.6 1295.2,821.8 1292.6,786.3 1289.8,765.2 1286.7,756.4 1285.3,754.6 1283.1,756.6 1282.1,759.7 1279.8,790.6 1270.4,1006.5 1267.9,1032.9 1267.2,1035.5 1265.0,1036.2 1237.4,1036.2" fill="#4358ca" stroke="#4358ca" stroke-width="5.0" stroke-linejoin="round" clip-path="url(#cp22)" />
<polygon points="1237.4,1036.2 1265.0,1036.2 1267.2,1035.5 1267.9,1032.9 1270.4,1006.5 1279.8,790.6 1282.1,759.7 1283.1,756.6 1285.3,754.6 1286.7,756.4 1289.8,765.2 1292.6,786.3 1295.2,821.8 1301.1,928.6 1305.2,970.6 1308.5,987.3 1313.6,1004.2 1319.5,1014.9 1322.0,1018.1 1324.1,1019.6 1325.8,1019.9 1327.4,1019.2 1331.4,1014.8 1338.3,1004.3 1344.3,991.4 1353.7,958.7 1363.8,919.1 1367.8,907.5 1370.3,903.9 1371.4,904.3 1372.4,906.0 1374.4,913.5 1382.2,966.4 1386.1,984.8 1388.6,991.1 1392.7,997.3 1395.1,998.3 1397.6,995.8 1400.9,989.9 1402.4,985.8 1412.6,945.6 1417.5,919.9 1424.1,873.9 1425.6,867.3 1426.9,865.2 1428.3,867.8 1430.0,877.1 1436.2,940.0 1440.0,965.6 1443.1,976.7 1446.4,984.4 1448.1,986.5 1453.7,989.0 1459.3,989.9 1467.3,988.6 1474.1,989.8 1476.5,989.6 1480.3,986.1 1489.6,972.8 1496.4,961.1 1499.2,953.6 1502.3,940.2 1508.3,906.0 1509.9,900.3 1511.3,898.6 1512.7,900.3 1514.1,905.8 1519.9,941.4 1522.8,955.0 1526.6,963.7 1528.9,966.3 1531.6,967.8 1534.5,967.4 1537.1,964.3 1544.1,944.6 1545.5,942.0 1546.7,941.3 1548.0,942.2 1549.3,944.9 1554.3,961.5 1556.8,967.6 1559.8,970.8 1561.6,971.3 1563.4,970.7 1565.7,968.6 1568.0,964.9 1575.3,944.1 1576.8,941.3 1578.3,940.4 1579.7,941.5 1581.2,944.6 1588.6,967.6 1593.2,974.9 1596.7,977.3 1606.0,980.4 1611.1,980.6 1616.5,979.2 1621.3,975.8 1624.2,970.2 1627.1,959.4 1632.8,930.6 1634.3,926.1 1635.6,924.7 1636.9,925.9 1638.1,929.2 1644.7,955.3 1646.8,959.6 1649.1,961.2 1650.7,960.8 1652.3,959.1 1658.3,948.0 1661.0,945.5 1662.4,945.7 1663.7,947.0 1670.0,956.3 1671.6,957.1 1673.2,956.4 1676.7,950.3 1682.9,931.3 1684.4,929.0 1685.7,929.0 1688.4,935.1 1693.7,959.7 1696.3,968.9 1700.9,978.7 1703.2,981.7 1705.1,983.1 1713.2,982.9 1717.6,981.5 1721.8,976.0 1729.8,959.7 1732.1,958.3 1734.6,960.4 1734.6,961.7 1732.0,960.7 1729.5,962.1 1721.4,974.4 1717.6,978.5 1713.3,979.8 1705.4,980.1 1703.5,979.0 1701.5,976.5 1696.4,967.1 1688.4,940.9 1685.6,935.9 1684.1,935.8 1682.6,937.1 1676.2,949.6 1672.8,953.5 1671.3,954.0 1669.8,953.7 1663.7,948.3 1661.0,947.5 1658.3,949.3 1652.3,956.7 1649.2,958.1 1646.9,957.1 1644.8,954.4 1638.1,937.2 1636.9,935.1 1635.8,934.5 1634.3,935.8 1632.8,939.2 1626.7,961.4 1623.6,969.6 1620.2,973.8 1614.0,976.7 1609.5,977.5 1605.0,976.9 1596.7,973.9 1593.6,971.9 1589.0,966.1 1581.2,948.7 1579.7,946.4 1578.2,945.5 1576.7,946.1 1575.1,948.1 1567.2,963.4 1565.0,966.0 1562.8,967.5 1559.4,967.6 1556.5,965.6 1554.2,961.8 1549.3,951.0 1546.7,948.4 1545.5,948.8 1544.1,950.4 1537.4,962.4 1535.0,964.1 1532.5,964.3 1529.9,963.1 1527.2,960.7 1523.1,953.6 1519.7,942.3 1513.9,915.3 1512.3,910.9 1510.8,909.6 1509.3,911.1 1507.6,915.8 1501.2,942.9 1497.6,954.3 1489.9,968.7 1480.6,982.8 1477.8,985.9 1475.6,987.1 1467.3,985.8 1459.6,987.1 1455.0,986.6 1449.6,984.5 1446.9,982.3 1444.0,976.2 1440.3,965.1 1436.1,943.4 1429.5,891.4 1427.7,883.7 1426.1,881.5 1424.5,883.7 1422.8,889.7 1413.2,937.8 1403.0,980.5 1400.9,987.2 1397.0,994.4 1394.9,996.1 1392.7,995.1 1389.3,990.1 1386.4,983.8 1382.6,968.1 1373.8,918.6 1371.3,911.0 1369.9,909.3 1368.5,909.1 1366.9,910.3 1365.2,912.8 1362.1,920.6 1347.0,979.8 1342.8,992.6 1337.4,1004.0 1330.5,1014.8 1327.0,1018.5 1324.1,1018.6 1322.0,1017.0 1319.5,1013.7 1313.6,1002.3 1308.1,983.5 1304.7,966.2 1300.9,930.1 1294.7,834.0 1291.1,790.0 1286.1,754.4 1285.1,750.5 1282.9,746.8 1282.1,748.1 1281.5,753.1 1279.1,789.0 1270.6,1002.0 1268.1,1031.9 1267.2,1035.5 1265.1,1036.2 1237.4,1036.2" fill="#6b8df0" stroke="#6b8df0" stroke-width="5.0" stroke-linejoin="round" clip-path="url(#cp22)" />
<polygon points="1237.4,1036.2 1265.1,1036.2 1267.2,1035.5 1268.1,1031.9 1270.6,1002.0 1279.1,789.0 1281.5,753.1 1282.1,748.1 1282.9,746.8 1285.1,750.5 1286.1,754.4 1291.1,790.0 1294.7,834.0 1300.9,930.1 1304.7,966.2 1308.1,983.5 1313.6,1002.3 1319.5,1013.7 1322.0,1017.0 1324.1,1018.6 1327.0,1018.5 1330.5,1014.8 1337.4,1004.0 1342.8,992.6 1347.0,979.8 1362.1,920.6 1365.2,912.8 1366.9,910.3 1368.5,909.1 1369.9,909.3 1371.3,911.0 1373.8,918.6 1382.6,968.1 1386.4,983.8 1389.3,990.1 1392.7,995.1 1394.9,996.1 1397.0,994.4 1400.9,987.2 1403.0,980.5 1413.2,937.8 1422.8,889.7 1424.5,883.7 1426.1,881.5 1427.7,883.7 1429.5,891.4 1436.1,943.4 1440.3,965.1 1444.0,976.2 1446.9,982.3 1449.6,984.5 1455.0,986.6 1459.6,987.1 1467.3,985.8 1475.6,987.1 1477.8,985.9 1480.6,982.8 1489.9,968.7 1497.6,954.3 1501.2,942.9 1507.6,915.8 1509.3,911.1 1510.8,909.6 1512.3,910.9 1513.9,915.3 1519.7,942.3 1523.1,953.6 1527.2,960.7 1529.8,963.0 1532.4,964.3 1535.0,964.1 1537.4,962.4 1544.1,950.4 1545.5,948.8 1546.7,948.4 1549.3,951.0 1554.2,961.8 1556.5,965.6 1559.4,967.6 1562.8,967.5 1565.0,966.0 1567.2,963.4 1575.1,948.1 1576.7,946.1 1578.2,945.5 1579.7,946.4 1581.2,948.7 1589.0,966.1 1593.6,971.9 1596.7,973.9 1605.0,976.9 1609.5,977.5 1614.0,976.7 1620.2,973.8 1623.6,969.6 1626.7,961.4 1632.8,939.2 1634.3,935.8 1635.8,934.5 1636.9,935.1 1638.1,937.2 1644.8,954.4 1646.9,957.1 1649.2,958.1 1652.3,956.7 1658.3,949.3 1661.0,947.5 1663.7,948.3 1669.8,953.7 1671.3,954.0 1672.8,953.5 1676.2,949.6 1682.6,937.1 1684.1,935.8 1685.6,935.9 1688.4,940.9 1696.4,967.1 1701.5,976.5 1703.5,979.0 1705.4,980.1 1713.0,979.8 1717.3,978.7 1721.3,974.6 1729.8,961.8 1732.1,960.7 1734.6,961.7 1734.6,962.9 1731.9,962.6 1729.3,964.0 1720.4,973.7 1717.2,976.3 1711.7,977.5 1705.0,977.5 1701.7,974.2 1696.1,964.7 1687.5,943.8 1685.9,941.7 1684.0,941.0 1681.4,942.3 1675.0,949.2 1672.1,951.4 1669.7,951.6 1663.6,949.3 1661.0,949.1 1658.3,950.2 1652.4,954.6 1649.4,955.5 1647.2,955.1 1645.1,953.6 1638.0,943.5 1636.7,942.5 1635.5,942.5 1632.8,946.0 1626.2,962.8 1622.8,968.9 1618.2,972.4 1611.3,974.7 1607.9,974.8 1604.0,974.0 1594.2,969.7 1588.8,963.9 1580.9,951.7 1578.1,949.6 1576.6,949.8 1574.9,950.9 1566.9,961.5 1562.0,965.0 1558.8,965.2 1556.2,964.1 1549.1,955.6 1546.6,954.1 1544.1,955.0 1537.8,961.0 1533.5,961.7 1530.9,960.6 1528.1,958.5 1523.3,952.3 1519.5,942.8 1513.3,922.1 1511.7,919.0 1510.0,918.0 1508.3,919.4 1506.4,923.2 1500.0,944.6 1497.0,952.4 1488.8,967.6 1479.2,982.2 1477.2,984.2 1475.5,984.9 1467.1,983.5 1459.7,984.9 1455.7,984.6 1450.7,982.8 1447.1,980.3 1444.6,975.4 1440.4,964.2 1435.6,944.4 1428.6,901.4 1426.7,895.1 1425.7,893.5 1424.7,893.1 1422.5,895.9 1419.8,904.9 1402.1,981.3 1400.6,985.6 1396.6,993.0 1394.8,994.3 1392.7,993.3 1389.8,989.1 1386.7,982.7 1383.0,969.3 1372.5,920.3 1369.4,912.6 1367.8,911.0 1366.0,910.8 1363.6,913.4 1360.8,920.8 1346.8,978.3 1342.5,991.3 1337.3,1002.8 1330.4,1014.1 1327.0,1017.7 1325.6,1018.2 1324.1,1017.9 1321.9,1016.0 1319.4,1012.5 1313.4,1000.5 1307.5,979.1 1303.9,959.9 1300.1,925.7 1289.6,787.3 1285.6,750.0 1283.6,740.6 1282.5,738.4 1281.2,746.2 1279.0,781.6 1270.6,1000.5 1268.1,1031.7 1267.2,1035.4 1265.1,1036.2 1237.4,1036.2" fill="#8db0fe" stroke="#8db0fe" stroke-width="5.0" stroke-linejoin="round" clip-path="url(#cp22)" />
<polygon points="1237.4,1036.2 1265.1,1036.2 1267.2,1035.4 1268.1,1031.7 1270.6,1000.5 1279.0,781.6 1281.2,746.2 1282.5,738.4 1283.6,740.6 1285.6,750.0 1289.6,787.3 1300.1,925.7 1303.9,959.9 1307.5,979.1 1313.4,1000.5 1319.4,1012.5 1321.9,1016.0 1324.1,1017.9 1325.6,1018.2 1327.0,1017.7 1330.4,1014.1 1337.3,1002.8 1342.5,991.3 1346.8,978.3 1360.8,920.8 1363.6,913.4 1366.0,910.8 1367.8,911.0 1369.4,912.6 1372.5,920.3 1383.0,969.3 1386.7,982.7 1389.8,989.1 1392.7,993.3 1394.8,994.3 1396.6,993.0 1400.6,985.6 1402.1,981.3 1419.8,904.9 1422.5,895.9 1424.7,893.1 1425.7,893.5 1426.7,895.1 1428.6,901.4 1435.6,944.4 1440.4,964.2 1444.6,975.4 1447.1,980.3 1450.7,982.8 1455.7,984.6 1459.7,984.9 1467.1,983.5 1475.5,984.9 1477.2,984.2 1479.2,982.2 1488.8,967.6 1497.0,952.4 1500.0,944.6 1506.4,923.2 1508.3,919.4 1510.0,918.0 1511.7,919.0 1513.3,922.1 1519.5,942.8 1523.3,952.3 1528.1,958.5 1530.9,960.6 1533.5,961.7 1537.8,961.0 1544.1,955.0 1546.6,954.1 1549.1,955.6 1556.2,964.1 1558.8,965.2 1562.0,965.0 1566.9,961.5 1574.9,950.9 1576.6,949.8 1578.1,949.6 1580.9,951.7 1588.8,963.9 1594.2,969.7 1604.0,974.0 1607.9,974.8 1611.3,974.7 1618.2,972.4 1622.8,968.9 1626.2,962.8 1632.8,946.0 1635.5,942.5 1636.7,942.5 1638.0,943.5 1645.1,953.6 1647.2,955.1 1649.4,955.5 1652.4,954.6 1658.3,950.2 1661.0,949.1 1663.6,949.3 1669.7,951.6 1672.1,951.4 1675.0,949.2 1681.4,942.3 1684.0,941.0 1685.9,941.7 1687.5,943.8 1696.1,964.7 1701.7,974.2 1705.0,977.5 1711.1,977.5 1717.0,976.5 1720.3,973.9 1729.6,963.7 1732.0,962.5 1734.6,962.9 1734.6,963.7 1731.6,964.1 1728.6,965.6 1717.0,974.7 1711.5,975.6 1705.3,975.7 1703.2,974.2 1700.4,970.4 1695.1,961.9 1687.4,947.5 1684.7,945.2 1681.8,944.6 1678.3,945.6 1670.8,949.9 1661.0,950.3 1650.1,953.6 1645.3,952.9 1638.2,948.5 1635.9,948.2 1632.9,951.0 1625.2,964.2 1621.8,968.4 1613.6,972.2 1610.0,972.9 1606.7,972.7 1601.2,971.0 1594.6,967.9 1581.2,954.5 1577.8,952.6 1573.7,953.5 1564.5,961.6 1559.4,963.5 1554.9,963.0 1546.6,958.3 1544.2,958.4 1537.6,960.2 1532.2,959.1 1527.2,955.4 1522.8,950.1 1518.2,941.4 1512.5,927.2 1510.7,924.5 1508.9,923.7 1507.1,924.8 1505.4,927.5 1498.1,947.5 1492.3,959.1 1487.5,967.5 1478.6,981.2 1475.3,983.3 1467.1,981.8 1459.8,983.3 1456.1,983.0 1451.2,981.3 1447.2,978.7 1440.4,963.2 1434.9,945.3 1427.5,907.6 1425.2,901.4 1423.1,899.6 1421.9,900.4 1420.5,903.0 1417.4,912.7 1401.9,980.4 1399.1,987.2 1396.4,991.9 1394.5,993.0 1392.5,991.8 1386.8,981.7 1383.2,969.7 1371.3,920.6 1367.9,912.3 1366.3,910.5 1364.8,910.2 1362.7,912.7 1360.2,919.9 1346.8,976.4 1342.5,989.8 1337.3,1001.7 1330.4,1013.4 1327.0,1017.1 1325.6,1017.6 1324.1,1017.3 1321.9,1015.3 1319.3,1011.5 1315.3,1004.1 1313.3,999.0 1306.9,975.1 1302.9,953.5 1298.8,914.5 1286.2,754.6 1284.0,737.6 1282.4,731.8 1281.1,740.3 1279.0,774.1 1270.6,999.4 1268.1,1031.6 1267.2,1035.4 1265.1,1036.2 1237.4,1036.2" fill="#c0d4f5" stroke="#c0d4f5" stroke-width="5.0" stroke-linejoin="round" clip-path="url(#cp22)" />
<polygon points="1237.4,1036.2 1265.1,1036.2 1267.2,1035.4 1268.1,1031.6 1270.6,999.4 1279.0,774.1 1281.1,740.3 1282.4,731.8 1284.0,737.6 1286.2,754.6 1298.8,914.5 1302.9,953.5 1306.9,975.1 1313.3,999.0 1315.3,1004.1 1319.3,1011.5 1321.9,1015.3 1324.1,1017.3 1325.6,1017.6 1327.0,1017.1 1330.4,1013.4 1337.3,1001.7 1342.5,989.8 1346.8,976.4 1360.2,919.9 1362.7,912.7 1364.8,910.2 1366.3,910.5 1367.9,912.3 1371.3,920.6 1383.2,969.7 1386.8,981.7 1392.5,991.8 1394.5,993.0 1396.4,991.9 1399.1,987.2 1401.9,980.4 1417.4,912.7 1420.5,903.0 1421.9,900.4 1423.1,899.6 1425.2,901.4 1427.5,907.6 1434.9,945.3 1440.4,963.2 1447.2,978.7 1451.2,981.3 1456.1,983.0 1459.8,983.3 1467.1,981.8 1475.3,983.3 1478.6,981.2 1487.5,967.5 1492.3,959.1 1498.1,947.5 1505.4,927.5 1507.1,924.8 1508.9,923.7 1510.7,924.5 1512.4,927.0 1518.5,941.9 1523.7,951.3 1529.6,957.4 1532.5,959.2 1535.3,960.1 1538.6,960.1 1546.5,958.3 1548.8,959.2 1555.1,963.1 1560.0,963.4 1564.8,961.4 1573.6,953.6 1577.7,952.5 1581.2,954.5 1590.9,964.7 1595.3,968.4 1604.4,972.1 1610.6,972.8 1616.7,971.1 1622.3,967.9 1625.3,964.0 1632.8,951.2 1635.9,948.2 1638.2,948.5 1645.3,952.9 1650.1,953.6 1661.0,950.3 1670.8,949.9 1678.5,945.5 1682.4,944.5 1685.1,945.4 1687.5,947.6 1696.1,963.5 1702.2,973.0 1705.1,975.7 1710.6,975.7 1716.7,974.8 1729.1,965.2 1731.9,964.0 1734.6,963.7 1727.8,966.6 1716.7,973.9 1705.3,974.8 1701.7,971.3 1687.2,949.3 1683.1,946.4 1679.0,945.6 1676.4,946.2 1670.1,949.3 1652.2,952.5 1646.8,952.5 1638.5,950.8 1636.3,951.0 1632.8,953.8 1624.4,964.8 1621.7,967.6 1613.4,971.3 1606.8,971.7 1595.5,967.4 1581.8,956.2 1577.2,953.9 1572.8,954.5 1563.4,961.2 1557.2,963.0 1553.4,962.7 1546.1,960.4 1537.6,959.8 1533.2,958.5 1527.9,954.9 1522.8,949.5 1517.9,942.0 1511.5,928.9 1509.7,926.7 1507.9,926.1 1506.3,927.0 1504.6,929.7 1497.6,947.4 1490.3,961.6 1478.3,980.7 1475.3,982.5 1467.1,981.0 1459.9,982.4 1456.2,982.2 1452.2,980.9 1448.0,978.6 1444.8,973.1 1438.3,957.5 1435.1,947.8 1426.1,907.9 1424.1,903.2 1422.3,901.8 1421.0,902.7 1419.6,905.2 1416.7,914.5 1401.6,980.4 1397.6,989.4 1396.1,991.5 1394.8,992.3 1393.3,991.8 1391.5,989.8 1386.6,980.4 1383.3,969.9 1369.9,918.1 1366.5,910.7 1364.9,909.5 1363.6,910.1 1361.7,913.7 1359.7,920.2 1346.8,975.5 1342.8,988.4 1337.4,1001.0 1330.5,1012.8 1327.0,1016.8 1325.6,1017.3 1324.1,1017.0 1321.9,1015.0 1319.2,1010.9 1315.3,1003.6 1313.2,998.0 1306.4,972.3 1302.3,949.8 1297.0,897.3 1285.8,750.2 1283.6,732.9 1282.2,728.4 1281.0,738.2 1278.9,773.1 1270.6,998.8 1268.1,1031.5 1267.2,1035.4 1265.1,1036.2 1237.4,1036.2" fill="#ecd3c5" stroke="#ecd3c5" stroke-width="5.0" stroke-linejoin="round" clip-path="url(#cp22)" />
<polygon points="1237.4,1036.2 1265.1,1036.2 1267.2,1035.4 1268.1,1031.5 1270.6,998.8 1278.9,773.1 1281.0,738.2 1282.2,728.4 1283.6,732.9 1285.8,750.2 1297.0,897.3 1302.3,949.8 1306.4,972.3 1313.2,998.0 1315.3,1003.6 1319.2,1010.9 1321.9,1015.0 1324.1,1017.0 1325.6,1017.3 1327.0,1016.8 1330.5,1012.8 1337.4,1001.0 1342.8,988.4 1346.8,975.5 1359.7,920.2 1361.7,913.7 1363.6,910.1 1364.9,909.5 1366.5,910.7 1369.9,918.1 1383.3,969.9 1386.6,980.4 1391.5,989.8 1393.3,991.8 1394.8,992.3 1396.1,991.5 1397.6,989.4 1401.6,980.4 1416.7,914.5 1419.6,905.2 1421.0,902.7 1422.3,901.8 1424.1,903.2 1426.1,907.9 1435.1,947.8 1438.3,957.5 1444.8,973.1 1448.0,978.6 1452.2,980.9 1456.2,982.2 1459.9,982.4 1467.1,981.0 1475.3,982.5 1478.3,980.7 1490.3,961.6 1497.6,947.4 1504.6,929.7 1506.3,927.0 1507.9,926.1 1509.8,926.8 1511.7,929.1 1517.6,941.5 1521.5,947.6 1529.1,955.8 1532.5,958.2 1536.0,959.5 1546.5,960.4 1554.2,962.9 1557.7,962.9 1562.3,961.8 1572.3,954.7 1577.1,953.9 1581.7,956.1 1596.1,967.8 1605.0,971.3 1611.1,971.8 1616.5,970.2 1622.2,967.2 1632.8,953.8 1636.3,951.0 1638.5,950.8 1646.7,952.5 1652.0,952.5 1670.1,949.3 1676.5,946.1 1679.5,945.6 1683.5,946.5 1687.4,949.4 1701.7,971.3 1705.3,974.8 1716.6,973.9 1728.4,966.2 1734.6,964.1 1723.4,968.8 1716.6,973.0 1705.3,973.9 1702.5,971.6 1687.7,951.7 1681.4,946.9 1677.4,945.6 1661.4,951.5 1645.7,951.8 1637.1,953.5 1628.9,959.6 1621.8,966.7 1615.7,969.5 1611.0,970.8 1605.2,970.4 1596.7,967.1 1586.5,959.7 1579.3,956.1 1574.8,954.9 1571.0,955.4 1563.1,960.3 1557.9,962.2 1553.1,963.2 1548.5,963.0 1543.2,961.6 1536.7,959.0 1532.2,956.9 1528.2,954.0 1518.0,943.5 1510.4,930.5 1508.5,928.5 1506.9,927.9 1505.4,928.8 1503.7,931.5 1497.5,946.5 1489.3,962.3 1478.2,980.0 1475.3,981.7 1467.1,980.1 1459.9,981.6 1456.3,981.4 1451.2,979.6 1447.1,976.8 1437.7,956.3 1433.4,944.6 1425.4,910.0 1423.4,904.9 1421.6,903.3 1420.4,904.0 1419.0,906.4 1416.2,915.2 1401.5,980.0 1397.3,989.3 1395.8,991.2 1394.4,991.7 1392.9,990.8 1391.2,988.6 1386.2,978.7 1376.6,945.9 1369.3,917.6 1366.7,910.9 1365.4,909.2 1364.3,908.7 1362.3,910.8 1360.0,917.7 1346.7,975.1 1342.4,988.7 1337.3,1000.7 1330.4,1012.7 1327.0,1016.5 1325.6,1017.0 1324.1,1016.7 1321.9,1014.7 1319.3,1010.7 1315.3,1003.1 1313.3,997.8 1306.1,970.7 1301.8,947.2 1298.5,918.3 1293.9,865.0 1285.7,748.3 1283.6,730.4 1282.2,725.0 1281.0,734.5 1278.9,769.4 1270.6,998.2 1268.1,1031.4 1267.2,1035.4 1265.1,1036.2 1237.4,1036.2" fill="#f4987a" stroke="#f4987a" stroke-width="5.0" stroke-linejoin="round" clip-path="url(#cp22)" />
<polygon points="1237.4,1036.2 1265.1,1036.2 1267.2,1035.4 1268.1,1031.4 1270.6,998.1 1279.1,750.4 1282.2,705.3 1283.5,710.0 1285.3,727.9 1293.4,858.1 1301.4,944.5 1305.7,969.1 1313.1,997.1 1319.0,1010.3 1324.0,1016.6 1326.1,1016.9 1328.4,1015.3 1335.5,1004.1 1340.7,993.1 1345.3,979.6 1353.7,934.2 1362.1,871.4 1363.8,863.1 1365.6,859.7 1366.5,860.1 1367.5,862.1 1369.7,871.3 1377.7,931.7 1385.4,973.8 1387.9,981.8 1392.2,989.8 1394.8,991.6 1397.3,989.3 1401.2,980.4 1404.2,967.3 1411.2,926.3 1419.5,863.4 1421.5,853.8 1423.2,850.8 1425.1,853.9 1427.0,863.0 1434.4,924.2 1438.8,948.3 1446.4,974.7 1448.4,977.6 1453.8,980.7 1459.3,981.7 1467.4,980.2 1475.6,981.6 1478.0,980.2 1480.8,976.4 1487.9,964.0 1491.9,954.3 1497.6,934.3 1504.6,901.1 1506.3,896.1 1507.9,894.5 1509.5,895.9 1511.3,900.1 1518.2,928.7 1524.2,945.5 1528.1,952.5 1532.5,956.0 1536.0,955.8 1543.5,951.6 1547.3,950.6 1550.5,951.5 1558.7,956.7 1561.3,956.9 1563.8,954.7 1571.6,942.2 1573.5,940.6 1575.3,940.4 1579.2,943.6 1589.2,959.6 1594.2,965.3 1603.8,969.9 1610.9,970.5 1616.2,968.2 1621.5,963.7 1633.6,944.0 1638.6,938.6 1642.2,937.0 1645.7,937.0 1657.4,943.2 1661.6,943.7 1665.6,941.0 1674.4,929.1 1677.7,927.1 1680.1,928.5 1683.1,932.6 1695.9,959.9 1701.7,970.0 1704.6,973.5 1708.4,973.9 1716.3,973.1 1723.5,968.7 1734.6,964.5 1723.5,968.7 1716.5,973.1 1705.3,973.9 1702.5,971.6 1687.7,951.7 1681.4,946.9 1677.4,945.6 1661.4,951.5 1645.7,951.8 1637.1,953.5 1628.9,959.6 1621.8,966.7 1615.7,969.5 1611.0,970.8 1605.2,970.4 1596.7,967.1 1586.5,959.7 1579.3,956.1 1574.8,954.9 1571.0,955.4 1563.1,960.3 1557.8,962.2 1552.9,963.2 1548.3,962.9 1536.4,958.9 1528.2,954.0 1518.0,943.5 1510.4,930.5 1508.5,928.5 1506.9,927.9 1503.7,931.5 1497.5,946.5 1489.3,962.3 1478.2,980.0 1475.3,981.7 1467.1,980.1 1459.9,981.6 1456.3,981.4 1451.2,979.6 1447.1,976.8 1437.7,956.3 1433.4,944.6 1425.4,910.0 1423.4,904.9 1421.6,903.3 1419.0,906.4 1416.2,915.2 1401.5,980.0 1397.3,989.3 1395.8,991.2 1394.4,991.7 1391.2,988.6 1386.2,978.7 1369.3,917.6 1366.7,910.9 1364.3,908.7 1362.3,910.8 1360.0,917.7 1346.7,975.1 1342.4,988.7 1337.3,1000.7 1330.4,1012.7 1327.0,1016.5 1324.1,1016.7 1319.3,1010.7 1313.3,997.8 1306.1,970.7 1301.8,947.2 1293.9,865.0 1285.7,748.3 1283.6,730.4 1282.2,725.0 1281.0,734.5 1278.9,769.4 1270.6,998.2 1268.1,1031.4 1267.2,1035.4 1265.1,1036.2 1237.4,1036.2" fill="#6f92f3" stroke="#6f92f3" stroke-width="5.0" stroke-linejoin="round" clip-path="url(#cp22)" />
<polygon points="1237.4,1036.2 1265.1,1036.2 1267.2,1035.4 1268.1,1031.4 1270.6,998.1 1279.1,753.2 1282.2,709.2 1283.5,713.9 1285.5,732.7 1293.6,859.9 1301.5,945.4 1305.9,969.6 1313.1,997.1 1319.0,1010.3 1324.0,1016.6 1326.1,1016.9 1328.4,1015.3 1335.3,1004.4 1340.4,993.8 1345.0,980.6 1353.7,936.4 1361.8,880.7 1363.7,872.6 1365.4,869.7 1367.4,871.9 1369.7,880.8 1377.6,934.6 1385.6,974.8 1387.9,982.0 1392.3,990.0 1394.8,991.6 1397.1,989.5 1401.1,980.9 1403.6,970.7 1410.9,930.0 1419.1,873.8 1421.1,864.8 1423.0,861.6 1424.9,864.2 1426.9,872.8 1434.3,928.2 1438.8,950.4 1446.6,975.4 1449.0,978.2 1454.3,980.9 1459.4,981.7 1467.4,980.2 1475.5,981.7 1477.7,980.4 1480.2,977.4 1487.8,964.4 1491.8,955.2 1497.6,936.7 1504.4,907.3 1506.2,902.7 1507.8,901.2 1509.4,902.4 1511.2,906.1 1518.1,931.3 1524.2,946.4 1528.3,953.1 1533.0,956.4 1536.3,956.4 1539.6,954.8 1547.2,953.0 1558.5,957.7 1561.1,957.8 1563.8,955.7 1571.6,944.8 1573.5,943.5 1575.3,943.3 1579.3,946.2 1589.6,960.5 1594.6,965.7 1604.0,970.0 1610.8,970.6 1616.0,968.6 1621.5,964.4 1633.4,946.7 1638.2,941.7 1642.1,940.1 1645.7,939.9 1657.4,944.9 1661.6,945.2 1666.3,942.1 1674.9,932.1 1677.7,930.8 1680.4,932.3 1683.6,936.5 1695.9,960.4 1701.8,970.3 1704.8,973.6 1708.7,973.9 1716.5,973.1 1723.5,968.7 1734.6,964.5 1723.5,968.7 1716.5,973.1 1705.3,973.9 1702.5,971.6 1687.7,951.7 1681.4,946.9 1677.4,945.6 1661.4,951.5 1645.7,951.8 1637.1,953.5 1628.9,959.6 1621.8,966.7 1615.7,969.5 1611.0,970.8 1605.2,970.4 1596.7,967.1 1586.5,959.7 1579.3,956.1 1574.8,954.9 1571.0,955.4 1563.1,960.3 1557.8,962.2 1552.9,963.2 1548.3,962.9 1536.4,958.9 1528.2,954.0 1518.0,943.5 1510.4,930.5 1508.5,928.5 1506.9,927.9 1503.7,931.5 1497.5,946.5 1489.3,962.3 1478.2,980.0 1475.3,981.7 1467.1,980.1 1459.9,981.6 1456.3,981.4 1451.2,979.6 1447.1,976.8 1437.7,956.3 1433.4,944.6 1425.4,910.0 1423.4,904.9 1421.6,903.3 1419.0,906.4 1416.2,915.2 1401.5,980.0 1397.3,989.3 1395.8,991.2 1394.4,991.7 1391.2,988.6 1386.2,978.7 1369.3,917.6 1366.7,910.9 1364.3,908.7 1362.3,910.8 1360.0,917.7 1346.7,975.1 1342.4,988.7 1337.3,1000.7 1330.4,1012.7 1327.0,1016.5 1324.1,1016.7 1319.3,1010.7 1313.3,997.8 1306.1,970.7 1301.8,947.2 1293.9,865.0 1285.7,748.3 1283.6,730.4 1282.2,725.0 1281.0,734.5 1278.9,769.4 1270.6,998.2 1268.1,1031.4 1267.2,1035.4 1265.1,1036.2 1237.4,1036.2" fill="#8fb1fe" stroke="#8fb1fe" stroke-width="5.0" stroke-linejoin="round" clip-path="url(#cp22)" />
<polygon points="1237.4,1036.2 1265.1,1036.2 1267.2,1035.4 1268.1,1031.4 1270.6,998.1 1279.0,758.7 1281.0,723.6 1282.2,713.2 1283.5,717.8 1285.5,735.9 1293.7,861.6 1301.6,946.3 1306.0,970.2 1313.2,997.4 1319.2,1010.5 1324.0,1016.6 1325.6,1017.0 1327.4,1016.2 1331.7,1010.4 1338.8,997.5 1344.8,981.6 1353.6,939.2 1361.6,889.7 1363.4,882.3 1365.2,879.6 1366.2,879.9 1367.3,881.7 1369.5,889.7 1377.5,937.6 1385.7,975.8 1387.9,982.2 1392.3,990.0 1394.6,991.6 1396.9,989.9 1400.9,981.6 1403.0,973.9 1410.7,933.5 1418.6,884.3 1420.9,875.2 1422.8,872.2 1424.6,874.6 1426.6,882.2 1434.2,932.3 1438.8,952.5 1446.7,975.8 1449.4,978.5 1454.8,981.1 1459.6,981.7 1467.3,980.2 1475.5,981.7 1479.6,978.3 1487.5,965.0 1491.5,956.5 1497.6,939.1 1504.3,913.4 1506.1,909.2 1507.7,907.9 1509.3,909.0 1511.0,912.2 1518.0,934.1 1524.2,947.4 1528.7,953.7 1533.5,956.8 1547.1,955.4 1558.2,958.7 1560.8,958.7 1563.6,956.9 1571.6,947.4 1575.3,946.2 1579.6,948.9 1590.5,961.8 1595.1,966.1 1604.3,970.1 1610.6,970.7 1616.0,968.8 1621.6,964.9 1633.1,949.3 1637.9,944.8 1641.8,943.2 1645.6,942.9 1657.5,946.6 1661.6,946.8 1666.5,944.0 1674.9,935.6 1677.7,934.5 1681.1,936.5 1686.1,943.0 1700.7,968.6 1704.9,973.7 1716.5,973.1 1723.5,968.7 1734.6,964.5 1723.5,968.7 1716.5,973.1 1705.3,973.9 1702.5,971.6 1687.7,951.7 1681.4,946.9 1677.4,945.6 1661.4,951.5 1645.7,951.8 1637.1,953.5 1628.9,959.6 1621.8,966.7 1615.7,969.5 1611.0,970.8 1605.2,970.4 1596.7,967.1 1586.5,959.7 1579.3,956.1 1574.8,954.9 1571.0,955.4 1563.1,960.3 1557.8,962.2 1552.9,963.2 1548.3,962.9 1536.4,958.9 1528.2,954.0 1518.0,943.5 1510.4,930.5 1508.5,928.5 1506.9,927.9 1503.7,931.5 1497.5,946.5 1489.3,962.3 1478.2,980.0 1475.3,981.7 1467.1,980.1 1459.9,981.6 1456.3,981.4 1451.2,979.6 1447.1,976.8 1437.7,956.3 1433.4,944.6 1425.4,910.0 1423.4,904.9 1421.6,903.3 1419.0,906.4 1416.2,915.2 1401.5,980.0 1397.3,989.3 1395.8,991.2 1394.4,991.7 1391.2,988.6 1386.2,978.7 1369.3,917.6 1366.7,910.9 1364.3,908.7 1362.3,910.8 1360.0,917.7 1346.7,975.1 1342.4,988.7 1337.3,1000.7 1330.4,1012.7 1327.0,1016.5 1324.1,1016.7 1319.3,1010.7 1313.3,997.8 1306.1,970.7 1301.8,947.2 1293.9,865.0 1285.7,748.3 1283.6,730.4 1282.2,725.0 1281.0,734.5 1278.9,769.4 1270.6,998.2 1268.1,1031.4 1267.2,1035.4 1265.1,1036.2 1237.4,1036.2" fill="#b5cdfa" stroke="#b5cdfa" stroke-width="5.0" stroke-linejoin="round" clip-path="url(#cp22)" />
<polygon points="1237.4,1036.2 1265.1,1036.2 1267.2,1035.4 1268.1,1031.4 1270.6,998.2 1279.0,761.1 1281.0,726.8 1282.2,716.7 1283.5,721.3 1285.5,738.8 1293.7,861.7 1301.6,946.3 1306.0,970.2 1313.2,997.4 1319.2,1010.5 1324.0,1016.6 1325.6,1017.0 1327.4,1016.2 1331.5,1010.9 1338.6,998.1 1344.5,982.5 1353.5,941.8 1361.2,898.2 1363.2,891.0 1365.1,888.4 1367.2,890.6 1369.5,898.3 1377.2,939.8 1385.3,975.0 1390.0,986.5 1392.4,990.2 1394.3,991.6 1395.9,991.1 1397.8,988.4 1402.2,977.1 1418.1,893.5 1420.5,884.6 1422.5,881.7 1424.4,883.9 1426.4,890.8 1434.1,936.2 1438.8,954.4 1446.9,976.1 1450.0,978.9 1455.3,981.2 1459.7,981.7 1467.3,980.2 1475.3,981.7 1479.2,978.8 1487.4,965.3 1491.3,957.5 1497.6,941.2 1504.2,918.8 1505.9,915.1 1507.6,914.0 1509.2,914.9 1510.8,917.5 1517.9,936.6 1524.3,948.4 1529.3,954.5 1534.5,957.3 1546.6,957.6 1554.9,959.4 1560.3,959.6 1563.5,958.0 1571.5,949.8 1575.3,948.8 1580.0,951.6 1595.6,966.4 1604.5,970.2 1610.6,970.7 1615.9,969.1 1621.6,965.5 1632.9,951.6 1637.6,947.4 1645.6,945.6 1657.8,948.2 1661.6,948.2 1666.5,945.7 1675.0,938.7 1677.5,937.8 1681.1,939.6 1686.5,945.7 1701.4,969.9 1705.0,973.7 1716.5,973.1 1723.5,968.7 1734.6,964.5 1723.5,968.7 1716.5,973.1 1705.3,973.9 1702.5,971.6 1687.7,951.7 1681.4,946.9 1677.4,945.6 1661.4,951.5 1645.7,951.8 1637.1,953.5 1628.9,959.6 1621.8,966.7 1615.7,969.5 1611.0,970.8 1605.2,970.4 1596.7,967.1 1586.5,959.7 1579.3,956.1 1574.8,954.9 1571.0,955.4 1563.1,960.3 1557.8,962.2 1552.9,963.2 1548.3,962.9 1536.4,958.9 1528.2,954.0 1518.0,943.5 1510.4,930.5 1508.5,928.5 1506.9,927.9 1503.7,931.5 1497.5,946.5 1489.3,962.3 1478.2,980.0 1475.3,981.7 1467.1,980.1 1459.9,981.6 1456.3,981.4 1451.2,979.6 1447.1,976.8 1437.7,956.3 1433.4,944.6 1425.4,910.0 1423.4,904.9 1421.6,903.3 1419.0,906.4 1416.2,915.2 1401.5,980.0 1397.3,989.3 1395.8,991.2 1394.4,991.7 1391.2,988.6 1386.2,978.7 1369.3,917.6 1366.7,910.9 1364.3,908.7 1362.3,910.8 1360.0,917.7 1346.7,975.1 1342.4,988.7 1337.3,1000.7 1330.4,1012.7 1327.0,1016.5 1324.1,1016.7 1319.3,1010.7 1313.3,997.8 1306.1,970.7 1301.8,947.2 1293.9,865.0 1285.7,748.3 1283.6,730.4 1282.2,725.0 1281.0,734.5 1278.9,769.4 1270.6,998.2 1268.1,1031.4 1267.2,1035.4 1265.1,1036.2 1237.4,1036.2" fill="#d9dce1" stroke="#d9dce1" stroke-width="5.0" stroke-linejoin="round" clip-path="url(#cp22)" />
<polygon points="1237.4,1036.2 1265.1,1036.2 1267.2,1035.4 1268.1,1031.4 1270.6,998.2 1279.0,763.2 1281.0,729.8 1282.2,719.9 1283.6,725.3 1285.6,742.8 1293.8,863.4 1301.8,947.2 1306.1,970.7 1313.3,997.8 1319.3,1010.7 1324.1,1016.7 1325.8,1017.0 1327.4,1016.2 1331.2,1011.3 1338.2,998.9 1344.0,984.1 1353.4,944.0 1360.8,905.6 1362.9,898.6 1364.8,896.2 1367.0,898.4 1369.4,905.5 1377.1,942.4 1385.6,976.3 1390.5,987.5 1392.7,990.5 1394.4,991.6 1395.9,991.1 1397.6,988.7 1402.0,978.2 1417.4,902.3 1420.0,893.1 1422.3,890.1 1424.1,892.1 1426.1,898.4 1433.9,939.6 1438.7,955.7 1447.0,976.4 1450.5,979.2 1455.7,981.3 1459.7,981.7 1467.3,980.2 1475.3,981.7 1478.7,979.4 1490.8,959.0 1497.5,943.4 1504.1,923.6 1505.8,920.3 1507.3,919.3 1508.8,919.9 1510.5,922.2 1517.9,939.2 1524.8,949.8 1530.7,955.7 1536.8,958.1 1553.4,960.6 1559.4,960.5 1563.3,959.0 1571.5,951.9 1575.3,951.2 1580.9,954.1 1596.0,966.7 1604.7,970.2 1610.6,970.8 1615.7,969.3 1621.7,965.9 1632.6,953.6 1637.5,949.7 1645.6,948.0 1661.5,949.4 1666.6,947.2 1675.2,941.4 1677.5,940.8 1681.3,942.4 1687.0,948.1 1701.9,970.7 1705.1,973.8 1716.5,973.1 1723.5,968.7 1734.6,964.5 1723.5,968.7 1716.5,973.1 1705.3,973.9 1702.5,971.6 1687.7,951.7 1681.4,946.9 1677.4,945.6 1661.4,951.5 1645.7,951.8 1637.1,953.5 1628.9,959.6 1621.8,966.7 1615.7,969.5 1611.0,970.8 1605.2,970.4 1596.7,967.1 1586.5,959.7 1579.3,956.1 1574.8,954.9 1571.0,955.4 1563.1,960.3 1557.8,962.2 1552.9,963.2 1548.3,962.9 1536.4,958.9 1528.2,954.0 1518.0,943.5 1510.4,930.5 1508.5,928.5 1506.9,927.9 1503.7,931.5 1497.5,946.5 1489.3,962.3 1478.2,980.0 1475.3,981.7 1467.1,980.1 1459.9,981.6 1456.3,981.4 1451.2,979.6 1447.1,976.8 1437.7,956.3 1433.4,944.6 1425.4,910.0 1423.4,904.9 1421.6,903.3 1419.0,906.4 1416.2,915.2 1401.5,980.0 1397.3,989.3 1395.8,991.2 1394.4,991.7 1391.2,988.6 1386.2,978.7 1369.3,917.6 1366.7,910.9 1364.3,908.7 1362.3,910.8 1360.0,917.7 1346.7,975.1 1342.4,988.7 1337.3,1000.7 1330.4,1012.7 1327.0,1016.5 1324.1,1016.7 1319.3,1010.7 1313.3,997.8 1306.1,970.7 1301.8,947.2 1293.9,865.0 1285.7,748.3 1283.6,730.4 1282.2,725.0 1281.0,734.5 1278.9,769.4 1270.6,998.2 1268.1,1031.4 1267.2,1035.4 1265.1,1036.2 1237.4,1036.2" fill="#f1c6b0" stroke="#f1c6b0" stroke-width="5.0" stroke-linejoin="round" clip-path="url(#cp22)" />
<polygon points="1237.4,1036.2 1265.1,1036.2 1267.2,1035.4 1268.1,1031.4 1270.6,998.2 1278.9,767.8 1281.0,732.3 1282.2,722.6 1283.6,728.0 1285.6,745.0 1293.8,863.4 1301.8,947.2 1306.1,970.7 1313.3,997.8 1319.3,1010.7 1324.1,1016.7 1327.1,1016.4 1330.7,1012.1 1337.7,999.9 1343.2,986.6 1347.4,971.8 1360.3,912.4 1362.6,905.4 1364.6,903.0 1366.8,905.0 1369.3,911.8 1376.9,944.3 1385.9,977.8 1390.9,988.1 1394.4,991.7 1395.9,991.1 1397.5,988.9 1401.7,979.1 1416.8,909.3 1419.5,900.3 1421.9,897.3 1423.7,899.0 1425.7,904.6 1433.7,942.3 1438.3,956.3 1447.1,976.7 1451.0,979.5 1456.1,981.4 1459.8,981.6 1467.1,980.1 1475.3,981.7 1478.5,979.7 1490.1,960.5 1497.5,945.1 1503.8,928.0 1505.6,925.0 1507.2,923.9 1508.8,924.6 1510.7,927.0 1518.2,942.0 1527.7,953.3 1534.0,957.6 1547.6,961.3 1553.8,962.0 1560.3,960.9 1563.5,959.5 1571.1,953.8 1575.2,953.2 1578.9,954.5 1584.8,958.0 1596.5,966.9 1605.0,970.3 1611.0,970.8 1615.9,969.4 1621.7,966.3 1632.4,955.4 1637.2,951.8 1645.6,950.0 1661.5,950.5 1677.4,943.4 1681.3,944.8 1687.4,950.1 1702.2,971.1 1705.1,973.8 1716.5,973.1 1723.5,968.7 1734.6,964.5 1723.5,968.7 1716.5,973.1 1705.3,973.9 1702.5,971.6 1687.7,951.7 1681.4,946.9 1677.4,945.6 1661.4,951.5 1645.7,951.8 1637.1,953.5 1628.9,959.6 1621.8,966.7 1615.7,969.5 1611.0,970.8 1605.2,970.4 1596.7,967.1 1586.5,959.7 1579.3,956.1 1574.8,954.9 1571.0,955.4 1563.1,960.3 1557.8,962.2 1552.9,963.2 1548.3,962.9 1536.4,958.9 1528.2,954.0 1518.0,943.5 1510.4,930.5 1508.5,928.5 1506.9,927.9 1503.7,931.5 1497.5,946.5 1489.3,962.3 1478.2,980.0 1475.3,981.7 1467.1,980.1 1459.9,981.6 1456.3,981.4 1451.2,979.6 1447.1,976.8 1437.7,956.3 1433.4,944.6 1425.4,910.0 1423.4,904.9 1421.6,903.3 1419.0,906.4 1416.2,915.2 1401.5,980.0 1397.3,989.3 1395.8,991.2 1394.4,991.7 1391.2,988.6 1386.2,978.7 1369.3,917.6 1366.7,910.9 1364.3,908.7 1362.3,910.8 1360.0,917.7 1346.7,975.1 1342.4,988.7 1337.3,1000.7 1330.4,1012.7 1327.0,1016.5 1324.1,1016.7 1319.3,1010.7 1313.3,997.8 1306.1,970.7 1301.8,947.2 1293.9,865.0 1285.7,748.3 1283.6,730.4 1282.2,725.0 1281.0,734.5 1278.9,769.4 1270.6,998.2 1268.1,1031.4 1267.2,1035.4 1265.1,1036.2 1237.4,1036.2" fill="#f09f80" stroke="#f09f80" stroke-width="5.0" stroke-linejoin="round" clip-path="url(#cp22)" />
<polygon points="1237.4,1036.0 1265.0,1036.0 1267.2,1035.2 1267.9,1031.9 1270.4,998.3 1279.0,758.6 1282.2,715.8 1285.3,737.0 1295.3,874.8 1301.8,940.0 1306.2,964.5 1314.1,994.0 1315.2,996.4 1316.2,996.9 1320.7,1006.8 1323.1,1008.2 1324.1,1010.8 1325.3,1007.9 1327.9,1010.6 1329.4,1006.2 1330.7,1006.0 1332.5,1000.2 1334.2,999.2 1336.3,994.2 1337.4,993.8 1340.1,983.7 1341.9,983.8 1343.3,980.7 1353.2,941.2 1354.9,931.3 1360.3,908.7 1362.1,903.2 1362.9,903.4 1364.4,901.9 1365.2,902.8 1366.2,901.9 1368.4,906.7 1380.3,953.4 1382.7,958.2 1385.9,971.2 1391.0,981.1 1392.8,983.7 1393.5,982.8 1394.3,984.0 1396.3,981.7 1397.1,982.7 1401.2,974.4 1404.3,961.9 1406.2,950.0 1411.9,928.1 1413.4,917.2 1414.8,914.9 1417.4,900.8 1419.0,898.0 1420.0,898.2 1420.9,895.3 1421.8,895.8 1422.5,894.9 1426.9,907.4 1429.8,922.5 1434.6,940.7 1437.3,946.8 1438.2,951.2 1439.8,952.7 1446.7,970.3 1448.2,970.9 1450.1,970.3 1450.9,971.7 1451.7,971.6 1452.6,973.9 1454.3,973.4 1456.9,975.2 1460.1,974.8 1464.0,971.8 1464.9,973.3 1465.6,972.1 1466.5,972.7 1468.9,970.9 1471.5,973.9 1473.5,972.3 1474.4,973.8 1476.7,974.8 1477.8,971.7 1478.8,970.7 1479.6,970.9 1480.6,969.0 1481.3,969.4 1482.7,964.3 1485.0,962.6 1486.3,960.6 1490.6,951.4 1491.4,951.4 1492.4,947.7 1493.9,946.6 1494.6,943.6 1497.2,940.0 1498.2,936.8 1499.1,937.4 1501.3,928.4 1502.3,927.5 1504.1,921.7 1504.4,921.3 1506.2,922.3 1507.1,920.0 1508.1,920.2 1510.4,924.4 1511.2,924.0 1511.9,924.7 1515.0,932.5 1516.5,933.1 1518.5,936.9 1520.2,938.4 1521.2,937.7 1523.5,943.3 1524.7,942.7 1525.8,946.0 1527.6,947.3 1528.6,946.0 1530.2,950.1 1531.3,949.1 1532.4,950.0 1533.5,948.4 1534.7,951.6 1535.9,951.1 1536.7,952.4 1537.4,950.9 1539.3,953.7 1540.3,953.0 1541.9,954.3 1543.1,953.9 1544.4,956.5 1545.4,954.1 1548.7,956.9 1550.6,956.4 1551.4,954.8 1552.3,957.1 1553.8,955.3 1554.7,957.0 1555.9,953.1 1556.8,954.1 1557.4,953.7 1558.2,955.0 1559.0,954.2 1559.8,955.1 1560.8,953.5 1563.4,953.5 1564.6,952.7 1565.9,950.2 1566.6,950.7 1568.1,949.4 1569.2,949.5 1571.6,946.3 1574.1,945.7 1575.8,948.9 1576.7,947.9 1577.8,948.8 1579.8,947.1 1581.2,949.6 1583.5,951.4 1584.9,952.0 1585.8,951.5 1587.9,953.5 1589.0,953.2 1592.2,957.8 1593.0,956.9 1594.3,957.2 1596.8,960.4 1597.5,960.0 1598.5,960.7 1599.6,959.0 1600.8,960.5 1601.8,959.7 1602.7,962.2 1604.2,961.9 1605.2,963.5 1606.2,962.7 1607.9,964.4 1608.9,961.9 1610.0,963.6 1611.1,962.2 1613.6,963.5 1614.6,962.3 1616.4,963.2 1620.5,960.3 1621.3,958.4 1623.1,959.5 1624.7,956.7 1625.8,956.8 1626.9,953.9 1628.2,954.7 1631.0,950.6 1631.7,951.0 1632.5,948.6 1633.9,949.2 1635.5,946.5 1637.5,945.7 1638.5,946.6 1640.5,946.3 1641.4,944.1 1643.0,942.8 1644.5,944.9 1646.2,944.3 1646.8,945.4 1647.7,943.7 1648.9,945.1 1651.2,943.6 1652.4,945.7 1653.4,944.0 1654.7,944.8 1656.9,941.7 1658.1,943.3 1659.9,943.6 1660.9,945.3 1662.0,943.9 1663.0,944.1 1664.7,940.9 1666.3,943.4 1667.0,941.8 1668.2,941.2 1669.8,942.3 1671.1,938.1 1672.1,939.8 1673.9,939.8 1674.8,938.2 1676.2,940.0 1677.8,937.2 1679.5,940.1 1680.4,937.9 1681.3,939.1 1681.9,938.9 1683.0,941.6 1684.5,941.3 1688.7,944.9 1690.3,949.3 1691.3,949.6 1692.3,948.3 1693.2,949.9 1693.9,949.6 1696.4,953.9 1697.6,957.9 1698.7,957.7 1699.8,960.2 1700.7,960.6 1701.8,963.9 1705.4,967.1 1709.2,964.9 1711.2,968.3 1712.4,965.9 1713.8,965.9 1714.5,965.0 1715.8,966.3 1716.8,965.5 1717.6,966.8 1718.6,964.6 1719.3,965.1 1720.2,962.2 1721.4,960.8 1722.9,960.6 1723.7,961.7 1724.7,960.0 1725.8,960.9 1726.5,959.7 1727.3,960.1 1728.9,959.0 1730.0,957.5 1731.6,959.2 1732.4,957.7 1733.6,958.1 1734.6,955.7 1734.6,978.4 1733.4,980.1 1731.9,978.2 1730.0,982.4 1728.9,980.4 1727.1,981.7 1726.5,981.5 1725.4,983.7 1724.3,982.9 1722.2,986.3 1720.7,987.2 1717.8,986.2 1717.0,987.9 1714.6,987.2 1713.6,988.1 1711.5,986.8 1710.6,988.6 1709.2,988.7 1707.9,987.6 1706.4,989.6 1703.2,985.6 1701.9,985.7 1699.5,982.3 1698.4,978.7 1697.8,979.0 1696.4,977.1 1695.1,978.7 1694.4,978.3 1690.3,967.8 1688.9,968.2 1686.5,964.3 1685.4,965.1 1682.5,961.4 1680.8,962.0 1679.5,960.2 1677.3,959.7 1676.3,958.6 1674.8,960.5 1672.7,961.5 1671.8,963.5 1670.4,960.8 1668.7,963.8 1666.5,964.0 1664.0,967.6 1661.7,966.1 1658.5,967.0 1657.0,965.8 1655.8,966.3 1654.7,964.9 1653.0,966.7 1652.0,964.7 1650.7,966.5 1646.7,965.6 1645.8,967.2 1645.0,966.6 1644.1,968.2 1643.2,967.3 1642.2,967.7 1640.7,965.4 1640.2,966.4 1638.5,966.2 1636.9,968.4 1635.0,969.0 1633.0,971.2 1631.7,970.6 1630.8,972.6 1629.2,972.2 1626.6,976.8 1625.4,976.3 1624.7,978.8 1623.1,979.8 1622.1,982.4 1621.6,981.9 1620.8,983.0 1620.0,982.0 1619.3,982.5 1618.6,981.3 1617.5,983.9 1615.4,982.6 1614.6,983.7 1611.5,984.8 1610.4,986.9 1609.1,987.1 1608.3,986.3 1607.3,987.4 1605.3,984.4 1604.2,985.2 1603.1,983.5 1600.3,986.3 1598.7,981.8 1598.0,981.6 1597.1,982.8 1596.2,980.6 1595.1,980.1 1594.1,981.1 1592.4,977.8 1591.5,978.3 1589.6,975.6 1585.9,973.6 1584.9,974.3 1583.9,971.1 1582.5,970.5 1579.3,972.6 1577.9,969.2 1575.8,969.2 1573.6,972.0 1572.1,968.3 1570.6,971.4 1569.4,970.3 1567.6,974.0 1566.5,971.9 1565.6,973.4 1564.8,972.2 1563.3,975.1 1562.3,974.3 1560.6,976.6 1559.8,974.1 1558.8,976.9 1556.5,978.8 1555.1,978.5 1554.1,977.2 1553.1,978.8 1552.3,976.0 1551.3,978.2 1550.1,977.7 1549.1,975.6 1547.8,978.2 1546.6,975.8 1544.9,976.6 1541.9,974.8 1540.3,975.4 1538.9,973.1 1538.1,973.9 1534.9,972.3 1533.9,973.2 1532.3,969.9 1530.7,971.6 1528.7,967.9 1527.8,968.3 1527.1,966.5 1526.0,966.7 1523.1,962.9 1521.9,962.8 1520.4,960.7 1518.7,960.5 1514.9,951.5 1513.5,950.6 1512.5,947.1 1511.5,947.4 1510.8,946.3 1509.3,941.9 1507.4,942.5 1506.2,940.6 1504.9,945.4 1503.9,946.6 1503.1,946.4 1500.7,954.6 1499.7,954.8 1497.9,958.1 1495.1,967.5 1493.9,966.4 1490.0,976.7 1487.5,978.3 1481.9,990.2 1479.8,992.9 1479.0,992.8 1477.8,996.0 1476.8,995.4 1474.5,996.6 1473.9,995.9 1473.1,996.9 1472.0,995.1 1470.7,997.1 1469.8,995.7 1468.9,996.2 1467.9,994.3 1467.0,994.9 1466.1,994.3 1464.4,996.3 1463.3,995.0 1461.2,995.6 1459.7,997.9 1458.4,995.0 1455.3,995.3 1453.5,993.5 1452.7,994.5 1451.2,993.9 1450.4,995.1 1448.2,991.7 1447.2,991.3 1441.0,976.7 1439.5,975.3 1436.8,967.4 1435.9,967.8 1434.9,964.0 1434.1,963.6 1431.3,951.6 1427.4,929.9 1424.7,921.8 1421.5,916.4 1420.0,918.1 1414.7,934.0 1402.7,989.9 1399.7,998.9 1397.1,1002.6 1395.5,1007.5 1393.8,1004.6 1392.5,1005.2 1391.5,1002.3 1390.3,1001.5 1388.3,996.6 1386.8,995.2 1385.1,988.4 1383.0,985.1 1368.3,927.9 1364.8,922.2 1363.3,923.0 1361.2,927.4 1358.0,938.8 1347.9,986.3 1341.1,1007.8 1333.5,1022.8 1332.1,1024.8 1330.7,1025.5 1328.0,1030.9 1325.1,1031.9 1322.2,1029.2 1318.8,1023.0 1317.8,1024.2 1316.2,1021.2 1308.0,993.4 1302.6,967.5 1299.3,940.8 1293.8,879.2 1285.7,762.7 1282.4,739.4 1279.4,772.8 1270.7,1000.8 1268.2,1031.4 1267.2,1035.6 1265.1,1036.4 1237.4,1036.5" fill="#8db0fe" stroke="#8db0fe" stroke-width="5.0" stroke-linejoin="round" clip-path="url(#cp22)" />
<polygon points="1237.4,1036.0 1265.0,1036.0 1267.2,1035.2 1267.9,1031.8 1270.4,999.1 1278.4,773.0 1280.5,734.9 1282.4,716.1 1285.2,736.2 1295.2,874.4 1301.3,936.7 1306.2,965.5 1312.7,989.5 1315.3,996.8 1316.7,997.3 1318.4,1004.8 1320.0,1004.9 1321.3,1007.6 1322.7,1007.4 1323.6,1010.0 1324.5,1009.8 1325.5,1011.0 1327.5,1008.3 1328.6,1009.3 1332.0,1004.0 1333.8,999.0 1334.7,999.6 1343.3,980.4 1344.5,974.5 1345.9,972.1 1347.6,961.4 1351.0,950.8 1352.9,940.4 1354.4,936.7 1356.7,923.6 1360.7,908.5 1362.7,903.2 1365.4,901.6 1370.5,913.7 1376.5,939.9 1382.7,959.0 1385.1,969.5 1386.6,971.2 1388.2,977.7 1389.2,977.1 1390.8,981.9 1394.0,985.0 1395.4,982.4 1397.1,984.0 1398.3,980.1 1399.9,978.9 1403.7,965.4 1413.7,917.4 1417.0,904.7 1419.6,897.8 1420.5,897.7 1421.6,895.6 1422.4,896.2 1423.0,895.4 1424.7,902.5 1426.9,907.3 1434.2,940.3 1437.8,950.6 1440.3,954.2 1443.0,962.7 1444.9,965.4 1446.4,970.1 1448.0,972.0 1449.6,970.8 1450.6,973.3 1451.5,972.0 1452.8,972.7 1455.0,976.5 1456.0,973.7 1457.1,976.0 1458.6,974.3 1459.4,975.3 1460.6,974.0 1463.5,974.8 1464.8,973.0 1465.8,973.7 1468.0,973.4 1468.9,972.1 1471.0,974.0 1471.6,973.3 1472.5,974.6 1476.2,974.6 1477.0,975.3 1478.0,972.5 1479.2,972.6 1480.3,970.1 1481.3,969.8 1482.3,965.7 1483.2,965.5 1485.2,961.1 1487.2,960.0 1490.0,953.4 1491.4,952.7 1493.5,946.2 1496.6,942.5 1505.3,919.5 1506.3,922.2 1507.7,921.1 1508.8,922.9 1509.5,922.4 1510.3,923.7 1511.7,924.1 1514.6,932.7 1515.3,933.4 1516.0,932.9 1517.1,935.9 1520.1,937.5 1522.1,942.2 1522.8,941.8 1527.6,948.1 1528.6,947.3 1530.2,948.8 1531.9,948.7 1534.3,952.2 1536.2,952.2 1536.8,953.0 1537.4,952.2 1542.0,955.3 1543.1,954.1 1544.1,955.7 1545.2,955.1 1547.1,956.7 1548.5,954.7 1549.7,957.5 1550.8,955.3 1552.9,956.8 1555.6,954.0 1556.4,955.6 1558.8,954.2 1559.7,955.4 1560.2,954.3 1562.1,953.6 1563.0,954.1 1564.0,952.8 1565.0,953.4 1566.5,949.5 1568.2,948.0 1569.4,949.9 1570.8,947.1 1572.1,949.5 1574.0,945.0 1575.8,949.4 1577.1,948.1 1577.9,949.6 1578.9,947.5 1579.8,947.4 1581.2,950.2 1582.0,950.2 1583.3,952.1 1584.5,950.4 1587.4,954.2 1590.2,954.5 1592.4,958.0 1594.1,958.4 1595.0,960.2 1596.1,959.3 1598.7,961.3 1600.4,959.5 1603.3,963.0 1604.3,962.3 1605.2,964.5 1606.5,961.7 1607.5,963.0 1609.6,962.6 1614.1,964.2 1615.6,962.1 1616.6,963.0 1617.2,961.7 1618.5,962.9 1619.3,961.5 1620.5,961.4 1622.2,959.5 1623.1,959.6 1626.3,954.3 1627.2,954.7 1628.9,952.3 1630.2,951.4 1630.8,951.8 1632.9,948.4 1634.4,949.8 1636.6,945.4 1638.7,947.0 1640.6,947.0 1642.7,942.6 1644.1,945.2 1644.8,944.5 1648.3,946.7 1650.3,943.0 1651.3,944.9 1652.0,945.5 1652.8,944.8 1654.4,945.9 1655.4,943.8 1661.7,945.1 1664.2,941.7 1666.3,944.7 1668.1,942.3 1668.6,942.8 1669.5,941.6 1671.4,942.8 1673.2,939.1 1674.2,940.8 1675.8,937.7 1678.2,939.8 1679.0,938.5 1679.6,940.1 1680.6,938.1 1683.1,942.4 1684.1,941.8 1686.6,944.6 1688.2,943.8 1690.3,948.5 1692.2,950.1 1693.5,949.4 1694.4,950.4 1696.8,958.1 1698.9,960.3 1699.7,960.0 1701.4,964.8 1703.9,965.5 1705.0,968.4 1705.9,967.1 1707.3,968.3 1709.2,965.9 1712.6,968.4 1714.0,966.3 1715.1,967.3 1716.2,966.0 1717.2,967.0 1719.9,963.4 1721.1,959.8 1723.5,962.6 1724.2,961.7 1724.9,962.3 1725.7,961.2 1729.0,960.4 1730.0,958.3 1731.8,960.2 1734.6,956.9 1734.2,977.5 1732.5,977.3 1731.6,975.9 1730.3,979.7 1729.0,978.4 1726.9,980.1 1725.8,979.0 1724.7,980.6 1723.5,980.0 1722.1,983.5 1720.6,985.0 1718.7,983.9 1713.2,985.5 1711.5,983.6 1710.1,987.3 1705.9,984.4 1703.9,984.9 1701.9,981.7 1700.5,981.0 1697.4,975.0 1694.3,975.5 1691.1,966.8 1689.0,965.4 1685.5,960.1 1684.7,960.3 1683.1,958.9 1680.6,959.7 1676.4,956.3 1675.7,957.9 1674.1,957.4 1672.7,960.2 1672.1,959.6 1669.3,961.5 1668.0,959.8 1666.3,961.3 1664.6,965.2 1663.6,963.4 1662.4,962.9 1661.6,963.6 1661.1,962.7 1660.3,964.2 1659.1,963.7 1658.1,965.1 1657.4,965.0 1656.3,963.6 1655.4,964.2 1654.7,962.5 1653.8,963.3 1651.5,963.0 1650.6,964.8 1649.8,964.4 1648.9,965.3 1646.3,962.1 1645.5,964.1 1644.5,963.4 1643.0,967.3 1640.6,964.1 1639.2,964.8 1638.5,964.2 1636.6,966.8 1635.6,965.6 1632.9,969.0 1631.8,967.7 1630.2,971.9 1629.2,969.9 1626.1,974.6 1624.6,974.3 1622.6,978.1 1621.2,978.0 1617.7,980.9 1616.6,980.8 1616.0,982.0 1615.2,981.5 1614.5,982.9 1613.6,980.6 1612.3,982.7 1611.0,982.5 1610.4,983.8 1609.5,982.8 1607.0,983.4 1604.0,981.8 1602.2,982.5 1601.2,984.2 1597.0,977.2 1596.1,978.1 1594.1,977.8 1591.9,973.9 1590.9,974.6 1586.3,970.4 1585.3,971.3 1582.4,968.8 1579.4,970.2 1578.6,968.1 1576.9,967.8 1575.8,965.1 1574.3,968.7 1573.2,968.3 1572.1,966.3 1571.5,967.7 1570.1,967.3 1568.6,969.4 1567.9,969.2 1567.0,971.6 1566.1,969.8 1564.9,969.7 1563.8,972.3 1562.8,972.7 1561.8,972.0 1560.6,973.8 1559.8,972.2 1558.4,975.6 1557.4,975.2 1555.6,976.7 1554.4,974.2 1553.3,975.4 1552.3,974.3 1551.0,976.0 1549.3,974.2 1548.5,975.2 1547.6,974.7 1546.7,975.2 1544.7,973.2 1543.5,974.5 1541.9,971.9 1540.8,973.4 1539.1,971.2 1537.1,971.4 1536.4,970.4 1535.4,971.5 1532.3,967.7 1531.1,968.9 1530.2,966.8 1528.2,966.3 1527.2,963.6 1525.0,962.9 1523.1,960.2 1521.4,959.7 1520.5,960.5 1519.6,957.3 1517.5,955.3 1513.0,946.0 1510.7,943.5 1509.7,941.1 1506.8,940.9 1506.2,939.6 1503.9,944.7 1502.7,945.5 1500.1,952.8 1499.2,952.6 1498.2,957.2 1495.0,964.9 1493.9,964.8 1492.8,967.7 1491.6,968.6 1490.0,974.8 1488.0,976.2 1484.4,981.2 1482.6,986.6 1481.3,985.5 1480.3,988.7 1479.2,989.3 1477.8,992.6 1476.8,991.4 1475.6,993.2 1473.9,993.4 1472.2,991.8 1471.4,993.4 1469.3,993.9 1468.3,992.4 1467.1,993.4 1466.3,991.8 1464.9,994.0 1463.2,992.5 1462.3,993.8 1460.7,993.3 1459.1,994.8 1457.7,991.9 1456.6,993.1 1455.7,991.4 1454.7,992.6 1453.7,992.0 1453.0,992.9 1451.6,991.3 1449.1,991.7 1448.1,989.1 1447.1,989.1 1446.3,985.6 1444.6,984.2 1442.3,976.3 1439.9,973.5 1432.9,956.9 1430.1,941.3 1424.7,918.9 1422.5,917.3 1421.5,914.9 1420.6,915.5 1420.0,915.0 1414.7,932.4 1401.4,992.1 1399.4,995.9 1398.4,1000.3 1396.9,1001.4 1394.8,1006.3 1393.3,1002.2 1392.4,1002.1 1390.4,999.3 1388.4,994.7 1387.7,995.0 1384.3,986.0 1372.0,940.3 1371.1,934.9 1368.2,925.8 1365.3,920.0 1362.6,922.1 1359.2,931.3 1347.1,986.2 1339.8,1009.6 1336.8,1012.9 1335.0,1017.6 1334.2,1017.4 1330.6,1024.5 1328.6,1025.8 1326.8,1029.2 1325.9,1029.5 1323.9,1027.6 1321.7,1027.7 1318.5,1020.2 1317.8,1019.1 1316.9,1019.1 1315.6,1014.7 1314.6,1013.7 1310.0,996.5 1307.5,990.4 1305.9,980.7 1304.6,977.7 1300.3,948.1 1292.8,863.2 1285.5,757.3 1283.9,744.0 1282.2,737.5 1279.4,769.7 1270.6,1002.6 1268.2,1031.2 1267.2,1035.6 1265.2,1036.4 1237.4,1036.5" fill="#d6dbe8" stroke="#d6dbe8" stroke-width="5.0" stroke-linejoin="round" clip-path="url(#cp22)" />
<polygon points="1237.4,1036.0 1265.0,1036.0 1267.2,1035.2 1267.9,1031.9 1270.4,998.9 1278.6,768.0 1282.1,717.3 1285.2,735.8 1292.6,841.7 1298.0,908.0 1301.3,938.1 1306.4,966.9 1307.6,968.8 1313.0,991.4 1313.9,992.4 1315.3,997.7 1316.4,997.9 1319.5,1005.5 1320.3,1005.4 1324.8,1011.3 1326.4,1010.8 1327.4,1009.1 1328.1,1009.3 1329.4,1006.6 1330.7,1006.3 1332.2,1001.4 1333.1,1002.6 1334.2,1000.9 1337.1,994.7 1338.2,993.9 1339.8,986.8 1340.8,986.3 1342.7,982.3 1344.0,975.9 1345.9,972.4 1360.3,909.2 1362.3,903.9 1364.2,901.6 1366.8,904.7 1369.7,912.0 1377.2,942.8 1382.3,958.2 1385.1,970.7 1387.3,974.1 1388.3,979.0 1389.9,979.4 1390.9,982.8 1392.5,983.4 1393.7,985.3 1394.5,983.9 1395.3,984.6 1395.9,983.7 1397.1,984.0 1398.9,979.7 1401.0,977.0 1417.0,904.7 1419.4,898.2 1421.5,897.8 1422.5,895.5 1426.6,908.1 1430.7,927.7 1437.5,950.9 1439.4,952.7 1440.5,957.5 1443.9,962.9 1446.3,970.7 1447.2,970.4 1448.2,971.9 1449.6,971.8 1450.6,973.2 1451.3,972.6 1453.8,975.6 1456.4,974.8 1457.4,975.9 1461.7,973.8 1462.7,974.8 1464.0,973.1 1464.7,973.7 1465.6,972.6 1467.5,974.1 1468.4,972.5 1470.9,975.2 1471.6,974.5 1473.4,975.6 1475.2,974.4 1476.8,976.1 1478.2,972.4 1479.2,972.9 1480.3,970.4 1481.3,970.6 1483.8,964.5 1488.3,958.8 1490.3,953.2 1491.5,952.9 1492.8,948.8 1494.0,947.8 1495.1,942.9 1495.5,942.2 1496.7,942.3 1499.1,936.7 1504.7,920.4 1506.2,922.1 1506.9,920.7 1509.2,923.4 1510.0,923.1 1511.4,924.6 1514.0,931.5 1515.6,932.5 1517.3,935.9 1521.2,939.3 1523.2,944.9 1525.0,944.3 1528.2,949.2 1529.3,948.1 1530.8,949.5 1531.6,948.6 1532.4,951.4 1533.3,950.7 1535.0,953.2 1536.2,952.2 1538.8,954.5 1540.3,953.8 1541.5,955.9 1543.9,954.1 1545.5,956.8 1546.4,955.2 1548.6,958.9 1551.3,956.0 1552.3,957.7 1553.6,956.0 1554.4,957.6 1555.9,954.6 1556.8,955.2 1558.9,955.0 1559.8,956.0 1562.8,953.7 1565.0,953.5 1567.7,949.8 1569.4,951.1 1570.8,947.5 1572.1,949.9 1573.3,947.0 1574.9,948.1 1575.8,950.1 1576.9,948.1 1577.9,949.9 1579.2,947.9 1580.5,948.7 1582.7,952.3 1584.0,951.5 1585.1,953.0 1586.0,952.2 1587.3,955.6 1588.5,954.1 1592.2,958.5 1593.5,958.0 1595.2,961.4 1596.1,960.1 1598.7,961.2 1600.7,959.8 1604.0,964.4 1606.7,963.0 1608.5,963.8 1609.3,964.9 1610.1,963.7 1611.8,963.5 1613.1,964.6 1614.6,962.0 1616.6,963.7 1617.5,962.5 1618.5,963.5 1620.6,959.6 1621.8,959.4 1623.6,960.3 1626.4,956.6 1627.5,953.6 1628.7,954.5 1630.5,951.9 1631.7,951.9 1633.1,948.4 1633.8,948.7 1636.6,946.7 1637.4,947.3 1638.1,946.3 1640.6,946.9 1642.7,943.1 1644.5,945.8 1646.7,946.2 1648.7,945.5 1650.3,943.0 1652.0,945.9 1653.2,944.7 1655.9,944.8 1657.8,942.5 1659.8,946.2 1661.1,944.7 1662.1,945.7 1663.0,944.0 1665.0,942.7 1666.3,944.1 1668.2,941.8 1669.1,941.7 1670.4,943.7 1672.2,940.0 1672.9,941.4 1673.6,940.8 1674.7,941.3 1675.8,939.7 1677.2,939.9 1678.0,938.9 1679.0,940.8 1680.0,939.1 1681.4,939.6 1683.5,943.4 1684.4,943.0 1685.1,944.5 1685.9,943.4 1687.0,946.4 1688.2,945.4 1691.3,950.2 1692.8,949.7 1693.9,950.3 1697.4,958.5 1700.0,960.3 1702.2,965.7 1703.3,965.8 1704.8,968.1 1705.6,967.3 1706.9,969.0 1710.4,965.6 1711.5,968.2 1712.5,966.9 1714.2,968.1 1715.5,965.6 1716.3,967.3 1717.7,966.8 1721.6,960.3 1722.3,960.4 1723.5,963.2 1724.7,962.1 1725.8,962.4 1727.0,960.3 1727.5,960.8 1728.4,960.3 1729.0,961.4 1731.0,959.4 1731.9,959.9 1733.0,958.1 1734.6,957.4 1734.6,974.4 1733.4,973.7 1729.8,976.5 1728.5,974.8 1727.4,976.7 1725.3,977.1 1724.2,978.6 1723.5,977.9 1721.6,981.9 1720.4,980.9 1718.7,980.9 1718.1,981.7 1715.6,981.8 1714.5,983.3 1713.3,981.7 1712.5,983.0 1711.6,981.6 1710.0,985.0 1709.0,983.3 1707.5,982.5 1706.6,983.4 1704.8,982.8 1703.9,983.3 1702.7,979.9 1700.3,978.0 1697.9,972.7 1696.1,971.5 1694.8,972.3 1693.7,971.1 1691.3,964.8 1689.5,963.5 1688.5,961.1 1683.9,957.2 1680.4,956.3 1678.8,954.2 1676.9,955.2 1674.7,954.4 1672.9,957.3 1672.1,956.2 1671.1,957.9 1670.1,957.0 1668.1,959.7 1666.5,957.5 1664.9,961.6 1662.0,959.2 1660.7,960.7 1659.5,959.4 1658.4,962.0 1656.6,963.3 1654.4,960.1 1653.2,961.2 1652.0,960.6 1650.6,962.3 1649.8,961.5 1647.1,961.3 1646.3,960.3 1643.3,964.7 1640.7,961.6 1639.9,962.9 1639.0,962.0 1638.1,963.4 1637.1,962.7 1636.0,964.6 1634.6,962.9 1633.8,965.2 1632.9,964.8 1632.1,966.0 1631.0,965.9 1630.0,968.8 1628.3,967.8 1626.9,970.9 1625.6,971.1 1621.3,977.7 1620.3,976.1 1618.0,978.9 1617.2,978.6 1616.0,979.5 1614.2,979.0 1611.5,981.7 1608.0,979.6 1606.5,981.0 1605.5,979.0 1604.5,980.8 1603.4,979.8 1601.2,980.4 1599.8,979.3 1598.6,976.3 1597.8,976.7 1597.1,975.7 1595.8,977.2 1594.8,974.4 1593.7,976.4 1591.2,970.9 1590.4,971.3 1589.5,970.2 1588.9,970.8 1587.9,968.4 1586.6,968.6 1585.8,969.7 1583.7,967.4 1582.8,967.8 1581.9,966.2 1579.2,967.1 1577.9,961.6 1576.9,964.6 1575.4,963.3 1574.1,965.9 1573.0,964.0 1569.9,966.4 1569.1,965.5 1567.4,968.7 1565.4,967.5 1562.3,970.3 1559.8,969.2 1557.8,973.3 1556.5,973.6 1554.4,971.4 1553.7,972.4 1552.3,971.3 1551.3,973.5 1549.2,970.5 1546.8,973.2 1546.2,971.5 1545.2,971.5 1544.6,970.5 1542.2,970.9 1540.5,968.8 1539.1,968.7 1538.3,969.6 1536.8,967.0 1535.9,968.0 1535.0,966.8 1533.9,967.7 1532.3,965.6 1531.1,968.0 1529.7,963.8 1527.9,962.1 1527.1,962.6 1526.5,961.8 1525.5,962.1 1522.2,956.6 1520.9,958.8 1519.9,956.1 1515.6,950.0 1512.2,941.5 1511.0,941.2 1509.2,937.7 1507.6,936.5 1506.7,937.5 1506.2,936.5 1499.1,950.7 1495.1,961.6 1494.0,961.7 1492.8,965.8 1490.8,968.3 1489.5,972.4 1488.0,973.0 1485.5,976.6 1482.8,983.7 1481.3,984.3 1478.5,989.7 1476.7,989.8 1475.5,991.4 1474.7,990.7 1472.6,991.7 1471.1,990.4 1469.8,991.0 1469.0,990.1 1468.1,991.6 1466.1,990.2 1465.3,991.4 1464.3,990.5 1463.7,991.4 1462.4,990.0 1459.8,992.0 1458.2,988.9 1457.1,990.5 1454.7,990.2 1453.7,988.7 1453.0,990.1 1451.3,990.5 1447.0,986.4 1443.8,977.9 1441.0,972.4 1440.0,972.0 1437.8,964.8 1433.7,956.8 1430.1,937.6 1424.7,916.2 1421.5,912.1 1420.4,912.2 1414.8,929.9 1407.7,959.3 1402.9,984.7 1399.7,994.2 1397.1,997.5 1396.3,1001.6 1395.3,1001.2 1394.4,1002.3 1391.5,997.5 1389.8,995.5 1389.1,995.7 1388.2,992.2 1386.2,989.1 1376.6,956.1 1374.9,946.9 1368.0,923.0 1364.8,917.0 1361.2,921.4 1351.6,961.6 1347.5,982.6 1345.3,990.1 1343.3,993.9 1340.6,1005.1 1338.7,1006.8 1332.5,1019.5 1330.7,1020.9 1329.5,1024.5 1325.3,1027.2 1324.1,1025.1 1322.7,1024.2 1321.8,1024.6 1320.9,1021.3 1319.9,1021.5 1313.8,1009.2 1305.1,977.2 1301.5,954.5 1299.0,933.9 1294.2,878.0 1285.2,752.3 1283.4,737.6 1282.4,735.0 1280.9,745.9 1278.6,783.4 1270.6,1002.0 1268.1,1032.0 1267.2,1035.6 1265.1,1036.4 1237.4,1036.5" fill="#f5b59b" stroke="#f5b59b" stroke-width="5.0" stroke-linejoin="round" clip-path="url(#cp22)" />
<polygon points="1237.4,1036.0 1265.0,1036.0 1267.2,1035.2 1267.9,1031.9 1270.4,999.3 1278.5,771.0 1280.6,733.2 1282.2,717.6 1285.6,740.9 1295.9,884.4 1302.1,945.3 1307.1,969.3 1313.3,993.2 1315.3,999.0 1316.4,998.5 1316.8,999.0 1318.9,1005.9 1323.6,1012.0 1324.6,1011.0 1326.4,1012.0 1327.4,1010.5 1328.4,1011.6 1329.2,1008.7 1330.4,1008.6 1332.5,1001.9 1334.1,1001.5 1336.1,997.2 1337.2,996.6 1340.1,987.3 1341.1,985.9 1342.0,985.9 1345.8,973.7 1347.5,962.9 1349.3,958.7 1360.3,910.3 1362.3,904.4 1364.4,904.6 1365.3,903.8 1366.8,905.5 1370.3,914.7 1377.7,945.7 1381.8,957.3 1385.2,970.1 1388.3,979.1 1393.0,986.0 1394.9,985.6 1396.4,984.1 1397.3,984.7 1401.5,975.1 1418.4,899.8 1421.5,898.7 1422.5,897.2 1426.6,908.0 1430.6,926.8 1438.0,952.8 1440.2,954.9 1445.8,969.7 1449.2,973.2 1451.3,973.6 1452.7,975.1 1453.7,974.5 1456.6,977.7 1457.3,976.2 1458.2,976.4 1460.6,974.6 1464.3,975.8 1465.2,974.6 1466.6,974.9 1467.8,972.7 1470.6,973.6 1472.5,976.1 1473.9,975.7 1474.5,974.5 1476.6,975.6 1477.7,972.9 1479.2,974.3 1481.3,971.5 1483.2,965.2 1485.0,964.3 1486.7,960.3 1487.9,960.3 1489.6,954.8 1491.4,953.8 1492.8,949.5 1493.4,948.9 1493.9,949.3 1495.5,943.0 1496.0,942.4 1496.9,943.3 1504.4,923.0 1505.7,922.0 1506.3,923.1 1507.7,921.4 1510.2,925.3 1511.3,925.6 1513.3,931.4 1517.4,935.5 1518.2,937.5 1519.0,937.5 1519.7,939.0 1520.5,938.7 1522.5,943.8 1523.7,944.1 1524.5,946.1 1526.0,946.1 1529.7,950.4 1530.7,949.6 1532.3,951.1 1532.9,950.2 1535.0,952.9 1535.9,952.4 1538.4,955.1 1539.6,955.5 1540.8,954.8 1541.7,956.3 1543.1,955.5 1544.1,957.7 1545.0,956.0 1545.7,957.5 1548.8,956.7 1549.7,958.2 1551.0,956.6 1552.3,958.1 1553.3,957.5 1554.4,958.1 1555.9,955.5 1557.3,956.7 1558.4,955.5 1559.8,956.9 1560.6,955.8 1561.8,956.7 1562.8,953.6 1563.6,954.2 1565.7,952.8 1566.9,950.8 1569.2,950.8 1570.0,949.1 1572.1,949.7 1573.7,947.4 1574.8,949.0 1575.6,948.7 1577.4,950.5 1578.3,949.4 1580.4,949.3 1581.9,952.7 1583.2,952.4 1584.3,953.7 1586.5,952.9 1587.4,955.3 1588.5,954.6 1592.4,958.4 1593.9,958.2 1595.1,961.5 1596.1,961.4 1597.1,962.6 1599.9,960.5 1605.3,966.1 1607.0,963.8 1609.0,965.3 1610.6,963.6 1612.4,965.4 1613.9,964.6 1614.5,965.1 1615.5,963.5 1616.4,964.6 1618.1,963.7 1619.1,961.5 1619.8,962.9 1622.2,959.8 1623.2,961.8 1625.2,957.4 1627.2,956.9 1630.2,952.9 1631.5,953.0 1632.5,949.5 1634.5,950.5 1635.3,948.3 1636.9,947.4 1638.1,948.2 1640.2,947.4 1640.9,948.3 1641.8,944.8 1644.3,944.7 1645.8,947.0 1646.7,947.0 1647.7,945.7 1650.6,945.1 1652.0,947.1 1654.0,945.4 1654.9,947.0 1655.8,944.4 1656.6,944.9 1657.8,943.4 1659.5,946.8 1661.0,947.0 1664.5,942.7 1666.3,944.7 1667.2,943.6 1668.0,944.9 1669.3,942.8 1670.1,943.7 1672.9,940.9 1673.7,941.4 1675.2,939.7 1677.3,940.7 1678.5,939.0 1684.5,944.7 1685.9,943.9 1687.4,947.2 1688.7,946.4 1691.0,949.7 1693.7,952.1 1694.4,951.9 1696.9,958.9 1699.2,962.1 1700.8,962.8 1701.9,965.7 1703.3,966.1 1704.8,968.9 1705.5,968.1 1707.9,968.5 1708.7,967.7 1712.1,969.0 1714.0,967.3 1715.8,968.6 1719.4,965.3 1721.4,961.4 1723.5,963.7 1724.7,962.3 1726.0,962.6 1727.1,960.5 1729.0,962.2 1730.1,960.3 1731.8,961.2 1732.7,959.4 1734.0,959.7 1734.6,958.9 1734.6,971.5 1733.1,973.2 1731.3,971.6 1729.9,972.8 1728.9,972.0 1727.8,974.9 1726.5,975.1 1725.8,974.3 1724.5,976.3 1723.5,975.0 1721.9,978.7 1720.6,978.5 1718.6,980.0 1717.6,979.0 1716.8,980.1 1714.5,980.0 1713.6,981.0 1713.0,980.4 1712.2,981.4 1711.2,979.9 1710.0,981.6 1708.6,980.4 1707.9,982.0 1707.1,981.3 1705.8,982.8 1704.6,980.8 1703.5,981.2 1702.7,978.5 1699.0,974.0 1697.6,970.4 1695.7,969.8 1694.9,971.0 1691.3,962.4 1687.2,957.2 1685.4,956.7 1683.1,953.4 1680.8,953.7 1679.5,952.8 1677.8,953.5 1676.3,952.5 1675.2,953.4 1674.1,953.0 1672.7,954.5 1670.4,954.9 1669.1,956.3 1668.0,955.5 1667.0,956.5 1666.5,956.0 1664.0,959.3 1662.9,959.2 1662.0,957.8 1661.4,958.6 1660.3,957.8 1658.8,958.7 1657.9,960.7 1657.1,959.8 1656.3,960.5 1655.3,958.3 1654.5,959.3 1653.7,958.0 1652.8,958.9 1652.0,957.3 1651.0,960.5 1650.2,959.1 1649.3,959.6 1648.7,958.7 1647.7,959.4 1646.3,958.4 1642.2,961.7 1640.4,958.8 1639.5,960.1 1638.2,959.9 1636.7,962.8 1635.3,963.0 1634.1,961.3 1632.9,963.4 1631.7,963.2 1628.8,967.3 1628.2,966.3 1627.1,968.9 1625.7,970.7 1624.2,970.8 1621.1,975.7 1619.5,973.8 1618.2,976.8 1616.6,975.4 1616.0,976.8 1612.1,978.1 1611.0,980.1 1609.5,977.8 1607.7,979.5 1604.0,976.7 1600.3,978.7 1596.8,973.5 1595.8,973.8 1594.8,972.1 1593.2,972.9 1592.4,970.7 1591.6,971.1 1590.5,967.6 1589.4,968.6 1588.6,967.7 1587.6,968.1 1586.9,966.5 1586.0,967.2 1585.0,965.0 1583.3,964.5 1579.8,965.2 1577.9,962.1 1577.1,963.2 1575.9,961.4 1573.7,963.9 1572.1,961.1 1571.3,963.5 1570.3,964.3 1569.2,962.7 1567.0,965.7 1565.0,964.8 1563.4,968.2 1561.8,966.9 1560.6,969.3 1559.2,969.1 1558.5,970.2 1556.7,970.4 1555.9,971.2 1554.4,969.5 1551.9,970.7 1550.6,970.7 1549.5,969.0 1548.2,969.1 1547.6,970.0 1546.7,968.8 1545.9,969.7 1544.7,968.4 1544.0,968.6 1543.2,967.2 1542.1,968.5 1541.0,965.8 1538.6,968.0 1537.9,966.5 1535.7,965.0 1533.9,966.3 1532.3,962.7 1531.8,963.5 1531.1,963.2 1529.8,959.9 1528.9,962.0 1527.1,958.6 1525.3,958.9 1523.1,955.2 1522.0,955.7 1520.7,954.4 1519.7,952.1 1518.0,951.1 1516.8,948.5 1515.8,948.0 1514.5,944.3 1510.7,937.8 1506.3,934.7 1504.7,939.1 1503.8,938.6 1502.3,941.2 1501.1,946.2 1499.1,948.5 1494.9,959.6 1493.1,961.4 1489.4,970.4 1484.8,975.4 1482.7,981.9 1479.2,985.1 1478.0,988.8 1476.7,986.1 1475.7,989.0 1474.5,989.7 1471.4,987.6 1470.3,989.0 1469.4,987.6 1468.0,988.2 1467.0,986.7 1466.4,987.9 1465.4,987.6 1464.4,988.8 1463.3,987.7 1462.2,988.7 1460.9,988.4 1459.7,990.2 1458.2,987.3 1457.4,988.4 1456.1,988.3 1455.2,986.9 1454.2,987.9 1453.1,986.6 1451.5,988.4 1445.6,981.7 1439.0,964.7 1438.0,962.8 1437.0,962.5 1433.7,954.2 1425.6,917.4 1424.1,912.8 1423.2,913.0 1421.5,909.4 1420.0,911.3 1418.0,918.3 1416.3,921.2 1401.6,986.2 1395.6,1000.1 1394.2,1000.4 1390.7,993.0 1386.8,988.5 1382.7,975.7 1378.7,958.4 1376.5,953.1 1368.3,921.2 1366.8,918.9 1365.9,915.1 1363.3,914.9 1359.3,925.5 1353.4,954.4 1349.1,969.8 1347.6,979.9 1342.0,995.3 1340.1,1004.6 1339.1,1005.7 1337.9,1005.2 1332.5,1017.6 1330.9,1017.6 1329.4,1020.2 1328.6,1020.1 1327.5,1023.9 1325.6,1023.5 1324.9,1024.2 1324.1,1023.3 1323.1,1023.4 1321.7,1021.8 1320.7,1017.8 1319.4,1018.2 1318.5,1014.7 1317.3,1015.1 1312.6,1002.9 1305.5,976.2 1301.9,956.0 1298.9,930.1 1293.2,863.0 1286.2,761.5 1284.6,743.9 1282.4,732.4 1281.1,740.6 1279.3,767.8 1270.6,1001.2 1268.1,1031.8 1267.2,1035.6 1265.1,1036.4 1237.4,1036.5" fill="#e36c55" stroke="#e36c55" stroke-width="5.0" stroke-linejoin="round" clip-path="url(#cp22)" />
<polygon points="1237.4,1036.0 1265.0,1036.0 1267.2,1035.2 1267.9,1031.9 1270.4,999.4 1278.5,772.7 1281.0,728.6 1282.5,718.5 1285.8,744.4 1295.5,881.1 1300.5,933.5 1303.0,951.5 1311.2,988.1 1314.7,997.6 1315.9,999.7 1317.2,1000.4 1320.5,1010.3 1321.4,1009.3 1322.0,1010.2 1322.5,1009.7 1324.3,1013.5 1326.0,1012.3 1326.5,1012.6 1329.0,1009.5 1329.5,1010.0 1330.1,1007.3 1331.1,1007.0 1332.5,1002.9 1333.2,1003.2 1333.7,1002.7 1335.8,998.4 1336.3,998.7 1337.1,995.7 1337.9,995.5 1340.6,986.5 1341.2,986.5 1341.8,984.7 1342.3,984.7 1343.0,982.5 1343.7,982.6 1344.7,976.2 1346.3,973.0 1347.9,962.7 1349.6,958.1 1350.9,951.2 1351.7,950.0 1353.7,939.9 1354.4,939.1 1360.2,910.5 1361.2,909.5 1362.1,905.8 1362.6,906.4 1363.3,904.7 1363.8,905.6 1364.4,904.0 1364.9,904.7 1365.8,904.4 1369.4,911.4 1372.1,924.0 1375.1,934.2 1376.1,940.3 1376.9,941.1 1380.8,956.5 1383.0,960.9 1385.2,971.4 1386.8,974.4 1388.4,980.1 1389.4,980.2 1391.0,984.8 1391.4,985.3 1392.0,984.3 1393.3,984.9 1394.2,986.9 1394.9,985.5 1396.1,986.2 1397.3,985.5 1398.1,982.7 1399.7,981.2 1402.1,974.4 1408.1,944.9 1410.7,936.0 1413.2,921.6 1416.3,910.9 1417.0,905.7 1418.4,901.5 1419.6,899.7 1420.8,899.2 1421.5,899.9 1423.0,897.6 1425.4,905.7 1426.2,906.9 1429.8,925.4 1431.7,930.4 1432.3,934.7 1436.2,948.4 1437.0,949.2 1438.0,953.5 1439.2,953.9 1439.9,957.0 1440.5,957.3 1442.5,961.7 1444.3,968.2 1444.9,968.1 1445.8,970.5 1448.1,973.5 1450.0,973.1 1450.6,974.7 1451.1,973.8 1451.6,974.3 1452.2,974.0 1454.1,977.9 1454.8,976.3 1456.6,977.8 1457.6,977.4 1458.2,978.9 1459.1,975.2 1459.9,976.7 1460.6,975.8 1461.3,976.9 1462.2,974.3 1463.8,976.9 1464.4,975.2 1465.6,974.3 1466.5,975.7 1468.0,974.1 1468.5,974.8 1469.1,974.2 1469.8,975.3 1470.4,974.6 1471.0,975.9 1471.5,975.4 1473.2,977.2 1474.2,975.1 1474.9,977.2 1475.6,976.4 1477.3,977.1 1478.6,974.8 1479.2,974.9 1480.2,971.7 1481.1,970.6 1481.6,970.8 1482.3,968.0 1483.4,966.5 1484.2,966.7 1484.7,964.7 1486.9,961.3 1487.8,962.2 1489.3,956.3 1491.5,953.8 1494.9,945.7 1495.4,946.0 1496.0,944.3 1496.5,944.5 1497.2,942.0 1498.4,940.6 1501.0,930.5 1501.6,932.1 1504.2,923.6 1505.2,923.1 1505.8,924.3 1506.7,922.1 1507.2,922.5 1507.9,921.8 1509.5,926.0 1510.0,925.4 1511.4,927.6 1512.0,927.4 1512.9,930.6 1515.8,934.5 1517.4,938.9 1517.9,938.4 1518.5,939.4 1519.5,938.5 1520.0,939.3 1520.5,939.0 1521.2,941.5 1521.9,941.1 1522.7,945.0 1524.3,945.8 1525.1,948.0 1526.0,947.4 1527.0,947.8 1527.6,949.4 1528.2,948.4 1529.3,950.6 1530.3,949.8 1530.8,951.1 1531.8,951.3 1532.4,953.9 1533.8,951.3 1534.5,953.8 1535.4,953.4 1536.0,955.2 1536.9,954.5 1538.0,955.1 1538.4,954.5 1539.1,956.4 1540.1,954.9 1540.8,956.8 1541.4,956.2 1543.0,957.8 1544.1,956.5 1544.6,957.9 1545.2,956.4 1546.4,956.4 1547.0,957.9 1548.1,957.0 1549.2,958.8 1550.8,956.4 1552.3,959.9 1553.2,958.3 1554.4,958.2 1554.9,957.5 1555.6,955.3 1556.4,955.9 1556.8,955.3 1557.4,956.4 1558.2,955.4 1558.8,957.0 1559.7,957.2 1560.4,956.2 1561.8,958.1 1563.3,954.9 1564.3,955.4 1564.9,954.4 1565.4,954.5 1566.2,952.3 1567.2,952.7 1567.9,950.7 1569.4,952.2 1570.5,949.8 1572.5,950.5 1573.7,946.8 1574.8,949.4 1575.4,948.6 1575.9,950.1 1577.2,950.5 1577.9,952.6 1578.7,950.0 1579.6,949.3 1581.9,953.5 1583.0,952.2 1583.9,953.8 1584.5,952.9 1585.3,954.5 1585.8,953.7 1586.5,953.8 1587.4,956.1 1588.9,955.6 1590.2,958.1 1591.1,957.6 1592.4,960.7 1593.0,960.1 1593.5,960.9 1594.1,959.7 1596.6,962.9 1597.5,961.2 1598.5,962.9 1599.3,961.9 1601.2,961.9 1601.7,963.2 1602.3,962.6 1603.7,965.4 1604.8,965.3 1605.3,966.7 1606.0,964.7 1606.8,965.6 1607.4,964.8 1608.2,966.6 1609.3,964.3 1609.9,965.1 1610.5,963.9 1611.5,966.1 1612.9,965.7 1613.6,966.7 1614.9,963.7 1615.9,965.5 1616.7,963.5 1618.0,965.5 1619.3,963.0 1620.0,963.6 1620.8,961.4 1623.6,960.9 1625.4,958.8 1626.7,955.7 1628.2,957.1 1628.8,955.1 1629.4,955.4 1631.3,952.2 1632.3,953.1 1634.3,949.4 1635.0,951.2 1635.6,948.7 1636.5,947.8 1638.1,949.7 1639.2,948.4 1639.9,948.8 1640.4,947.8 1641.1,948.5 1641.8,945.5 1642.7,944.6 1644.0,946.6 1644.7,946.3 1645.5,947.3 1646.2,946.6 1646.7,947.7 1647.2,946.5 1648.1,947.2 1648.9,945.3 1649.8,946.5 1650.7,945.1 1652.0,948.4 1654.0,945.6 1655.3,947.2 1657.5,944.6 1658.5,945.0 1659.3,947.3 1660.3,947.5 1660.7,946.3 1661.2,947.4 1663.4,944.9 1663.9,945.3 1664.6,943.7 1666.5,945.7 1667.7,944.6 1668.5,945.5 1669.6,943.2 1670.6,944.1 1672.7,941.8 1673.6,943.0 1674.2,942.2 1674.6,942.6 1675.4,940.0 1676.3,942.2 1676.9,940.4 1677.8,939.8 1680.3,943.2 1681.0,941.4 1683.5,943.4 1684.5,945.3 1685.1,944.7 1685.6,945.7 1686.2,945.1 1687.4,947.8 1688.4,946.9 1689.3,947.9 1690.5,951.4 1691.7,950.6 1692.2,951.7 1692.8,950.2 1693.2,950.8 1693.8,950.5 1697.1,959.8 1698.4,961.8 1699.3,961.5 1701.2,966.2 1701.9,965.9 1703.6,969.2 1704.3,969.1 1704.8,969.8 1705.9,968.4 1707.3,970.2 1707.9,969.0 1710.0,967.8 1711.6,970.7 1712.4,968.7 1713.3,969.7 1714.0,968.4 1715.8,969.0 1716.8,967.5 1717.6,969.1 1718.9,966.4 1719.9,966.6 1720.7,964.0 1721.9,962.9 1723.7,965.0 1724.5,963.7 1725.7,963.7 1727.0,962.1 1727.9,962.8 1729.5,960.7 1730.9,960.2 1731.6,961.5 1732.7,959.6 1733.6,960.8 1734.6,959.7 1734.6,970.0 1733.9,969.1 1733.4,971.1 1732.4,969.1 1729.9,973.2 1729.0,969.3 1728.5,971.2 1727.4,971.0 1726.2,972.5 1725.7,972.1 1724.7,974.3 1723.8,971.3 1722.2,977.3 1721.2,978.1 1720.4,976.9 1720.1,977.6 1719.6,977.3 1719.1,978.5 1717.8,976.2 1716.8,977.0 1716.2,978.8 1715.5,979.0 1713.6,977.5 1711.7,978.4 1711.1,978.0 1709.9,979.3 1708.4,977.9 1707.8,979.2 1706.8,979.6 1706.1,978.4 1705.6,979.1 1704.8,977.3 1704.0,979.3 1703.4,976.8 1702.9,977.6 1701.4,974.1 1700.7,974.2 1699.3,972.3 1698.4,969.5 1697.6,968.4 1696.9,969.6 1696.1,966.0 1694.6,967.2 1693.8,967.1 1692.0,961.6 1690.3,958.8 1690.0,959.2 1689.3,957.5 1688.6,958.7 1687.9,954.8 1687.0,955.6 1686.4,954.1 1685.6,954.4 1684.7,952.4 1684.1,954.0 1683.5,952.2 1682.9,952.2 1682.4,951.2 1681.4,951.9 1680.0,950.8 1678.7,951.7 1678.2,950.7 1677.8,951.2 1676.2,949.9 1675.0,951.4 1674.1,950.5 1673.3,952.7 1672.2,953.5 1671.6,952.5 1671.1,953.6 1670.2,952.1 1668.7,953.6 1668.2,955.0 1667.5,953.6 1667.0,954.6 1666.5,953.8 1665.3,956.8 1663.9,955.9 1662.1,956.5 1661.2,954.7 1660.1,955.9 1659.6,957.8 1659.1,956.9 1657.5,958.7 1657.1,957.8 1656.5,958.3 1654.8,956.0 1653.7,955.6 1653.0,957.2 1652.0,955.8 1650.1,958.1 1649.4,956.9 1648.4,956.6 1648.1,957.5 1647.4,955.9 1646.2,957.6 1645.2,956.7 1644.6,958.9 1643.2,958.7 1642.6,959.9 1642.1,958.9 1641.5,958.9 1640.6,956.0 1640.0,957.4 1639.2,956.4 1638.2,956.8 1636.9,958.9 1636.1,958.3 1635.3,959.5 1634.8,959.0 1634.1,960.9 1633.3,961.6 1632.8,961.1 1632.1,961.9 1631.2,961.5 1630.2,963.7 1628.8,963.9 1626.4,967.6 1625.8,966.5 1625.1,967.1 1623.4,970.1 1622.3,970.3 1621.3,973.0 1619.2,972.2 1617.2,974.4 1616.1,973.8 1615.4,974.9 1614.7,974.1 1613.7,975.2 1613.2,975.0 1612.8,976.3 1612.1,975.6 1611.4,977.4 1610.8,976.3 1610.1,977.5 1609.4,976.8 1608.5,974.5 1607.2,977.3 1606.0,975.2 1605.4,975.8 1603.2,974.6 1602.7,975.1 1601.8,974.7 1600.9,975.9 1600.1,974.7 1599.6,976.4 1598.8,972.9 1598.3,973.1 1597.8,971.9 1597.3,972.7 1596.7,971.1 1595.8,971.7 1595.2,969.5 1594.5,971.2 1593.5,970.7 1592.5,968.0 1591.7,968.7 1590.7,966.2 1589.9,967.4 1588.0,966.3 1587.4,964.4 1586.3,964.2 1584.9,965.3 1583.9,962.9 1582.8,962.1 1581.9,961.9 1581.0,962.9 1580.3,962.0 1579.1,962.6 1577.9,959.6 1576.9,961.1 1575.8,958.8 1573.2,961.2 1572.0,958.8 1570.7,961.9 1570.1,961.2 1569.5,961.8 1568.7,960.2 1567.4,963.7 1565.4,963.3 1564.8,963.9 1564.3,963.3 1563.5,964.8 1563.0,964.5 1561.4,966.7 1560.9,966.1 1560.4,966.9 1559.8,966.3 1558.8,968.4 1557.9,967.1 1555.8,969.9 1554.4,967.6 1553.2,968.9 1552.3,966.4 1551.3,969.0 1550.1,968.0 1547.0,967.6 1546.5,966.7 1546.0,967.3 1545.4,966.3 1544.4,967.5 1543.5,967.3 1542.9,965.8 1541.1,964.7 1540.3,966.4 1538.8,963.6 1538.3,964.3 1537.8,963.9 1537.4,964.8 1536.9,963.3 1535.0,962.1 1533.9,962.8 1533.4,961.5 1531.6,962.4 1529.6,959.0 1528.8,960.1 1527.7,956.7 1527.3,957.1 1526.8,956.5 1525.7,956.6 1523.5,953.0 1522.4,954.0 1519.7,951.4 1519.1,951.8 1517.6,947.5 1516.9,947.9 1514.6,941.4 1513.9,941.0 1513.1,939.1 1512.4,939.3 1511.5,936.2 1510.8,936.4 1509.8,933.3 1508.3,932.8 1507.1,934.2 1506.2,932.2 1504.9,936.3 1503.0,937.0 1500.7,944.8 1499.5,946.1 1494.6,957.9 1493.9,957.5 1492.5,963.0 1492.0,963.2 1491.5,962.5 1489.2,968.5 1488.7,968.4 1486.3,971.8 1485.5,971.4 1484.1,976.6 1483.1,977.6 1482.1,980.2 1481.3,979.0 1479.9,983.6 1479.2,982.8 1478.5,985.5 1478.0,984.9 1477.3,986.0 1476.1,985.2 1475.1,986.2 1473.5,985.7 1472.6,986.7 1471.0,987.1 1470.4,985.6 1468.4,986.4 1467.8,985.0 1467.3,985.2 1466.3,984.1 1465.5,985.7 1464.4,986.5 1463.7,984.4 1461.8,987.8 1460.8,986.6 1459.7,987.5 1457.9,984.5 1457.3,986.1 1456.3,986.4 1455.7,985.5 1455.1,986.6 1453.6,983.9 1452.7,986.0 1452.1,984.5 1451.6,985.9 1450.7,984.0 1450.2,984.7 1449.5,983.4 1449.0,983.9 1448.0,981.1 1446.9,981.9 1446.3,979.2 1444.9,978.4 1443.3,972.3 1442.5,971.9 1440.3,966.4 1439.3,966.2 1438.0,961.0 1437.3,959.3 1435.4,957.6 1433.6,952.1 1429.3,929.7 1424.9,911.9 1424.0,911.3 1423.2,911.8 1422.4,908.6 1421.3,907.1 1418.9,912.2 1417.7,917.3 1416.9,917.4 1416.3,918.6 1406.5,961.1 1403.4,978.0 1401.9,981.3 1401.0,986.5 1399.5,989.0 1398.3,993.0 1397.3,992.3 1396.3,996.6 1394.8,997.3 1394.0,995.7 1392.8,995.8 1391.7,992.9 1390.3,993.6 1388.3,987.3 1387.7,988.4 1386.8,986.5 1385.6,980.9 1382.8,974.3 1380.3,961.9 1376.4,948.3 1375.6,947.4 1370.6,926.5 1370.0,926.4 1367.7,917.1 1366.8,916.3 1366.0,913.3 1365.2,912.5 1364.6,913.5 1363.7,913.0 1362.6,914.8 1358.6,926.7 1355.9,941.6 1351.5,958.5 1350.6,964.1 1349.6,966.3 1347.6,977.6 1346.5,981.7 1345.9,981.3 1344.4,989.7 1342.8,990.9 1340.1,1001.9 1339.1,1003.9 1338.4,1003.6 1337.0,1006.7 1336.3,1006.4 1335.8,1008.6 1333.7,1011.2 1333.0,1014.2 1331.6,1016.4 1330.7,1015.3 1330.0,1018.1 1329.0,1019.5 1328.5,1018.6 1327.7,1021.0 1327.3,1020.2 1325.3,1022.3 1324.0,1021.5 1323.4,1020.2 1322.5,1021.9 1320.7,1016.7 1319.3,1016.8 1318.1,1012.1 1316.9,1012.5 1314.9,1006.2 1313.3,1003.5 1307.5,982.7 1301.8,952.5 1298.5,924.0 1294.3,874.6 1286.0,755.3 1283.9,735.3 1282.0,730.6 1280.0,752.1 1278.9,774.1 1270.4,1003.2 1268.1,1031.8 1267.2,1035.6 1265.1,1036.4 1237.4,1036.5" fill="#b40426" stroke="#b40426" stroke-width="5.0" stroke-linejoin="round" clip-path="url(#cp22)" />
<line x1="201.7" y1="667.5" x2="201.7" y2="1063.1" stroke="#000" stroke-width="3.3" stroke-dasharray="3.4 5.1" stroke-dashoffset="-2.8"/>
<line x1="282.4" y1="667.5" x2="282.4" y2="1063.1" stroke="#000" stroke-width="3.3" stroke-dasharray="3.4 5.1" stroke-dashoffset="-2.8"/>
<line x1="338.0" y1="667.5" x2="338.0" y2="1063.1" stroke="#000" stroke-width="3.3" stroke-dasharray="3.4 5.1" stroke-dashoffset="-2.8"/>
<line x1="422.2" y1="667.5" x2="422.2" y2="1063.1" stroke="#000" stroke-width="3.3" stroke-dasharray="3.4 5.1" stroke-dashoffset="-2.8"/>
<line x1="457.1" y1="667.5" x2="457.1" y2="1063.1" stroke="#000" stroke-width="3.3" stroke-dasharray="3.4 5.1" stroke-dashoffset="-2.8"/>
<line x1="489.0" y1="667.5" x2="489.0" y2="1063.1" stroke="#000" stroke-width="3.3" stroke-dasharray="3.4 5.1" stroke-dashoffset="-2.8"/>
<line x1="546.0" y1="667.5" x2="546.0" y2="1063.1" stroke="#000" stroke-width="3.3" stroke-dasharray="3.4 5.1" stroke-dashoffset="-2.8"/>
<line x1="572.0" y1="667.5" x2="572.0" y2="1063.1" stroke="#000" stroke-width="3.3" stroke-dasharray="3.4 5.1" stroke-dashoffset="-2.8"/>
<line x1="596.7" y1="667.5" x2="596.7" y2="1063.1" stroke="#000" stroke-width="3.3" stroke-dasharray="3.4 5.1" stroke-dashoffset="-2.8"/>
<line x1="748.0" y1="667.5" x2="748.0" y2="1063.1" stroke="#000" stroke-width="3.3" stroke-dasharray="3.4 5.1" stroke-dashoffset="-2.8"/>
<line x1="828.7" y1="667.5" x2="828.7" y2="1063.1" stroke="#000" stroke-width="3.3" stroke-dasharray="3.4 5.1" stroke-dashoffset="-2.8"/>
<line x1="884.3" y1="667.5" x2="884.3" y2="1063.1" stroke="#000" stroke-width="3.3" stroke-dasharray="3.4 5.1" stroke-dashoffset="-2.8"/>
<line x1="968.5" y1="667.5" x2="968.5" y2="1063.1" stroke="#000" stroke-width="3.3" stroke-dasharray="3.4 5.1" stroke-dashoffset="-2.8"/>
<line x1="1003.4" y1="667.5" x2="1003.4" y2="1063.1" stroke="#000" stroke-width="3.3" stroke-dasharray="3.4 5.1" stroke-dashoffset="-2.8"/>
<line x1="1035.3" y1="667.5" x2="1035.3" y2="1063.1" stroke="#000" stroke-width="3.3" stroke-dasharray="3.4 5.1" stroke-dashoffset="-2.8"/>
<line x1="1092.3" y1="667.5" x2="1092.3" y2="1063.1" stroke="#000" stroke-width="3.3" stroke-dasharray="3.4 5.1" stroke-dashoffset="-2.8"/>
<line x1="1118.3" y1="667.5" x2="1118.3" y2="1063.1" stroke="#000" stroke-width="3.3" stroke-dasharray="3.4 5.1" stroke-dashoffset="-2.8"/>
<line x1="1143.0" y1="667.5" x2="1143.0" y2="1063.1" stroke="#000" stroke-width="3.3" stroke-dasharray="3.4 5.1" stroke-dashoffset="-2.8"/>
<line x1="1293.6" y1="667.5" x2="1293.6" y2="1063.1" stroke="#000" stroke-width="3.3" stroke-dasharray="3.4 5.1" stroke-dashoffset="-2.8"/>
<line x1="1374.3" y1="667.5" x2="1374.3" y2="1063.1" stroke="#000" stroke-width="3.3" stroke-dasharray="3.4 5.1" stroke-dashoffset="-2.8"/>
<line x1="1429.9" y1="667.5" x2="1429.9" y2="1063.1" stroke="#000" stroke-width="3.3" stroke-dasharray="3.4 5.1" stroke-dashoffset="-2.8"/>
<line x1="1514.1" y1="667.5" x2="1514.1" y2="1063.1" stroke="#000" stroke-width="3.3" stroke-dasharray="3.4 5.1" stroke-dashoffset="-2.8"/>
<line x1="1549.0" y1="667.5" x2="1549.0" y2="1063.1" stroke="#000" stroke-width="3.3" stroke-dasharray="3.4 5.1" stroke-dashoffset="-2.8"/>
<line x1="1580.9" y1="667.5" x2="1580.9" y2="1063.1" stroke="#000" stroke-width="3.3" stroke-dasharray="3.4 5.1" stroke-dashoffset="-2.8"/>
<line x1="1637.9" y1="667.5" x2="1637.9" y2="1063.1" stroke="#000" stroke-width="3.3" stroke-dasharray="3.4 5.1" stroke-dashoffset="-2.8"/>
<line x1="1663.9" y1="667.5" x2="1663.9" y2="1063.1" stroke="#000" stroke-width="3.3" stroke-dasharray="3.4 5.1" stroke-dashoffset="-2.8"/>
<line x1="1688.6" y1="667.5" x2="1688.6" y2="1063.1" stroke="#000" stroke-width="3.3" stroke-dasharray="3.4 5.1" stroke-dashoffset="-2.8"/>
<line x1="199.5" y1="1063.1" x2="199.5" y2="1049.6" stroke="#111111" stroke-width="3.0" />
<line x1="307.6" y1="1063.1" x2="307.6" y2="1049.6" stroke="#111111" stroke-width="3.0" />
<line x1="415.7" y1="1063.1" x2="415.7" y2="1049.6" stroke="#111111" stroke-width="3.0" />
<line x1="523.8" y1="1063.1" x2="523.8" y2="1049.6" stroke="#111111" stroke-width="3.0" />
<line x1="146" y1="959.4" x2="159.5" y2="959.4" stroke="#111111" stroke-width="3.0" />
<line x1="146" y1="882.5" x2="159.5" y2="882.5" stroke="#111111" stroke-width="3.0" />
<line x1="146" y1="805.7" x2="159.5" y2="805.7" stroke="#111111" stroke-width="3.0" />
<line x1="146" y1="728.9" x2="159.5" y2="728.9" stroke="#111111" stroke-width="3.0" />
<rect x="146" y="667.5" width="486" height="395.6" fill="none" stroke="#111111" stroke-width="3.0"/>
<line x1="745.8" y1="1063.1" x2="745.8" y2="1049.6" stroke="#111111" stroke-width="3.0" />
<line x1="853.9" y1="1063.1" x2="853.9" y2="1049.6" stroke="#111111" stroke-width="3.0" />
<line x1="962" y1="1063.1" x2="962" y2="1049.6" stroke="#111111" stroke-width="3.0" />
<line x1="1070.1" y1="1063.1" x2="1070.1" y2="1049.6" stroke="#111111" stroke-width="3.0" />
<line x1="692.3" y1="959.4" x2="705.8" y2="959.4" stroke="#111111" stroke-width="3.0" />
<line x1="692.3" y1="882.5" x2="705.8" y2="882.5" stroke="#111111" stroke-width="3.0" />
<line x1="692.3" y1="805.7" x2="705.8" y2="805.7" stroke="#111111" stroke-width="3.0" />
<line x1="692.3" y1="728.9" x2="705.8" y2="728.9" stroke="#111111" stroke-width="3.0" />
<rect x="692.3" y="667.5" width="486" height="395.6" fill="none" stroke="#111111" stroke-width="3.0"/>
<line x1="1291.4" y1="1063.1" x2="1291.4" y2="1049.6" stroke="#111111" stroke-width="3.0" />
<line x1="1399.5" y1="1063.1" x2="1399.5" y2="1049.6" stroke="#111111" stroke-width="3.0" />
<line x1="1507.6" y1="1063.1" x2="1507.6" y2="1049.6" stroke="#111111" stroke-width="3.0" />
<line x1="1615.7" y1="1063.1" x2="1615.7" y2="1049.6" stroke="#111111" stroke-width="3.0" />
<line x1="1237.9" y1="959.4" x2="1251.4" y2="959.4" stroke="#111111" stroke-width="3.0" />
<line x1="1237.9" y1="882.5" x2="1251.4" y2="882.5" stroke="#111111" stroke-width="3.0" />
<line x1="1237.9" y1="805.7" x2="1251.4" y2="805.7" stroke="#111111" stroke-width="3.0" />
<line x1="1237.9" y1="728.9" x2="1251.4" y2="728.9" stroke="#111111" stroke-width="3.0" />
<rect x="1237.9" y="667.5" width="486" height="395.6" fill="none" stroke="#111111" stroke-width="3.0"/>
<text transform="translate(164.5,315.3) scale(0.96,1)" font-size="31.0" fill="#1a1a1a" text-anchor="middle">0</text>
<text transform="translate(351.4,315.3) scale(0.96,1)" font-size="31.0" fill="#1a1a1a" text-anchor="middle">10</text>
<text transform="translate(538.3,315.3) scale(0.96,1)" font-size="31.0" fill="#1a1a1a" text-anchor="middle">20</text>
<text transform="translate(167.5,578.6) scale(0.96,1)" font-size="31.0" fill="#1a1a1a" text-anchor="middle">0</text>
<text transform="translate(344.3,578.6) scale(0.96,1)" font-size="31.0" fill="#1a1a1a" text-anchor="middle">200</text>
<text transform="translate(521.1,578.6) scale(0.96,1)" font-size="31.0" fill="#1a1a1a" text-anchor="middle">400</text>
<text transform="translate(199.5,1105.5) scale(0.96,1)" font-size="31.0" fill="#1a1a1a" text-anchor="middle">2</text>
<text transform="translate(307.6,1105.5) scale(0.96,1)" font-size="31.0" fill="#1a1a1a" text-anchor="middle">4</text>
<text transform="translate(415.7,1105.5) scale(0.96,1)" font-size="31.0" fill="#1a1a1a" text-anchor="middle">6</text>
<text transform="translate(523.8,1105.5) scale(0.96,1)" font-size="31.0" fill="#1a1a1a" text-anchor="middle">8</text>
<text transform="translate(631.9,1105.5) scale(0.96,1)" font-size="31.0" fill="#1a1a1a" text-anchor="middle">10</text>
<text x="389" y="628.4" font-size="36.0" fill="#1a1a1a" text-anchor="middle" >time <tspan font-style="italic">t</tspan> [ps]</text>
<text x="389" y="1161.2" font-size="36.0" fill="#1a1a1a" text-anchor="middle" textLength="213" lengthAdjust="spacing">distance <tspan font-style="italic">r</tspan> [Å]</text>
<text transform="translate(710.8,315.3) scale(0.96,1)" font-size="31.0" fill="#1a1a1a" text-anchor="middle">0</text>
<text transform="translate(897.7,315.3) scale(0.96,1)" font-size="31.0" fill="#1a1a1a" text-anchor="middle">10</text>
<text transform="translate(1084.6,315.3) scale(0.96,1)" font-size="31.0" fill="#1a1a1a" text-anchor="middle">20</text>
<text transform="translate(713.8,578.6) scale(0.96,1)" font-size="31.0" fill="#1a1a1a" text-anchor="middle">0</text>
<text transform="translate(890.6,578.6) scale(0.96,1)" font-size="31.0" fill="#1a1a1a" text-anchor="middle">200</text>
<text transform="translate(1067.4,578.6) scale(0.96,1)" font-size="31.0" fill="#1a1a1a" text-anchor="middle">400</text>
<text transform="translate(745.8,1105.5) scale(0.96,1)" font-size="31.0" fill="#1a1a1a" text-anchor="middle">2</text>
<text transform="translate(853.9,1105.5) scale(0.96,1)" font-size="31.0" fill="#1a1a1a" text-anchor="middle">4</text>
<text transform="translate(962,1105.5) scale(0.96,1)" font-size="31.0" fill="#1a1a1a" text-anchor="middle">6</text>
<text transform="translate(1070.1,1105.5) scale(0.96,1)" font-size="31.0" fill="#1a1a1a" text-anchor="middle">8</text>
<text transform="translate(1178.2,1105.5) scale(0.96,1)" font-size="31.0" fill="#1a1a1a" text-anchor="middle">10</text>
<text x="935.3" y="628.4" font-size="36.0" fill="#1a1a1a" text-anchor="middle" >time <tspan font-style="italic">t</tspan> [ps]</text>
<text x="935.3" y="1161.2" font-size="36.0" fill="#1a1a1a" text-anchor="middle" textLength="213" lengthAdjust="spacing">distance <tspan font-style="italic">r</tspan> [Å]</text>
<text transform="translate(1256.4,315.3) scale(0.96,1)" font-size="31.0" fill="#1a1a1a" text-anchor="middle">0</text>
<text transform="translate(1443.3,315.3) scale(0.96,1)" font-size="31.0" fill="#1a1a1a" text-anchor="middle">10</text>
<text transform="translate(1630.2,315.3) scale(0.96,1)" font-size="31.0" fill="#1a1a1a" text-anchor="middle">20</text>
<text transform="translate(1259.4,578.6) scale(0.96,1)" font-size="31.0" fill="#1a1a1a" text-anchor="middle">0</text>
<text transform="translate(1436.2,578.6) scale(0.96,1)" font-size="31.0" fill="#1a1a1a" text-anchor="middle">200</text>
<text transform="translate(1613,578.6) scale(0.96,1)" font-size="31.0" fill="#1a1a1a" text-anchor="middle">400</text>
<text transform="translate(1291.4,1105.5) scale(0.96,1)" font-size="31.0" fill="#1a1a1a" text-anchor="middle">2</text>
<text transform="translate(1399.5,1105.5) scale(0.96,1)" font-size="31.0" fill="#1a1a1a" text-anchor="middle">4</text>
<text transform="translate(1507.6,1105.5) scale(0.96,1)" font-size="31.0" fill="#1a1a1a" text-anchor="middle">6</text>
<text transform="translate(1615.7,1105.5) scale(0.96,1)" font-size="31.0" fill="#1a1a1a" text-anchor="middle">8</text>
<text transform="translate(1723.8,1105.5) scale(0.96,1)" font-size="31.0" fill="#1a1a1a" text-anchor="middle">10</text>
<text x="1480.9" y="628.4" font-size="36.0" fill="#1a1a1a" text-anchor="middle" >time <tspan font-style="italic">t</tspan> [ps]</text>
<text x="1480.9" y="1161.2" font-size="36.0" fill="#1a1a1a" text-anchor="middle" textLength="213" lengthAdjust="spacing">distance <tspan font-style="italic">r</tspan> [Å]</text>
<text transform="translate(124.3,148.3) scale(0.96,1)" font-size="31.0" fill="#4C72B0" text-anchor="end">3.5</text>
<text transform="translate(57.4,148.3) scale(1.30,1)" font-size="31.0" fill="#4C72B0">−</text>
<text transform="translate(124.3,215.6) scale(0.96,1)" font-size="31.0" fill="#4C72B0" text-anchor="end">4.0</text>
<text transform="translate(57.4,215.6) scale(1.30,1)" font-size="31.0" fill="#4C72B0">−</text>
<text transform="translate(124.3,282.9) scale(0.96,1)" font-size="31.0" fill="#4C72B0" text-anchor="end">4.5</text>
<text transform="translate(57.4,282.9) scale(1.30,1)" font-size="31.0" fill="#4C72B0">−</text>
<text x="144.6" y="84.6" font-size="34" fill="#4C72B0" style="font-family:'DejaVu Sans',sans-serif;font-weight:200">×</text>
<text x="173.6" y="84.9" font-size="32.5" fill="#4C72B0" style="font-family:'Liberation Serif',serif">10</text>
<text x="206.2" y="73.8" font-size="24.5" fill="#4C72B0" style="font-family:'Liberation Serif',serif">5</text>
<text transform="translate(124.3,412.1) scale(0.96,1)" font-size="31.0" fill="#4C72B0" text-anchor="end">3.5</text>
<text transform="translate(57.4,412.1) scale(1.30,1)" font-size="31.0" fill="#4C72B0">−</text>
<text transform="translate(124.3,479.5) scale(0.96,1)" font-size="31.0" fill="#4C72B0" text-anchor="end">4.0</text>
<text transform="translate(57.4,479.5) scale(1.30,1)" font-size="31.0" fill="#4C72B0">−</text>
<text transform="translate(124.3,546.9) scale(0.96,1)" font-size="31.0" fill="#4C72B0" text-anchor="end">4.5</text>
<text transform="translate(57.4,546.9) scale(1.30,1)" font-size="31.0" fill="#4C72B0">−</text>
<text x="144.6" y="347.4" font-size="34" fill="#4C72B0" style="font-family:'DejaVu Sans',sans-serif;font-weight:200">×</text>
<text x="173.6" y="347.7" font-size="32.5" fill="#4C72B0" style="font-family:'Liberation Serif',serif">10</text>
<text x="206.2" y="336.6" font-size="24.5" fill="#4C72B0" style="font-family:'Liberation Serif',serif">5</text>
<text transform="translate(1745,275.5) scale(0.96,1)" font-size="31.0" fill="#55A868" text-anchor="start">0</text>
<text transform="translate(1745,235.5) scale(0.96,1)" font-size="31.0" fill="#55A868" text-anchor="start">125</text>
<text transform="translate(1745,195.5) scale(0.96,1)" font-size="31.0" fill="#55A868" text-anchor="start">250</text>
<text transform="translate(1745,155.5) scale(0.96,1)" font-size="31.0" fill="#55A868" text-anchor="start">375</text>
<text transform="translate(1745,115.5) scale(0.96,1)" font-size="31.0" fill="#55A868" text-anchor="start">500</text>
<text transform="translate(1745,539.2) scale(0.96,1)" font-size="31.0" fill="#55A868" text-anchor="start">0</text>
<text transform="translate(1745,499.2) scale(0.96,1)" font-size="31.0" fill="#55A868" text-anchor="start">125</text>
<text transform="translate(1745,459.1) scale(0.96,1)" font-size="31.0" fill="#55A868" text-anchor="start">250</text>
<text transform="translate(1745,419.1) scale(0.96,1)" font-size="31.0" fill="#55A868" text-anchor="start">375</text>
<text transform="translate(1745,379.1) scale(0.96,1)" font-size="31.0" fill="#55A868" text-anchor="start">500</text>
<text transform="translate(124.5,1047.7) scale(0.96,1)" font-size="31.0" fill="#1a1a1a" text-anchor="end">0</text>
<text transform="translate(124.5,970.8) scale(0.96,1)" font-size="31.0" fill="#1a1a1a" text-anchor="end">1</text>
<text transform="translate(124.5,893.9) scale(0.96,1)" font-size="31.0" fill="#1a1a1a" text-anchor="end">2</text>
<text transform="translate(124.5,817.1) scale(0.96,1)" font-size="31.0" fill="#1a1a1a" text-anchor="end">3</text>
<text transform="translate(124.5,740.2) scale(0.96,1)" font-size="31.0" fill="#1a1a1a" text-anchor="end">4</text>
<text transform="translate(30.6,316.3) rotate(-90)" font-size="36.0" fill="#4C72B0" text-anchor="middle" textLength="362" lengthAdjust="spacing">Tot. Energy <tspan font-style="italic">E</tspan> [kJ / mol]</text>
<text transform="translate(1844,317.3) rotate(-90)" font-size="36.0" fill="#55A868" text-anchor="middle" textLength="298" lengthAdjust="spacing">Temperature <tspan font-style="italic">T</tspan> [K]</text>
<text transform="translate(84.5,994.5) rotate(-90)" font-size="36.0" fill="#1a1a1a" >RDF</text>
<text transform="translate(84.5,907.5) rotate(-90)" font-size="36.0" fill="#1a1a1a" font-style="italic">g</text>
<text transform="translate(90.5,882.5) rotate(-90)" font-size="21.5" fill="#1a1a1a" font-style="italic">Li,F</text>
<text transform="translate(84.5,843.5) rotate(-90)" font-size="36.0" fill="#1a1a1a" >(</text>
<text transform="translate(84.5,827.5) rotate(-90)" font-size="36.0" fill="#1a1a1a" font-style="italic">r</text>
<text transform="translate(84.5,809) rotate(-90)" font-size="36.0" fill="#1a1a1a" >)</text>
<text transform="translate(84.5,785.5) rotate(-90)" font-size="36.0" fill="#1a1a1a" textLength="45" lengthAdjust="spacing">[−]</text>
<text x="144.5" y="34.3" font-size="44" fill="#1a1a1a" text-anchor="start" >a)</text>
<text x="195" y="34.3" font-size="36.0" fill="#1a1a1a" text-anchor="start" >Yun et al.</text>
<text x="689.8" y="34.3" font-size="44" fill="#1a1a1a" text-anchor="start" >b)</text>
<text x="740.3" y="34.3" font-size="36.0" fill="#1a1a1a" text-anchor="start" >Wang et al.</text>
<text x="1238.6" y="34.3" font-size="44" fill="#1a1a1a" text-anchor="start" >c)</text>
<text x="1287.1" y="34.3" font-size="36.0" fill="#1a1a1a" text-anchor="start" >This work</text>
<rect x="477.7" y="112.2" width="138" height="100.5" rx="6" fill="#fff" fill-opacity="0.8" stroke="#d9d9d9" stroke-width="1.3"/>
<line x1="491.7" y1="136.7" x2="553.5" y2="136.7" stroke="#4C72B0" stroke-width="5.3" stroke-linecap="round"/>
<line x1="491.7" y1="182.2" x2="553.5" y2="182.2" stroke="#55A868" stroke-width="5.3" stroke-linecap="round"/>
<text x="583.2" y="147.7" font-size="30.96" fill="#000" text-anchor="start" font-style="italic">E</text>
<text x="583.2" y="193.2" font-size="30.96" fill="#000" text-anchor="start" font-style="italic">T</text>
<rect x="477.7" y="376.2" width="138" height="100.5" rx="6" fill="#fff" fill-opacity="0.8" stroke="#d9d9d9" stroke-width="1.3"/>
<line x1="491.7" y1="400.7" x2="553.5" y2="400.7" stroke="#4C72B0" stroke-width="5.3" stroke-linecap="round"/>
<line x1="491.7" y1="446.2" x2="553.5" y2="446.2" stroke="#55A868" stroke-width="5.3" stroke-linecap="round"/>
<text x="583.2" y="411.7" font-size="30.96" fill="#000" text-anchor="start" font-style="italic">E</text>
<text x="583.2" y="457.2" font-size="30.96" fill="#000" text-anchor="start" font-style="italic">T</text>
<rect x="1024" y="112.2" width="138" height="100.5" rx="6" fill="#fff" fill-opacity="0.8" stroke="#d9d9d9" stroke-width="1.3"/>
<line x1="1038" y1="136.7" x2="1099.8" y2="136.7" stroke="#4C72B0" stroke-width="5.3" stroke-linecap="round"/>
<line x1="1038" y1="182.2" x2="1099.8" y2="182.2" stroke="#55A868" stroke-width="5.3" stroke-linecap="round"/>
<text x="1129.5" y="147.7" font-size="30.96" fill="#000" text-anchor="start" font-style="italic">E</text>
<text x="1129.5" y="193.2" font-size="30.96" fill="#000" text-anchor="start" font-style="italic">T</text>
<rect x="1024" y="376.2" width="138" height="100.5" rx="6" fill="#fff" fill-opacity="0.8" stroke="#d9d9d9" stroke-width="1.3"/>
<line x1="1038" y1="400.7" x2="1099.8" y2="400.7" stroke="#4C72B0" stroke-width="5.3" stroke-linecap="round"/>
<line x1="1038" y1="446.2" x2="1099.8" y2="446.2" stroke="#55A868" stroke-width="5.3" stroke-linecap="round"/>
<text x="1129.5" y="411.7" font-size="30.96" fill="#000" text-anchor="start" font-style="italic">E</text>
<text x="1129.5" y="457.2" font-size="30.96" fill="#000" text-anchor="start" font-style="italic">T</text>
<rect x="1254" y="112.5" width="138" height="100.5" rx="6" fill="#fff" fill-opacity="0.8" stroke="#d9d9d9" stroke-width="1.3"/>
<line x1="1268" y1="137" x2="1329.8" y2="137" stroke="#4C72B0" stroke-width="5.3" stroke-linecap="round"/>
<line x1="1268" y1="182.5" x2="1329.8" y2="182.5" stroke="#55A868" stroke-width="5.3" stroke-linecap="round"/>
<text x="1359.5" y="148" font-size="30.96" fill="#000" text-anchor="start" font-style="italic">E</text>
<text x="1359.5" y="193.5" font-size="30.96" fill="#000" text-anchor="start" font-style="italic">T</text>
<rect x="1569.6" y="376.2" width="138" height="100.5" rx="6" fill="#fff" fill-opacity="0.8" stroke="#d9d9d9" stroke-width="1.3"/>
<line x1="1583.6" y1="400.7" x2="1645.4" y2="400.7" stroke="#4C72B0" stroke-width="5.3" stroke-linecap="round"/>
<line x1="1583.6" y1="446.2" x2="1645.4" y2="446.2" stroke="#55A868" stroke-width="5.3" stroke-linecap="round"/>
<text x="1675.1" y="411.7" font-size="30.96" fill="#000" text-anchor="start" font-style="italic">E</text>
<text x="1675.1" y="457.2" font-size="30.96" fill="#000" text-anchor="start" font-style="italic">T</text>
<rect x="410" y="684" width="206" height="55" rx="6" fill="#fff" fill-opacity="0.8" stroke="#d9d9d9" stroke-width="1.3"/>
<line x1="421" y1="708.5" x2="488" y2="708.5" stroke="#000" stroke-width="3.4" stroke-dasharray="3.4 5.45"/>
<text x="512" y="719.2" font-size="32" fill="#000" text-anchor="start" >Theor.</text>
<rect x="956.3" y="684" width="206" height="55" rx="6" fill="#fff" fill-opacity="0.8" stroke="#d9d9d9" stroke-width="1.3"/>
<line x1="967.3" y1="708.5" x2="1034.3" y2="708.5" stroke="#000" stroke-width="3.4" stroke-dasharray="3.4 5.45"/>
<text x="1058.3" y="719.2" font-size="32" fill="#000" text-anchor="start" >Theor.</text>
<rect x="1501.9" y="684" width="206" height="55" rx="6" fill="#fff" fill-opacity="0.8" stroke="#d9d9d9" stroke-width="1.3"/>
<line x1="1512.9" y1="708.5" x2="1579.9" y2="708.5" stroke="#000" stroke-width="3.4" stroke-dasharray="3.4 5.45"/>
<text x="1603.9" y="719.2" font-size="32" fill="#000" text-anchor="start" >Theor.</text>
<defs><linearGradient id="cw" x1="0" y1="1" x2="0" y2="0">
<stop offset="0.00" stop-color="#3a4cc0"/>
<stop offset="0.10" stop-color="#5876e2"/>
<stop offset="0.20" stop-color="#7b9ef8"/>
<stop offset="0.30" stop-color="#9dbdfe"/>
<stop offset="0.40" stop-color="#c0d3f5"/>
<stop offset="0.50" stop-color="#dddcdb"/>
<stop offset="0.60" stop-color="#f1cab6"/>
<stop offset="0.70" stop-color="#f6ab8d"/>
<stop offset="0.80" stop-color="#ed8467"/>
<stop offset="0.90" stop-color="#d65243"/>
<stop offset="1.00" stop-color="#b30326"/>
</linearGradient></defs>
<rect x="1861" y="668" width="35.7" height="395.3" fill="url(#cw)" stroke="#222" stroke-width="3"/>
<text transform="translate(1903.5,996.6) scale(0.96,1)" font-size="31.0" fill="#1a1a1a" text-anchor="start">100</text>
<text transform="translate(1903.5,917.8) scale(0.96,1)" font-size="31.0" fill="#1a1a1a" text-anchor="start">200</text>
<text transform="translate(1903.5,839) scale(0.96,1)" font-size="31.0" fill="#1a1a1a" text-anchor="start">300</text>
<text transform="translate(1903.5,760.2) scale(0.96,1)" font-size="31.0" fill="#1a1a1a" text-anchor="start">400</text>
<text transform="translate(1903.5,681.4) scale(0.96,1)" font-size="31.0" fill="#1a1a1a" text-anchor="start">500</text>
<text transform="translate(1997,866.5) rotate(-90)" font-size="36.0" fill="#1a1a1a" text-anchor="middle">time <tspan font-style="italic">t</tspan> [ps]</text>
</svg></body></html>
